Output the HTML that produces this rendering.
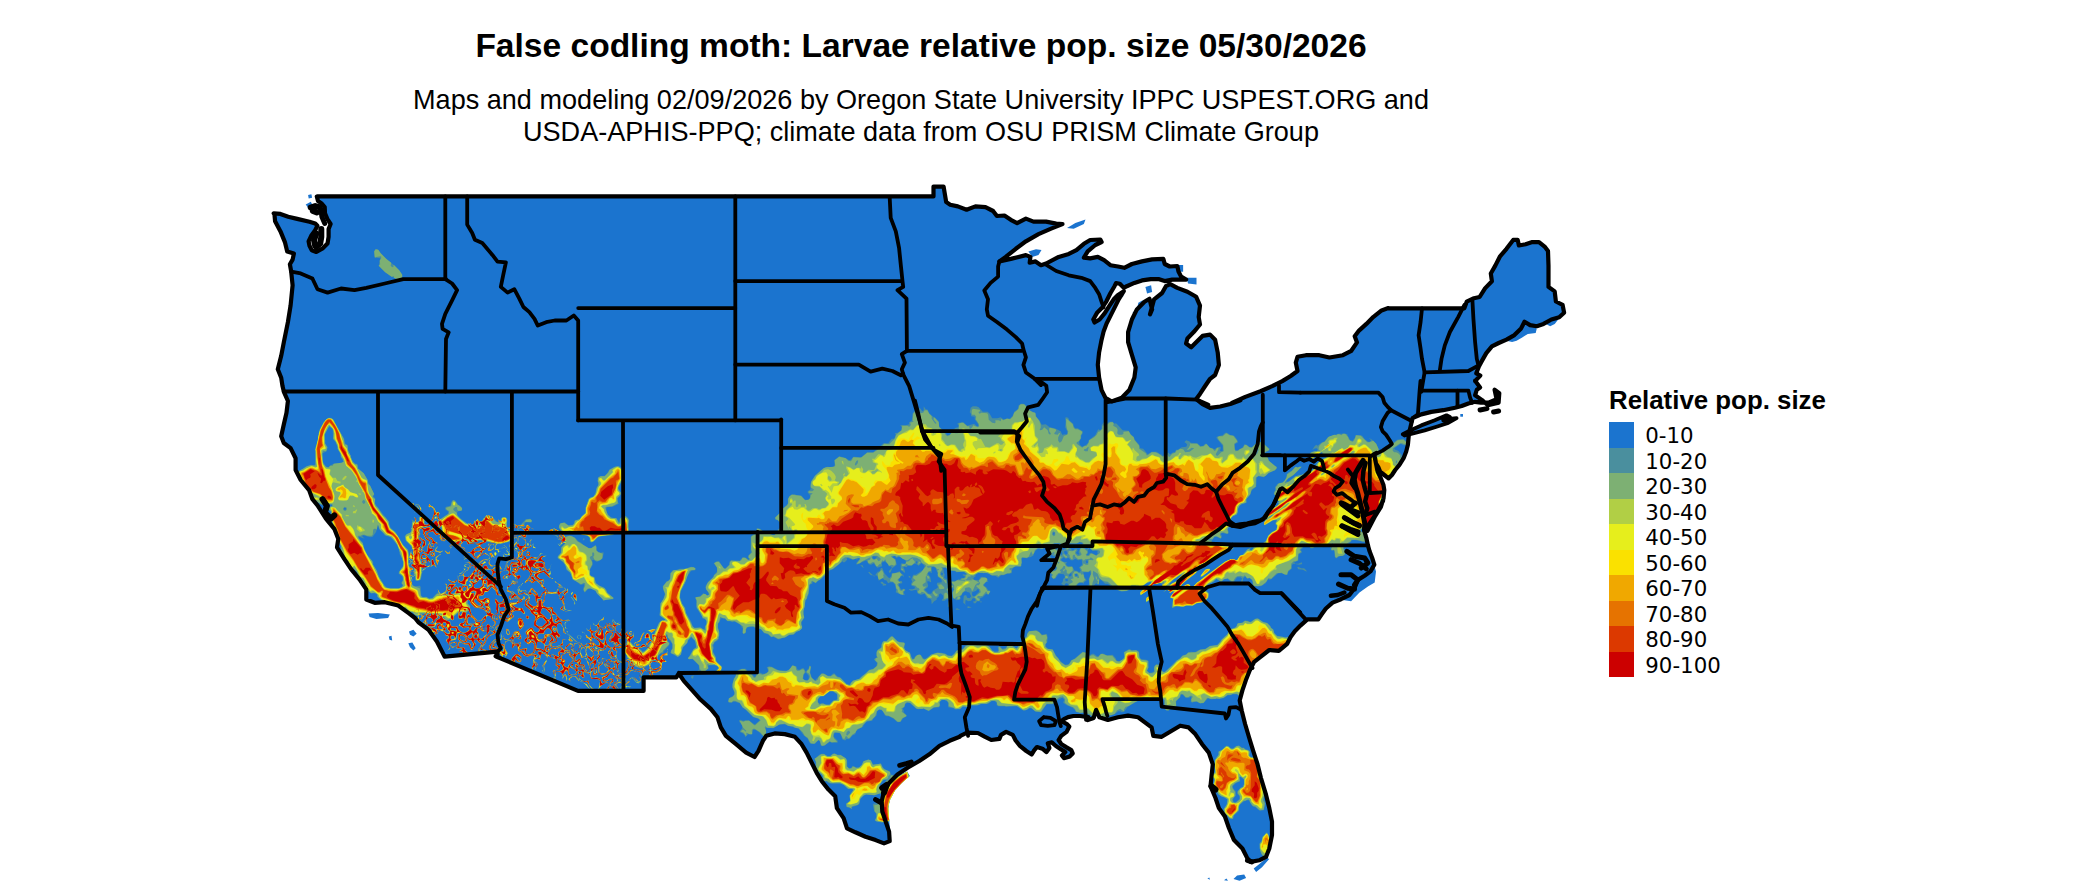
<!DOCTYPE html>
<html lang="en"><head><meta charset="utf-8"><title>False codling moth: Larvae relative pop. size</title>
<style>
html,body{margin:0;padding:0;background:#fff}
body{width:2100px;height:892px;position:relative;overflow:hidden;font-family:"Liberation Sans",Arial,sans-serif;color:#000}
.t{position:absolute;left:0;width:1842px;text-align:center;white-space:nowrap}
#title{top:27px;font-size:33.55px;font-weight:bold;line-height:38px}
#sub{top:84px;font-size:27.09px;line-height:31.5px}
#lt{position:absolute;left:1609px;top:386px;font-size:25.85px;font-weight:bold;line-height:28px;white-space:nowrap}
.sw{position:absolute;left:1609px;width:25px;height:25.6px}
.lb{position:absolute;left:1645.3px;margin-top:1.4px;height:25.5px;line-height:25.5px;font-size:21.3px;font-family:"DejaVu Sans","Liberation Sans",sans-serif;white-space:nowrap}
</style></head><body>
<div class="t" id="title">False codling moth: Larvae relative pop. size 05/30/2026</div>
<div class="t" id="sub">Maps and modeling 02/09/2026 by Oregon State University IPPC USPEST.ORG and<br>USDA-APHIS-PPQ; climate data from OSU PRISM Climate Group</div>
<svg width="2100" height="892" viewBox="0 0 2100 892" style="position:absolute;left:0;top:0">
<g transform="translate(0.2,0.8)"><polygon points="317.3,195.6 933.3,195.6 933.3,185.8 943.4,185.8 946,201.3 950,203.9 957.6,205.6 966.4,208.9 975.2,205.6 985.3,206.4 992.9,210.2 996.7,215.2 1004.2,214.7 1010.6,219 1016.9,222.3 1025.7,217.8 1033.3,220.8 1045.9,220.8 1056,222.8 1062.3,223.3 1050.9,227.8 1038.3,233.4 1025.7,240.5 1015.6,248 1005.5,256.1 999.2,260.6 1010.6,258.1 1025.7,254.3 1030.2,256.1 1029.5,261.9 1035.3,260.6 1040.8,264.4 1045.9,262.7 1058.5,256.1 1068.6,253.1 1076.2,249.3 1083.7,243 1090,239.2 1100.1,238.7 1101.4,241.2 1095.1,244.2 1087.5,250.6 1083.7,256.9 1090,257.6 1097.6,256.1 1103.9,259.4 1110.2,264.4 1117.8,265.7 1124.1,267 1131.7,263.2 1141.8,260.6 1151.9,258.6 1163.2,258.1 1164.5,263.2 1169.5,265.7 1177.1,265.2 1178.3,270.7 1180.9,275.8 1185.9,278.8 1172,278.8 1164.5,280.3 1158.2,278.3 1150.6,278.3 1141.8,279.6 1134.2,282.1 1126.6,285.4 1123.6,287.1 1119.6,282.9 1115.8,282.3 1114.3,285.4 1110.2,292.4 1106.2,300.5 1102.1,306.6 1097.1,311.6 1093.1,318.7 1094.3,321.7 1099.4,318.7 1104.4,312.6 1109.5,304.6 1113.5,298.5 1117.5,294.5 1123.6,290.4 1118.5,298.5 1114.5,306.6 1110.5,314.6 1106.4,322.7 1103.4,330.8 1101.4,338.9 1098.9,351.5 1097.6,364.1 1098.9,376.7 1101.4,389.3 1105.2,396.9 1111.5,400.7 1121.6,396.9 1129.1,389.3 1134.2,376.7 1135.5,366.6 1131.7,354 1127.9,341.4 1127.9,331.3 1131.7,318.7 1136.7,308.6 1144.3,301 1149.3,298 1151.9,308.6 1149.8,313.6 1153.9,298.5 1161.9,292.2 1165.7,285.4 1170,283.4 1177.1,287.1 1187.2,290.9 1196,296 1199.8,304.8 1198.5,316.2 1199.8,323.7 1193.5,331.3 1187.2,337.6 1185.9,342.7 1191,346.4 1196,341.4 1202.3,335.1 1209.9,333.8 1214.9,338.9 1217.5,351.5 1218.7,364.1 1214.9,374.2 1209.9,378 1204.8,385.5 1199.8,393.1 1196,398.2 1202.3,403.2 1209.9,407 1220,405.7 1230.1,403.2 1240.2,399.4 1231.7,402.1 1245.1,396.1 1260.3,390.4 1272,385.3 1282.1,380.3 1290.5,375.2 1297.3,370.2 1295.6,361.8 1297.3,356 1305.7,354.4 1319.1,354.4 1329.2,356.7 1342.7,354.4 1351.1,350 1356.8,341.6 1354.5,335.5 1358.8,329.8 1366.2,323.1 1373,316.3 1381.4,309.6 1388.1,307.3 1389.1,307.6 1464.1,307.6 1466.5,300.9 1473.8,297.4 1479.4,296.2 1485,287.3 1491.7,280.5 1490.6,272.7 1495.1,264.8 1499.6,255.9 1506.3,248 1513,239.1 1517.5,239.1 1518.7,244.7 1525.4,243.5 1532.1,241.3 1538.8,241.3 1544.4,245.8 1547.8,250.3 1548.3,264.8 1548.3,286.1 1554.5,290.6 1555.7,300.7 1562.4,304.1 1563.9,311.9 1559,316.4 1551.2,318.7 1543.3,323.1 1536.6,325.4 1529.9,324.3 1524.3,320.9 1520.9,327.6 1514.2,334.3 1506.3,338.8 1498.5,342.2 1491.7,345.6 1486.1,352.3 1481.7,360.1 1478.7,365.7 1476.1,372.5 1480.1,374.7 1474.9,380.3 1474.9,379.9 1479.9,386.7 1476.6,389 1474.9,394.4 1481.6,399.1 1487.7,404.5 1498.4,401.8 1499.1,392.4 1494.4,389 1496.4,398.4 1488.3,401.8 1480.8,401.9 1474.9,401 1468.2,402.7 1461.5,405.2 1454.8,406.9 1443,409.4 1431.2,411.1 1421.1,413.6 1412.4,417.3 1409.3,430.5 1408.5,435.5 1407.7,443.9 1406,450.6 1403.4,457.4 1399.2,464.1 1395,469.2 1391.7,474.2 1388.3,477.6 1384.1,474.2 1379.9,470.8 1378.2,466.6 1375.7,462.4 1374.9,457.4 1374,454 1375.7,462.4 1377.4,470.8 1380.7,477.6 1383.3,484.3 1384.1,489.3 1383.3,497.7 1380.7,506.2 1376.5,512.9 1372.3,519.6 1369,526.3 1367.3,530 1382.9,500 1379.5,506.7 1374.5,515.1 1367.7,525.2 1364.4,531.1 1366.1,537 1367.7,544.6 1369.4,550.5 1372,557.2 1374.1,563.9 1370.3,570.6 1364.4,574.9 1357.7,579.1 1354.3,587.5 1349.2,594.2 1340.8,598.4 1332.4,601.8 1325.7,607.7 1321.5,613.5 1318.1,618.6 1307.2,618.6 1300.5,624.5 1294.6,630.4 1290.4,636.2 1287,643 1278.6,650 1269.1,649.2 1260.7,655.9 1254,661 1249.6,669.4 1245.6,679.5 1242.2,689.6 1239.5,699.7 1239.5,699.7 1241.5,709.7 1244.9,723.2 1248.9,736.7 1253,750.1 1257.4,763.6 1260.7,777 1265.8,793.9 1269.1,807.3 1271.8,820.8 1271.8,834.2 1269.1,847.7 1265.8,856.1 1259,859.5 1250.6,861.1 1247.3,857.8 1242.2,847.7 1233.8,839.3 1228.8,827.5 1224.7,815.7 1218.7,807.3 1215.3,797.2 1210.3,785.4 1211.3,775.3 1212.6,763.6 1208.6,751.8 1201.9,743.4 1195.1,733.3 1188.4,726.6 1180,724.9 1171.6,729.9 1161.5,736 1153.1,735 1151.4,726.6 1144.7,721.5 1137.9,716.5 1127.8,714.8 1117.7,716.5 1107.7,719.2 1099.2,716.5 1095.9,709.1 1093.5,717.1 1087.5,719.2 1087.9,716.3 1079.9,715.2 1073.2,715.2 1067.8,716.3 1063.7,718.3 1061,720.3 1066.4,723 1069.1,725.7 1066.4,731.1 1061,735.1 1058.4,739.2 1061,743.2 1066.4,746.6 1071.1,749.3 1072.5,752.6 1069.1,756 1063.7,757.3 1061.7,754.6 1065.1,751.3 1061,748.6 1055.7,745.2 1051.6,741.6 1047.6,742.5 1049.2,747.2 1046.3,751.3 1042.2,747.9 1036.8,746.2 1034.1,749.3 1031.5,753.7 1026.1,750.2 1019.4,744.8 1015.3,739.4 1012.6,734.1 1005.9,731.1 1000.8,734.1 999.2,738.1 991.1,739.2 984.4,735.8 977.7,732.2 966.9,731.9 960.2,735.1 959.5,736 949.4,740 939.3,745.1 929.2,753.5 919.1,760.2 907.4,766.9 897.3,773.7 888.9,782.1 883.8,790.5 881.5,800.6 882.1,810.7 885.5,820.8 888.9,830.9 889.5,840.3 883.8,842.6 875.4,839.3 865.3,835.9 855.2,831.5 846.8,827.5 843.4,817.4 836.7,807.3 835,795.5 828.3,788.8 821.6,780.4 816.5,772 811.5,761.9 806.4,751.8 801.4,743.4 794.7,736 784.6,733.3 774.5,732.6 766.1,735 762.7,740 758.3,750.1 754.3,756.2 745.9,751.8 735.8,743.4 725.7,735 720.6,726.6 717.3,716.5 710.6,708.1 700.5,699 692.1,689.6 683.6,680.1 678.6,672.7 678.8,672.2 676.1,676.6 643.4,676.6 643.4,690.1 623.3,690.1 577.8,690.1 495.4,655.4 497.3,656.5 497.3,650.8 444.4,655.9 444.4,655.9 442.4,651.8 436.7,640.7 428.3,628.9 418.2,621.5 414.8,617.2 408.1,612.1 398,604.7 384.6,601.4 374.5,602 366.1,598.7 366.1,588.6 359.3,578.5 350.9,568.4 344.2,558.3 336.8,546.5 338.1,538.1 334.1,528 325.7,517.9 317.3,504.5 312.2,498.4 308.9,489.3 300.5,479.2 295.4,469.2 295.4,457.4 290.4,447.3 283.6,442.2 281,435.5 283.6,423.7 286.3,412 287.7,400.2 283.6,390.8 283.6,390.7 282.3,385.3 281,376.9 277.6,368.5 281,355 283.6,341.6 287.7,321.4 290.4,304.6 292.4,284.4 291,270.9 289.7,263.5 292.4,258.8 293.7,252.8 287,250.7 284.7,241.3 280.3,230.6 274.9,220.5 274.2,213.1 273.5,212.5 280.2,213.1 288,215.9 297,218.1 309.3,220.9 315,222.6 317.2,224.9 315,229.3 311,235 308.4,240.6 309.3,245 311.6,249.5 316.1,251.2 322.8,247.3 327.3,242.8 328.4,236.1 328.4,228.2 330.4,223.2 327.1,218.1 324.8,212.5 324.5,206.4 321.1,202.4 317.8,200.2 316.6,195.7" fill="#1b74cf" stroke="none"/>
<polygon points="1402.6,433.5 1411,429.1 1421.1,424.6 1434.6,419.5 1446.3,414.5 1449.7,416.2 1443,419.5 1451.4,417.8 1456.4,417.3 1448,422.1 1437.9,425.4 1424.5,429.6 1411,433 1404.3,434.7" fill="#1b74cf"/>
<polygon points="1233.3,878.3 1236.9,874.8 1244,873.6 1245.9,877.1 1239.3,880" fill="#1b74cf"/>
<polygon points="1223.8,879.5 1226.2,877.6 1227.9,880" fill="#1b74cf"/>
<polygon points="1207.2,877.6 1209.1,876.7 1209.8,879" fill="#1b74cf"/>
<polygon points="1253.5,867.6 1259.5,862.9 1266.6,857 1269,858.1 1261.8,866.5 1255.9,871.2" fill="#1b74cf"/>
<polygon points="1373.8,563.6 1375.8,570.6 1374.5,581.6 1367.7,585.8 1359.3,591.7 1350.9,600.4 1340.8,598.9 1349.2,594.2 1354.3,587.5 1357.7,579.1 1364.4,574.9 1370.3,570.6" fill="#1b74cf"/>
<polygon points="1520.9,327.6 1525.4,323.1 1532.1,325.4 1536.6,327.6 1535.5,332.1 1527.6,333.2 1522,336.6 1516.4,340 1511.9,341.1 1506.3,340 1514.2,334.3" fill="#1b74cf"/>
<polygon points="1545.6,323.1 1554.5,318.7 1559,317.5 1554.5,323.1 1550,325.4" fill="#1b74cf"/>
<polygon points="1066.8,227.2 1075.2,222.1 1085.3,218.8 1083.6,223.2 1073.5,227.9" fill="#1b74cf"/>
<polygon points="1145.2,286.1 1150.9,284.4 1151.9,291.1 1146.9,292.8" fill="#1b74cf"/>
<polygon points="1138.1,301.9 1142.5,299.5 1141.5,307.3 1136.8,308.6" fill="#1b74cf"/>
<polygon points="1132.4,311.3 1135.8,310.6 1134.1,315.3" fill="#1b74cf"/>
<polygon points="1108.9,302.9 1117.3,297.2 1122.3,292.8 1123.3,295.1 1115.6,301.9 1110.6,305.2" fill="#1b74cf"/>
<polygon points="1174.5,264.2 1182.9,264.2 1182.9,270.9 1176.2,270.9" fill="#1b74cf"/>
<polygon points="1186.2,277 1196.3,277 1196.3,283.7 1187.9,282.7" fill="#1b74cf"/>
<polygon points="1028.2,250.6 1035.8,248.5 1041.3,249.3 1038.3,254.3 1032,256.1" fill="#1b74cf"/>
<polygon points="368.4,612.8 377.8,612.1 389.6,613.8 387.9,617.2 376.2,618.2 369.4,616.2" fill="#1b74cf"/>
<polygon points="388.6,635.7 391.3,635 392,639.7 389.3,639" fill="#1b74cf"/>
<polygon points="408.8,630.6 413.2,628.9 416.5,633 413.2,635.7 409.8,634" fill="#1b74cf"/>
<polygon points="408.1,642.4 412.2,641.7 415.5,647.5 413.2,649.8 409.8,646.4" fill="#1b74cf"/>
<polygon points="1460.1,413.2 1462.8,413.2 1462.8,415.9 1460.1,415.9" fill="#1b74cf"/>
<polygon points="307.9,194.2 311.2,193.5 311.9,196.9 308.5,197.6" fill="#1b74cf"/>
<polygon points="305.5,203.6 310.6,201 312.6,205 307.9,207" fill="#1b74cf"/>
<polygon points="906.8,770.8 899.5,774.4 892.2,780.3 885.6,789.7 882,801.4 881.3,811.6 883.5,823.3 887.1,832.7 890.3,832 889,820.3 887.8,808.7 889.3,799.9 893.7,791.2 899.5,784.2 904.6,779.3 909.7,775.2" fill="#1b74cf"/>
<g><path fill="#4a8f9e" fill-rule="evenodd" d="M1267 832l-1.5 0 -0.5 1.5 -3 3 -0.5 3.5 -2 2.5 0.5 8 1.5 3.5 2 2 1.5 0 1.5 -1 4.5 -15.5 -2 -2 -0.5 -3zM884.5 790l0.5 2 -1.5 3.5 -0.5 -2zM885.5 779l0.5 0.5 -1.5 2.5 0.5 6 -1.5 1.5 -3.5 -4.5 0 -2 3 -3.5zM1240.5 776l3 2.5 0.5 4.5 -1.5 2 0 1.5 -2 0.5 -3.5 4 0 2 2 2 0.5 3 -4 3.5 -1.5 0 -1 -1 0 -2.5 2.5 -3 0 -4.5 -2.5 -3 -0.5 -2 3.5 -3.5 3.5 -1 0.5 -1 -0.5 -3.5zM814 758l1.5 3 0 4.5 1 4 5 4.5 1 1.5 0 2.5 1 2 2.5 0.5 2.5 2 11 0 4.5 2 3.5 3.5 1.5 0.5 1.5 -0.5 2.5 1 -4 6.5 1 4 -4 3.5 0.5 3.5 3 0.5 2.5 1.5 -0.5 -1.5 1 -1 4 -1 2.5 -1.5 1.5 -6 2 -2 3 -1.5 9.5 0.5 3.5 -1.5 2 0 0.5 0.5 -0.5 6 -1.5 0.5 -2 2.5 -3 0 -1.5 1.5 1.5 6.5 2 2.5 0 3.5 -1.5 3.5 5.5 1.5 9 -0.5 -1 -13.5 1.5 -8 5.5 -10.5 6.5 -7 7.5 -6.5 -2 -4.5 -7.5 3.5 -6.5 5 -6.5 8.5 -0.5 -1 2.5 -4.5 7 -7 -2.5 -1.5 -2 0 -1.5 -3.5 -5 -2 -2 -2 -1.5 -3.5 -1 -0.5 -2.5 1 -4.5 0.5 -2 -4 -2.5 -1.5 -5.5 2 -1.5 3.5 -2.5 2.5 -2.5 0.5 -4 -2 -2 2.5 -2 0 -1.5 -1.5 0 -6 -1 -2 -5.5 -4 -3 0 -3.5 -1.5 -1.5 0.5 -2 2 -2.5 0.5 -4.5 -2.5 -2 0 -2.5 1 -3 3zM1225 745.5l-2.5 3 -4.5 2.5 0.5 2.5 -3.5 5 -0.5 3.5 0.5 9.5 -3.5 2.5 0 2 2.5 2.5 0 3 -2 4.5 5 4 0.5 3 1 1 8.5 4.5 0 3 -1 3.5 -2.5 3 0 3 1.5 3 1.5 0.5 2.5 3 2.5 1 1.5 -0.5 0.5 -3 5 -4.5 0.5 -5.5 1 -1.5 3 -2.5 3.5 -1.5 2 0 3 5 1.5 1.5 2.5 0.5 2.5 2.5 2 1 3.5 -0.5 1.5 -6 0 -2.5 -1.5 -2.5 2 -6.5 -3 -7.5 0 -2 -2 -5 -3 -14.5 -3 -8 -2 1.5 -1.5 0 -2 -2 0.5 -4 -2 -1.5 -2.5 -0.5 -1.5 -1.5 -2 0 -2 -2 -3 0 -4 3 -2 -0.5 -3 -2.5zM837 693.5l0.5 1.5 -0.5 3.5 -4 1.5 -4 4 -2.5 0 -4 -1.5 -3 0.5 -2 -2 0.5 -3 1.5 -2 4 -0.5 3 -3 3.5 -2 2.5 0zM693.5 674.5l-2.5 1 0 1.5 1 1 1 -0.5zM805.5 671.5l3 3.5 0 3 -1.5 1.5 -2 0 -2 -1.5 0.5 -4zM1290.5 636l-6.5 0.5 -6.5 -1 -2.5 -2 -1.5 -2.5 -0.5 -2.5 -2 -1.5 -1 -2 -3 -3 -4.5 -1 -5 -3.5 -3.5 1 -3 2.5 -2 0 -1.5 -1 -3.5 0 -2 2 -4.5 0.5 -2 4 -5.5 2 -2.5 4.5 -6 5.5 -4 5.5 -7.5 1 -4.5 3 -6.5 1 -4.5 2.5 -3.5 -0.5 -3 0.5 -2 2 -4 1.5 -2 2.5 -4 2.5 -11 11 -2 0 -1 -1 -0.5 -2.5 -2 -3 -3.5 -1 -2 2.5 0 4.5 -3 1.5 -2 0 -2 -2 1.5 -3.5 0 -6 -2.5 -1.5 -5 -0.5 -1.5 -1.5 -0.5 -5.5 -1 -1.5 -6.5 -0.5 -1.5 -1 -1.5 0 -5 3 0.5 5 -2 2.5 -3 1.5 -2.5 -0.5 -1 -2.5 -3 -3.5 -6 0.5 -3 -1.5 -3 0 -2.5 2.5 -1 0 -3.5 -2.5 -1.5 0 -2.5 1.5 -1.5 -2 -5.5 -1.5 -9 7.5 -2.5 1 -2.5 4 -3.5 0.5 -3 -2 -5.5 -6 -4 -7.5 -4.5 -0.5 -2.5 -2 0 -2.5 1.5 -2 0.5 -4 -0.5 -3.5 -1 -1 -4 1 -4.5 -4 -2 -0.5 -7 1 -1.5 2 -0.5 3 -4 3.5 -1 2.5 -5 6 -1 0 -4.5 -3.5 -5 -0.5 0.5 2.5 -1.5 1.5 -3 0.5 -2 -2.5 -1.5 0 -1 1 0.5 4 -3.5 0.5 -2 -1 -3 -4 -2 -1.5 -11.5 -0.5 -1.5 -1 -4 0 -5.5 2 -1.5 2.5 -1.5 1 -3 0 -3 1.5 -2 3 -2.5 2 -4 -0.5 -2 -1.5 -2.5 0 -1.5 -1 -5.5 0 -5.5 2 -5 4 -2 0 -3 -4 -2 -0.5 -3 1.5 -2.5 3.5 -1.5 -1.5 -1.5 -5 -3.5 -1.5 -1.5 -1.5 -1 -2 1 -4.5 -1.5 -1 -3 0 -3 -1 -5.5 -5.5 -2 1 -4 4.5 -3 0 -1.5 2.5 -0.5 3.5 -4 3 -1 3.5 0.5 3.5 -3 2 3.5 4 -1 3 -3 2.5 -4 1 -3.5 4 -3.5 2 -3 3 -6.5 2 -3 4 -3.5 -1 -5.5 -6 -3.5 -1.5 -3 -3 -1.5 0.5 -2 2 -3 0 -3 -2 -3 -0.5 -6.5 7 -2.5 -1.5 -1 -1.5 -1.5 -5 1 -5.5 -1 -1 -1 0 -0.5 2.5 -3 3.5 -2 -3.5 -1.5 0 -2.5 1.5 -2 0 -1.5 -3.5 -4 -1 -1.5 3 -3.5 2.5 -8.5 -0.5 -7 -3.5 -2.5 -0.5 -2.5 1 1.5 3 0 1 -1.5 1.5 -2 1 -2.5 0 -1.5 -1 -3 0 -2 -1 -0.5 1 1 2 -1 2 -1 0 -3 -4 -2 0 -3.5 -4 -4 0 -4 1.5 -2 2 0 4 -2 2.5 -1.5 6 0 2.5 2 5 0 2 -1 1.5 -4.5 2.5 -0.5 4 3.5 0.5 1.5 -1 2 0 4.5 1.5 3 4.5 2.5 1.5 8 8 5 1.5 1.5 1.5 -4.5 4 -1 0 -5.5 -4 -6 0.5 -2 -1 -1.5 0.5 0 1.5 3 3.5 0 3 -2.5 3 0.5 1 2.5 1 2 2 0.5 2 3 -3 4 0 1 -4.5 2 0 4 2.5 4.5 4.5 2 0 0.5 -1 -0.5 -7.5 0.5 -0.5 7 0.5 6 -3.5 6 -0.5 2.5 1.5 11 3 5 6.5 4 3.5 1.5 3.5 1.5 1.5 4.5 0 3 -3.5 1.5 1 1 4 2 1 2.5 -1 4.5 -3.5 2 1 5.5 0 0.5 -0.5 0 -1.5 -4 -4 0 -2.5 1.5 -1.5 4 0 2 2.5 1 4 2 1 1.5 0 1 -1.5 1.5 0.5 1.5 -0.5 3 -3.5 2.5 -1 1 -3 2 -2 5 -2.5 0 -1 3 -4 6 -1 1 -2 3.5 -3.5 0.5 -4 2 -1.5 2.5 0.5 1.5 1.5 1.5 3.5 2 1 2 0 5 2.5 3 3 1.5 0.5 2.5 -0.5 2.5 -3.5 3.5 -2 0 -1 -3 -3 0 -2 -1 -1.5 2 -2 0.5 -2.5 2.5 -2 2 0.5 6.5 6 2 0.5 5.5 -0.5 5 2.5 5 -3.5 5.5 -0.5 1 -1.5 -0.5 -3.5 1 -1.5 2 -1 1.5 0 3 1.5 1 2 0 4 5.5 1 1 1 5.5 0 3 -3 4 1 5 -2 6 0 4 -1.5 6 0 3 -2.5 3 -0.5 2.5 2 0 2.5 1.5 1 7.5 0 0.5 0.5 10.5 -0.5 6 4 3 0 3.5 -2 2 0 4.5 3.5 5.5 0.5 5.5 -8 6 0 2 -1.5 1.5 1.5 1 -3.5 1.5 -1.5 3.5 -1.5 2 1.5 -1 3.5 3.5 2.5 6 2.5 2 2 0.5 1.5 1.5 1 2 0 1.5 1 3.5 -0.5 2 1.5 1 -0.5 5.5 2.5 2 0 2 -6 3 7 5.5 1 4 -2.5 6 -1.5 3.5 -3 2 0 1.5 1 2.5 -0.5 3.5 -5 11.5 -6.5 3 -0.5 1 -1 5 0.5 13.5 0 1 -0.5 1.5 1 0.5 9 1.5 1.5 2 0.5 4 -3 4 -1.5 0 -5 4 -4 1 -2.5 1.5 0 3 3 3.5 0 1.5 -1 0.5 0.5 -0.5 4.5 1.5 1 2 -1 2.5 0 3 1.5 3.5 0 5 -5 3 1 12 -1 4.5 -3 2.5 0 2.5 -1 4.5 0 3 3 5.5 -17.5 8 -17.5 15.5 -12.5 9.5 1 8.5 -7zM955.5 608l0 1 4.5 0 -3 -1.5zM967 606l0.5 1.5 4 -1 -3.5 -1zM951 600l-2 0 -1 1 -0.5 5 1.5 0 2.5 -2.5 0.5 -2.5zM1150 594.5l-3.5 2 -0.5 5 4.5 -3zM978.5 588.5l0.5 2.5 -4 4 -2 0.5 -1 -1 0 -3 4 -1.5 1 -1.5zM880.5 581l0 1.5 2 1 0 1.5 3.5 -0.5 0 -1 -2.5 -1 -1 -1.5zM1065 578.5l2 -0.5 1 1.5 -1 1 -1.5 0zM1180.5 575l-5.5 6 -5 2.5 -1 -0.5 3.5 -3.5 7 -5zM908.5 575l0 1.5 1.5 0.5 0.5 -0.5 -0.5 -1zM1074.5 573.5l2 -0.5 1 2 -2 0.5zM1071 572l0.5 2.5 -2 1.5 -1 -1.5zM941.5 571.5l1.5 1.5 -1 1.5 -1.5 -1zM1210 568l-3 0 -3 1.5 -4 6 1 1 8 -6zM942.5 567.5l3 -0.5 3.5 3.5 2.5 -0.5 3.5 0.5 1 1 7.5 -0.5 3.5 2.5 -0.5 0.5 -4 -0.5 0 1 2 1 0 1 -1.5 1 -1.5 -0.5 -2 2 -1 -0.5 -4 2 -3.5 0 1 3.5 -1.5 0.5 -3.5 -2.5 0 -3 -3 -2 0.5 -3.5 -1 -1.5 0 -3zM868 571.5l2.5 3 2 0 1.5 1.5 1 -1.5 1 0 1.5 1.5 1 4 4 -2.5 2 2 1.5 0 2 3 2 -1 2.5 0 2 2 1.5 5.5 -0.5 2.5 3 1.5 6 1.5 -1 -3.5 1.5 -1 0 -1.5 -2 -0.5 -2 1 -2.5 -4.5 0.5 -1.5 3 -0.5 0 -1.5 -1 -1 -2 0.5 -0.5 -2 3 -3.5 1 0 1.5 1.5 -1 -2.5 -2.5 -1.5 -1 -2 -4 1.5 -4 0.5 -0.5 3 -2 2 -4.5 -4.5 -2.5 -6 -1.5 0.5 -1 3 -2 0.5 -3 4 -1 0 -4.5 -4zM933.5 566l2 1.5 2 5.5 0 3 3 2 1 1.5 0 2 -4.5 0.5 -0.5 2 1 1.5 0 1.5 -5 3 -1.5 3 -2.5 0 -4 -4 3 -2.5 0.5 -1.5 -1 -4 0.5 -0.5 1.5 0 1 1 1 -0.5 -1 -5 -2.5 -3 1 -1.5 1.5 0 1.5 1 0 -6zM1297 566.5l1 2 4.5 0.5 4 2 -0.5 -1.5 -2 -2 -3 0 -3 -1.5zM860 564.5l3.5 3 -1 -3zM916 560.5l1.5 0.5 -1 2 -1 -0.5zM1087 559l1 3 -2 0.5 -0.5 -2zM1061 558.5l2.5 -2 2 1.5 3 -1 2 2.5 2.5 0 2 -1.5 3 1.5 3.5 -0.5 0.5 5 -3 2.5 1.5 3.5 -1.5 1.5 -2.5 -1.5 -2 0 -2.5 -4.5 -4.5 0 -1.5 -1.5 0 -1.5 1 -1 -4 -0.5 -2 -1.5zM872 556.5l1 -1 4 0.5 -2.5 2.5 -1 0zM1050.5 554.5l1 -0.5 1 1 3 1 -0.5 2 -2 1 -3 -3zM1061 551l1 1 0 1.5 -1 1 -1 -1.5zM1064 550.5l2 -0.5 1.5 2.5 -1.5 1.5 -1 -0.5 -1 -1.5zM1086.5 554l1.5 -2 -0.5 -2.5 2 -2.5 3 3 3 -0.5 2.5 0.5 -1 1 0.5 2 -1.5 1.5 -5 -2.5 -1.5 0.5 -1.5 2zM1253.5 547l-1.5 2 -1 0.5 -1.5 -0.5 1 -2 1 -0.5zM1084.5 547l1.5 -1.5 2 0 1 1 -2 2 -1 0zM1071 544l0 1 2 2 1 0 -1 -3zM1052.5 544l2.5 -1.5 5 0.5 2 1 3 -0.5 0.5 3.5 -2 2 -3.5 -0.5 -1 -1 -1.5 0 -1 1 -3.5 -2.5zM1079.5 553.5l-1.5 0.5 -2 -1.5 0 -1 1.5 -1.5 -1 -2 -2 0 -1 1.5 -1.5 0 -2 -2 0 -1.5 -2 -0.5 -1 -1.5 -1.5 -0.5 2.5 -1 8 0.5 3 -1.5 2.5 0.5 1 1 -4 7.5 0 1.5zM583 537.5l-0.5 2 1.5 0 0.5 -1.5zM562 537l0 1.5 3 2.5 0 1.5 -4 4 -0.5 6 -3 3 0 2 5.5 4 2 3 1.5 5 4 3 2 6.5 4 2 3.5 3 3.5 -0.5 0.5 0.5 -1 4.5 1 3 1 0 3 -3.5 3 0 4 2 1.5 2.5 5 4.5 1.5 3 3.5 -1 6.5 -0.5 0.5 -1.5 -6 -4.5 -1.5 -3.5 -2.5 -2.5 -4 -1.5 -4 -3 -1 -5 -1.5 -1.5 -2 0 -1.5 -2 0.5 -5 2.5 -4.5 -0.5 -4.5 1 -0.5 3.5 2 3 -1 3 -2.5 1 -5.5 -0.5 -0.5 -2.5 0.5 -2.5 -1 -1.5 -1.5 0 -3 -1 -2.5 -4 3 -2.5 0.5 -6 -3.5 -2 -2 -3 -1.5 -2.5 -3 -4.5 -2.5 -3.5 0zM1053.5 531.5l1 0.5 -0.5 2 -1.5 -0.5zM377.5 524.5l2 4.5 3.5 3 1.5 2.5 6 2 6 7 2.5 6 0.5 4 2 3 1.5 5 0 3.5 -4.5 6.5 0 1.5 4 3 0 3.5 -1.5 2.5 1.5 3 -2.5 2 -2 0.5 -11 -0.5 -2.5 -2 -5 -7.5 -2.5 -7 -4 -6.5 0 -2 -1 -2 -5 -6 -3 -6.5 -1.5 -5.5 -3 -3 -1 -2 0.5 -1 5.5 2 -2.5 -2.5 1 -1 7 2 2.5 -0.5 3.5 -5zM513.5 522l-1 0 -2.5 3 -0.5 1.5 0.5 2 3.5 -2 0.5 -1.5zM532 520l-2 -2 -4.5 0.5 -4.5 5 -1.5 1 -2 0 0 0.5 2.5 1 2.5 0 3 -4.5 6 0zM424 515.5l-4.5 0.5 -1 1 0.5 3 -1 1 -4 -0.5 -1.5 -1.5 -1.5 0 1 1 -1 10.5 -1.5 1.5 -3.5 1.5 -1.5 2 1.5 5 5 5 2 4.5 -1 11 1.5 4.5 0 7 1 2 1 5.5 3.5 0 1.5 -1 1 -4 0.5 -9.5 -1.5 -5.5 0 -4 -1 -3.5 0.5 -3.5 -2 -12.5 1.5 -3.5 0.5 -4.5 3.5 -1.5 1 -1.5 -0.5 -6 1 -2.5zM343.5 508l1 -1 1.5 0.5 -1 2zM439 519l0 1.5 2 4.5 1 7.5 4 6.5 2 1 5 1 13 -1 3.5 3 1.5 0 3 -3 5.5 -0.5 5 0.5 12 3 4.5 0 8 -2 2.5 -2.5 1.5 -5.5 -3 -1.5 -3.5 -6.5 0.5 -6.5 -1.5 -2 -3.5 0 -2.5 4.5 -2.5 0 -3.5 -3.5 -4 0 -1.5 -1 -3 0 -2 1 -0.5 2 -4.5 5.5 -12 -2.5 -8 -7 -1 -2 0 -2 1 -1 3.5 -0.5 0.5 -2.5 -2 -2.5 -1.5 -0.5 -4 -5 -2 0 -1 1 0 2 -1.5 2.5 -4 1 -1 1 0 1.5 3 2.5 0 2zM619 465.5l-4.5 0.5 -5.5 3 -2 3.5 -2.5 2.5 -5 0.5 -1.5 1 -0.5 1 0.5 7 -1.5 2 -1.5 6.5 -1.5 2.5 -5 2.5 -3 8.5 -0.5 6 -6 6 -4 1 -1 1 0 2 -2 2 -4 0 -3.5 -3 -4.5 1 -1 1.5 -0.5 3 3 4 10 0.5 4.5 1.5 3.5 0 2 1 6 1 2 1.5 0 4 1.5 1.5 4 -2.5 2 -2.5 3.5 -1.5 11.5 -1 5 -2.5 5 0 4.5 1 2 -1.5 0.5 -3.5 -1 -5.5 1 -2.5 -1 -2.5 -2 -2 -2 -0.5 -1.5 0.5 -3 2.5 -0.5 4 -2.5 -4.5 -5 -0.5 -3.5 -3 -1.5 -2.5 -0.5 -3 0.5 -2 6 -0.5 6 -3 -1 -2.5 0 -3 2.5 -2.5 0.5 -3.5 -2.5 -4 4.5 -9 0.5 -10zM329 425.5l3.5 3 0.5 10 2 2 2.5 6 0 2 2.5 4 0.5 3.5 3 5 -2 1 -8 1 -3 1.5 -2 2 -2.5 -0.5 -3 -4 -1 -7 0.5 -2.5 4 -2 1 -4 -2.5 -3.5 -0.5 -9zM326 418.5l-5 7 -1.5 3 -1.5 6 -0.5 5 -2.5 8.5 0.5 3.5 -0.5 12 -1 1 -2.5 -0.5 -5.5 1.5 -3 2.5 -6.5 3.5 3.5 7 8 9.5 1.5 3.5 2.5 2 -0.5 4 1.5 1.5 3.5 1.5 4.5 3.5 10 -0.5 1.5 1 -4.5 3 0 1 3 3 -0.5 6.5 3 7 1.5 6 3 6.5 0 2 3 6.5 -0.5 2 0.5 5.5 8 12.5 3 3.5 1.5 -1 3 2.5 2.5 6.5 3.5 2.5 1 2 -0.5 2 3 5 1.5 0.5 3 3 4.5 0 2 1.5 0 2 7.5 5.5 13.5 3 6 4.5 1.5 0 3 2 4.5 1 2.5 3 1.5 0 3 -2 16.5 0 1.5 0.5 1 1.5 4 1.5 2.5 3 2 0 3.5 -1.5 8 -7 5.5 1 2.5 -0.5 3 -4 0 -2.5 -2.5 -2.5 0 -5.5 -2.5 -3 -6 -2.5 -3.5 0 -6.5 2.5 -11.5 -1.5 -1.5 0.5 -4 4.5 -2.5 0.5 -4 -2 -2.5 0.5 -2 -1.5 -0.5 -9 -1 -1 -4 0.5 -2.5 -0.5 -1 -1 -2 -17 -1.5 -3.5 0.5 -8.5 -1 -5.5 -5.5 -6 -3 -6 -4.5 -6.5 -4.5 -3.5 -2.5 -7.5 -12.5 -16 -1 -2.5 0.5 -4 -2 -1.5 1 -2.5 -6.5 -13 0 -1.5 -4 -6.5 -5.5 -4.5 -0.5 -4 -1 -1 -1.5 0 -2.5 -2.5 -4.5 -11 -0.5 -5 -3 -2 -0.5 -4.5 -10 -17 -0.5 -2 -3.5 -2 -1.5 0zM1406.5 441l-3.5 -3 -6 1 -3 2.5 -4.5 1.5 -6.5 6 -4.5 2.5 -0.5 -0.5 0.5 -2.5 -2.5 -5.5 -4 -4 -3.5 -2 2.5 2.5 -1.5 1.5 -1.5 0 -3.5 -2.5 -2.5 -3.5 -1.5 -0.5 -5.5 0 0 2 -2.5 3.5 -2.5 -0.5 -3 -5.5 0.5 -0.5 -2.5 -0.5 -7 0 -10.5 3.5 -3 4 -3.5 1.5 -3.5 3 -1.5 -1 -2 2 -2 3.5 2 -1.5 2.5 -0.5 1 1 -0.5 2 -5 0.5 -2.5 2 0 1.5 2 2.5 0 1 2 -0.5 2.5 -2 2.5 0 0 -2 2.5 -2 3.5 4 2 0 0.5 0.5 -7.5 4 -3.5 4 -1.5 3.5 -5.5 4.5 -4 0 -3.5 2 -6.5 1.5 -7 5.5 -1.5 0 -0.5 -1 2.5 -2.5 4 -2.5 9 -9 -7 0.5 -3 3.5 -3 1.5 -2 2 -0.5 3.5 -1.5 2.5 -2 2 -5 1.5 -2.5 3 0 3 -1.5 4 2.5 3 1.5 3.5 1.5 1 -1.5 1.5 1 1.5 -5 3.5 -1.5 -0.5 1 -1 -0.5 -0.5 -1 0.5 -1.5 2 0.5 -0.5 1 0.5 -3 3 -4.5 2.5 1 6.5 -1 5 2 -0.5 7 -4.5 3 0 0.5 0.5 -1 1.5 0 2 1.5 1.5 -1 3.5 -1.5 1.5 -2.5 1 -4.5 4.5 -1.5 4 -3 3 -4.5 2.5 -3.5 0.5 -1 -1.5 -2.5 1 -3 3 -2 1 -1 2 -3 3 -2.5 1 -3 4.5 -7 -1 -5.5 2.5 -11.5 9 -11 7.5 -9 8 -2.5 0 -1.5 -2 -2.5 0 -5 2.5 -0.5 -2 13 -10 3 -3 0 -3.5 2 -3 1.5 0 2.5 -1.5 4.5 -0.5 5 -4 3 -1.5 5 -4.5 13 -4.5 -4.5 -3 -3.5 0 -4 -1 -4 -2 -3.5 0 -2 -1 -0.5 -1 3 -4 2 0 4 2 1 -1 0 -2 -1 -2 1.5 -1 3 1 3 0 0.5 -1.5 -1 -3.5 3.5 -4.5 0 -6 2 -2 3.5 -1.5 1 -2 0.5 -4.5 1.5 -2.5 3.5 -2.5 3.5 -0.5 -0.5 -3 1 -2 3 -3 1.5 -4.5 4.5 -3.5 0.5 -9.5 1.5 -1 5.5 1 5.5 -4.5 6 -2.5 1.5 -1.5 0 -2 -2.5 -1 -5 -5 -1.5 -3.5 -3 -2 -0.5 -1 0.5 -1.5 4 -2 1 -2 -4 -3 -2.5 -3 -5.5 -1 -5.5 5.5 -2.5 0 -3 -2.5 -2 -0.5 -2.5 3.5 -4.5 2.5 -2 0 -1 -2 0 -4 3.5 -2 -1 -2.5 -3 -4 -3.5 -0.5 -3.5 -2.5 -2 0 -2.5 2.5 -5 1 -1.5 1.5 6.5 8 0 5 -0.5 0.5 -2.5 -0.5 1 -2 0 -2 -3.5 0.5 -2.5 2 -5 -2 -3 -3.5 -1.5 0 -2 2 -2.5 0.5 -3.5 -3 -6.5 -0.5 -1.5 -1.5 -3 -1 -1.5 1.5 0 1 1 0 1.5 2 -1 2 -4.5 0.5 -4 2.5 -1.5 0 -1.5 2.5 -1.5 0 -3 2 -1 -0.5 0 -1 -1 0 -3 2.5 -3 0.5 -1 -1.5 -1 0 -3.5 -2.5 -5 0 -4 2.5 -4.5 -5.5 -3 -0.5 -1 -3.5 -4 -4.5 -1.5 -3.5 -3 -2.5 -2 -3.5 -6 -0.5 -6 -6.5 -1 -0.5 -1 0.5 -2 -2 -3.5 0 -3.5 3 -1.5 -0.5 0.5 -2 -1 0 -2 3 0 3.5 -1.5 1.5 -2 -1 -3 6 -6.5 5 -0.5 2.5 -2 2 -4 2 -2.5 -2 -0.5 -3 2 -3.5 0 -2.5 1.5 -2.5 0 -2 -5 -3 -2.5 0 -1.5 -2 -0.5 -2.5 -4 -3.5 -1 -2.5 -2 -0.5 -1 0.5 0.5 3.5 -0.5 6 2 4 0 2.5 -1 1 -1 -0.5 -3 0.5 -1.5 -3.5 -6 -3 -5 -1 -4 -3 -4 0.5 -2 -4 -3.5 -4 -0.5 -3.5 -6 -3 -3.5 -4.5 -3 -2 -2 0 -2.5 1.5 -1 4 -3.5 2.5 -1.5 4 -3 3 -2.5 -0.5 -2 1 -2 0 -2.5 -2 -3.5 1 -5 0 -2.5 -4.5 -2 -2 -5 0 -4 -4.5 -2.5 -1 -3.5 0 -2 1.5 -1 4.5 1 1 0.5 3 3.5 0.5 0 2.5 3.5 5 0 1.5 -0.5 0.5 -1.5 -0.5 -2 -2 -7 2 -4 -3.5 -4.5 0.5 -1.5 1 1.5 2 -0.5 1.5 -2.5 0.5 -2.5 2 -2 0 -0.5 0.5 1 1 -0.5 2 -1.5 1.5 -2.5 0.5 -2.5 -3.5 -5.5 -5 -0.5 -5.5 -4 -4 -1.5 -0.5 -4 -3.5 -1.5 -3.5 -2 -0.5 -2 -3 0 4 -1.5 1 -1.5 -2.5 -3.5 -1 -4.5 5.5 -1 7.5 -2.5 1.5 0 2 -3.5 1 -5.5 0 1.5 2 -0.5 3 -3.5 2.5 -3 0.5 1 1 -1 3.5 -1 1 -2 0 -3.5 4.5 -4.5 0 -10.5 9 -6 0 -6 5 -7.5 -0.5 -3 3 -1.5 0.5 -4 -2.5 -6 -1.5 -5 4 0.5 5 -1.5 1.5 -1.5 0.5 -4.5 -0.5 -4 1.5 -8 7 -4 6 -1 3.5 0.5 4.5 -3 2 0 1.5 2 2 0.5 1.5 -0.5 2 -1.5 1.5 -3.5 0 -3 -4 -5 -0.5 -2 -1 -2.5 0 -3 2 -1.5 3.5 0.5 2.5 -1 2.5 -5 4 -1.5 3.5 -5.5 5 0 2 2.5 1 2.5 3 -0.5 0.5 0.5 4 -2.5 2 -1 3 -2 2 -2.5 0 -3.5 -2 -3.5 -0.5 -6.5 -4 -2 0 -0.5 5 -3.5 1.5 -2 2 0 16 -2.5 3 0 2 1 1 -0.5 1 -3 -2 -3 -0.5 -3 3.5 -8.5 -0.5 -1.5 1 -0.5 3.5 -3.5 3.5 -2 0 -4.5 -7 -3.5 0.5 -2 1.5 3 4 0.5 4 -3.5 4 -0.5 2 -5 4.5 -2.5 4 0 3.5 2.5 3 0.5 2.5 -1.5 0.5 -4 -2 -3 3 -5 1 1.5 5 -0.5 1 0.5 5 5.5 8.5 0.5 2 1.5 0 2 1.5 0 4 -2 5.5 -4.5 -2.5 -5.5 0.5 -1.5 -1.5 -1.5 -4.5 -5 -8.5 -1 -5 -2.5 -3.5 -2.5 -6.5 0 -5.5 5.5 -11 1.5 -5.5 4 -5.5 4 -0.5 0.5 -2 -4 -1.5 -6.5 2 -5.5 0 -2 1 -5 0.5 -2.5 3 0 5.5 -2 2 -1.5 0.5 -4 5 0.5 4 1.5 2.5 0 2.5 -2 5 -2.5 3.5 -0.5 12 5.5 3.5 -1 1 -3 0.5 -2.5 2.5 -4 9 -1.5 6 -2 4 -1.5 1.5 -1 3 -3 3.5 -3 1.5 -1.5 -2 -6 -2.5 -5.5 -6.5 -3.5 -1 1 1.5 -0.5 4 -2.5 5 0 2 2.5 3 0.5 2.5 4.5 4 1.5 4 5.5 2 4.5 0 7 -3.5 2.5 -3.5 3.5 -0.5 2 -4.5 2 -2 3 -0.5 0.5 -2 5.5 -6 0.5 -2.5 -3 -2.5 -1 -2.5 1 -3 1 3 4.5 6 0 4.5 -2 4.5 7 4 1.5 0 2.5 -2.5 1.5 -6.5 4.5 -4.5 1 -3 3 -3 4 4 1 6 -2.5 1.5 -6 10 5 0.5 6 6 0.5 4 -3 3 -0.5 1.5 3.5 -3.5 2.5 3.5 7 -5.5 -0.5 -2 0.5 -1 6.5 0 2 1 1.5 1.5 -3 3 0 1 2.5 1.5 2.5 0 0 -2 1.5 -4 -1.5 -2 -3.5 -2.5 -1 -2 -0.5 -4 -3 -6 1 -2.5 -0.5 -3 1.5 -3 2.5 -1.5 1.5 -2 0.5 -8 -1.5 -4 0.5 -3 1.5 -2 1 -3.5 3.5 0 3.5 3 2.5 0 2 1 2 -1 6 3.5 1.5 2 0 1.5 0.5 -0.5 0.5 0.5 0 5 0.5 0.5 1.5 0 1 -1 0.5 -3.5 1.5 -2 5.5 -0.5 1.5 1 6 1.5 3.5 4 3.5 1 3.5 3 2 -0.5 4.5 2.5 2.5 0 1.5 -1 3 -0.5 5 -3 3.5 0 3.5 -3 3 -1 2.5 -3 -1 -5 3 -4.5 -0.5 -7.5 2 -10.5 1 -1 2 -5.5 1 -9 2.5 -1 0.5 -2 3 1.5 2.5 -2.5 3.5 -2 8.5 -8.5 3.5 -1.5 9 -7.5 0.5 1 1.5 0 2.5 -2.5 -0.5 -1.5 0.5 -0.5 5.5 2 3 -1 1.5 1 0.5 -1.5 1.5 0 0.5 0.5 -3.5 4.5 0.5 1.5 9.5 -4.5 2.5 4 2.5 0.5 2.5 -1.5 3.5 4.5 5 -1.5 -0.5 -3.5 3 -1.5 3 2.5 1 2.5 2 0 1 1 0 1 -3 3 0.5 1.5 1.5 -0.5 1.5 -4 4.5 -3.5 -1 -5.5 -3 -1.5 0 -1 2 -1 1.5 2 3.5 -1 6 4 0 2 -1 1 -3 -0.5 -1 1 0 6 1.5 0.5 2 2 1 -0.5 -1 -3.5 -1 -1 1 -1 2.5 0.5 1 -1.5 4 0 2.5 -2 1.5 0 3 2 2.5 -2.5 1 0 2.5 3 -2 4 -7 4.5 -2.5 0 -2 4.5 1 2.5 -1 1.5 0 2 1.5 1 1.5 0 1 2 -2.5 1 -3.5 0 -0.5 0.5 2.5 1 5.5 -1 0.5 3 1 1 2.5 1 4 -1 2.5 4.5 2 0 2 1.5 0.5 4.5 2.5 -3 2.5 -1.5 0 -1.5 2 -1.5 0.5 -2.5 1.5 -1 2.5 2.5 0 2.5 -1.5 2 0.5 0.5 2.5 0 2 -1.5 1.5 0 1 -1 -0.5 -5.5 1 -1 0 -2 1.5 -1.5 1.5 0 1 1 -1.5 3.5 0.5 4.5 1.5 2 0.5 -0.5 1.5 1.5 3.5 -0.5 1 -1 -0.5 -2.5 1.5 -1 0.5 -1.5 2 -2 2 -0.5 1.5 1 1.5 0 2 4 -1.5 2 -2.5 -0.5 -1 -2.5 -1.5 0 -1 1 -0.5 6.5 3 2.5 -1 -1.5 0.5 -4 2.5 1.5 3 -0.5 1.5 -2.5 2 0 1 2 -1 1 -1.5 0 0.5 2 2 0 1.5 -2 3 0 0.5 1.5 1.5 -1 -2 -0.5 0 -3 2.5 -1 3.5 -3.5 2 1 2 -3 0 -1 -2 -0.5 -1.5 -2.5 -3 -2.5 2 -3 1.5 -0.5 1.5 0.5 -1 -1 0 -2 -2.5 -2 -3.5 -0.5 -1.5 1 -1.5 2.5 -5 -0.5 -0.5 -0.5 0.5 -1.5 2.5 -2 -1.5 -0.5 4 -2.5 9 0.5 4.5 2.5 3 0 3 2 3 -2.5 2.5 0 3.5 -1.5 4.5 -0.5 0.5 -4 1 -1.5 3 -1.5 4 0.5 1.5 -1 -0.5 -1 0.5 -6 1 -1 4.5 0.5 1.5 -1 1.5 0 3 -1.5 1.5 -4 3 -3 5.5 0 3 -3 3.5 -1 0.5 0.5 -0.5 3 -2.5 0 -0.5 -1 -1 1 3.5 4.5 -1.5 1 -3 0.5 -0.5 2.5 3.5 0.5 0.5 0.5 -0.5 1.5 4 3.5 1 0 3.5 4.5 0 1.5 -1.5 1.5 -4 1 -0.5 1.5 1.5 2 -0.5 2 2 2 2 0 3.5 -5 5 0.5 1 1.5 0 2 -1.5 1 -0.5 3 -1.5 2 3 2 1.5 -2.5 1.5 0 1.5 1.5 -2 2 11 2.5 1.5 -2 -2 -1 0 -1.5 2 -2 3 0 1.5 1 0.5 -1.5 2.5 -2 -2.5 -3.5 0 -2 -1 -2 0.5 -0.5 5 0 1.5 -1 0.5 3 -2 4.5 0.5 6 -3.5 2 1.5 2.5 1.5 0 1 -1.5 2.5 0.5 1 1 1.5 -2 -1 -1.5 2.5 -2.5 2 1.5 0.5 -0.5 1 -5.5 5.5 5 2 0 2 1 3 4 3.5 0.5 4.5 2 5 0 3.5 -1 3.5 -2 2 0 2 1.5 1.5 0 9.5 -7 3.5 -1 0.5 0.5 -1.5 2.5 -5 3 -4.5 4 0.5 3.5 11 -7.5 1 -1 -1 -1.5 1 -1 9 -1 0.5 2.5 -2 3.5 4.5 -2 1.5 1 -0.5 1.5 -2.5 2 1 0 2.5 -2 2.5 0.5 1 1 -0.5 1 0.5 1 2.5 -2 1.5 0.5 -3.5 4.5 0 1.5 2.5 1 -1.5 7.5 0.5 1.5 1.5 0 2.5 -1.5 7.5 0.5 2.5 -1 5.5 0.5 5.5 -3 4 -0.5 3.5 -1.5 3.5 -3.5 0.5 -4.5 -1 -1.5 -2.5 -1.5 0 -2 3 -4 5 -2.5 3 -3 4 3 1.5 0 2.5 -2.5 3.5 -0.5 3.5 3.5 2 0.5 4 -5.5 3.5 0 1.5 1.5 -1 1.5 0 2 1.5 0 0.5 -4 2 -2 2 2.5 2.5 -0.5 2.5 2 0.5 5 1 1 7 0 5 -3 2.5 -4 1.5 0.5 1.5 -0.5 7 -6 3.5 0 3.5 1.5 2.5 0 0.5 -3 3.5 -3 0 -3 1 -1.5 1 -0.5 5.5 1 2.5 -0.5 0.5 -1 -0.5 -1 -3.5 1.5 -3 0 -1 -1.5 4 -1.5 0.5 -6.5 3 -1.5 0 -1.5 -1 -1.5 2.5 -2 0 -1.5 1.5 -2 3 1 3 3 2 0 2 -1 7.5 0 6.5 -1.5 2 2 0 1.5 1 1.5 1.5 -0.5 1 0.5 0.5 6 1 1.5 1 0 2.5 -2 4 -0.5 1.5 -1 0.5 -3 -1.5 -4 2 -1 7 -7 7 1 3.5 1.5 2.5 -0.5 1 -2.5 -2 -7 -3 -0.5 -1 -1.5 2 -2.5 4.5 -1.5 4.5 -6 0.5 1 -2.5 4.5 1 -0.5 4 -8.5 6 -10 0 -5.5 3.5 -7.5 -0.5 -9 -6 -12.5 -1.5 -6.5 0.5 -0.5 1 1 2.5 5.5 8.5 6.5 13 -17 0.5 -4.5 -0.5 -2 -3.5 -4 -3 -1 -1 -1.5 6.5 -4.5 3 1.5 2.5 0zM375.5 248.5l-1.5 2 0.5 6 0.5 1 1 -0.5 4 0.5 -1.5 7.5 6.5 6.5 5.5 4 7 3 3.5 -1 1 -1.5 0 -2 -3 -4.5 -5 -5 -7.5 -6 -6 -6 -2.5 -3.5z"/>
<path fill="#7db073" fill-rule="evenodd" d="M1266.5 832l-4 4 -1 4.5 -2 2.5 0 4.5 1 3.5 1.5 3 2 1.5 2.5 -1 4.5 -15 -1.5 -1 -1 -4zM884.5 790l0.5 2 -1.5 3.5 -0.5 -2zM1240 775.5l4 3 0 5 -1 2.5 -3 1.5 -2.5 3.5 0.5 2 2 2.5 -0.5 3.5 -4 3 -1.5 0 -1.5 -1 -0.5 -2.5 3 -3.5 0 -3.5 -3 -4.5 0 -2 2.5 -2.5 5 -2.5 -0.5 -3.5zM814.5 758l1.5 3.5 0 5.5 1 3 4.5 3.5 1 1.5 1 4.5 2 1 1 -0.5 4 2.5 9.5 0 3.5 1.5 4.5 4 4 0 1.5 1 -4 5.5 0.5 5 -1 1.5 -3 2 0.5 3 2.5 0.5 2.5 1.5 -0.5 -1.5 1 -1 5.5 -1.5 1.5 -1.5 1 -4.5 3.5 -3.5 2.5 -1 8 1 7.5 -2.5 0.5 2.5 -1 2 0 3 -2 1.5 -1.5 3 -3.5 0.5 0.5 6 2 2.5 0 3 -1.5 3.5 1 1 5.5 1 5 0 2.5 -1 -1 -13 1.5 -8 5.5 -10.5 6.5 -7 7 -6 0 -2 -1.5 -3 -7.5 3.5 -6.5 5 -6.5 8.5 -0.5 -1 2.5 -4.5 6.5 -6.5 -3.5 -1.5 -1 1 -0.5 2.5 -2 2 -2 0.5 -1 1.5 0.5 6 -2 3 -1 -1 0 -1.5 -3 -2.5 -0.5 -1.5 4 -5.5 4 -1 1 -1 0 -1.5 1.5 -1.5 0.5 -2 -0.5 -1 -5.5 -2.5 -1.5 -1.5 -2 -4 -8 1 -2 -4.5 -2.5 -0.5 -4.5 1.5 -2 4 -3 2.5 -3 0 -1.5 -1 -1.5 0 -1 1.5 -2.5 0.5 -2.5 -2.5 0 -6 -1 -2 -5 -3 -3 0 -3 -1.5 -2 0.5 -2.5 2 -3 0 -3 -2 -3 0zM1222 749l-3.5 2 0 3 -3.5 5 -0.5 4 0.5 8.5 -3.5 3 0 1.5 2.5 2 0.5 1.5 -1.5 4.5 0 2.5 4.5 4 0 1.5 1 1.5 2.5 2 3.5 1 3 2 -1 5.5 -3 4.5 1.5 5 2 1 2.5 3 3 0.5 1 -3.5 5 -5 0.5 -5 4.5 -4.5 1.5 0 3 -1.5 1.5 1 0.5 2 2.5 3.5 2.5 0.5 4.5 4 4 -0.5 1 -6.5 -1.5 -2.5 0 -2 1 -4 1.5 -2 -1.5 -4.5 -1.5 -2 0 -3 -2 -5 -2 -10.5 -3.5 -11.5 -2 1 -2.5 0 -1.5 -1.5 0.5 -4 -1.5 -1.5 -2.5 -0.5 -2.5 -2 -1 0.5 -3.5 -2.5 -2.5 0.5 -3 2.5 -2 0 -3 -2.5 -1.5 -0.5zM849 730l1 2 -3 3 -1 -1 0.5 -2.5 1.5 -1.5zM837 693l0.5 5.5 -1 1 -3.5 0.5 -3.5 4 -4 0 -2 -1 -2.5 0 -1.5 1 -1.5 -0.5 0.5 -0.5 -1 -1.5 0 -3 2.5 -3 4 -0.5 5.5 -4.5 3.5 0zM1290 636.5l-5 0.5 -2.5 -1 -5.5 -0.5 -3 -3 -1 -3.5 -2.5 -2 -0.5 -1.5 -3 -3 -4 -1 -5 -3.5 -2.5 0 -5 3.5 -5.5 -1.5 -2.5 2 -4.5 0.5 -1 1 0 1.5 -2 2 -4.5 1.5 -2.5 3 -1 2.5 -5.5 5 -1 2 -3.5 3.5 -7.5 1 -4.5 3 -5 0.5 -4 2.5 -8 0.5 -2 2 -3.5 1 -3.5 3.5 -2 1 -3.5 4 -9 8 -1.5 0 -1.5 -1.5 -0.5 -3 -2.5 -3 -2.5 0 -1.5 1.5 -0.5 2 0.5 3.5 -2 1.5 -3.5 0 -2.5 -2.5 1.5 -3 -0.5 -7 -6.5 -1 -2 -2.5 -0.5 -5 -2.5 -2 -4.5 0.5 -2.5 -1 -5 2.5 0.5 4 -1 2.5 -4.5 3 -2.5 -0.5 -4.5 -5.5 -5 0 -5 -2 -1.5 0.5 -2.5 3 -1.5 0 -3 -2 -2 0 -2 1 -4 -3.5 -3 -0.5 -7.5 6.5 -3.5 1.5 -2.5 4 -2 1 -2 0 -5 -3.5 -2 -3.5 -2.5 -2.5 -3 -6 -5.5 -1 -2 -2 0 -2.5 1.5 -2 -0.5 -1.5 1 -3 -1 -3 -4.5 0.5 -2.5 -3 -3 -1.5 -7 0.5 -2 3 -0.5 2.5 -4 3.5 -1 2.5 -5 6 -6 -3.5 -3.5 -0.5 0 2.5 -2 2 -2.5 0.5 -3.5 -3 -0.5 0.5 0.5 3.5 -1.5 1.5 -2.5 0 -3 -1.5 -2.5 -3.5 -3 -2 -2.5 -0.5 -7.5 0.5 -3 -1.5 -2 0 -6 2.5 -3 3.5 -3.5 0 -2.5 1 -2.5 3.5 -2.5 2 -4 -0.5 -3 -2 -7 -1 -6.5 2 -4 3.5 -3 1.5 -2 -1.5 -1.5 -3 -1 -0.5 -2.5 0.5 -2 2 -0.5 1.5 -2 1 -1 -1 -2 -6 -4.5 -2.5 -1.5 -3 1 -3.5 -1 -1 -4.5 -0.5 -2 -1 -4.5 -4.5 -1.5 0 -4.5 4.5 -3 0 -1 1 -1 2.5 0 2.5 -2 2 -1.5 0.5 -1.5 2 0 4 1 2 -2 0.5 -0.5 2 2.5 2.5 -0.5 3 -4 3.5 -4 1 -9.5 8.5 -6.5 2 -2.5 2.5 0 1 -1.5 1 -2.5 -1 -6.5 -6.5 -3 -0.5 -3 -3 -3.5 2 -2.5 0 -4.5 -2.5 -2 0 -3 3 -1 3 -2.5 1.5 -4 -4 -1.5 -4.5 1 -6 -1 -0.5 -1 3.5 -1.5 1 -0.5 1.5 2.5 1.5 1 3 -1.5 3 -1.5 1 -2.5 -0.5 -2 -1.5 0.5 -4 1.5 -2.5 -0.5 -2.5 -2 -0.5 -3 1.5 -2 0 -1 -1 -0.5 -3 -2 -1 -1.5 0 -3.5 4.5 -3 1 -6 -0.5 -3.5 -1 -4.5 -2.5 -3.5 0 0.5 4 -2 2 -4 1.5 -4 -1 -1.5 1 -2 3 -1.5 0 -2.5 -3.5 -3 -1.5 -3.5 -3.5 -3 0 -3.5 1.5 -2 2 0 2.5 -2 3.5 -1.5 5 0 4 2 4.5 0 2 -2 2.5 -3.5 1.5 -1 3 1 1 2.5 0 1.5 -1.5 2 0 4.5 2 3 4.5 3.5 2.5 7 7 5 1.5 2.5 2 -5.5 5 -1 0 -5 -4.5 -4 0 -1.5 1 -4 -1 3.5 7 3 3 -0.5 1 -2 -2 -1 0 -1.5 1 0 1 2.5 1 2 3 1 -0.5 -0.5 -2 0.5 -0.5 3 1.5 2 0 0.5 -0.5 -0.5 -3.5 1.5 -1.5 1.5 0 5.5 3.5 3.5 4 1.5 0.5 1 -5.5 -1.5 -4 0.5 -1 2 1.5 6.5 0 6 -3.5 5 -0.5 3.5 2 4.5 0.5 2.5 1.5 3.5 0.5 4 4 2 3.5 3 2 3 5.5 3.5 0.5 4.5 -4 1.5 1.5 1 4 1 0.5 2.5 -0.5 5 -4 2 1 5.5 -0.5 -3 -3 -1 -2.5 0.5 -3 1 -1 5.5 0.5 2.5 5.5 1.5 1 1.5 -3 1 0 1.5 2 1.5 -0.5 2.5 -3 3 -2 2 -3.5 4.5 -2 1 -2 4.5 -4.5 4 -0.5 4 -4 1.5 -5 2.5 -2 2.5 0.5 4 5.5 3 0.5 5 2.5 4 3.5 2.5 0 2 -3.5 4 -2 0 -1 -4.5 -3.5 0.5 -2 -1 -1 3 -2 1 -3.5 1.5 -1 3.5 0.5 6 5.5 1.5 0.5 5 0 0.5 -0.5 5.5 2.5 5 -3.5 5 -0.5 1 -1.5 -0.5 -3 2.5 -2.5 5 0.5 2 2.5 0 3.5 5 1.5 2 1.5 4.5 -0.5 2.5 -2.5 5.5 0.5 3 -1.5 6 0 3.5 -1.5 6 0 5 -3 3.5 0 1.5 1 0.5 3 1.5 1 6 0 0.5 0.5 10 -0.5 2.5 0.5 5.5 4 2 0 2.5 -1 1.5 -1.5 2 0 4 3.5 5.5 0.5 6 -8 6 0 2.5 -2 0.5 0.5 0 -2 2 -2 2.5 -1.5 2.5 -0.5 2.5 3 -0.5 3.5 3.5 2.5 5 2 2 2 1 2.5 4 1 4 -0.5 1 1 3.5 0.5 3 2 2.5 0.5 2 -6 3 7 4 1 6 -3 2 0 3.5 -1.5 2.5 -3.5 3 -1.5 3.5 2.5 0.5 -0.5 -0.5 -1 2 -3 2.5 -0.5 6.5 -4 9 -4 3 0 2.5 1 14 -0.5 1.5 1.5 0 8 1.5 2 2.5 0 3.5 -3 4 -1.5 -0.5 -4.5 4 -4 0.5 -2.5 1 -1 2 0.5 2.5 3 2.5 0 2 -1.5 1.5 0 1 1 -1.5 3 0.5 2 5 -0.5 3.5 2 3.5 -0.5 3.5 -5 3.5 1 5 0 0.5 -0.5 3 0.5 4.5 -1 4 -3 3 0 2.5 -1 3.5 0 4 3 1 -5.5 4 -11.5 8 -17.5 15.5 -12.5 9.5 1 8.5 -7zM950.5 602l-1.5 0.5 0 2 1.5 -1zM1150 594.5l-3.5 2.5 -0.5 4.5 4.5 -3zM946.5 592l-1.5 0 -1 1 0 5 -0.5 0.5 4.5 -1.5 0 -2.5zM933.5 590.5l-1 1 0.5 1.5 2 2.5 2 0 0.5 -2.5 -1.5 0 -1.5 -1.5 0 -1zM1086.5 586l0 1 2 1.5 -1 -3zM952.5 584.5l-0.5 1 -1.5 0 -3 -1.5 0.5 3 -1.5 1.5 0 1 2 0.5 1.5 -3 3 -1zM938 584l1 4 1 0.5 4 -0.5 0 -1.5 -3 -3zM1095.5 575.5l0 2 2.5 3.5 -1 1.5 1.5 1 0.5 -5 -2 0.5 -0.5 -3zM1065 575.5l0 1.5 1 0.5 2 -0.5 -1 -2zM1182 574l-4 3.5 -2 3 -6.5 3.5 -1 -0.5 4.5 -4.5 8 -5.5zM1074 573l3 -0.5 1 1 1 3.5 -1.5 0.5 -0.5 -1 -2.5 -0.5zM892 573l-0.5 3.5 -1.5 2 0 2 3 0.5 2.5 2.5 0.5 4 1.5 1.5 0 2 2.5 2.5 3 0.5 -0.5 -3 2 -2 -1 -0.5 -1.5 1.5 -1.5 0 -1 -1 -0.5 -2.5 -2 -2.5 1 -1.5 2.5 -0.5 -3 -2 0 -1.5 2 -1.5 0.5 -1.5 1.5 -1 0 -1 -2 -2zM1074.5 570.5l-2 3 0 2 1 2 -3 1 2 2 0 1 -3.5 2 0 2 2.5 0 0.5 2 4.5 1 -2 -1.5 0 -1 2.5 -3 2 -1.5 3.5 0 2.5 -2.5 -1 -1.5 -0.5 -3 -1 -1 -1.5 0.5 -0.5 -1.5 -2 0 -1.5 -1.5zM882 569.5l-1 0 -3.5 3.5 0.5 4.5 1 1.5 4 -2 0.5 -1 -0.5 -1 0.5 -2zM1209.5 568l-4 0.5 -5 6 0 1.5 2 -0.5 7.5 -6.5zM901.5 567.5l-0.5 1 1 1 1.5 0zM1057 562l1 -1 1.5 0.5 -1 1.5zM1050 558l-0.5 1.5 2 1 0.5 -0.5 -0.5 -1.5zM913 557.5l-2.5 1 -2 2 -2.5 0.5 -0.5 2.5 -3.5 0 -0.5 2 3.5 -0.5 1 -2 2.5 1.5 3 0 3 -2.5 0 -1.5 -2 -2zM871 556l2 -1 4 0 2 1.5 -1 0.5 1 -0.5 1.5 1.5 -0.5 1.5 -1.5 1 -1.5 -1.5 0 -1 -3.5 1 -1.5 -1zM1063.5 553l-0.5 1.5 2.5 2.5 1 0 0.5 -1.5 -1.5 -0.5zM1047.5 548.5l0 1 2.5 2 0 1 -4.5 1.5 0 1 3.5 0.5 0.5 -1.5 4 -3 1 1 -1 2 2.5 -0.5 2 2.5 -2.5 2.5 -1.5 4.5 3 3.5 0 1.5 -1.5 2 -4.5 1 0 1.5 2 1.5 -1.5 2 1.5 2 2 -1 1 -2.5 2 -2 3 -1 -1.5 -2 2.5 -2 1.5 -2.5 1.5 0.5 0 2.5 -2 1 0 1.5 1 0 0.5 -1.5 1 -0.5 1 1 0 2.5 1 1 1.5 0 3.5 -3 0 -3 -1 -1 -3 0.5 -2.5 -1 -2 -3.5 -4 -2 0 -2 1.5 -1.5 -2 -1.5 -1.5 -5 -2 -0.5 -2.5 -2 -1.5 0 -1 2 -2 -1.5zM1069 546.5l-2 0 -1 2.5 2 -0.5zM1081.5 547.5l2 -0.5 1.5 -2 2.5 0 4.5 4.5 7 0 1 1.5 -0.5 1.5 -3.5 2.5 -4 -2 -1.5 0 -1.5 2 -2.5 0.5 -1 -2 1.5 -1 0 -2 -3 -2.5zM1254 544.5l-1.5 0 -2 2 2.5 -0.5zM562.5 537.5l3 3.5 0 1.5 -4 4 -0.5 5.5 -3 3.5 -0.5 1.5 5.5 4 2.5 4 1 3.5 3.5 3 2.5 7 8.5 5 2.5 -1.5 1.5 0.5 0 2.5 -1.5 3 0 1.5 1 1.5 3 -3 2.5 -0.5 5.5 2.5 1.5 3 6.5 6.5 9.5 -1.5 0 -1 -6 -5 -2.5 -4.5 -5.5 -2.5 -3.5 -2.5 -1.5 -6 -3 -1 -1.5 -2 0.5 -2.5 -0.5 -2.5 2.5 -5 0 -2 -2.5 -4.5 1 -1.5 1.5 -0.5 0 -3 1 -0.5 1 1 0 2.5 -1 1 1 2.5 1 1 2.5 0.5 3 -1 1.5 -1.5 0.5 -4.5 -4.5 -1.5 -2 -2 0 -3.5 -1 -1 -4 2.5 -2.5 0 -11.5 -7 -2.5 -3.5 -3 -1.5 -2.5 -0.5zM1053 530.5l2 1 0 3 -1.5 1 -1.5 -1.5 0 -2zM358 535l2.5 0 1.5 -1 2.5 0 2.5 1 4.5 0 1 -1 0.5 -5 1 -1 1.5 0 1 1 1 -5 1 1 1 3.5 6 6 5 1.5 3 3 4 6 5.5 16 0 4.5 -4 5.5 0 2 1.5 0.5 2 2 0.5 4 -1.5 3 1.5 1.5 0 1 -1.5 1.5 -3 1 -8 0 -4 -0.5 -2 -1.5 -6 -9.5 -2.5 -7 -3.5 -5.5 -0.5 -3 -4.5 -5.5 -3.5 -7 -1.5 -5.5 -4 -4.5 -1 -2zM523 522.5l-2.5 2.5 0.5 0.5 2 -1zM513.5 522.5l-1 0 -1.5 1.5 -1 2 0 2 3 -2zM524.5 521l6.5 0.5 0.5 -2 -1.5 -1 -4 0.5zM423.5 515.5l-2.5 0 -2 1.5 0 3.5 -1 1 -4 -1 -2 1 -0.5 9 -1.5 1.5 -3.5 1.5 -1.5 2 0.5 4 5.5 5.5 2 4.5 -0.5 12.5 1.5 4.5 0 6 1 2 0.5 5 1.5 0.5 3 -1 1.5 -7.5 0 -7.5 -0.5 -3 -1 -1.5 -0.5 -12.5 -1.5 -8 0 -3.5 1.5 -3.5 0 -3.5 4 -2 1 -2 -0.5 -0.5 0.5 -7.5zM1272.5 514.5l-3 2.5 -1 -0.5 3 -2.5zM344.5 506l2 1 0 2 -1 1 -1.5 0 -1 -1 0 -1.5zM439.5 519l0 2 1.5 3 1.5 9.5 2.5 4 3.5 2.5 5 1 13.5 -1 2 2.5 1.5 0.5 3 -3 7.5 -0.5 16 3.5 3.5 0 8 -2 2.5 -2 1 -2 0 -3.5 -2 -1.5 -3.5 -6 0.5 -7 -1 -2 -3.5 -0.5 -1.5 1.5 0 1.5 -1.5 2 -2.5 0 -2 -1 -1.5 -2.5 -3.5 0 -2.5 -1.5 -2.5 0 -2 1.5 -1 2.5 -4 4.5 -10 -1.5 -7.5 -5 -3.5 -4 -0.5 -2.5 -3 -2.5 -0.5 -1 0.5 -1 2 -1.5 1.5 0.5 0 2 1 1.5 3 0 1 -1.5 -0.5 -1.5 -3 -2.5 -1 0 -2 -3.5 -2 -1.5 -2 2 -0.5 4 -5 1.5 0 1.5 3 2 -0.5 2.5zM363.5 499l1.5 1.5 0 1.5 -1 1 -1 0 -1 -1.5 0 -1zM618 465.5l-3 0.5 -5.5 3 -1.5 3 -3.5 3.5 -4 0 -2.5 1.5 -0.5 3.5 1 1.5 0 2 -2 3.5 -1 5 -2.5 3.5 -3 1 -1.5 1.5 -3 8.5 0 5 -4 3.5 -2 3 -4.5 1.5 -1 3 -1.5 1.5 -4 0.5 -4.5 -3 -3.5 0.5 -1.5 2.5 0 2 2.5 3.5 11 1 4 1.5 3 0 8 2 2.5 2.5 0.5 4 2.5 -0.5 4.5 -4.5 2.5 -1 12 -1.5 6.5 -2.5 8 1 2 -1.5 -0.5 -5 0.5 -6.5 -1 -2 -2.5 -2 -3 0.5 -2 2 0 3.5 -1.5 1 -2.5 -5 -5.5 -0.5 -3 -3 -2.5 -7 1 -1 6 -0.5 5.5 -3 -0.5 -5 3.5 -4 0 -1.5 -2.5 -3.5 0 -2 4.5 -8.5 0 -9.5zM1396 459.5l1 1 -0.5 2 -1 -0.5zM857.5 459.5l0.5 0.5 -0.5 2.5 -2 2.5 -1 -1.5 1.5 -3zM1258 447l0.5 2.5 -1.5 3.5 -2 1.5 -2 -1.5 0 -1 3 -1.5 0.5 -3zM1088.5 446.5l-1 4 -2.5 0 -1.5 -1 0.5 -1 2 -0.5 2 -2zM329 425l3 2.5 1 2 0.5 3 -0.5 5.5 2.5 3 2 5 0 2 3 5 0.5 3 2 2.5 0.5 2.5 -2 1 -8 1 -1 2 -2.5 0 -2 2 -2.5 -1 -2.5 -3.5 -1 -10 1 -2.5 2.5 0.5 1 -1.5 0.5 -2.5 -2.5 -4.5 0.5 -0.5 -0.5 -8zM327.5 417.5l-4 4 -4.5 9 -1.5 9 -2.5 9 0.5 16 -0.5 0.5 -4.5 -0.5 -3.5 1 -9.5 5.5 -0.5 1.5 3 6 8 9.5 1.5 3.5 3 2 -0.5 2 0.5 3 9.5 5.5 2.5 -0.5 7.5 0 0.5 0.5 -0.5 1.5 -2 0.5 -1.5 1.5 0 1 2.5 2 0 8.5 3 7 4.5 14.5 2.5 5 0.5 8 3 6 7 9.5 2 -1 3 2.5 2.5 6.5 2.5 1.5 2 3 0 3.5 2 3 5.5 4.5 3.5 -0.5 2.5 1.5 0.5 2.5 2.5 2.5 5 3 13 3 5.5 4 2.5 0 2 2 4.5 1 3 3 1.5 0 3.5 -2 17 0.5 2.5 2 4 1.5 2 2.5 2.5 0 3 -1.5 7 -6.5 8 0.5 2.5 -3 1 -2.5 -3 -3.5 0.5 -3 -0.5 -3 -3.5 -3 -1.5 0 -2.5 -1.5 -4.5 0 -4.5 2 -13.5 -1 -4.5 4.5 -3.5 0.5 -2.5 -1.5 -4.5 0 -1.5 -1.5 -1 -7.5 -7.5 -2.5 -2 -10.5 0 -7 -1 -1.5 -1 -5 0.5 -7.5 -1 -4.5 -4.5 -4.5 -7.5 -12.5 -5.5 -5 -1 -2 -0.5 -4 -3 -4 -3 -2.5 -4.5 -7 -2.5 -2.5 -1 -2.5 0.5 -4.5 -1 0 -1.5 -2 0 -1 1.5 -1.5 -4 -8.5 -2.5 -2 0 -3.5 -4 -7 -6 -5 -0.5 -3.5 -2 -0.5 -2.5 -2.5 -2 -4.5 0 -1.5 -2.5 -4.5 -1 -6 -2.5 -1 -1 -5.5 -10 -18.5 -2 -2zM1406 441.5l-2.5 -2.5 -6 0.5 -3 2.5 -4.5 2 1 -0.5 1 1 0 1.5 -3 2.5 -4 -0.5 -7 5 -0.5 -1 1 -3.5 -2.5 -5.5 -3 -3 -3.5 1.5 -2.5 0 -6.5 -6.5 -4.5 -0.5 -2 5 -1.5 1.5 -2.5 -1 -1.5 -1.5 -0.5 -2 -3 -3.5 -2.5 0 -1 1.5 -2.5 -1 -1.5 0 -1 1 -2.5 -0.5 -5.5 2 -4 5 -2.5 1 -2.5 2.5 -1 2 0 2.5 2 1.5 -0.5 0.5 -5.5 -0.5 -4 1.5 -1 1.5 2 4.5 1 0 4 -3 1 0.5 0 -1 4 -3.5 4 4.5 1.5 0.5 -1 1 -5 2 -2.5 2 -3 4 0 1.5 -5.5 5 -2 1 -2 -0.5 -4 2 -6.5 1.5 -6 5 -4.5 2 -0.5 -1 3.5 -4 5.5 -3.5 8 -8 -2.5 0 -1.5 1 -2 -1 -4 4.5 -4.5 3 -0.5 3 -2 3.5 -2 2 -3.5 0.5 -1.5 1 0 1 -2 2 0.5 3 -1.5 1.5 -0.5 2.5 2 2.5 1.5 3.5 1.5 1 -1.5 1.5 1 0 0.5 1 -2.5 2.5 -4.5 2 -2 2 -6 3.5 0.5 6 1 0.5 -1 1 -0.5 4 9 -5 3.5 -0.5 0.5 1 -1.5 2 0 1.5 1.5 1.5 0 1.5 -1.5 3 -4 2 -3.5 3.5 -2.5 5.5 -5.5 4 -5.5 1.5 -3 3.5 -2 0 -0.5 -1.5 -1.5 0.5 -5 5.5 -3.5 2 -2 3.5 -7 -1 -5.5 2.5 -21 15.5 -5 4.5 -1.5 0.5 -3 3.5 -3.5 0.5 -1.5 -2 -2.5 0 -5 2.5 -0.5 -2 15 -12 1 -1.5 0.5 -4.5 1.5 -1.5 3.5 -1.5 6 -1 12 -9.5 13 -4.5 -6 -3 -5 -0.5 -4 -2 -6 -0.5 -4.5 -3 -3 -1 3.5 -0.5 3.5 1 2.5 -3 2 0 4 2 0.5 -1.5 -1.5 -2 1 -2 3 -0.5 3.5 1.5 1 -1 -1 -3.5 4 -5.5 -0.5 -3.5 0.5 -2.5 1.5 -1.5 4 -2 1 -2.5 0 -2.5 1.5 -3.5 2.5 -2 3 -0.5 1.5 -1 0 -3 4 -5 1.5 -5 4 -2.5 0 -9 3 -2 5 1 2 -1 3 -3 6 -2.5 1.5 -1.5 0.5 -1.5 -8 -6.5 -1 -3 -3 -2 -0.5 -2.5 2 -2 2.5 -1 0.5 -1 -6 -6 -2.5 -1 -3.5 0 -5.5 5.5 -2.5 -0.5 -2.5 -2 -2 -0.5 -1.5 3 -3.5 1.5 -1.5 1.5 -2.5 0.5 -1 -1.5 -0.5 -6 3 -2 -0.5 -1.5 -3.5 -4.5 -3.5 -0.5 -3.5 -2 -3.5 3 -3.5 0 -1.5 1 1 2.5 4.5 5 0.5 6.5 -2.5 1 -3.5 3.5 -1 0 -1 -1.5 3 -5.5 -0.5 -1 -1.5 0.5 -1.5 2.5 -1 0 -1.5 -2 -3 -1 -3 -3.5 -1 0 -2 2 -3.5 0.5 -3 -3 -6 0 -1.5 -0.5 0.5 1.5 -1.5 3 -2 2 2 0 3 -2 2.5 0.5 -4.5 3.5 -4.5 0.5 -2 -3 -3 -0.5 -2 1.5 -1.5 0 -1.5 2.5 -3 1 -2.5 3 -1 0 -1 -2 -5 2 -4 -3 -3.5 -1.5 -3.5 0 -4 3 -1 0 -1 -2 -6.5 -4.5 0 -3 -5 -6 -0.5 -2.5 -3 -2.5 -2 -3.5 -5 0.5 -0.5 0.5 0.5 1 -1.5 1.5 -3.5 0 -1.5 -1.5 0.5 -3.5 -1 -2 -3.5 -2 0.5 -2 -1 -1.5 -2.5 0 -4 3 -2 0.5 -1 -0.5 -1 2 0.5 0.5 -0.5 1.5 -3 2.5 -1 0 -1.5 3 -2.5 2.5 -5 3 -0.5 2.5 -2 3 -2.5 0.5 -2 1.5 -5.5 -4 0 -1.5 2 -1 2 -3 0 -3 1.5 -2.5 -0.5 -1.5 -4 -2 -2.5 0 -1.5 -1.5 -1 -3.5 -6 -5.5 -0.5 0.5 0 6 1 4.5 1 1.5 -0.5 3 -4 2 -2 5 -2 1.5 -1.5 -2 0 -3.5 2 -4 -1 -0.5 -1.5 2 -3 -0.5 -0.5 -1 2 -2.5 -0.5 -1.5 -5.5 -1.5 -1 0.5 0 3 1.5 2 -0.5 1.5 -1.5 -1 -1 -3.5 -3.5 -3 -2 2.5 -2 0.5 -0.5 -0.5 1 -2 0 -3 -1.5 -4 -3.5 -4.5 -0.5 -3.5 -2.5 -0.5 -3.5 -2 -5 -6 -3.5 0 -1.5 1.5 -0.5 3 -4.5 4 -1.5 4 -2.5 2.5 -3.5 -0.5 -3.5 1.5 -2 -1.5 -0.5 2.5 -2 -1 -3 0 -0.5 0.5 0.5 1.5 -1 1 -2.5 -0.5 -3.5 -3 -0.5 -5 -1 -1.5 -6 -0.5 -1.5 1 -1 -1 0 -1 1.5 -0.5 -0.5 -1.5 -7 -1 -1 2 0 3 0.5 1 2.5 0 1.5 2 -0.5 2.5 3 4.5 0.5 2.5 -1.5 1 -4.5 -2 -1 2 -1.5 1.5 -1 0 -0.5 -2.5 -2 0 -4 -3.5 -2 0 -2.5 1 0.5 0.5 -0.5 3.5 0.5 3.5 -1.5 2 -2.5 0 -2.5 -2 -3 4 -2.5 1 -2 -2 -1.5 -3 -4.5 -4 -0.5 -5 -4 -4.5 -1 0 0 2 3 3.5 -1.5 0.5 -3.5 -5 0 -2.5 -2.5 -2.5 -2 -3.5 -2.5 0 -1.5 2.5 -3.5 0.5 -1 -1 0 -2.5 -1 -0.5 -4.5 4.5 -0.5 7 1 1 -4 1 1 1 0 1.5 -1.5 1.5 -2 -1 -5.5 0 0.5 0.5 -0.5 4 -5.5 4.5 -1.5 4 -5.5 5.5 -5 -0.5 -3.5 4 -7.5 5 -6 0 -5.5 4.5 -1.5 0.5 -6.5 -0.5 -1 0.5 -0.5 2 -1.5 1.5 -2.5 -0.5 -2.5 -2.5 -6.5 -1.5 -4.5 3.5 0.5 5.5 -1 1 -8 0.5 -2.5 1 -8.5 7.5 -4 6 -0.5 5.5 3.5 2.5 -2 1.5 -3.5 0 0 1.5 4 0.5 -2 2 -0.5 3 -1.5 1.5 -3.5 0.5 -4.5 -4.5 -9 -1 -2 1.5 -1.5 2.5 0 4.5 -1 2 -5 4 -0.5 2 -6.5 6.5 0.5 1.5 2.5 1 2.5 2.5 0 3.5 1 2.5 -1 1 -2.5 0.5 -1 2.5 -3 2.5 -3 -0.5 -4 -2 -2 0 -5.5 -3.5 -2.5 -0.5 -1 3 0.5 2.5 -2.5 0.5 -3 2 0 13 1 2.5 -3.5 3.5 0 2 2 1.5 -2.5 1 -3 -2.5 -2.5 0 -1.5 2.5 -1.5 1 -8.5 -0.5 -1.5 2 0 2 -4 4 -1.5 0 -5.5 -7 -2 0 -2.5 1.5 3 4.5 0 5 -3 2.5 -0.5 1.5 -6 6 -2 4.5 0.5 2 3 4 0 1.5 -2 1 -1.5 -1.5 -2 -0.5 -3.5 3 -4.5 0.5 0 1.5 1 1.5 0 7 4 6 2 4.5 2.5 1 1.5 2.5 0 2 -1.5 3.5 0.5 3 -0.5 1 -4.5 -3 -6 0.5 -2 -1.5 -7 -14 -1 -5 -3 -4.5 -2 -6.5 1 -6 5 -10 3.5 -9.5 1.5 -1 4.5 -0.5 0 -1.5 -1.5 -1 -3 0 -7 2 -10 1 -3 3 -0.5 6 -2 2 -1.5 0.5 -3.5 4.5 0 2 2 6 -1.5 4.5 -3 4.5 -1 12 6 4.5 -4 1 -2.5 2 -4 9 -2.5 8.5 -3.5 4.5 0 1.5 -4.5 5 -2 1 -3 -3 -5.5 -2.5 -5 -6 -2 -0.5 -0.5 5 -2.5 6.5 3 4 0 1.5 4.5 4 2.5 4.5 3.5 1.5 5.5 0 6.5 -3 3 -4 3.5 -0.5 2 -4.5 3 -3 1 0 1 -2 5.5 -5.5 0.5 -1.5 -3.5 -3.5 0 -4.5 1 -1.5 1 1.5 0 2 3 3 2 4 0 4 -1.5 2.5 0 2.5 3 1 3.5 2.5 3 -2 2 -7.5 4.5 -4.5 0.5 -2.5 3.5 -4 4 4.5 1.5 6.5 -3.5 2.5 -3 6 -2 2 0 1 1 0.5 3.5 -0.5 6.5 6.5 0.5 3.5 2 2.5 0 1.5 4.5 -2.5 2 -2 -1 -3.5 0.5 -1 1.5 1 5.5 0 3 1.5 1 2 -3 3.5 2.5 1.5 2.5 0 1 -6.5 -5.5 -5.5 -0.5 -3.5 -3 -5.5 0 -5.5 -0.5 -0.5 0 -1.5 1.5 -1.5 0 -1 4.5 -3.5 0 -1.5 1 -1.5 0 -3.5 -1.5 -4 0 -4.5 1.5 -2.5 1 -4.5 3 1.5 2 0 2 2.5 8 0.5 5 3 3 2.5 -0.5 6 1 1 2 -1.5 0 -3 1 -2 3.5 -1 3 0 8 3 3 3.5 4 1 3 3 2.5 -0.5 4.5 2.5 7 -1.5 4 -2.5 4.5 -0.5 2.5 -2.5 3 -1 2.5 -2 0.5 -2 -1 -2 0 -3 3 -4.5 -1 -3 0 -3 1.5 -5 0.5 -6 1.5 -2 0 -1.5 1.5 -3 1 -9 2 -2 0 -1 1 -1 3.5 2 2.5 -2.5 1 0 10.5 -10.5 2.5 -0.5 6.5 -5 2.5 -2.5 1 -2.5 3 -2 3.5 0 4 2 1.5 0 3 -1.5 2.5 0 0.5 1.5 -3.5 4.5 3 -0.5 2.5 -2 8 -4 0.5 0.5 -0.5 1.5 -1 1 -1.5 0 0.5 2.5 2 1 2 -1.5 2 0 2 4 1.5 0 1.5 -2 1.5 0 1.5 -4 1.5 1 1.5 -2 1 2.5 3 4 2.5 -1 2.5 1 1.5 -1.5 0 -2 -1 -3 -3 -2 -0.5 -1 0.5 -0.5 4 0 1 1 2 -1 4 3 3.5 1.5 1.5 0 4.5 -3 4.5 0.5 3.5 2 1 1.5 -0.5 1 -2 -1 -0.5 3.5 3 -3 1 1.5 2.5 1 1.5 1.5 -5 6.5 -4.5 3.5 -2.5 0 -1 1 0 1.5 2.5 2 -2.5 2 -1.5 2.5 4 1 1.5 2 1 0 1.5 1.5 -2 2.5 1 1.5 2 0 1 -1.5 3 1 4 5 3 0 0 -1 -2 -2 -2.5 -1 -3.5 -3.5 0 -1 3 -3 -3 0.5 -1 -1 0 -1.5 3 -2 0 -5.5 1 -1 1 3 2 -0.5 -1 -2 -2 -0.5 0 -1.5 2 -3 2.5 -0.5 -0.5 -3.5 -2.5 0.5 -1.5 -1 0.5 -0.5 6.5 0 2 1 1.5 2 1.5 0 0.5 0.5 -2 1 1 1.5 -0.5 2.5 0.5 1.5 5 3.5 2.5 3.5 1 0 -0.5 -3 -2 -0.5 -1 -1 0 -1.5 -2 -1 -1 -1.5 0 -2.5 2 -2.5 0 -1.5 -1 -0.5 0.5 -0.5 4 0 4 3 5.5 0.5 1.5 1 7.5 0 3.5 2.5 -2 0.5 0 2.5 -1 1 -3 0.5 -0.5 1 3.5 0 0.5 0.5 -0.5 0.5 -7.5 -0.5 -2.5 1.5 -3 0 0 1 2.5 2.5 0 4.5 -1.5 3 0.5 5 1 1 3 -2.5 0.5 0.5 -0.5 2.5 2 0 1 -1.5 -0.5 -1 -2 -0.5 2.5 -0.5 1.5 -1.5 0.5 -1.5 3 -2.5 -0.5 -1.5 1 -1 3.5 -0.5 2 1.5 0.5 2 1 0 2.5 -5.5 2 -2 1 0 1 -1.5 1 1.5 -1.5 2 -2 0 -0.5 1 4 3.5 0.5 2.5 -6.5 5 2 1.5 0.5 1.5 2 0.5 1 -1 -0.5 -1 -2 -1 0.5 -2 3 0.5 2 -0.5 3.5 -4.5 1.5 3 1 0 1.5 -3 -3 -0.5 -1.5 -3 -2.5 -2 0 -1.5 3.5 -3 0.5 -2.5 -1.5 -1 -4 0 -3 3 0.5 0.5 -0.5 1 -7 -3.5 -1 0.5 1.5 0 0.5 0.5 -0.5 0.5 -6.5 0 -0.5 -0.5 1.5 -0.5 1.5 -2.5 3 -0.5 -1 -0.5 0.5 -0.5 2.5 0.5 5 -3 5 0 0.5 0.5 1 -0.5 3.5 0.5 3.5 2 5.5 0 1.5 1 1.5 -1.5 3.5 0 3.5 -1.5 2.5 0 1.5 -1 0 -1.5 -2 -1.5 0.5 -1 3 -0.5 2.5 -1.5 5.5 0 1 -3.5 -0.5 -4.5 1 -1 4.5 0.5 2 -1 2.5 -5.5 1.5 3.5 1.5 -2 0.5 -2.5 3.5 -2.5 4 1 2 -1 3 -3 3 0 1.5 2 0.5 -1.5 -1.5 -0.5 4 -2 1 0.5 3.5 -0.5 3.5 1.5 2 0 2.5 -1 10 0 2.5 -1.5 2.5 0.5 1.5 1.5 -2 2.5 0.5 1.5 -2 1.5 0 2.5 1.5 2.5 -1.5 1.5 -2.5 0.5 -2.5 -2.5 0 -2 1 -2 -4 1.5 -3.5 -0.5 -0.5 3 1.5 1.5 0 1.5 1.5 2.5 1.5 0 0 -3.5 1 -1 1 0 0.5 2 3 2.5 3.5 -0.5 2 2 1.5 -1.5 4.5 -0.5 1 -1.5 3 2 -1 1 -4 -0.5 -0.5 5 -2.5 0 -2 -1.5 -1 2.5 -2.5 1.5 1.5 2.5 0 1.5 6.5 0.5 2 -1.5 1 0.5 0 3 -2 5.5 0.5 6.5 1 2 1 -0.5 1 -5 1.5 -3.5 -1.5 -4.5 0.5 -3.5 4.5 3 1.5 4 2 2 3 1.5 3.5 0.5 4.5 4 1.5 2.5 8 3 5 -0.5 5.5 -3 2 0 2 1.5 2 0 9 -6.5 3.5 -1 0.5 0.5 -0.5 1.5 -6.5 4.5 -4 4 0.5 3 12 -8.5 -1 -1.5 1 -1 4.5 -0.5 2 -1 2.5 0.5 2 -1.5 0.5 1.5 -2 1 0 2 -1 2 1.5 0 1.5 -1 2 0.5 0 1.5 -2 2.5 2.5 -2 2.5 0.5 1 1 -0.5 1.5 3 -1.5 1.5 0.5 -3.5 4.5 0 1.5 2.5 1 -1 9 3.5 -1.5 8 0.5 2 -1 7 0 4 -2.5 4 -0.5 4 -1.5 3.5 -3.5 0.5 -3.5 -0.5 -1.5 -3.5 -2.5 0.5 -2.5 3 -3.5 5 -2.5 3 -3 2 0.5 2 2 1.5 0 2 -2 4 -1 4 3 1.5 0 2 -3.5 2 -1.5 3.5 -0.5 2.5 1 1.5 -1.5 2 2.5 1 0.5 2 -0.5 2.5 2 1 2.5 0 2.5 1 1 3.5 0.5 4.5 -1 4 -3.5 2 -3.5 3 0.5 5.5 -5.5 5 -0.5 2.5 1.5 2.5 0.5 1.5 -4 3 -2.5 0 -4.5 2.5 -2.5 2 0 2 -1 0.5 -6.5 3 -2 -1.5 -1.5 0 -1 2 -1.5 0.5 -2 2 -2 3.5 1 3 3 2 0 2 -1 9 0 5.5 -2 1 1 2.5 -3 0.5 2 -2 4.5 1 1 1.5 -0.5 1 1 0.5 6 1 1 2 -1.5 4.5 -0.5 2 -1.5 0 -3 -1.5 -2.5 0 -2 2 -0.5 2 -3 3.5 -2 0.5 -1.5 5.5 0 5.5 1.5 3 0 1.5 -2 -2 -7 -3 0 -1.5 -1.5 0.5 -1.5 3.5 -2.5 3 -0.5 4.5 -6 0.5 1 -2.5 4.5 1 -0.5 4 -8.5 6 -10 -0.5 -4.5 4 -9 -0.5 -8.5 -6 -12.5 -1.5 -6.5 0.5 -0.5 1 1 2.5 5.5 8.5 6.5 12.5 -16.5 0 -3 -1 -1.5 0 -2 -2 -2 -2 -1 -2 0 -1.5 -1.5 0 -2.5 7.5 -5 2 0 3.5 1.5zM375.5 248.5l-1.5 2 0.5 6 6 -1 0.5 0.5 0 1.5 -1.5 2.5 0.5 3.5 -1.5 1.5 6.5 6.5 6.5 4.5 2 -0.5 0.5 0.5 -0.5 1 4 1.5 3.5 -1 1 -1.5 0 -2 -3 -4.5 -5 -5 -1 0 0.5 1.5 -1.5 0.5 -1.5 -1.5 0.5 -3 -4.5 -3.5 -6 -6 -2.5 -3.5z"/>
<path fill="#b1cf45" fill-rule="evenodd" d="M1266 833l-3.5 4.5 -0.5 4 -2 2.5 0 2 1.5 4 2.5 2.5 3 0.5 2 -5 1.5 -8.5 -1.5 -1 -2 -5.5zM888.5 782.5l-2 0.5 -0.5 1 0.5 2.5zM1238.5 772.5l4.5 4 2.5 -1.5 0.5 1 -1.5 2 0 6.5 -1 2 -2.5 1.5 -1.5 2 0 2 2.5 4 -0.5 3 -2.5 2.5 -4 1.5 -3 -0.5 -2 -2.5 0 -2 3.5 -2.5 0.5 -2.5 -1 -1 -3 -0.5 0.5 -2 -1 -3.5 2.5 -3.5 6 -3.5 0.5 -1 -0.5 -5zM907 771l-14 8.5 -5.5 7 -0.5 2.5 -2 2 -1.5 4.5 -0.5 -1 0.5 2.5 -0.5 0.5 -0.5 -1.5 -0.5 1.5 0.5 3 -2 2.5 0 2.5 1 1 0 3.5 -1 2.5 -2 -0.5 -1 1.5 -0.5 5.5 1 1 5 1 3 0 3 -1 -1 -14 1.5 -6.5 5.5 -10.5 6.5 -7 7 -6zM818 767.5l0 1.5 4.5 3.5 1.5 2 0.5 3 3.5 0.5 4 3.5 5 -0.5 3.5 0.5 3.5 1.5 5 4 5 0.5 1 1 -5 6.5 0.5 5 -3 2.5 -0.5 1.5 0.5 -0.5 3.5 0.5 6 -2 1.5 -1.5 0.5 -2.5 1.5 -2.5 3.5 -3 3 -0.5 8 0.5 2 -1.5 -1 -2 1.5 -4.5 3 -3 1.5 -3 3 -1.5 2 -2.5 0 -2 -5 -4 -2 -4 -4 0.5 -3.5 1.5 -1.5 -1.5 -0.5 -2.5 -1 -1 -3.5 0 -2 1 -4 5 -2.5 0.5 -4 2.5 -6 -1 -2 -1.5 -0.5 -1.5 0.5 -5.5 -1 -2.5 -1 -0.5 -3.5 0.5 -3.5 -3 -4.5 0 -1.5 1 -3 0 -3 -1.5 -3.5 0.5 -0.5 1 0.5 5.5zM1226 746l-6 5.5 -0.5 3.5 -4 4.5 -0.5 3.5 0.5 9.5 -3 2 0 1 2.5 3 -1 4.5 0.5 3.5 3.5 3 1 2.5 1.5 1.5 4 2.5 2.5 0.5 1.5 2 -0.5 4.5 -2 4 -1.5 1.5 1 4 4 4 2 0.5 1 -2.5 5 -5 0 -3 2 -4 6 -5.5 4 0 1.5 2 0 1.5 2.5 3 3 1 4 3.5 1.5 -0.5 0.5 -3.5 -1.5 -3 0 -3 1.5 -3 0 -6 -1 -2.5 0 -7 -2 -3.5 0 -4.5 -4 -14.5 -0.5 -0.5 -2.5 1 -2.5 -0.5 -2 -2.5 0.5 -3.5 -1 -1 -3.5 -1 -2.5 0.5 -4 -3 -5 2.5 -1.5 0 -3 -2.5zM840 695l-1 1.5 0 3 -1 1 -4.5 0 -3 4 -1.5 0.5 -7.5 -0.5 -7.5 4 -2.5 0 -1.5 -1 0 -1.5 1.5 -2.5 4 -3.5 0.5 -3 2 -2 1.5 -0.5 3.5 0.5 6.5 -5 6.5 0.5zM1289 638.5l-5.5 -1 -4.5 0.5 -2 -0.5 -5 -6 0 -1.5 -2 0 -5 -6.5 -4 -1.5 -3.5 -2.5 -2 0 -4 3.5 -4.5 0 -2 -1 -1.5 2 -4 0.5 -3 3 -5.5 1.5 -1.5 1.5 -2 4.5 -4.5 4 -1 2 -5 5.5 -5.5 0.5 -6.5 3.5 -2.5 0 -4.5 3 -1.5 0 -0.5 3.5 -2.5 1.5 -2 0.5 -4.5 -2.5 -3 0 -6 3.5 -11.5 12 -4 1.5 -2 0 -1.5 -1.5 -0.5 -5 -0.5 -1 -1.5 0 -0.5 0.5 0.5 4.5 -1 2 -3 3 -1.5 0 -5.5 -4 -0.5 -2 1.5 -3.5 0.5 -4 -1.5 -1.5 -4 0 -3.5 -3.5 -1 -2 -0.5 -4 -7 -0.5 -3 1 -1 1 -1 5.5 -3.5 3.5 -2.5 1 -2.5 -0.5 -3.5 -2.5 -2.5 0 -2 2 -1 0 -5 -4 -4.5 1.5 -4 -2 -6.5 0.5 -1 -1 -3 -0.5 -2.5 2 -1.5 3 -2.5 0.5 -2 -1 -2 0 0 1 -2 2.5 -5 2.5 -4 -2 -2.5 -3.5 -5 -4.5 -2 -5.5 -1 -1 -3 -0.5 -4 -3 -1.5 -6 -5 -1 -2 -2.5 0 -2.5 -3.5 -1.5 -2.5 0 -1 1 -0.5 1.5 -4.5 4.5 -6.5 9.5 -3.5 -2.5 -4.5 -0.5 -4.5 3.5 -3.5 0.5 -2.5 1.5 -4 0 -3 -1.5 -5 -5 -1.5 -0.5 -3 0 -4.5 1.5 -4.5 -2 -2.5 0 -3 1.5 -4.5 4.5 -2.5 1 -4.5 0.5 -3.5 4.5 -3.5 0.5 -5 -3 -5 1.5 -2.5 -2 -3 0 -5.5 3.5 -5 5.5 -3.5 0 -1.5 -1 -3.5 0.5 -2 -1 -2 -2.5 -1.5 -5.5 -2 -1.5 -1.5 0 -3.5 -5.5 -2.5 -1 -6 -6.5 -1.5 -0.5 -0.5 1 -2 0.5 -1.5 1.5 -3.5 0 -1.5 2 -0.5 6 -1 1 -1 -0.5 -2 0.5 0 1 2 2.5 1.5 6 3 4 0 1 -3.5 3.5 -3 0 -4.5 3.5 -5.5 0 -3 2 -5 5 -6 2 -4 4 -2.5 0 -2 -1 -6 -5 -4.5 -1 -9 -0.5 -4 -2.5 -3 2 0.5 5 -2 2 -5.5 -2 -1 -1.5 -3 1.5 -2.5 0 -1.5 -1 -6 0.5 -1.5 -2 0 -3.5 -4 -3 -1.5 -3 -5.5 2 -4.5 0.5 -8.5 -2.5 -2.5 3 -7 3.5 0.5 1.5 -1 1 -4.5 0.5 -2.5 1.5 -4 -2 -1.5 -2.5 -6 -5.5 -4 0.5 -2 1.5 -1 3.5 -3 5 -0.5 5 2.5 4.5 -0.5 4.5 1 3 1.5 1 3 0.5 3 6 2.5 1.5 5.5 5.5 3.5 2 4.5 0 2.5 1 2.5 3 2.5 6 5 0.5 2 -1 1 -2.5 2.5 -2.5 2.5 0 7 3.5 4.5 0.5 3.5 2 6.5 1 3.5 -3 3 0 1.5 1.5 -0.5 4.5 1 3.5 2 3 -1 4 1.5 0.5 2 -4 3.5 0 2 1.5 1.5 3.5 1.5 0.5 2.5 -2.5 3.5 -1.5 1.5 -5.5 1.5 -2.5 4 -0.5 6.5 2 3 -3.5 3.5 -1 2.5 -3 2.5 -0.5 2 0.5 5.5 -1.5 6 -5 2 -3.5 1.5 -0.5 2 -2 1.5 -3.5 2 -2 3 -0.5 3.5 2 1.5 0 0.5 3.5 7.5 0.5 1.5 -1.5 0.5 -4.5 2 -2 8 -3.5 4 0 2 1 4.5 4.5 2.5 1 3 -0.5 8.5 0.5 3.5 -2 2 -2.5 1.5 0.5 3 -4 7 -0.5 3 1.5 3 3 1 3 2 2 4.5 -1.5 2.5 -2 4.5 0.5 3.5 -1 4 0 5 -1.5 5 0 6 -3 4 -0.5 3.5 1 3 3 15.5 1.5 6 4.5 7 -3.5 2 0 4.5 4.5 2.5 0 1.5 -1 2.5 -5 3 -2.5 6 0.5 0.5 -0.5 -1 -3 0 -2 1 -1 1.5 -0.5 3.5 0.5 5.5 -1.5 2.5 1.5 2 3.5 0.5 3 2 2 2.5 1 4.5 0.5 2 4 3.5 0.5 3 -1.5 2 0 3.5 3.5 3.5 2 1.5 -4 2 5 4 -1 4 -2.5 2.5 1 3 0 1.5 -1 1 -5 3.5 -4 0 -1.5 -4 -2.5 -2.5 -3 -0.5 -2.5 1.5 -1.5 5.5 2 2.5 3.5 0.5 4.5 4 1.5 5 -0.5 4 -2.5 7 -1.5 2.5 -1.5 4.5 0 3.5 1 1 -0.5 13 0 1 1.5 1 6 4 -2 -1.5 -1 0 -2 2 -0.5 1 1.5 0.5 -2.5 2 -1.5 1.5 0 1.5 -1.5 1 -3 2.5 -2 3 0 2.5 1 2 -1 1.5 2 2.5 1 4 3.5 2.5 1 1.5 2 0.5 -1.5 -1 -3 1.5 -1.5 2 -0.5 7.5 3.5 3 -1 6 1 3 -1 2 -2.5 2.5 -1 5.5 0 3 -1 2.5 1 4 -5 5.5 -15.5 5 -10 15.5 -12.5 9.5 1 8.5 -7zM1150 595l-3.5 2 -0.5 4 4 -3zM969.5 581.5l-1 -1 -2.5 0 -3 1.5 -2 2.5 -4 1 -1 2 -0.5 5.5 1.5 -0.5 7 -7.5 5 -2.5zM1209.5 569l-0.5 -0.5 -3.5 0.5 -4.5 5.5 0 1 1.5 -0.5zM718.5 565l0 1.5 1.5 1.5 0.5 -1zM1337.5 544l-0.5 1 0.5 7 1 1 4 0 -3 -8.5zM565 545l-2 2 -0.5 4.5 -3.5 4.5 0 1 1 1 2.5 0.5 1.5 1.5 4 8 2.5 2.5 2.5 7.5 1.5 1 2 0 7 -2.5 3.5 6 4.5 4 5.5 2.5 1 1 0 2 2 2 2.5 1 2 2 6 0 -3.5 -3.5 -3 -5 -3 -1.5 -2 0 -4.5 -4 -1 -2.5 0 -3.5 -4 -2 -0.5 -4.5 -1.5 -2.5 0 -2.5 -2 -2.5 0 -1.5 1.5 -2 0 -3 -1 -2.5 -2 -2 -4.5 -1.5 -2.5 -5 -3 -2.5 -2.5 0.5 -2 2.5 -2 -2zM410 534.5l2 1.5 0 1.5 -1 1 -1 0 -1 -1.5 0 -1.5zM357 524.5l-0.5 4 3.5 3 4.5 -1.5 0 -1 -3.5 -3zM372.5 518.5l-0.5 3 1.5 0.5 0.5 -2.5zM422.5 516l-2.5 0.5 0 4.5 -1 1 -5 -0.5 -1 1 -0.5 8.5 -1 1.5 0 1.5 -3 0.5 -2.5 1.5 0.5 4 5 4.5 2.5 5.5 0 3 -1 2 0 5 2.5 9.5 1 9.5 2 0 1.5 -1.5 1 -9.5 -2 -12 0 -7.5 -1.5 -8 0 -5.5 1 -2.5 -0.5 -2.5 0.5 -2 4 -2 1 -1.5 0 -8zM345.5 514l0 1.5 3.5 0 -0.5 -1zM441 520l0 3 1 2 1.5 9 3.5 4.5 4 1.5 6 0.5 7.5 -1.5 0.5 -0.5 -2 -1.5 1.5 -0.5 7 2.5 7 -0.5 7.5 1 11.5 3 3.5 0 8 -2.5 2.5 -3 -0.5 -2.5 -6 -10 0 -1.5 1.5 -3 -1.5 -3 -3 0.5 -0.5 4.5 -3.5 2 -5.5 -1 -4.5 -5.5 -2.5 -0.5 -7 9 -9.5 -1.5 -4 -1.5 -11.5 -10.5 -1.5 0 -3 1.5zM357 509l-0.5 -0.5 -1.5 1.5 -2 0.5 -0.5 2 3 0zM353 504.5l-0.5 1 2 1 0 -1.5zM453 501l-0.5 2 0.5 1.5 1 0.5 1 -1 0 -2zM358 492.5l1.5 1.5 1 0 0.5 -1zM335.5 488l0 1.5 1 1 3 0.5 1 1 -2.5 5 0 2 5 1 4 -0.5 1.5 -3 2 -2 1 1 1.5 -0.5 2.5 1.5 2.5 0 0 -1.5 -2 -2 -5.5 -1.5 -2.5 -3 -1.5 -0.5 -3 -3 -0.5 -1.5 -3 2 -2.5 0.5zM828.5 475l2 1.5 1 2 -0.5 1.5 -1.5 0 -1.5 -1.5 -0.5 -2zM346.5 475.5l-1.5 -0.5 -2.5 2.5 -0.5 2 2 -0.5 2 -2zM1320.5 474l2 -2 2 0.5 -2 2zM878.5 469.5l-4.5 3.5 -2 0 -1 -1 0.5 -1.5 3 -0.5 1.5 -1.5 1.5 0zM619 467l-2.5 -0.5 -3 1.5 -1.5 1.5 0.5 2 -8 8 -1.5 0 -2 -2.5 -2 1 0 2 1.5 2 0 1.5 -3 4.5 -2 6.5 -2 2 -3 1 -1.5 1.5 -1 4 -2 4 0 5.5 -4.5 4 -2 3 -2.5 1 -4.5 5.5 -2.5 0 -5.5 2 -3 -3 -0.5 3 1.5 2 1 0.5 7.5 -0.5 5 2.5 3.5 0 2 1 6 1 3 2.5 0 3.5 2 0 5.5 -5 11 -1.5 9.5 -3 8 0.5 1.5 -1 -1 -4 0.5 -6 -1.5 -3 -1 -0.5 -3 0.5 -1 2.5 0 2.5 -1.5 1.5 -1 0 -2 -2 -1.5 -3.5 -5 -0.5 -3.5 -3 -2 -3.5 -0.5 -3 -3 -2.5 1 -1.5 3.5 0 9 -2.5 1.5 -2 0 -3.5 3.5 -3.5 -0.5 -1.5 -2 -2 1 -5.5 3.5 -6 -0.5 -9zM1334 463.5l0.5 1.5 -3 2 -0.5 -1zM1259.5 460.5l0 1.5 -0.5 0.5 -0.5 -0.5 0.5 4 -0.5 4.5 2 3.5 1.5 -1.5 2.5 1 6 -4.5 -6 -4.5 -2.5 -4zM842 460l-0.5 0.5 0.5 2 1.5 1.5 -0.5 -3zM1354.5 451l-2 3 -4.5 1.5 -0.5 -0.5 3.5 -4 2 -1zM1248.5 449l-2 0 -2 1 -0.5 3 1.5 2 4 -3.5 0 -1.5zM999 449l2 -1 1 1.5 -2 1zM1337.5 437l-3 0 -2 1.5 -3 0.5 -1.5 1.5 0.5 3 -2 1.5 -2.5 0 0 1.5 1 1 -4.5 3.5 -3.5 0 -4 1.5 -1.5 1.5 -0.5 2.5 0.5 1.5 5 -3 3 -3 7 -5 1 0.5 0.5 2.5 3 0.5 0 -2.5 2 -2 0.5 -2 2.5 -2 0.5 -2 -0.5 -0.5zM326 419l-2.5 3 -3.5 7 -4.5 19.5 1 7 -0.5 4 1 6 -1 1.5 -3.5 -1.5 -2 0 -12.5 6.5 -0.5 1.5 2.5 5 10 12.5 10 5.5 -0.5 1 -2.5 -1 -2.5 0 -1 1 1.5 1.5 4 0.5 2.5 3 10.5 0 1 -1 1.5 -6 -3 -9 0 -3 1.5 -2 7 1.5 0.5 -2 -3.5 -1 -1.5 -3 -3 0 -3 -3.5 1 -4.5 -1.5 -1 -3 0 -2.5 -2.5 -1.5 -4.5 -1 -7.5 0.5 -1 -0.5 -2.5 2 -1.5 2.5 -0.5 0 -1.5 -1.5 -3 -0.5 -8.5 3.5 -9 1.5 -2 1 0 3 3 2 6 0 5 3.5 6.5 0.5 4 5.5 10 1 4.5 1 2 6 5.5 5 8 -1 2 0.5 1 1 -0.5 5 8.5 -0.5 1.5 2 1 1 5 4.5 8.5 2 5.5 0 2 1.5 0.5 2.5 2.5 2.5 5 2 1.5 1 2 -0.5 0.5 0.5 3 5.5 5.5 5 2 3 3 6.5 12.5 2.5 9.5 0 5.5 -3.5 4.5 0 2 2 1 1.5 2.5 1.5 9.5 -4 2 -4 1 -5.5 0 -7 -1.5 -6 -9.5 -8 -17 -5 -8 -3.5 -8.5 -5.5 -7 -1.5 -3 -0.5 -3 -2.5 -4.5 -2 -2 -3 0 -1.5 -1.5 -3.5 -6.5 0 -2.5 -7 -7 -4 -0.5 -1 1.5 2 3 -0.5 8 4 9.5 0.5 3.5 2 4 1 4 3.5 6.5 2.5 10.5 3.5 4 0.5 5 1.5 2 1 0 2.5 -3 1 1 5 10 3.5 2 2 4 0 1.5 -1 1 0 2 1 1 2.5 1 2.5 2.5 2.5 -1 4 2.5 1.5 1.5 0 1.5 3 3 3 1 3.5 3 10 2 4.5 3.5 2 -2 1 0 3 3.5 2 1 2.5 0 3 1.5 9 -0.5 7 1 6 -0.5 4.5 1 5 4.5 2.5 0 8.5 -7.5 6.5 0.5 3 -4.5 -2.5 -4 1 -4 -3 -3 -2.5 0 -2.5 -1.5 -6 1.5 -10 -0.5 -2.5 1 -4 0 -3 3 -4 0.5 -3 -1.5 -5.5 -0.5 -2 -3 -0.5 -3.5 -2 -2 -5 -2 -1 -9.5 -1 -2.5 0 -7 -1.5 -4.5 0.5 -8.5 -1 -4.5 -5 -6 -4.5 -8.5 -4.5 -5 -3 -2 -1.5 -2.5 -1.5 -5 -12.5 -15.5 -2 -5 0 -2.5 -4 -6 -1.5 -8 0 -3.5 -1 -1.5 -2.5 -0.5 -2.5 -2 -4 -7.5 -1 -3.5 -4 -3.5 -4.5 -10 -1 -4.5 -3 -3.5 -0.5 -3.5 -2 -4 -0.5 -3 -8 -14.5 -3 -1.5zM1396.5 467l-3.5 -3 -1.5 -6 -1 -1 -3.5 -1 -4.5 -5 -1.5 1.5 -0.5 2.5 -3 1.5 -3.5 -1.5 -3 -6 -6 -5.5 -2 0 -3.5 2.5 -1 0 -0.5 -2 3.5 -2.5 0 -2.5 -2.5 -1.5 -2 1.5 -1 4 -2 1.5 -4 -0.5 -1 0.5 -1 2.5 -4 2 -1 -0.5 0 -1 -1.5 0 -7 4.5 -2.5 -0.5 -2.5 2.5 0.5 1 -10 5.5 -2.5 3 0.5 1.5 -1 1.5 -6 5 -7.5 4 -8 1 -2 2 1 2.5 -1.5 2 -5 2.5 -1.5 -0.5 1.5 -2 -2 0.5 -10 9.5 -1 2 2.5 4.5 1 0.5 3 -0.5 4 -2.5 1 1 -11.5 9 -2.5 1 -8.5 6 0.5 4.5 18 -12 5.5 -4.5 1.5 0.5 -3.5 3.5 -4 2 -2.5 2.5 -4.5 2.5 -2.5 2.5 -8 5.5 -0.5 3 1 0 8 -5 7 -2.5 0.5 0.5 -0.5 1.5 -4 4 1.5 2 -0.5 4.5 -6 3.5 -2.5 2.5 -3.5 9.5 -1.5 0.5 -1.5 2 -1.5 -1 -2.5 0 -3.5 1.5 -1.5 2 -2 1 -4 0 -3 3.5 -4 1 -3 4.5 -6 -1 -6 2.5 -25.5 19.5 -3.5 2 -2.5 3 -2.5 0.5 -2 -2 -1.5 -0.5 -10 5.5 -0.5 -0.5 3.5 -3 0.5 -1.5 3 -3 12 -9.5 0.5 -1 -1 -1.5 3.5 -4.5 5.5 -2.5 4 -0.5 3.5 -3.5 4 -2 5.5 -4.5 10.5 -3.5 -4 -2 -7 -1 -3.5 -2 -7.5 1 -5 -3.5 -2.5 -0.5 -6.5 0.5 -0.5 -1 1 -1 3 -0.5 2.5 -2 10.5 -2 5.5 -3 6 -1.5 5.5 -6 1 -7 2 -2 3 -1.5 1 -2 0 -3.5 1 -2.5 2 -2 5 -2.5 1 -3 2.5 -3.5 0 -6 1.5 -1.5 2.5 -1 1.5 -2 -0.5 -6.5 4 -5.5 0 -1.5 -0.5 -0.5 0 -6.5 -4.5 -6 -2 -0.5 -3.5 3 -1 -1.5 -1.5 -0.5 -1 -2 -1.5 2.5 -3.5 0 -1.5 -0.5 -3.5 -4.5 -3 0 -2 1.5 -1.5 4 -4.5 3.5 -0.5 -2 1 -1 0 -3 -2 0 -2 1.5 -3 0 -5 -5 -4.5 2 -4.5 0 -5.5 2.5 -3 -0.5 -3 -2 -3 0.5 -3 -1 -2 1.5 -2 3 -1 0 -0.5 -2.5 2.5 -3.5 -1.5 -0.5 -1.5 2.5 -3 1 -4 3.5 -7.5 2.5 -3 -2 -0.5 -2 -1.5 -1.5 -3.5 -0.5 -2.5 -2 -6 4 -4.5 0.5 -3 2 -2 0 -1 -1 0.5 -3 2.5 -1.5 -0.5 -1.5 -4 -3.5 -1.5 -2.5 -0.5 0 -0.5 2.5 -4.5 -6 3.5 -4 -1 -0.5 -2.5 1.5 -1.5 0 -2 -3 -1.5 -1 -5.5 0 -2.5 -2 -1.5 -4 -3 -0.5 -3 2.5 -0.5 5 -3 1.5 -0.5 3 -1 1 -2.5 0.5 -1.5 1.5 -5 0 -2.5 1.5 -0.5 1 0.5 2.5 5 1.5 1 1.5 0 2 -4.5 3 -2.5 3 -4 0.5 -3.5 -2.5 -2 -0.5 -4.5 -4.5 1.5 -6 -3.5 -5 -1.5 1 0 3 -3.5 5 -4 -1.5 -6 0 -0.5 -3.5 -1 -1 -3.5 0 -2 -2.5 -2 2 -5.5 2 -1 3.5 -1 1 -3 0.5 -1 -1 1 -2 0 -2 -1.5 -3 0.5 -2.5 -4 4 -0.5 -1.5 4 -4 0.5 -2.5 -3 -3 -0.5 -10 -1.5 -4 -3 -4.5 -4 1 -3 3 -8.5 1 -3 3 0 4 -1 1.5 -1 0.5 -3 -0.5 -2 1.5 -2 0 -5 4.5 1.5 0 1.5 1.5 1 2.5 2.5 1.5 -2 2.5 -2 0 -1.5 -1.5 -2 0 -7 4 -4.5 -0.5 -4 -7.5 -1 -0.5 -1 0.5 -3.5 -3 -5 -0.5 -6 -7 -2 -0.5 -1.5 2.5 2 2.5 1.5 7.5 -1.5 3 0 2 1 2 -1 1 -1.5 0 -1 2 -1.5 0 -4 -6 -3.5 -0.5 -4 1.5 -3 -2.5 0 -1 -3 -3.5 0.5 -4 -4.5 -6 -2.5 1.5 -0.5 2.5 -1.5 1.5 -0.5 -5 -1 -1 -4 -1 -2 -3 -6 0 -3 1 -3 4 -1 0.5 -2.5 -0.5 -11.5 6 -2.5 3.5 -3 9 -1.5 1.5 -5 1 -3 5.5 -3.5 -1.5 -2 0 -3.5 4.5 -3 0 1 1.5 0 2 4 1.5 -2.5 6.5 -5.5 -0.5 -3 2.5 -2 0.5 -1 -1 0.5 -2.5 -2 -3 -0.5 0 0.5 1 -0.5 1.5 -1 -1 -3 0 -2 1.5 -2 0 -2.5 -2 -4 -1 0 2 2.5 5.5 -2 2.5 -3 -0.5 1 -1 0 -2 -1.5 1.5 0.5 2.5 -3 6 -2 2 -1.5 -0.5 1.5 -1 0.5 -1.5 -3 -0.5 -1.5 -1 1 -2 0 -2 -1.5 -2.5 -3 -3 -3 -1.5 -4 0.5 -2 2.5 -5.5 3.5 -1.5 3 -2.5 2.5 -0.5 2.5 2.5 2.5 5 0.5 2.5 2.5 0.5 1.5 2 0.5 2.5 2.5 -2 4 0 1.5 3 3.5 0 2 -3 3 -3.5 0.5 -1.5 1 -1.5 0 -1.5 -1 -4.5 0 -2.5 2 -2 0.5 -2 -2 0.5 -2 -1 -2.5 -1.5 0 1 1.5 -0.5 1 -3.5 0 -0.5 -0.5 0.5 -1.5 -2.5 -0.5 -0.5 2 -1.5 1 -1 -1 0 -5.5 -1 -0.5 -1 1.5 -2 -3.5 -1.5 0.5 -0.5 4.5 2 0 0.5 1.5 -6 5.5 -0.5 3 -1.5 2.5 4 2.5 0 1 -2.5 2.5 0 1 4.5 9 -1.5 -4.5 0.5 -1 4 6 2 -2.5 1.5 0.5 0 1 -2.5 3 -0.5 3.5 -6.5 5.5 -1 -8 -2.5 0.5 -2.5 3 -2.5 -1.5 -4 0.5 -3.5 -1.5 -7 0 -0.5 -0.5 -0.5 3 -2 2.5 -6 2.5 -3 -1.5 0.5 4 5 7 -1.5 3 -4.5 4.5 -4.5 1 -3 2.5 -3 0 -5 -2.5 -3 0 -1.5 1.5 1 2.5 1.5 1 -1 1.5 -3.5 0 -3.5 2.5 -3 0.5 -4 3.5 -2.5 1 -2 2.5 -3 2 -3.5 6 0 2 2.5 2.5 -0.5 5.5 -1.5 1.5 -3 0.5 0 4 -2 2.5 -4 -1 -1.5 2 0 2 5.5 9 3.5 1 0.5 5.5 -1 2 0 5.5 -1.5 3 -3.5 -4.5 -6 0.5 -3 -1 -1.5 -1.5 -1 -4 -4 -7 -2.5 -8 -2 -3 -2.5 -7.5 0.5 -6 5 -11 1 -6 2.5 -5 -3 -0.5 -5.5 2 -4 0 -2 2 -1.5 6.5 -2 2.5 -2 4.5 -3 0.5 1.5 2.5 0 6 -2 4.5 -2.5 3 -1 3 0 6.5 -0.5 0.5 0.5 2 6.5 5 0 1 -1 0.5 -4.5 -1 -1.5 1 -5.5 12.5 -1.5 6.5 -2.5 3 -2.5 5 -5.5 4.5 -1.5 0 -3 -3 -3.5 -1.5 -6.5 -7 -1.5 1 0.5 1.5 -2.5 5.5 0 3 3 4.5 7 6.5 3 2 5.5 0.5 5 -2.5 4 -5 2.5 -0.5 1 -1 7 -14.5 2 -6.5 0 -2.5 1.5 -2.5 3 2 1.5 -0.5 1 1 0.5 1.5 -0.5 1.5 2 2.5 0 5 0.5 0.5 -0.5 8 3 2.5 1 0 1.5 -1.5 1.5 -3 0 -3.5 3.5 -4.5 1 -3 3 -2 3 -4.5 1 0 3.5 7 2 7 -1.5 2 -2 0.5 -1.5 1.5 -1 2 0.5 2.5 2.5 1 2.5 -1.5 1.5 1.5 2.5 5.5 2 2.5 0 3.5 1.5 0 1 -1 0 -1.5 -2 -4 0 -2 1 -0.5 3.5 3.5 5.5 1 3 1.5 2 2 0 1.5 -2.5 3 1.5 1 2 0 -0.5 -2 1.5 -2 0 -2 -3 -2 -2.5 -3 -1 -4 -2.5 -3.5 -1.5 -10 4 -5 1.5 -0.5 1.5 -2.5 0 -3.5 -1.5 -2.5 -0.5 -7 1.5 -3 1.5 -6 1 -1 2.5 1.5 3 0.5 3 4 8.5 0.5 3 2.5 4.5 1 1 1 8 -0.5 4 1 4.5 2.5 3.5 3.5 4 0.5 2 1 1.5 2.5 7 -1 2 2 1.5 0.5 5.5 -3 4 -0.5 7 -4 1 -1.5 -1.5 -3 0 -3 2.5 -3.5 -1.5 -5 3 -5 0 -6 4.5 -13 0.5 -9 1.5 -1.5 2 0 1.5 -1 3 1.5 2.5 0 3 -2 2.5 -2.5 2 -4.5 1.5 -1.5 2.5 0 2.5 -1.5 2.5 -3 2.5 -1 1.5 -1.5 1 -2.5 4 -3.5 6 0 3.5 1.5 5 -1 3 1.5 2.5 0 7 -2 4 -2.5 3 0.5 2.5 3 3.5 1.5 2 -2.5 5 -1.5 3.5 0 6.5 1.5 9.5 -0.5 5.5 1 5 2 3.5 4.5 4 2.5 8.5 -0.5 4 -1 3 2 1.5 0 6 2.5 4.5 0 3.5 2.5 5 0.5 4 3 3 1 2.5 -0.5 4 -2.5 4 -1 5.5 1 2.5 1.5 2.5 0 3.5 -2 5 0 1.5 1 1.5 -1 0.5 -2.5 4.5 -4 4.5 0.5 4.5 -0.5 0.5 -3 -2 -4 0 -1.5 3 -3 3 -1.5 5.5 -1 1 -1.5 0.5 -3 1 -1 5.5 -1.5 2.5 -2 2 1.5 0.5 2 3 -2.5 5 -0.5 1 -1 -0.5 -3 1 -7.5 2.5 -2.5 3 1.5 2.5 3.5 2 0.5 2 2 0.5 1.5 2 0 2.5 2.5 0.5 1.5 5 -1.5 3 -3 5 -0.5 0.5 0.5 -1 2 0.5 1 5.5 -1 5.5 5 0.5 5 9.5 -0.5 1.5 2.5 -0.5 4.5 -2 2 -3.5 0 -2 2.5 1 3 -2.5 3 4 4 0 2 2.5 4.5 1.5 1 6.5 0.5 2 1 9 9 4 1 3.5 0 4.5 -3.5 3.5 0 3 1.5 5 -1.5 4.5 -3.5 4.5 -1 0.5 0.5 -2 3 -6 4 -4.5 4.5 0.5 2 12 -8 -1 -1.5 2 -1.5 7.5 -1 2 -2 2.5 -0.5 0.5 1.5 -4 4.5 0 1 2.5 -0.5 9 -8 10.5 -7 0.5 1 -8.5 9 -3.5 1.5 -5.5 4.5 0 2 3 1.5 -0.5 1.5 3.5 -2 2 0.5 -4.5 5.5 0 1 3 0.5 -0.5 8 2 -0.5 8.5 0.5 2 -1 7 0 3 -2 7 -1.5 4.5 -3.5 1 -2.5 -0.5 -2.5 -4.5 -2.5 1.5 -4 2.5 -3 4 -2 5 -4 3 0 1.5 1.5 1 0 3 -2.5 0 -1.5 2 -3 1.5 0 1 1 4.5 -1 1.5 1.5 3.5 -2 2 0 1.5 1 4 0 5 2.5 3 3 2.5 5.5 2.5 0.5 1 -2.5 1 -1 2.5 -0.5 1 -2 6.5 -6.5 3 -2 2 0 0.5 -1 -1 -2 2 -2 10.5 -3.5 8 -5 0 -7 2.5 -3.5 1 -3 2 -2 7 3 3 2.5 2.5 -0.5 6 0.5 4 -0.5 3.5 -1.5 4 -4.5 3 1 2 -2 3 0.5 0.5 4 2 -1.5 1 0 4 -4 6.5 0 0.5 0.5 4.5 -0.5 2 -2 0 -1 -1 -0.5 -1 -2 1 -3 3.5 -3 5 -1 3.5 -5 0.5 1 -2 3.5 1 -0.5 3.5 -7.5 5.5 -9 -0.5 -0.5 0 -6 4.5 -9 -0.5 -7.5 -6 -12.5 -1.5 -6.5 0.5 -0.5 1 1 2.5 5.5 7 5.5 2 0z"/>
<path fill="#e6ee1c" fill-rule="evenodd" d="M1266 833l-3 3.5 -1 5 -1.5 2 0 4.5 3.5 4 3 1 2 -5 1.5 -8 -1.5 -1.5 -1.5 -4.5zM888.5 782.5l-2 1 0 2.5zM907 771l-13 8 -6.5 7.5 0 2 -2.5 3 -1.5 4 -0.5 -0.5 0.5 2 -0.5 0.5 -0.5 -1 0.5 2 -1 0.5 0.5 1.5 -0.5 1.5 -1 0.5 1 4.5 -0.5 5 -1 1 -1 -0.5 -1.5 0.5 -1 4 0.5 2.5 6.5 1.5 5 -1 -1 -15 1.5 -5.5 5.5 -10.5 6.5 -7 6.5 -5.5zM1235.5 768l2.5 2 1 2.5 3 3.5 1.5 0 2 -1.5 1 1 -2 3.5 0 5.5 -1 2 -3.5 2.5 -0.5 1.5 2.5 5 0 3 -2.5 3 -3 1.5 -4.5 -0.5 -2 -2 -0.5 -3 1 -1 2.5 -0.5 1 -1.5 -1 -2 -2 0 -2 3.5 -0.5 -0.5 0 -2 1.5 -3.5 -0.5 -1.5 0.5 -4.5 8 -5.5 -0.5 -6 -3 -3zM818.5 767.5l0 1.5 6 5.5 0 2 4 1.5 2 2.5 2 1 7.5 -0.5 10 6 4 0 1 1 0 1 -5 6 0.5 5.5 -3 2.5 3 0.5 6 -1.5 1.5 -1.5 1.5 -4 3.5 -4 6 -1 3.5 0.5 3.5 -0.5 0 -4 1.5 -3.5 3 -2.5 1 -2.5 1.5 -1.5 3.5 -2 0.5 -2.5 -5.5 -4.5 -1.5 -3.5 -4.5 0.5 -2.5 1.5 -2 -1.5 -1.5 -3.5 -3.5 0 -2 1 -3.5 4.5 -3.5 1 -4 3 -3.5 -1.5 -2.5 0 -2 -1.5 -0.5 -9 -1 -1 -3 1 -5 -4 -2.5 0 -2 1 -4 0 -3 -1.5 -3 1 0.5 6.5zM1226.5 746l-6 5 -1 4.5 -4 4 -0.5 6.5 1 5.5 -0.5 1.5 -3 2.5 2.5 2 0 3 -1 3 0.5 2.5 6.5 7.5 7.5 4 0.5 3 -2.5 6 -1.5 1.5 0 3.5 5 5 1.5 0.5 0.5 -2 5 -5 1.5 -6.5 5.5 -6 2 -1 3.5 0.5 1.5 1.5 0.5 2.5 2.5 2.5 3 1 3 3 1.5 0 0.5 -4 -1.5 -2.5 0 -2 1.5 -3 0.5 -6 -1 -2 -0.5 -9.5 -2 -3.5 0.5 -3.5 -4 -14.5 -2 0.5 -3.5 -0.5 -2 -2 0 -4 -1 -1 -2.5 -0.5 -3 0.5 -3.5 -3 -2 0 -3 2 -2.5 0 -2.5 -2.5zM840.5 694.5l-1.5 3 0.5 1.5 -1 1.5 -4.5 0 -4.5 4.5 -5 0 -0.5 0.5 -3 -0.5 -6 3.5 -4.5 0 -1 -1 2 -4.5 3.5 -3.5 0.5 -2.5 3 -2.5 4.5 0.5 6.5 -5 7 0.5zM1289 638.5l-3.5 0 -3.5 -1 -3.5 1 -1.5 -0.5 -4.5 -5 -1 -2.5 -1.5 0 -5 -6.5 -4.5 -2 -2.5 -2 -2.5 0 -3.5 3 -1.5 0.5 -3.5 0 -2 -1 -2 2.5 -3.5 0 -2.5 2.5 -5.5 1.5 -2 2 -2 4.5 -4.5 4 -5.5 7 -4.5 0.5 -7.5 4 -3 0 -2 1 -2 2 -1.5 0.5 -0.5 2.5 -1.5 1.5 -2.5 1 -2 0 -3.5 -2.5 -3 0 -7.5 4.5 -8.5 9.5 -7 3.5 -2.5 -1.5 -0.5 -5 -1 -1.5 -0.5 0.5 0.5 4 -4.5 5.5 -2 0 -2 -2.5 -3.5 -2 0 -3 1.5 -3.5 0 -3.5 -5.5 -1 -4 -4.5 0 -3.5 -1 -1.5 -9 0.5 -1.5 1.5 -0.5 4.5 -5 5 -4 0 -4 -2.5 -2 0.5 -2 2 -1.5 0 -5 -4 -4.5 0.5 -2.5 -1.5 -7.5 0.5 -1.5 -1 -2.5 0 -2 1.5 -0.5 1.5 -2 2 -5.5 -1 -1.5 2.5 -6 3.5 -4 -2 -2.5 -3.5 -5.5 -5 -1.5 -3 0 -1.5 -1.5 -2 -3.5 -0.5 -3 -2.5 -2 -6 -4.5 -1 -2 -2 -1 -3 -1.5 -1 -3 0 -5 4.5 -7.5 11 -2 -0.5 -2.5 -2 -4 0 -2 2 -3 1.5 -3.5 0.5 -1.5 1 -5 0 -8.5 -6.5 -2 -0.5 -2.5 0.5 -2 1.5 -2 0 -4 -2 -3 0 -2.5 1.5 -4.5 4.5 -3.5 1.5 -2.5 -0.5 -4.5 5 -4 0 -4 -2.5 -2.5 0 -3 1.5 -2.5 -2 -4 0 -5.5 4 -4 5 -8 0 -2.5 -1.5 -2 -2.5 -1.5 -5.5 -1.5 -1.5 -1.5 0 -4 -5.5 -2.5 -1 -7 -7 -5 3 -3.5 0 -1 3.5 0 5 -1 1 -1.5 -0.5 1.5 8 1.5 3 2.5 2 -0.5 1.5 -3 3 -4 1 -2 2 -3 1.5 -2.5 -0.5 -3.5 0.5 -7 6.5 -5.5 1.5 -2.5 3 -3 1.5 -4 -1.5 -6 -5 -6 -1 -7 0 -4 -2.5 -2.5 1.5 0.5 5 -2.5 2.5 -3.5 -1.5 -2 0 -2 -2 -2.5 1.5 -2.5 0 -1.5 -1 -5 0.5 -2.5 -2 -0.5 -4 -2.5 -1.5 -2.5 -3.5 -6 1.5 -6 0 -4.5 -1 -2 3 -5 1 -1.5 1.5 0 1.5 -1 1 -3.5 0 -6 2 -2.5 -2 -1 0 -2 -3 -5 -5 -1.5 -0.5 -4.5 2 -1 3.5 -3 4.5 -0.5 5 2 3.5 0.5 8 1.5 1.5 3 0 1.5 1.5 1.5 4.5 10 9 8.5 1.5 3.5 4 1.5 5 5.5 0.5 1.5 -1 1 -2.5 3 -2.5 2 0 8.5 4 3.5 0 3 2 5.5 1 1.5 -0.5 3.5 -3 3.5 0.5 1 1 -0.5 5.5 1 3.5 1.5 1.5 2 0.5 4 -0.5 2.5 3 2 4 3 -3 1.5 0 2 -1.5 1.5 -5.5 1.5 -2 2.5 -0.5 8 2 3 -3.5 2.5 -0.5 2 -2.5 2 -1 3 0 6.5 -1.5 6 -5 2 -3.5 3 -2 1 -2.5 2.5 -3 3.5 -1 4 2 1.5 0 1 1 -0.5 1 0.5 1 6 0.5 1 -1 1 -4 2.5 -2.5 9 -3.5 4 0.5 5.5 5 2 1 3.5 -0.5 8.5 0.5 3.5 -2.5 1 -2.5 2.5 0.5 3.5 -3.5 6 -0.5 4 2 3 3 0.5 2.5 1.5 2 2.5 0 4.5 -3 4 0.5 2 -1 5 0 5.5 -1.5 7 -0.5 4.5 -2.5 6 -0.5 2 0.5 3 3 16 2 5 4 4 -1 3.5 -2.5 2 0 4.5 4.5 2.5 0 2 -2 1.5 -4 3.5 -2.5 4 0.5 2 -0.5 -1 -4.5 1.5 -1.5 5.5 0 2.5 -1 3 0 3 2.5 1.5 2.5 0 2.5 2.5 2.5 6.5 0.5 3 4.5 3.5 0 2.5 -1.5 1.5 0 4.5 4.5 2.5 1.5 1.5 -3.5 1.5 3.5 2 0.5 6.5 -3 5 1 1.5 -1.5 0.5 -5 2 -4 -4 -3 -2 -4 0.5 -1.5 2.5 -2.5 5 2.5 3 3 1 4 1.5 1.5 2.5 1 4 -0.5 4.5 -2.5 6 -1 3 -1.5 6 0 0.5 0.5 17 -0.5 0.5 2.5 1 0.5 3 -2.5 6.5 -1.5 2.5 -4.5 2.5 -1.5 3 0.5 4.5 -0.5 2 2.5 5.5 3 7 -3 7 4 5.5 -1 3 1.5 4 -1.5 3 -3 5.5 0 5 -1.5 1.5 1 4 -4.5 6 -15.5 5 -10 15.5 -12.5 9.5 1 8.5 -7zM1150 595l-3.5 2.5 -0.5 3 4 -2.5zM366.5 584l0.5 -0.5 2 2.5 -0.5 0.5 -1 -0.5zM968 581l-2.5 0 -3.5 4.5 -3.5 1 -1.5 2.5 1 0.5 4.5 -4.5 5.5 -3zM1209.5 569l-0.5 -0.5 -3.5 0.5 -4.5 5.5 0 1 6 -4zM565 545.5l-2 2 -0.5 5 -3.5 4 1.5 1.5 1.5 0 2 1.5 0.5 2.5 7 10 1.5 6 3 1 8 -3 3 6 6 5 4 1.5 1.5 1.5 0 2 1 1 3.5 1 3 2.5 4 0 -4 -4 -2.5 -4 -2 -1 -2 1 -4.5 -4.5 -1.5 -2.5 0 -4 -2.5 -1 -2 -2 -0.5 -4.5 -1 -1 -0.5 -3.5 -2.5 -1.5 0 -3 1.5 -2 -0.5 -4.5 -3 -2.5 -3 -0.5 -1.5 -1.5 -1.5 -4.5 -2 -2 -2 0 -3 3.5 -1.5 0 -1 -2zM358 526.5l0.5 2 2.5 1.5 1 -0.5 -1.5 -3 -1 -0.5zM422 516l-2 1 0 4 -1 1 -5.5 0 -0.5 0.5 -0.5 9 -1 3 0.5 3.5 -1.5 1 -1.5 -1.5 -0.5 -2 -1.5 0 -1 1 0.5 3 5.5 5.5 2 4.5 0.5 3 -1.5 3 0 4 3 11 0.5 3.5 -0.5 4.5 0.5 0.5 2 0 1 -1 1 -6 0 -7.5 -2 -12.5 0.5 -3 -1.5 -8 0 -6.5 1 -2.5 -0.5 -1.5 0.5 -3 3.5 -1.5 1.5 -1.5 -0.5 -5 0.5 -2.5zM441 520.5l2 11.5 1 2.5 3 4 4.5 1.5 3.5 0.5 5 -0.5 4 -1.5 -2.5 -2 2.5 -0.5 8 3 2.5 -0.5 10.5 0.5 8.5 2.5 6.5 1 8 -2 3 -3 0 -2.5 -6 -10 0 -2.5 1 -1.5 0 -3 -1 -1 -2 0 -1 1 0 4 -1.5 1.5 -2.5 1 -6 -1.5 -5 -6 -1 0 -1.5 1 -5.5 8 -3.5 0 -10 -2.5 -8 -6.5 -3.5 -4 -2.5 0 -7.5 4.5zM453.5 501l-0.5 3 1.5 0.5 0.5 -2.5zM834 498l1 2 -1 2 -1.5 1.5 -1 0 -1 -4.5 1 -1zM790.5 498.5l-0.5 3 1.5 -0.5 0 -1.5zM314 497.5l1.5 1.5 3 -0.5 -2 -1.5zM335.5 488l0 1.5 1 1 3 0.5 1 1 0 1.5 -2.5 4 1 2 7.5 0 1.5 -1 1 -3 1.5 -1 2 0 3.5 2 2 0 -1.5 -3 -6.5 -2 -3 -3.5 -1.5 -0.5 -2 -2 -0.5 -1.5 -6 2.5zM820 483.5l1 -0.5 1.5 2 -1.5 0.5zM1324.5 471l0.5 0.5 -0.5 1.5 -3.5 2 -0.5 -1.5 1.5 -1.5zM619.5 467.5l-2.5 -1 -4.5 3 0.5 2 -8.5 8.5 -1.5 0 -2 -2.5 -1.5 0 -0.5 1.5 2 2.5 0 2 -2.5 3 -1 4 -2 4 -2 2 -4 2 -3.5 9 0 5 -4 3.5 -3 4 -1.5 0.5 -2 2 -0.5 1.5 -2 2 -4.5 0.5 -2.5 1.5 -2 0 -2.5 -1.5 0 2 1 1.5 4 0.5 3 -1 6.5 3 3.5 0 2 1 6.5 1 2 1.5 1 4.5 1.5 0 4.5 -4.5 2 -1 9.5 -1 9.5 -3 8.5 0.5 1.5 -1.5 -1 -3 0 -7.5 -2 -2.5 -2 0 -1.5 2 -1 4.5 -2.5 0.5 -1.5 -1.5 -2 -4 -3.5 0 -2.5 -1 -1.5 -1.5 -3 -5 -0.5 -2.5 -3 -3 2.5 -1.5 3.5 0 5 -2 2 0 2 -1.5 0.5 -5 3 -2 0 -1.5 -2 -2 0 -3.5 4.5 -9 -0.5 -8.5zM1335 464l-2 2.5 -1 0.5 -1.5 -0.5 2 -2.5 1 -0.5zM1260.5 461.5l0 2.5 -0.5 0.5 -0.5 -0.5 0 4 2 -0.5 2 4 1 0.5 5 -2.5zM995 450.5l0.5 1 -2 1.5 -0.5 -1zM1355 450.5l-0.5 1.5 -2.5 2.5 -3 0.5 -1.5 1 -0.5 -0.5 4.5 -5 2 -1zM1248.5 450l-2.5 0.5 -0.5 2.5 1.5 0 1.5 -1.5zM1330 447.5l-1.5 0.5 0 1.5 1 0.5 1 -0.5zM939.5 443l1 1.5 -1.5 1 -0.5 -1.5zM1360.5 439l-2 -0.5 -1 1.5 0 2 3 -1zM1335 438.5l-1.5 1 -4 0.5 -0.5 3.5 -1.5 0.5 -2 3 -5 4 -3 0 -3.5 1.5 -2.5 3.5 0 2 5 -3 4 -4 8 -5 2 -2 2 1.5 0.5 -2.5 3 -2.5zM327.5 418l-2 1.5 -5.5 9.5 -2 8 0 2.5 -2.5 9.5 1 3.5 -0.5 6.5 1 7 -2 1 -3.5 -1.5 -6 2.5 -2.5 2 -2.5 0.5 -3 2.5 2 4.5 11.5 14 8 3.5 2 2 -0.5 4 1.5 1.5 5.5 0 5.5 -1 1 -3 0 -4.5 -3 -8.5 2 -7 -4 -5 1 -4.5 -4.5 -1 -3 -4.5 -1.5 -9.5 0 -4.5 1 -1 2.5 0 1 -1 -1.5 -3.5 -0.5 -9.5 1 -3.5 3 -6 1.5 -1.5 4.5 5 1 4 0 5 3.5 6.5 0.5 4 6 11.5 1.5 5.5 5 4 4.5 6.5 2.5 5 0.5 2.5 6 10 1 5 4 7 2.5 7.5 3.5 3 2.5 5 3 3 0 4 5.5 6 5.5 2 5.5 7.5 1 3.5 3 5 2.5 11 -1 5.5 -3 2.5 0 1.5 3.5 3.5 2 9.5 -4 2.5 -3.5 1 -7 0 -6 -1 -2 -2 -0.5 -2 -2.5 -3 -9.5 -19.5 -7 -12.5 -1 -3.5 -2.5 -2.5 -5 -7.5 -2 -6.5 -3 -3.5 -2.5 0.5 -1.5 -1.5 -4 -7 -1 -3.5 -4 -3.5 -2 -3 -3.5 -0.5 -1 0.5 1.5 3.5 -0.5 8 4.5 11 0 2 2 4 1 4 4.5 9 1.5 7.5 4 4.5 0 5.5 2 2 3 -3.5 5 7.5 1 3.5 3.5 2 2 4 1.5 1.5 -0.5 1 -1.5 0.5 0 2.5 4.5 2 0.5 1 1 0 0.5 -1 1.5 0.5 5.5 4.5 0.5 2 2 2 4 1.5 3 3 10 2 4.5 3.5 2.5 -2.5 4 4 7 2 7 -0.5 4.5 1 14.5 0.5 6.5 5 2 -0.5 7 -7 5 0 0.5 0.5 2 -0.5 2 -3 0 -1.5 -1.5 -2.5 0.5 -5.5 -2.5 -2 -2 0 -2.5 -1.5 -3 0 -6 1.5 -8 -0.5 -5 0.5 -4.5 3.5 -4 0 -1.5 -1 -7 -1 -1.5 -2 -1.5 -5.5 -6 -3 -2.5 -15.5 0.5 -3 -1.5 -4.5 0.5 -6.5 -1 -6.5 -5.5 -7 -4.5 -8.5 -3.5 -4 -4 -3 -2.5 -6.5 -12.5 -16 -2.5 -8 -3 -4 -1 -3 -1.5 -10.5 -5 -2.5 -6 -12 -3.5 -3.5 -2.5 -6.5 -2 -3 -1 -4.5 -3 -3.5 -3 -10.5 -8 -15 -1.5 -1zM1396 467.5l-3.5 -3.5 0 -2.5 -1.5 -3.5 -6 -1.5 -2.5 -5 -2.5 5 -4 0 -2.5 -1.5 -2.5 -5.5 -5.5 -5 -2 -0.5 -4.5 2.5 -1.5 0 -1 -2.5 -2 1 -4.5 -0.5 -2 2.5 -3.5 2 -1.5 0 -1 -1.5 -3 1.5 -13 9 -6.5 3 -1.5 2 0 2.5 -7.5 6.5 -9 4.5 -2 -0.5 -3.5 0.5 -2 2 1 2 -2.5 3 -7.5 3.5 -9 6.5 -0.5 2 2 4 3.5 0 5.5 -3 1 0.5 -3.5 3.5 -3 1.5 -4.5 4 -11 7 -1.5 1.5 0.5 4 17 -11.5 4.5 -4 2.5 -1.5 1.5 0.5 -4.5 4.5 -4 2 -2.5 2.5 -4 2 -3 3 -7.5 5 -0.5 3 8.5 -5 3 -0.5 4.5 -2.5 1.5 0.5 -2 3 -3.5 3 1.5 2 -0.5 4.5 -4.5 2.5 -3.5 3 -2 3.5 -1 3.5 0 3 -1.5 1 -0.5 2 -2.5 3.5 -1.5 -1 0.5 -2.5 -1 -1 -4 0.5 -4 3.5 -2 0.5 -2 -0.5 -3.5 3.5 -4 1 -3 4.5 -6 -1 -5 2 -29 21.5 -3.5 3.5 -3 0.5 -1.5 -2 -1.5 -0.5 -10.5 6 -0.5 -0.5 4 -3.5 0 -1 4 -4 11 -8.5 0.5 -1 -0.5 -2.5 3.5 -4 5 -2.5 5 -1 3 -3 2.5 -1 6 -5 5.5 -2.5 5.5 -1.5 -4 -2 -5.5 -0.5 -5 -2.5 -6.5 1.5 -2.5 -1 -4 -3 -9 0 -0.5 -1 1 -1 3.5 -0.5 3.5 -2.5 9 -1.5 7 -3.5 5 -1 5.5 -5.5 1 -3.5 0 -3 2.5 -3 1.5 -0.5 2 -2 1 -6.5 3 -3 3.5 -1 4.5 -8.5 -1 -5 1.5 -1.5 3 -1 2 -2.5 -1 -6 3 -4.5 0 -2.5 -0.5 -0.5 0 -6.5 -3 -5 -1 -0.5 -1.5 0.5 -1.5 2.5 -2 1 -1 -2.5 -1.5 -1.5 -2 2 -4.5 -0.5 -2.5 -1.5 -1.5 -3.5 -2.5 0 -2 1.5 -1 3 -5.5 4.5 -1.5 -1.5 0 -2 1 -2 -2 0.5 -5 -0.5 -4 -4.5 -1 0 -2 1.5 -5 1 -3.5 3 -3.5 0 -1 1 -1.5 -0.5 -2 -2 -0.5 -1.5 -2.5 0.5 -1.5 -1 -2 0 -4.5 4 -2 -1 0 -2 -2.5 0 -5.5 4 -7.5 2 -2.5 -2.5 -0.5 -2.5 -8 -2.5 -5 3.5 -4.5 1 -2.5 1.5 -3.5 0.5 -3.5 -2 0.5 -6 -4 -7 -2.5 -2 3 -4 -1.5 1 -2.5 0 -3 -4 -7 -0.5 -2.5 -5 -2 -1 -1.5 0.5 -2.5 2.5 0 2.5 1 2.5 -2.5 1 -1 1 0 1.5 -1.5 1.5 -2.5 0.5 -2.5 2 -4.5 -0.5 -3 1.5 0.5 3 4 0.5 1.5 1 0.5 3.5 -8.5 7.5 -3 -0.5 -6 -3 -2.5 -2.5 -1 0.5 -1 -1 0 -3.5 1.5 -2.5 0 -2.5 -3 -3 -0.5 3 -4 5 -1.5 0 -3 -1.5 -7.5 0 -0.5 -0.5 0.5 -3 -4.5 0 -1.5 -2 -4.5 3 -1.5 0 2 1.5 1 3 -0.5 0.5 -2 -0.5 -0.5 3 -3.5 0.5 -5 -5 1.5 -3 -1 -3 -2 1.5 -2.5 0 -1.5 -1.5 6 -5.5 0 -1 -2.5 -3.5 -2 -13 -1.5 0.5 -2 4 -1.5 -0.5 1.5 -5.5 1.5 -1.5 0 -2 -1 -0.5 -3.5 1 -3 3 -4 0.5 -1.5 1 -3 0 -2 2.5 -0.5 4.5 -1.5 1.5 -4 0 -4 4 -1 3 3 2.5 1 3.5 -2.5 3.5 0 2 -1.5 1.5 -4 -1 1 -2 0 -3 -1.5 -1.5 -8 4 -2.5 -0.5 -8.5 0.5 -2 2 -3.5 -5.5 0 -2.5 1.5 -1 3 -0.5 0 -2.5 -2.5 -1.5 -4.5 -0.5 -2.5 -3.5 -3 -3 -1.5 -0.5 -0.5 2 2 3.5 0.5 4 1 2 0 5 -1 2 0 2.5 -0.5 0.5 -2 -0.5 0 1.5 -1.5 0.5 -2.5 -1 -4.5 -6 -3.5 0 -2.5 1 -2 -0.5 -5 -5.5 -0.5 -6 -3 -4.5 -1 1.5 -0.5 3 -3 1.5 -1.5 0 -0.5 -2 1 -3.5 -1 -1.5 -4.5 0 -2.5 -2.5 -1.5 -0.5 -5.5 0 -4 4.5 -3.5 0 -3 2.5 -4 1 -4 2 -3 5 -2 7.5 -1.5 1.5 -4.5 0.5 -1.5 1.5 0 2 -1.5 3 -1 0.5 -1.5 -1.5 -2 -0.5 -4.5 4.5 -1.5 0.5 0.5 2 2.5 0.5 1 1 0 1 -1.5 1 0 2 5.5 4.5 -0.5 0.5 -2 -1 -2.5 0 -2.5 2.5 -2 0.5 -3.5 -3.5 -1.5 0 -2.5 2 -2.5 0 -2.5 -1.5 -1 -3.5 -2.5 0 -3 2 -4 -2.5 -2.5 -0.5 2.5 5 0 1.5 -3 3 -2 0.5 -1.5 1.5 -2 4 -3 3 -4.5 0.5 -2 6.5 -4 -6.5 0.5 -0.5 1.5 1 3 -3.5 4 0 1 -1 -3.5 -1 -5 0.5 -2 -2.5 0.5 -4.5 -1.5 -2.5 -3.5 0.5 -4.5 2.5 -2 2 -0.5 2 -2.5 2 -0.5 1 0.5 2.5 1.5 1 4.5 0 5 4.5 1.5 -0.5 3.5 3 0.5 2 1.5 1.5 0 2.5 -2.5 1 -1.5 -1.5 1.5 -2.5 -1.5 0 -1.5 2 0.5 2.5 3 3 -0.5 2 -3 3 -3.5 0.5 -2.5 1.5 -1.5 0 -2 -1.5 -2 0 -4 3 -2.5 -0.5 -4 -3.5 -2 0 -4.5 2 -3 -0.5 -1.5 -2.5 -3.5 1.5 -2.5 3 -1 4.5 3.5 2 6 6.5 -1 1.5 -2.5 0.5 0 2 1.5 2.5 1.5 -1.5 2 0 1 1 0 1 -2 2 -1 5 -8 6.5 -1 -1 -0.5 -8 -2 1.5 0 1.5 2 2.5 0 2 -1 1 -1 -0.5 -1 -2.5 -3.5 -3 -4 0 -3.5 -1.5 -4 0.5 -3.5 -0.5 -0.5 3 -2 2 -3 1.5 -2.5 3.5 -1.5 -0.5 -1.5 -2 1 3 6 5.5 0 1 -4 3 -3.5 4 -4.5 1 -3.5 3 -3.5 0 -2.5 -2 -3 -1 -2.5 0.5 -0.5 1.5 3.5 3.5 -0.5 1 -5 0.5 -2 1.5 -0.5 1.5 -4.5 0.5 -3 2.5 -3 1 -2.5 3 -2.5 1.5 -3.5 6 0 2 2 0.5 1 -1.5 2 -0.5 1 2 -3 1.5 -1 6 -4 3 -0.5 3 -2 2.5 -4.5 -0.5 -1.5 2 1 3.5 3 3.5 1.5 3 4 0.5 0.5 4.5 -1.5 4.5 0 5.5 -1.5 3 -4.5 -5 -4 1 -2.5 -0.5 -3 -2 -1.5 -5 -5 -9.5 -1 -4.5 -2.5 -4.5 -2 -6 0.5 -7 4.5 -9.5 1.5 -7.5 2 -4.5 -2 -0.5 -5.5 2 -4 0 -2 2 -2 7.5 -2 2.5 -1.5 4 -1.5 1.5 -0.5 8.5 -4 6 -1.5 5 0 6.5 4.5 3.5 2.5 3 -2 0.5 -3.5 -1 -2.5 2 -0.5 2.5 -4 8 -1.5 7 -2.5 3 -2 4.5 -6 5.5 -1.5 0.5 -4 -3.5 -3.5 -1.5 -5.5 -6.5 -1.5 0 0 2 -2.5 5.5 0 2.5 3 4.5 7.5 7 4 2 5 0 3.5 -2 3.5 -4.5 4 -1.5 7.5 -15.5 1.5 -4.5 0.5 -4.5 1.5 -2.5 2 1.5 3 0 1.5 1.5 0 3 1.5 2 0 5 0.5 0.5 -0.5 8.5 2 2 1.5 0 2 -2.5 1 -2.5 -0.5 -1.5 0.5 -2 3 -3.5 0.5 -2.5 4.5 -3.5 2 -3.5 1.5 0 3.5 6.5 2 7 0 1.5 -3 1.5 -2 2 -0.5 2.5 1 1 4 -1 1.5 1.5 2 4.5 2.5 2 0 -3 1 -0.5 4 4 4.5 0.5 4 2 2 2 0 1.5 -2.5 2.5 1.5 1.5 2 0 -0.5 -2 1.5 -2 0 -1.5 -6 -6 -0.5 -3 -2.5 -3.5 -1.5 -8 0 -2.5 2 -3.5 1.5 -1.5 2.5 -1 1 -4.5 -2 -4 -0.5 -4.5 3 -10.5 1.5 -2 3.5 2 3 0.5 2 3.5 3 1 5.5 -0.5 4 3 3 0 2.5 1 3 -2 4.5 0 6 3 1.5 2 3 1 1.5 3 5.5 1.5 2 2.5 7 -1 1.5 1.5 2.5 0.5 4 -2.5 5.5 -1 4.5 -2.5 2 -2 -1.5 -3.5 0 -2 2.5 -4 -1 -6 3 -4.5 0 -6.5 1.5 -3.5 0 -2.5 3 -7.5 0 -7.5 1.5 -1.5 2.5 -0.5 1 -1 4.5 2 3.5 -1.5 4 -4 1 -3.5 2 -2 3 0 1.5 -1 3 -3.5 2.5 -1 1.5 -1.5 1 -2.5 2.5 -2.5 2 -1 5.5 0 2 1 7 0 2 1 3.5 0 2 -1 4 -0.5 5 -3 3 0.5 2 3 3.5 1 2 -2 5.5 -1.5 7 1.5 12 -0.5 5 1 6.5 2.5 2 2 0.5 1.5 4 3 8.5 -0.5 4.5 -1 4 2.5 10.5 2 4 3 5 0.5 5 3.5 3.5 0 4 -2.5 3.5 -1 3 0 5.5 2 3 0 4 -2 6.5 0.5 1.5 -3 3 -3 2 -1 7.5 0.5 1 -1 0 -2.5 -1.5 -2.5 -0.5 -3 2 -1.5 1.5 -5 1 -0.5 2.5 2 4 0 2 -2.5 0 -2.5 1 -1 5.5 -1.5 2 -3 1.5 0.5 2.5 2.5 6.5 -1.5 1.5 -2.5 -0.5 -2 1 -6 2.5 -3 2 0 1.5 1 2.5 3 2 0.5 3 3.5 1.5 0 3.5 4 3.5 -0.5 4 -3.5 9 -1.5 0.5 1.5 -3 1.5 0 1 4.5 -1 6 5.5 -0.5 3.5 0.5 1.5 2.5 0.5 7 -1 2 2.5 -1 6 -2 1.5 -3.5 0 -1.5 1 0 1.5 1.5 2 -1 5 2 2.5 1.5 4 1.5 1.5 6.5 1.5 2.5 1.5 8.5 9 7.5 1 4.5 -3.5 6.5 0 1 1 1.5 0 3 -1 5 -3.5 4 -1 0.5 0.5 -2 3 -10.5 8.5 0 2.5 12 -8 -1 -1.5 2 -1.5 7.5 -1 2 -2 3 -0.5 0.5 1.5 -4 3.5 -0.5 1.5 0.5 0.5 2.5 -1 6.5 -6 8 -6 5 -2.5 0.5 1 -9.5 9.5 -3.5 1.5 -4.5 3.5 -0.5 2.5 3 1.5 -0.5 1.5 4 -2.5 1.5 0.5 -4.5 6 0 1 3 0.5 -0.5 3 0.5 5 3.5 -1 3.5 1 2.5 0 4 -1.5 5.5 0.5 4 -2.5 4.5 -0.5 2.5 -1 4 -4 0 -3.5 -1.5 -1.5 -3 -1 1 -4 3.5 -4 9 -6 2 0 3 1.5 2.5 -2.5 0 -1.5 1 -1.5 2.5 -2 3.5 0.5 4 -1.5 0.5 2.5 4 -2 3 1.5 4 0 6.5 4 4 7.5 1.5 0 1.5 -4 3 -0.5 4 -3.5 2.5 -4 5 -3.5 1.5 -3 13 -5 6.5 -4.5 0 -6 3.5 -7 2 -2 2 0 6 3 2 2 11.5 0 4 -1 5.5 -6 1 1 1.5 0 1 -2 4.5 0.5 1.5 2.5 1.5 0 4 -3.5 10.5 0.5 1.5 -1.5 -1 -4.5 2 -3.5 2.5 -2 5.5 -1 3.5 -5 0.5 1 -1.5 2.5 0.5 0.5 3.5 -7.5 5 -8 0 -7.5 4.5 -9 -0.5 -7.5 -6 -12.5 -1.5 -6.5 0.5 -0.5 1 1 2.5 5.5 7 5.5 4 -2.5z"/>
<path fill="#fae100" fill-rule="evenodd" d="M1266 834l-3 4 -0.5 4.5 -1.5 3.5 0.5 1.5 1.5 0 0.5 -3 3 -0.5 1.5 2 -0.5 3 -2 2 2 1 1.5 -4 1.5 -8 -2 -1.5 -1.5 -4.5zM1237.5 803.5l-2 0.5 -1 -1 -4 -0.5 -1.5 0.5 -0.5 2 -2.5 3.5 0 3 4 4 1 0 5.5 -6zM863.5 786.5l-4.5 3.5 -1.5 -1 1 -2 1.5 0 1.5 -1zM906.5 771.5l-12 8 -2 2 -2 4 -4.5 6 -2 4 0.5 3 -1 2 0 3.5 -1 1 -0.5 5 0.5 5.5 -2 1 -2 -1.5 -0.5 1 0.5 3.5 4.5 1 3 0 3 -1 -1.5 -8.5 0 -4 1.5 -7.5 6 -10.5 6.5 -7 6.5 -5.5zM820.5 768l3.5 4 2.5 1.5 0.5 2 5 4.5 1.5 0.5 4 -1 2.5 0.5 5.5 2.5 4.5 3 5.5 1 1 1 0 1.5 -5.5 5.5 0 2.5 1 1.5 2 -0.5 2.5 -5 3 1.5 3 -4 6 -0.5 0.5 -1 -4.5 -3 0.5 -0.5 2.5 0 3 3 2.5 0.5 2 -2 1 -2.5 4.5 -4 0.5 -1.5 4.5 -3.5 0 -2.5 -3.5 -2 -3 -3.5 -2.5 -0.5 -4 1 -2.5 -2 -0.5 -1.5 -3 0.5 -1.5 6 -2 2.5 -3.5 -3 -2 0 -4 3 -4.5 -2 -5 0 -1.5 -1.5 0.5 -7 -1 -1 -4 -0.5 -2 -3 -2 -1.5 -6.5 0.5 -4.5 -1 0.5 4 -1.5 5.5zM1226 747l-4 3.5 -1.5 5 -4.5 4 -0.5 7.5 1.5 9 -1.5 2.5 -0.5 7 4 4 1 2 4.5 3 2 0.5 2 -11 2.5 -2.5 4.5 -2 2 -2.5 -0.5 -3 -1 -1.5 -4 -1.5 -1 -2 3 -2.5 3 0 2 2 1.5 4.5 2 2 2 -1.5 2 0 1 1.5 -2.5 5 0 5 -1.5 2.5 -1.5 0.5 -1.5 2 0.5 2.5 2 2 0.5 2 2 -1 3 0 2 1 2 4 2 2 6 3 -1 -1.5 0 -5 1.5 -3 -0.5 -17 -2.5 -3.5 1 -6 -3.5 -12 -0.5 0.5 -5.5 -0.5 -2 -2 -0.5 -4 -2 -0.5 -4.5 0.5 -4 -3.5 -4 2 -1.5 0 -3 -2.5zM843.5 694l0.5 2 -2.5 1.5 -0.5 2 -2 2 -5.5 0.5 -0.5 2 -1.5 1.5 -11 1.5 -4 2.5 -8.5 0 -2.5 -1.5 2.5 -1.5 4.5 -9 4 -3.5 6.5 0.5 6.5 -5 7 0 2.5 2 3 1zM1074 666.5l-1.5 0.5 -1 2 1.5 0 1 -1zM1288.5 640l-0.5 -0.5 -5.5 0 -2 1 -4 -0.5 -2.5 -2 -3 -5 -3 -1.5 -1.5 -3.5 -6 -4 -1 0 -1.5 2 0.5 3.5 -4.5 5 -2 1 -4.5 -0.5 -3.5 -5 -3 -2 -4.5 1.5 -3 0 -3 3 -1 3 -5.5 5.5 -1.5 3 -6 5 -3.5 0.5 -4.5 2.5 -6.5 1.5 -3.5 3 0 2 -1 1 -1.5 0 -4.5 2.5 -1.5 0 -4 -2.5 -3 0 -3 1 -12.5 12 -2.5 1 -2 2 -6.5 1 -4.5 4 -2 -0.5 -1.5 -1.5 0 -2 -1.5 -2 -2.5 -0.5 -1.5 -1.5 2 -8.5 -4 -1 -2 -2 -0.5 -1.5 -2.5 -2.5 0 -3.5 -1 -1 -5.5 0 -2.5 1 -1 1.5 -0.5 5 -4 6 -12 -0.5 -1.5 1 -2.5 0 -2.5 -1 -4 -4 -4.5 -2 -8.5 1 -6.5 4 -4 -0.5 -0.5 1 1 3 -2 2 -4 2.5 -1 -1 -3 0.5 -3.5 -4 -5.5 1 -1.5 -1.5 0 -2.5 -1 -2 -3.5 -2.5 -2 -3.5 0.5 -2 -0.5 -3 -4 -1.5 -5 -6.5 -4 -2 -3.5 -3.5 -3 -0.5 -2.5 1.5 -5 5 -3 6 -2 1 -4.5 -3 -3.5 0.5 -2 2 -2 0 -2.5 1.5 -4.5 1 -2.5 0 -5 -2 -3 -3 -3 -1.5 -2.5 0 -4.5 3 -4.5 -2.5 -2 0 -2.5 1 -6 6 -5 0.5 -2.5 4.5 -5.5 -0.5 -5.5 -2.5 -1.5 0 -2 1.5 -2.5 0 -3.5 -2 -2 0 -4.5 3 -3 4.5 -4.5 3.5 -8 -2 -2 -2.5 -2.5 -6 -1 -1 -3.5 -0.5 0 -4 -9 -9 -3.5 -0.5 -2.5 1.5 -3.5 0 -1 3 1 5 -0.5 7 4 4 1.5 -1.5 1.5 0 1 1 0 2 -1 1 -2 0 -9 8.5 -2 0.5 -4 4.5 -1.5 0 -0.5 2.5 -2 2 -4.5 0.5 -3 -2 -1.5 0 -5 2 -3 3 -6.5 -0.5 -6 -4.5 -5.5 -1.5 -9.5 0 -8 6.5 -2 0 -2 -1 -8.5 1 -2.5 -1.5 -4 0 -1.5 -1 -4 0.5 -2 -3.5 -2 -0.5 -2.5 -2.5 -4.5 -2.5 -2.5 0 -5.5 3 -3 0 -1.5 1 -0.5 2 -1.5 1 -4.5 -0.5 -4 2.5 -1.5 0 -8 -3.5 -1.5 -1.5 -0.5 -2.5 -4 -3.5 -3 1 -2 4.5 -2 2.5 0 2 2 3.5 0 3 1 2 -0.5 4 4.5 -0.5 1.5 1.5 1 7.5 1.5 1.5 3.5 1 1.5 1.5 0.5 3 2 2 9.5 1.5 3.5 3.5 2.5 5 1 0.5 1.5 -0.5 2.5 -3.5 2.5 -2 2.5 0 2 1 4 0 1 -2 1.5 0.5 -0.5 1.5 0.5 1.5 13.5 -0.5 1.5 1 3 -1 4 1 2 1.5 0 2.5 -1.5 3.5 0 2 1 2 2.5 0 2 -2.5 1.5 0 4.5 4 5 1.5 1 -1 1 -4 2 -2 9.5 1 3 -3 0.5 -3 1 -1 7 0.5 4 -2 3.5 0 4.5 -2 2.5 -3.5 0.5 -2.5 10 -9.5 4 -0.5 2 1 5.5 0 2.5 1 3 -3 3.5 -2 3.5 0 6.5 -2 3 0.5 1.5 -3 1.5 -1 2 0.5 1.5 2.5 -2.5 2 -0.5 2.5 3 1.5 1.5 -2 1.5 -0.5 1.5 2.5 1.5 1 5 -0.5 0.5 -1.5 2 -2 4.5 -0.5 2 -3 9 0 3 1 4.5 4.5 0 1.5 1.5 2 1.5 0 6 -3 3.5 -0.5 7 0.5 4 -1.5 9 -1 2.5 -1.5 4 -1 6 0 1.5 0.5 1.5 2 1.5 0 2.5 -2 3.5 3.5 2 1 6.5 1 4 3 5 -1.5 2 -1.5 3 0 4 4 1.5 0 1.5 -2 0 -1.5 -1 -1.5 1 -2 1 0 1.5 -1.5 4 -0.5 3.5 -4.5 2.5 -1.5 4 0.5 7 -0.5 4.5 3 5 0 0.5 1.5 -3.5 3 0 1 1.5 1 3 0 3 -2.5 5.5 0.5 1 -1.5 0.5 -3 2 -1 2 2 0 3 1 3.5 4.5 5.5 2.5 1.5 2.5 -0.5 3.5 -3 2.5 -1 -1 -6.5 -4 -4 0.5 -4 1.5 -1.5 1 0 4 2 1.5 -0.5 3.5 -3 2 0.5 4.5 3.5 4 5.5 3 2 6 -3.5 3 1 4.5 0 7.5 -2 2 0 2 1 10.5 0 3 -1 6 -5.5 2.5 0 1.5 1.5 3.5 0.5 3.5 -3.5 5 0 0.5 -0.5 3 0 4 3.5 3.5 0 2 -2.5 2.5 0 8 5.5 4 0.5 3 -1 3 1 5.5 -4 10 -0.5 3 -5 3 0 3 -4.5 1.5 -7 3 -1.5 5 -10.5 15.5 -12.5 9.5 1 7.5 -6zM666 621.5l-2.5 -1 -1.5 0 -1 1 -3 8.5 -2.5 4.5 -0.5 4.5 -4 8 -8 7 -2 -0.5 -8 -5 -4.5 -6.5 -3 7 0 3 7 7.5 3 1.5 3 0.5 1.5 2 4 1 2.5 -1.5 0.5 -2 2 -2 4 -2.5 1.5 0 2 -2.5 3.5 -9 2.5 -4.5 2.5 -10.5 3 -4 0 -1.5zM1150 596l-2.5 1 -1 1 0 1.5 1.5 -0.5 2 -2zM1189 584.5l-2.5 -0.5 -12 7.5 -4 5 4 -0.5 11 -8zM1208.5 569l-1 -0.5 -2 1 -3.5 5 5 -3.5zM952.5 558l0.5 1.5 -1 1 -1 -1.5zM574 557l1 -2 1.5 0.5 -1 2zM573 545l-3.5 4 -2.5 1 -2.5 3 -2.5 1 -2 2.5 1.5 1 2 0 1 1 1.5 4.5 2 1.5 1 3 3.5 5 1 5 1 0.5 3.5 -0.5 5.5 -2.5 1.5 -2 2 2 0 1.5 -1 1.5 2 1.5 0.5 2 2.5 2.5 4 2 -3 -6 -2 -0.5 -3 -3.5 0 -4.5 -1 -2 -4 -2 0.5 -3 -1 -1.5 0 -2.5 1 -2 0 -2 -2 -1.5 -2 0 -1.5 -1 -1 -7 -1.5 -2zM1354 530.5l-4.5 0 -4 1.5 -2 2.5 0.5 2 3 -2 6 -2zM503 517.5l-0.5 2.5 1 1.5 1.5 0 0.5 -3.5zM422.5 516.5l-2 0.5 0 4.5 -1 1 -5 0 -1 1 -1 16 -1 1 -2 0 -2.5 -2.5 0 1 5 5 3 7.5 -1.5 3.5 0 4.5 3 11 0.5 3.5 -0.5 4 0.5 0.5 1.5 0 1 -1.5 0.5 -12.5 -1.5 -5 0 -10.5 -1.5 -8.5 0.5 -13 5 -2.5 0.5 -1 0 -7zM441.5 521l0 1.5 2 4 0.5 6.5 1.5 3 2.5 2.5 3 1 8.5 0 1.5 -0.5 0.5 -1.5 -8 -3.5 -3.5 -0.5 -2 -1.5 0.5 -1 10 2.5 14 5 2 -0.5 11.5 0.5 12 3.5 7.5 -1 4 -2 1 -1.5 0 -2 -5 -8.5 -4.5 -1.5 -7.5 -1 -2 -1 -4 -4 -1 -2 -2.5 2 -5 7.5 -14 -3 -11.5 -10 -2.5 0 -4 2zM337.5 487l-1.5 2 1 1 3 0.5 1.5 1.5 -0.5 2 -2 2.5 0 1.5 1.5 -0.5 5 0.5 1 -1 0 -3 1 -1.5 -1.5 -2.5 0 -1.5 -2.5 -2 -0.5 -1.5zM859.5 476l1.5 1 2.5 -0.5zM618 467.5l-3 2 -0.5 3 -7 5.5 -5 5 -3.5 4.5 -1 4 -2 3.5 -2 2 -4 2 -3.5 8.5 0.5 3.5 -0.5 2 -3.5 2.5 -2 3.5 -4.5 4 -2.5 3.5 -2.5 1 -2.5 0 -2.5 1.5 -2.5 0 0 0.5 1.5 0.5 3.5 -1.5 2 0 4.5 3.5 3.5 0 4 1.5 4.5 0.5 3.5 2.5 0.5 3 1.5 0 4 -4 2.5 -1 7 -0.5 10 -3 10 0 1 -1 -1 -3 0 -6 -2 -3 -2 1 -1.5 5 -2.5 1 -3.5 -3 -1 -2 -6 -1.5 -9 -11.5 0 -1.5 1.5 -2 5 -0.5 2 -1 2 -4 1.5 -0.5 2 2 1 0 0.5 -1 -0.5 -5 2 -3.5 0 -2.5 2 -5.5 2.5 -3.5 -0.5 -8.5zM1340.5 460.5l-3.5 4 -7.5 4.5 -6 6.5 -2 0 -3 1.5 -0.5 -1.5 3.5 -4 7 -3.5 2 -3 2.5 -2 6.5 -3zM1320 451l-5.5 2.5 -2.5 3.5 4.5 -2.5zM1109.5 448.5l1 5 -1 1.5 -1 0 -0.5 -1zM1390.5 462l-4.5 -1 -2.5 -2 -3 0 -4.5 -1.5 -3.5 0 -2.5 -7 -4.5 -4 -2 0 -5.5 2 -2 3.5 -2.5 2.5 -3.5 1 -8 4 -0.5 -0.5 12.5 -11 -1.5 -2 -2.5 0 -7.5 4.5 -2.5 -1 -7.5 4.5 -5.5 5 -2 1 -2 0 -1.5 1 -1 2.5 -10 9 -9 5 -3 0.5 -5 5.5 -6 3 -11.5 8.5 0 1.5 1.5 2.5 5 -3 3 0 2 -1 2.5 0.5 -6 5.5 -18 12 -2 2 0.5 3 16.5 -11 6 -5 4.5 -2 1 0.5 -5 5 -8.5 6 -4 2 -3 3 -7.5 5 -0.5 1 0.5 1 6 -4 6 -2 8 -5 1.5 0 0.5 1 -3 3.5 -2 1 -1.5 2.5 0.5 1.5 -2 2.5 -1 4.5 -1.5 1.5 -5.5 3 -2.5 3 -1 4 0.5 5 -5 7 -3 0.5 -1.5 -1.5 -0.5 -2.5 -2 -0.5 -2 2 -3 1 -3 0 -3 3 -4.5 1 -1.5 2 -0.5 2.5 -3.5 -1 -4.5 0 -3.5 1.5 -29 21.5 -4 4 -2 0 -4 2 -10.5 8.5 -1.5 0.5 -2 3 0.5 4.5 9 0.5 2.5 -1 7 0 4.5 -2.5 4.5 -0.5 3 -1.5 2.5 -3 0 -3 -1.5 -1.5 -3 -0.5 -1 -1.5 3.5 -6 9.5 -8 7 -0.5 3 -4.5 6 -3 3.5 -3.5 2.5 0 3.5 1.5 2.5 2.5 6 -4 4.5 0 4.5 1 3 2 0 4.5 1.5 1 1.5 -4.5 3.5 -2.5 2.5 -4 2.5 -0.5 4.5 -3 5 1.5 5 -2.5 3.5 -3 3 -0.5 1 -1 0 -4 1 -2 1.5 -1.5 2.5 -5.5 2 -1.5 1.5 0 3.5 2.5 3.5 0.5 3 2.5 2 0.5 6 0 5.5 -1.5 4 -5.5 2 -4 0.5 -3.5 3.5 -1.5 3 1 4 -1 0 -1 -1.5 -0.5 -2.5 -2.5 2 -1 -3 -5.5 0.5 -5 -0.5 -4.5 2 -2.5 2 0 3 2 2 -3.5 2 0.5 3 -0.5 3 1.5 2.5 3 1.5 6.5 -5 7.5 2 2 -0.5 2 0.5 1.5 2.5 0 4 -3.5 5.5 -1 3.5 -4.5 0.5 1 -1.5 2.5 1 -0.5 3 -6.5 5 -8 -0.5 -7.5 2.5 -4.5 1 -3.5 1.5 -1.5 -0.5 -7 -3 -7 -3 -1.5 -3 -4 0.5 -1 1 0 2.5 2.5 -1 -1.5 -1.5 -6.5 0.5 -0.5 1 1 3 6 7 3.5 2 -3 0.5 -3 1.5 -1.5zM1333.5 441.5l-0.5 -0.5 -3.5 2.5 -2 0.5 -3 4zM1250.5 468l-1.5 -1.5 -4.5 -1.5 -3 -3.5 -4.5 -0.5 -2.5 0.5 -3 3 -5 0 -1.5 1 -4.5 0 -1.5 -1.5 -1.5 -3.5 -5 -1.5 -2.5 -2.5 -4 0 -1.5 1 -2 3 -4 2.5 -0.5 1.5 0.5 3 -1 2 -1 0 -1.5 -1.5 -1.5 -6 -4.5 -3.5 -1.5 0 -3.5 4 -1.5 0 -2 1.5 -3.5 0 -3.5 -3 -5.5 1 -3.5 1.5 -4 0 -2 -2 -1.5 -3.5 -3 0 -5.5 3.5 -6.5 1.5 -3.5 -0.5 -2 1 -6 -1.5 -1.5 0.5 -2.5 2.5 -4.5 -1 -1 -1 -0.5 -4.5 -4 -6 -0.5 -3 2 -4 0 -1.5 -1 -1.5 -2 0 -1.5 1 -2.5 0 -1.5 -1 -1 1 -1.5 6.5 -1.5 1.5 -3.5 0.5 -1 1.5 0.5 2 1.5 1.5 0 1.5 -1 1 -5 0 -3.5 1.5 -4 4.5 -0.5 1.5 -1 0 -2.5 -2.5 -0.5 0 1 1 -0.5 0.5 -5.5 -1 -5 -4.5 -1.5 0.5 -3.5 -0.5 -2 -5 -2 0 -1.5 4 -2 2 -2 0.5 -3.5 3.5 -1.5 0 -1.5 -1.5 0 -1.5 4 -2.5 0 -1.5 -1 -0.5 -3.5 0.5 -2 4.5 -2 1 -3 0 -3 -2.5 -3 -0.5 -1 -3 -6.5 -5.5 -6.5 -7.5 -1.5 -4 0 -1.5 1.5 -2.5 -0.5 -0.5 -2 2 -1.5 -1 1.5 -8.5 -1.5 -2.5 -7 2 -2.5 4.5 -6 3.5 -0.5 2.5 4 3.5 0.5 2 2 -1.5 1.5 1.5 0.5 3.5 -1.5 1.5 -2.5 1 -3 3 -1 4 -2 2 -5 1.5 -1.5 -1 -2 -3.5 -4 -1 -3.5 0 -4.5 2 -6 0 -1.5 -1 0 -1.5 -1 -1 -3 -0.5 -1.5 -1 -5.5 5 -0.5 -2 -5.5 0 -5.5 -2 -0.5 -4 -1 -1.5 -6 0 -4.5 3 -3 -0.5 -6.5 0.5 -3 -1.5 -7 0 -2 -2 -3.5 -1 -3 -2.5 -0.5 -1 0.5 -2 2 -2 3 -1 0.5 -1 -3 -1.5 -3.5 3 -1 0 -0.5 -1.5 2 -3.5 0 -1.5 -1 0 -4 5.5 -0.5 2 -4.5 -2 -3 0 -1.5 0.5 -2 2 -1.5 4 0.5 3 -1.5 4.5 -2 1.5 -0.5 2.5 0.5 4.5 -2.5 1.5 0 2 -1.5 1.5 -3.5 -0.5 -3 -4 -1 0.5 1 4 4 4.5 1.5 4 0 3.5 -2.5 2.5 -3 0.5 -7 -0.5 -2 2.5 0.5 2 -3 2 -3 5 -2.5 2 -0.5 -0.5 0.5 -2.5 -0.5 -3 -2.5 -1 -6.5 -6 -8 -2.5 -3.5 3 -3 5.5 -2 1.5 -2 4 0 2 4 3.5 0 1.5 -4.5 4 -1 2.5 -4 1 -3 3 -3.5 0.5 -4 3 0 1 2.5 2.5 -0.5 1.5 -2 0 -2 -3.5 -1.5 0 -1.5 2.5 -10 -0.5 -1 2.5 -1.5 1 -1.5 -1.5 0.5 -6 -0.5 0 -1.5 2 0 2.5 2 4.5 2.5 2 0.5 3.5 2 3.5 -2 5 -1.5 1.5 -3 1 -4 5 -0.5 5 -1.5 1.5 -13 -1.5 -1.5 -1 -1 -4.5 -2 -1.5 -8.5 0.5 -2.5 -1.5 -2 0 -4 3.5 0.5 7 3 5 -0.5 5.5 -1.5 1.5 -1.5 -1 0 -2 -1.5 -2 -1 -0.5 -2 0.5 -1.5 1 -1.5 2.5 -4.5 1 -3.5 3.5 -4 1 -3 2.5 -6 1.5 -3.5 3 -4.5 0.5 -2.5 1.5 -2.5 0.5 -6 4.5 -1.5 2 0 1.5 2.5 1 1.5 1.5 0 2 -3 3 -2 6.5 -3 2.5 -1.5 3.5 -2 2 -2 0 -1.5 -1 -2 1 0.5 3 4 5 1.5 0.5 3 -3.5 1.5 1 -0.5 8 -1.5 5 0 4 -1.5 6 -1.5 1.5 -1 -0.5 -0.5 -2.5 -1.5 -1.5 -2 -1 -7.5 -0.5 -2.5 -2.5 -1.5 -6 -4.5 -10 -0.5 -3 -3 -5.5 -2 -6.5 1 -6 5.5 -13 0.5 -4.5 1.5 -2.5 -0.5 -1.5 -5 1.5 -2 1.5 -1.5 0 -1.5 1.5 -3 8.5 -2 3.5 0 1.5 -2.5 4.5 0 5 -1 3 -3.5 4 -1.5 3 -0.5 3 0.5 4 7 7 0.5 7.5 1 1.5 2.5 1 2 2 0 2 1 1.5 2 1 6 1 2.5 -0.5 2 -4 3 -2.5 2 2 1 3.5 1.5 2 1 5 2 4.5 -1.5 1.5 0 1 1.5 1.5 2 4.5 2 -0.5 5.5 5.5 5.5 1 3.5 2 1.5 2 0 2 -2.5 2.5 2.5 0.5 -0.5 -1.5 1.5 -2 0 -1.5 -6.5 -6.5 0 -2 -2 -2 -2.5 -11.5 2.5 -5.5 3.5 -2 1 -1.5 -0.5 -2.5 -1.5 -2 0 -8 3 -9.5 0 -2.5 1 -1 3.5 1 2 -1 4.5 1 1 1 -0.5 2 0.5 1.5 3 1.5 1.5 0 2.5 -1.5 8 -0.5 2 0.5 2.5 2 5 0.5 14 10 4 0.5 1 -1 2 0 0.5 0.5 -0.5 3 2.5 -1.5 6 0.5 5 -1 4 -2.5 3.5 0.5 1.5 -1 -0.5 -4 2.5 -5.5 -0.5 -5.5 3 -4.5 -0.5 -6.5 1.5 -5 -0.5 -2.5 4 -7 0 -4.5 -1 -2.5 1.5 -1.5 5.5 -2.5 1.5 0 3.5 2 3 -1 3 -3.5 0.5 -4.5 1 -1.5 1 -0.5 4 0.5 4.5 -5 1.5 -0.5 4.5 -5.5 4.5 -3 2 0.5 2.5 -1 8 1.5 3.5 2 2 0 3 -1.5 5 -0.5 5 -3.5 2.5 -0.5 4 2 4.5 0 2 1 2.5 -1.5 2 0 2 2 1.5 0.5 3 0 2.5 -1 14 0.5 9.5 4 5 5 2.5 0 4 -3 2.5 -0.5 2.5 1.5 2 2.5 1.5 0.5 5.5 -0.5 2.5 2 2.5 0.5 3 3.5 2.5 1 4.5 0.5 3.5 3 3.5 0 9 -4.5 2.5 0.5 2.5 1.5 4 0.5 5 -2 6 -0.5 4 -4.5 4.5 -3.5 1.5 0.5 2 2 1.5 0 0.5 -1 -2.5 -6.5 2 -3.5 0.5 -3 6.5 -7.5 3.5 0.5 2 -0.5 2 -3 3 -2.5 3 0 5 4 4 0 2 -2.5 2 -8 3.5 -3 2.5 0.5 3.5 3 2.5 0.5 6 5.5 2 1 2.5 0 8.5 -5 4 -1.5 3.5 -4.5 1 0 2 2 1.5 0 1.5 1.5 1.5 8 3 -0.5 1.5 1 -0.5 1 -3 1.5 -0.5 2 0.5 2 1 0 1.5 1.5 6.5 0 5 -1 3 3 0 3 -6 6 1.5 3.5 1.5 -1.5 3.5 -1 1.5 1.5 0 2 1.5 3 -1 1 -3.5 -1 4 3.5 0 3 1 0 0 -1 2 -2 1 0 3 3 2.5 0.5 1 1 0 2.5 3.5 4 3 -0.5 2 -4 1 -0.5 0 -1 -4.5 -1.5 -2.5 -2 0.5 -1 1.5 0 -1 -1.5 0.5 -1.5 -3 0.5 -2.5 -1.5 -4 0 -1 -2 1 -1 3 0 3.5 1.5 2.5 -1.5 2 0 1.5 -1.5 2 1.5 4.5 -0.5 2.5 -3.5 1.5 0.5 2 -0.5 1 1 0 2 -3.5 4.5 -0.5 5.5 0.5 4.5 3 3 0.5 2.5 4 -0.5 5.5 -4.5 2.5 -0.5 0.5 1 -5 3.5 -5 5.5 -7 5 -2 2.5 0 1 1 0 10.5 -7.5 -1 -1 1 -1 7 -1.5 2.5 -2 4.5 -2 1 0 1 1.5 -5.5 5.5 1 0.5 3.5 -3.5 16.5 -12 2.5 -0.5 0.5 0.5 -1.5 2.5 -4 3 -4.5 5.5 -6.5 3.5 -2.5 2.5 0 2 2 1.5 -0.5 1.5 2.5 -2 5 -2 10 -10 6 -4 2 -2.5 -1 -2 4.5 -5 7 -3.5 3.5 -0.5 1 -2.5 6.5 -5 2.5 -0.5 6.5 -4 4 -0.5 -3 -1.5 -5 -0.5 -3.5 -2 -3.5 0 -4 2 -8.5 -5 -6 0.5 -4 3.5 -0.5 -0.5 0.5 -4 2 -3 3.5 -0.5 5.5 -3 8.5 -1.5 5.5 -3 4.5 -0.5 6.5 -5 1 -2 1 -6 2 -2 1.5 -0.5 2 -2.5 1 -6 2.5 -2.5 4 -1.5 3.5 -6 0 -3.5 -1.5 -3 0 -2 2 -2.5 3.5 -1 0 -1.5 -1.5 -1 1.5 -5zM326.5 419l-2.5 3 -4 8 -3 13.5 0 2.5 -1 2 2 20 -2 0.5 -4 -2 -1.5 0 -2.5 1 -3 2.5 -3.5 1 -2 2.5 5.5 9.5 0 1.5 6.5 6.5 10 4.5 2 2.5 0.5 3 7.5 0 1.5 -1.5 0.5 -3.5 -1.5 -6 -7 -16.5 -0.5 -4 -2.5 -5.5 -1.5 -10 0 -5.5 3 -1.5 0 -4 -1 -3.5 1 -7.5 3 -6.5 2 -2.5 1 0 2.5 2.5 2.5 4 0 2 1 2 0 3.5 3 7 0.5 4 6 11 2 6 4 3 5.5 8 2.5 7 6 10.5 0.5 3 7 14.5 3 3 2.5 5 4.5 5 0 3 4.5 6 6 2.5 5 7.5 2 5.5 2 2.5 2.5 14 -1 4 -2 1 -1 1.5 3.5 3.5 2 11 -4 2 -7 1.5 -11 -1.5 -2 -2.5 -0.5 -2 -2 -2.5 -4 -8.5 -4 -6.5 -8 -16 -1 -3.5 -16.5 -21 -5.5 -10.5 -4 -4 -1.5 -3 -3 -1 -0.5 0.5 1 2 -0.5 9 4.5 10 0.5 4 1.5 2.5 1 4.5 7 13 5.5 6.5 8.5 14 3.5 3.5 6 9.5 7 6 3.5 1 -0.5 1.5 0.5 2 9 3.5 1.5 1.5 -0.5 1.5 7.5 1.5 4 3 0 -2 -1.5 -1.5 3 -0.5 7 3 3 0.5 2 1.5 11 2.5 17.5 0.5 2.5 3 2.5 1.5 1 0 4 -4 0 -2 1.5 -1 3 -0.5 1.5 1 3.5 0 1 -1.5 0 -2 -4.5 -4.5 -0.5 -5 -1 -1 -4 0.5 -10 -0.5 -6.5 2 -5 2.5 -4 0 -2.5 -1 -7 -1 -2 -2.5 -1 -4.5 -1.5 -1.5 -5 -2 0.5 -3.5 -2 -9 0 -7 -1.5 -6 0.5 -4.5 -1 -7 -4.5 -5.5 -4 -8 -5.5 -6 -3 -2 -2.5 -6.5 -12.5 -16 -2.5 -5.5 -0.5 -3 -2.5 -3.5 -2 -5 -0.5 -7.5 -1 -1.5 -2 0 -2 -1.5 -6.5 -12.5 -3.5 -4 -2.5 -6.5 -2 -3 -1 -4.5 -3 -3.5 -1 -5 -1.5 -2.5 -1.5 -6 -4 -7.5 -4 -5.5 -2.5 -0.5z"/>
<path fill="#f0a800" fill-rule="evenodd" d="M1266.5 834l-3.5 4.5 0 2.5 -1.5 5.5 0.5 0.5 1 -1 -0.5 -1.5 1 -1 2.5 0 2.5 3 -1 3.5 -1 1 1 1 3 -11.5 -2.5 -2.5 -0.5 -3zM1237 804l-1.5 0 -1.5 -1 -1.5 0.5 -3 -0.5 -1.5 3.5 -2 2 0 3 4.5 4 5.5 -5.5zM854.5 791.5l-2 2 -1 2 0.5 1zM861.5 789.5l3.5 0.5 2.5 -0.5 -1 -1.5 -2.5 -0.5zM906.5 772l-5.5 3 -7.5 5.5 -4.5 7.5 -3 3.5 0 1.5 -1.5 3 0.5 2 -1.5 4 -1 6.5 0 8 -2 0.5 -1.5 -1.5 -1 1 0 1.5 1 1.5 6.5 1 2.5 -0.5 1 -1 -1.5 -7.5 0 -5.5 1.5 -6.5 6 -10.5 8.5 -9 4 -3zM823.5 757l0 5 -2 5 0 2 5.5 4.5 0.5 2 5.5 4.5 6 -0.5 7 3 3.5 2.5 5.5 1 2 1.5 5 -2 5 -0.5 3.5 3 2 0.5 2.5 -2 1 -2.5 4.5 -3.5 1 -2.5 4 -3 -0.5 -2 -3 -1.5 -4.5 -4 -6 0.5 -2 -2.5 -2.5 0.5 -0.5 4.5 -3 4 -4 -3.5 -2.5 0 -3 2.5 -2 0 -4.5 -2 -3.5 0.5 -2 -2 0.5 -2.5 -0.5 -5 -3.5 0 -5.5 -5.5 -1.5 0.5zM1225.5 747.5l-3.5 3.5 -1.5 5 -2.5 1.5 -2 2.5 -0.5 6 1 8 3 3.5 -3.5 0.5 -1 3.5 0 3.5 5.5 6.5 5.5 3 0.5 -0.5 -0.5 -4 1.5 -2.5 0.5 -3.5 2.5 -2.5 4.5 -2 2 -2 -0.5 -4 -2 -1.5 -2.5 -0.5 -1.5 -2 3 -3.5 3.5 0 2 1.5 1 4 2.5 3 2 -1.5 1.5 0 1.5 1.5 0 2 -2 2.5 -0.5 6.5 -4 4 0.5 3 2 2 0 1 6.5 0.5 2 2 0.5 2 2.5 2.5 3.5 1 0.5 -3.5 2 -5 -0.5 -15.5 -2.5 -3.5 0.5 -9 -2.5 -8.5 -6.5 -1 -2.5 -3 0 -2.5 -2.5 -0.5 -3.5 0.5 -4 -3.5 -1.5 0 -2.5 1.5 -2.5 0 -3 -2.5zM844 694l0.5 2.5 -1.5 0.5 -3.5 4.5 -5 0.5 -2.5 3.5 -5 0.5 -3.5 1.5 -3 0 -5 2.5 -9 -0.5 -1.5 -1 0 -1 3 -2 0.5 -2.5 4 -6.5 4.5 -3 3 0 1.5 1 1.5 0 5 -4.5 8 -1 3.5 2.5 3 1zM719 665.5l0.5 3 -2 1.5 0.5 1.5 1 0 0 -1.5 1.5 -2 0 -1.5zM1288.5 640l-3.5 -0.5 -4 1.5 -4 0 -3.5 -3 -2.5 -4.5 -2 -0.5 -1.5 -1.5 -1 -2.5 -2 -2 -2.5 0.5 -4 4.5 -6 4 -5.5 -0.5 -3.5 -5 -2 -1.5 -4 1 -3.5 0 -3 3.5 -1 3 -5 4.5 -2 3.5 -6 5 -3 0.5 -3.5 2 -7 2 -4 3 0 1.5 -1 1 -2.5 0.5 -4.5 2.5 -6.5 -2.5 -4.5 1 -11.5 11 -7 4.5 -3 0 -2.5 1 -4 3.5 -2 0 -2 -1.5 0 -3.5 -1 -1 -3.5 -0.5 -1 -1 0 -2.5 2 -5.5 -1 -1.5 -3 -0.5 -1.5 -1.5 -0.5 -2 -3 -4 0 -3 -1 -0.5 -6 0.5 -2 1.5 -1 6 -4 6 -4 -0.5 -5 2.5 -1.5 0 -1.5 -1 -6.5 -0.5 -5 -5.5 -3.5 -1.5 -7 0.5 -0.5 5 -4 -0.5 -3.5 1.5 -2 0 0 2.5 -1 1.5 -6.5 3 -1.5 0 -1 -1 -2 0 -4 -4 -3 1 -2.5 -0.5 -1.5 -1.5 -2 -4.5 -3 -2.5 -2 -3.5 1 -4 -4 -2.5 -4.5 -5.5 -2.5 -1 -4.5 -4 -3.5 -1 -3 1.5 -4 3.5 -2 3 -0.5 2.5 -2 2 -1.5 0 -3.5 -2.5 -3 0 -2.5 2 -3 0.5 -1 1 -4.5 1 -4 0 -4 -1.5 -6 -4.5 -3.5 0 -3 2.5 -2.5 0 -3 -2 -4 0.5 -6.5 6.5 -4.5 0.5 -2.5 4.5 -3 0 -8 -2.5 -6 1 -4 -2 -2.5 0 -5.5 4.5 -1.5 3 -4 4 -2.5 -0.5 -1 -1 -4.5 -0.5 -3 -3.5 -0.5 -2.5 -2.5 -3.5 -1 -0.5 -6 1.5 -1 -1 3 -2 1 -3.5 -9 -9 -1 -0.5 -2.5 0.5 -2 1.5 -3 -0.5 -1 1.5 0 4.5 1 4 3 3 0.5 2 1 1 6.5 -3 2.5 0.5 -5 4.5 -1 2.5 -1.5 1.5 -3.5 1.5 -7.5 7.5 -2 0.5 -1.5 3 -3 2 -2.5 3 -2.5 1 -3 0 -2.5 -1.5 -2.5 0 -4.5 2 -2 2.5 -8 -1 -6 -4.5 -6.5 -1.5 -2 0.5 -5 -0.5 -9.5 7 -3 -1 -10.5 1 -2.5 -1.5 -6 -0.5 -1.5 1.5 -1.5 0 -1 -1 -0.5 -2.5 -3 -1.5 -2.5 -3.5 -3 -1.5 -3 0 -3 2 -4.5 1 -3.5 3.5 -5 -0.5 -5 2.5 -9.5 -4 -1 -1 -0.5 -3 -3.5 -3 -3 1.5 -3.5 7.5 2 3.5 0 2.5 1.5 5.5 3 0.5 2 2.5 1 6.5 1.5 1.5 3.5 1 1.5 1.5 0.5 3 1.5 2 2.5 1 7.5 0.5 3.5 3.5 2 4 2.5 0.5 3.5 -4 2 -1 6.5 1 2.5 -3 2 1 1 3 7 0 3.5 -1.5 2 0 2 1.5 2.5 0 4.5 1.5 1.5 1.5 0 2.5 -1.5 3.5 0.5 3.5 2 0 3 -3 6 4.5 3 1.5 1.5 0 2 -5 2 -2 3 0 2 1 5 -0.5 1.5 -1.5 0.5 -3.5 1.5 -2 2 0 2 1 4 0 3.5 -2 4 0 3.5 -1.5 5.5 -9.5 8 -6.5 5 -1 9.5 1.5 5 -4 5 0 5.5 -2 3 0 1.5 -2.5 1.5 -1 2.5 0 2 2 1 3 2.5 1.5 2 3.5 4 0 2 -3 3.5 -1.5 2 0 2 -3 11 0.5 4.5 3 3.5 5.5 8.5 -3 8 0.5 5.5 -2 8 -0.5 6 -2.5 7 -0.5 2 0.5 1.5 1.5 1 0 1.5 -1.5 1.5 0 4.5 4.5 6.5 1 4 3 1.5 0 8 -3 2 0.5 3 3.5 1.5 0 1 -1.5 -2 -4 1.5 -1.5 1.5 0 3 -2 3 -0.5 4 -4.5 2 -1 4 0.5 6.5 -0.5 5 3 5.5 0 1.5 2 -1.5 1.5 -2.5 1 0 1.5 1.5 0.5 2.5 -1 0.5 -2.5 4.5 1 3 -0.5 1 -3.5 1.5 -1.5 1 0 2.5 2.5 1 7 5.5 5.5 1.5 0 3.5 -3 3.5 -0.5 0.5 -1.5 -1 -4.5 -3.5 -3 0.5 -6 3 -0.5 2.5 1.5 1.5 0 4.5 -3.5 2 0.5 5 4 5.5 6.5 2.5 0 2.5 -2.5 1.5 -0.5 5 1.5 9 -1.5 2 -1 5.5 1.5 9.5 -0.5 2 -1 5.5 -5.5 3.5 0 1.5 1.5 3 0 3.5 -3.5 9 0 4 3 2.5 0 2 -2 3 0 2 1 3 3 4 2 8.5 -0.5 2 -2 3.5 -1.5 6.5 0.5 4 -1 1 -3.5 1.5 -1.5 3 0 2.5 -3.5 2 -7.5 1 -1 2.5 -0.5 5 -10.5 15.5 -12.5 9.5 1 7.5 -6zM665.5 621.5l-2.5 -1 -2 1 -1 4 -4 8.5 -1 5.5 -3 6.5 -8 8 -2.5 0 -7 -4 -3.5 -3 0 -1.5 -1.5 -2.5 -1.5 -0.5 0 1.5 -2.5 5 0 2.5 3 4 4.5 4 6.5 2 3 2.5 3 -0.5 1 -1 0 -1.5 2 -2 7 -3.5 7 -15.5 3 -11.5 2 -2.5 0 -2zM1149.5 596.5l-3 1.5 0 1.5zM1188.5 584l-3.5 1 -9.5 6 -3 2.5 -1.5 3 2.5 0 13 -9.5 2 -2zM589 580l0 1 4 3.5 -1 -2.5zM1129 574.5l1.5 3 1 0.5 1.5 -1 0 -0.5 -1.5 0.5 -1 -2zM1208.5 569l-3 0.5 -3 4.5 5 -3.5zM1125.5 567l-0.5 2 2 0.5 0.5 -0.5 -0.5 -1zM573 545.5l-3 3.5 -2 1 -3.5 3.5 -3.5 1.5 -0.5 1.5 2.5 0.5 2 1.5 0.5 3.5 3 3 0.5 2 3.5 5 1 5 2.5 1 5.5 -3 1.5 0 1 -1.5 -2.5 -0.5 -3 1.5 -2 2.5 -1.5 -1 0.5 -1.5 2.5 -2.5 -0.5 -3.5 4 -3 -0.5 -2 0.5 -6.5 -1.5 -1 -4 2 -1.5 0 -1 -1 0 -1.5 2.5 -2 0 -6 -1.5 -2zM503.5 517.5l-1 2 1 1.5 1.5 0 0.5 -2.5zM422 516.5l-1.5 0.5 0 4.5 -2 1.5 -3.5 -0.5 -1.5 1.5 -0.5 3 0.5 10 -1 3 -2.5 1.5 2.5 3 2.5 6 0 2 -1.5 3 0 4 1 1.5 0.5 5 2 7 -0.5 3.5 0.5 2 2 -0.5 1 -6.5 -0.5 -2 0.5 -4.5 -2 -8.5 0.5 -7 -1.5 -8.5 0 -6.5 0.5 -0.5 -0.5 -6 1 -1.5 3.5 -1 1.5 -2 0 -6.5zM442 520.5l0 2.5 2.5 5 -0.5 4.5 2 4 1.5 1.5 4 1.5 7.5 0 2.5 -1.5 -4.5 -2.5 -7.5 -2 -2 -1.5 0.5 -1.5 11 3 12 4.5 15 0.5 12.5 3.5 8 -1.5 4 -3 0 -1.5 -2 -4 -3.5 -5 -13 -3 -4.5 -4.5 -1 -2 -2.5 2 -3.5 6 -2 2 -7 -2 -4.5 -0.5 -2 -1 -12 -10 -1.5 0 -5 2.5zM342 485.5l-4 2 -1 1.5 2 0.5 1.5 -1 2 1.5 0 2.5 -3 3.5 0 1 2.5 -0.5 2.5 1 1 -0.5 0.5 -4.5 -0.5 -4zM1082 470.5l2 -0.5 1 1.5 -2 0.5zM618.5 468l-1.5 0 -2 2.5 -0.5 2.5 -6 4.5 -9 9.5 -2.5 7 -3.5 3.5 -3.5 2 -3.5 8.5 0.5 4.5 -9.5 9.5 -3.5 5 -5 1 2.5 0.5 4.5 3.5 3.5 0 3.5 1.5 6 1 2 2 0.5 3 2 -0.5 4 -4 1.5 -0.5 7 -0.5 12.5 -3.5 2.5 0.5 6 -0.5 -0.5 -8.5 -1.5 -3.5 -1.5 0 -1 1 -0.5 3 -2 2.5 -2 0 -3 -2.5 -1 -2 -4.5 -1 -2.5 -1.5 -5.5 -6.5 -1 -2.5 -2 -1.5 1.5 -4 7 -1.5 2.5 -4.5 2 -0.5 1.5 1.5 1 -0.5 -0.5 -4 2 -3.5 0.5 -3.5 2 -5.5 2.5 -4 -1 -8zM1071.5 468.5l2 -1.5 4 4 -1 1 -2 0 -3 -2.5zM1329.5 461.5l1 -2 1.5 0.5 -1 1.5 -1 0.5zM895 455l0.5 -0.5 3 4 5 3.5 -1 1 -2.5 -1 -4 -3.5zM1318.5 452l-3.5 1.5 -2 2.5 2 -0.5zM1390 462.5l-2.5 -1 -3 0 -1.5 -2 -4.5 0 -3.5 -1.5 -3.5 1.5 -3.5 -0.5 -1 -1 3 -3.5 0 -3 -2 -1.5 -2 -3 -2.5 0 -5.5 2.5 -4 5 -3.5 1 -8.5 4.5 -4.5 4.5 -7.5 4.5 -4 4.5 0 3 -1 1 -1.5 -1.5 -2.5 0 -4 2 -0.5 -1 5 -5.5 6.5 -3.5 5.5 -5.5 2.5 -0.5 4.5 -2.5 13 -11 -0.5 -2 -2.5 -0.5 -9 5 -3 -0.5 -5 3 -6 5.5 -4.5 2 -6.5 7 -4.5 3.5 -10 6 -3.5 1 -5.5 5.5 -6 3 -10 7 -1 1.5 1 3 1.5 0 6 -4 0.5 0.5 3 -0.5 2.5 0.5 -5.5 5.5 -19.5 13 -1.5 1.5 0.5 3 17 -11.5 6 -5 4 -1.5 3.5 -2.5 1 0.5 -9.5 8.5 -4.5 2.5 -3.5 3 -2.5 1 -5 4.5 -4 2 -3 3 0 1 1.5 -0.5 5.5 -4 5 -1.5 9 -5.5 2 -0.5 1 0.5 -1.5 2.5 -5 4 -0.5 3.5 -2.5 3 -0.5 3.5 -2 2 -4 2 -3.5 3.5 -1 2 0.5 7.5 -5 7 -3 1 -2.5 -2 -0.5 -2 -1.5 -0.5 -2.5 2 -6 1 -2.5 2.5 -4 1 -1.5 1.5 -1 3.5 -3.5 -1.5 -4.5 0 -4 2 -23.5 18 -5.5 3.5 -3.5 3.5 -3 0.5 -14.5 10.5 -2 2 -0.5 1.5 0.5 4 4 -0.5 5 1 4 -1.5 5.5 0.5 4 -2.5 4.5 -0.5 2.5 -1 3.5 -3.5 0 -2.5 -1 -1.5 -3 -0.5 -2 -1.5 5 -8 8 -6.5 2 -1 6 -0.5 0.5 -1.5 3 -3 6 -3 3 -3 2 0 6.5 3.5 4.5 -3 3.5 -1 7 1.5 4 2 2.5 -0.5 2.5 -2 2 -3 3.5 -0.5 4 -3 1.5 0 1.5 1 3 0 4 -2 3.5 -3 2.5 -0.5 1.5 -2.5 0 -3 2 -2.5 2 -4.5 2.5 -2.5 2.5 0 3.5 2.5 3.5 0.5 2.5 2 3.5 1 3.5 0 6 -1.5 1.5 -1.5 4 -8.5 0 -1.5 -1.5 -1.5 1 -1 3 -0.5 1 -3.5 2.5 0 3.5 2.5 -4 -3.5 0.5 -2 -0.5 -3 1 -5 0 -6 3.5 -3.5 4.5 0.5 1.5 -1.5 3.5 -0.5 1.5 1 2 0 3 2.5 0.5 1.5 2 2 -1 1.5 1.5 1.5 0.5 2.5 -0.5 1.5 -4 4 0 1 1.5 0 1 -1 2 0.5 -3 3 -0.5 1.5 0.5 2 1 0 4 -3 5.5 -1 3.5 -4.5 0.5 1 -1.5 2.5 1 -0.5 3 -6.5 5 -8 -0.5 -7.5 5 -10 -0.5 -6.5 -3 -7 -4 -0.5 -1 -1 -1.5 -5 0.5 -0.5 3 0.5 -1.5 -5 0.5 -1 4 7 1.5 1 3 0 2.5 2 0 -1.5 -2 -1 -0.5 -1 4 -2 1.5 -3zM1330 443.5l-3 1 -2 3zM1250 469l-1.5 -2 -5.5 -2 -2.5 -3 -5 0 -3.5 3 -4.5 2 -6 -0.5 -3 -2 -0.5 -2.5 -1.5 -1.5 -4 -0.5 -3 -3 -3.5 0 -6 6.5 3 3 -0.5 7 2 3 0 3 -1 0.5 -4 -4.5 -1.5 -4 -3 -2 -2 -7.5 -4.5 -3 -2 2 -2 4 -2 -1.5 -4.5 1.5 -2.5 -1 -2 -2.5 -4 0.5 -5 2 -4 0 -2.5 -2 -1 -2.5 -1.5 -1 -6 3.5 -3.5 1 -6.5 0.5 -2 1.5 -4 0 -1.5 -0.5 -1 -1.5 -2 0.5 -1 2 -0.5 5 -1.5 2.5 0.5 3.5 -2 1 -4.5 -3.5 0 -1.5 2.5 -2 2 0.5 1.5 -2.5 -1.5 -2.5 -4 -2 -1 -2 0 -3.5 -4.5 -6.5 0 -5.5 0.5 -0.5 -2.5 -0.5 -2 2 0.5 5 -0.5 3.5 -2 1 -4.5 -3.5 -1 0 1 2 -0.5 4 -1.5 1.5 -4.5 -1 -3.5 1.5 -3.5 3.5 -0.5 3 -1.5 1.5 -2.5 -2 -7 -1.5 -5 -4.5 -3 0.5 -3 2 -7 -1 -5 6 -2 1 -4 -4 -4.5 -1.5 -3 -2.5 -3 0 -1 -1 0 -2.5 -9 -7.5 -1.5 -3.5 -5 -4.5 1 -2 -0.5 -1.5 -2 -1.5 0 -6.5 -0.5 -1.5 -2 -1.5 -2 0 -2 1 -1 4 -7 4 0 1.5 4 3.5 2.5 0 1 1 0.5 4.5 -5 3.5 -3 6.5 -2 2 -4 1.5 -3 0 -2.5 -3.5 -2 -1.5 -5.5 -0.5 -1.5 0.5 -3.5 4 -4 1.5 -4.5 -2.5 0 -4 -3.5 -2 -1 0 -3 4.5 -2 1.5 -1.5 -3 -2.5 0.5 -8.5 -3.5 -2.5 0 -0.5 -1 2.5 -2 0 -1 -5 0 -2.5 2.5 -12 -0.5 -2.5 -1.5 -5 0 -1.5 1 -2 0 -2.5 -3 -3.5 -1.5 -3.5 -4 1 -3 -2.5 -0.5 -2.5 2 -1.5 0 -2.5 -2 -2 0 -2 2 -0.5 2.5 -1.5 2.5 0 2 -2.5 3 -0.5 3.5 -0.5 0.5 -1 -1.5 -0.5 0.5 1.5 5 1.5 1.5 3 1 0.5 1.5 -5.5 1 -2.5 2.5 -3 -0.5 -2.5 0.5 0 2 2.5 6 0 2.5 1.5 3 -3.5 4 -1 0 -5 -3.5 -3.5 0 -2.5 2.5 0 1.5 -3.5 2 -4.5 8 -3 1.5 -2 0 -1.5 -1.5 2.5 -2.5 0.5 -3.5 -7 -7 -3.5 -1.5 -2 0 -2.5 -1.5 -2 0.5 -8 12.5 0 1.5 3 3 0.5 2.5 -4 4 -1 4 -4.5 0 -3.5 3.5 -4 0.5 -2 2 1.5 3 0 2 -1.5 1 -2 0 -2.5 -1.5 -1.5 0.5 -8.5 -0.5 -1 0.5 0 2 5.5 5.5 0 1.5 -4.5 4.5 -2 4 -2 2 -3 1.5 -1 3 -1.5 1.5 0 3.5 -2 2.5 -3 1 -4 -1.5 -9.5 -0.5 -1.5 -1 0.5 -4 -1.5 -2 -1.5 0 -1.5 1 -5.5 0 -2.5 -1.5 -3 0.5 -2.5 2.5 1 3.5 -0.5 2 3 5.5 -0.5 6 -1.5 2 -1.5 0 -1 -1 -1 -4 -3 0 -3 3.5 -4 0.5 -3.5 3.5 -4.5 1.5 -3 2.5 -5 1 -5.5 4 -3 0 -3 1.5 -3 0.5 -6.5 5.5 0 2 2 0.5 1.5 1.5 0.5 2.5 -3.5 3.5 -1 5.5 -4 3.5 -0.5 2 -3 3.5 -2 0 -1.5 -1 -2 0.5 0.5 3 5 5 4 -4 1 1 0 5 -1 7 -1 2.5 0 4 -1.5 6 -1.5 1.5 -1 -0.5 -1 -3.5 -1.5 -1 -4.5 -1 -5 0 -1.5 -1.5 -2 -4.5 -1 -5 -2 -3.5 -2.5 -8 -2.5 -4.5 -2 -6 0.5 -6.5 3.5 -8.5 1 -1 1.5 -4.5 0 -3 2 -4.5 -4 0.5 -6 3.5 -5 12.5 0 2 -2.5 4.5 0 4 -1 3 -5 7 -0.5 5.5 1 2.5 6 5.5 0.5 1 -0.5 3 1.5 5 4.5 2.5 1 1.5 0 2 1 1 5.5 1.5 3.5 0 1.5 -1.5 1 -3 3 -2.5 2 2 2.5 6 1 4.5 2 4.5 -1 2.5 2.5 5 2.5 1 5.5 5.5 4 0.5 4 2 -3 -3.5 -0.5 -3 -2 -2.5 -2 -11.5 2 -4.5 4.5 -3 0 -2 -2 -2.5 0.5 -5 -0.5 -1.5 0.5 -3.5 2.5 -7 0.5 -4.5 4 0 2.5 -1.5 2 1 2 0 2 2 0.5 2.5 2.5 2 2 0 1 -1 5.5 -1 5.5 0 4 2.5 3 0.5 7.5 6 3 1.5 2.5 2.5 1.5 0.5 5 -2 3 2.5 0 1 2 -0.5 4 0.5 2 -1 4.5 -0.5 2.5 -2 5 0.5 1 -1 -0.5 -5 2 -3.5 -0.5 -5 3 -4.5 -0.5 -6.5 1.5 -4 0 -5 4 -7 0 -2.5 -1.5 -4 6.5 -3.5 3.5 0 2 1.5 3 -0.5 3 -3 1 -6.5 1 -1 3 0 1.5 1 1 -0.5 1.5 -2.5 2.5 -2.5 1 0 9 -9.5 3 1 1 -1 5.5 0.5 3.5 1 3 2 2.5 0 3 -1.5 5 -0.5 6.5 -4 4 0.5 2.5 1.5 2.5 -0.5 2 1 1.5 0 3 -1.5 3.5 3 3.5 0 2 -1 9 0 0.5 0.5 4 -0.5 2.5 0.5 5 3 3 0.5 3 2.5 1 2.5 1 0.5 2.5 0 4.5 -3.5 2.5 -0.5 3 2.5 1 2 1.5 0.5 4 -0.5 1 -3.5 1.5 -1 1 1 -0.5 4 1.5 1.5 2.5 0.5 3 4 3 1 3.5 0 3 3 3.5 0.5 8.5 -4.5 3 0 2.5 1.5 4.5 0.5 3.5 -1.5 7.5 -1 8.5 -8 2 0.5 1.5 2 1.5 -0.5 -2 -4.5 0 -4 1.5 -2.5 0.5 -2.5 6 -7 6 -0.5 4.5 -5 1.5 -0.5 3 0 3 3 2 1 3 0 2 -2 2.5 -8.5 3 -2.5 2.5 0 2 1 2 2 2.5 0.5 7 6 3 0.5 12.5 -7 3 -4.5 1.5 0 3 2 1.5 0 1.5 -1 2 1 -2 2.5 0.5 4.5 1.5 2 4.5 1 0 2 -4 3 0 1.5 2.5 2 6.5 0 2 -1 4 0.5 2.5 3 3 6 0 1 -1.5 0.5 0.5 1.5 4 4 0.5 -0.5 5.5 0.5 3 -2 1.5 1.5 1 0 2 -2 2.5 1.5 3.5 -0.5 1 -1 0 -1.5 -3 -4.5 1.5 -2 2.5 2 1 -1 1 1 -0.5 2 -1 -1 0.5 2.5 1.5 0.5 1 -1 2.5 2 0 3.5 -4 5.5 0.5 8 3 3.5 1 2.5 2.5 -0.5 5 -4 3.5 -1.5 1.5 0.5 -3 3 -3.5 2 -4.5 5 -4.5 3 -4.5 4.5 0.5 1 11 -7.5 -1 -1 1 -1 8 -2 3 -2.5 2.5 -1 3 0.5 -1.5 3 14.5 -10.5 3 -1.5 1.5 0 0.5 1 -1 1.5 -5.5 4.5 -4.5 5.5 -3.5 1.5 -4 3 -0.5 2.5 2 1.5 -0.5 1.5 4 -3 2 0 12 -11.5 7 -5 0 -1.5 -1 -1 5.5 -6 7.5 -3.5 2.5 -0.5 0.5 -2 7 -5.5 2.5 -0.5 7 -4 2.5 -0.5 -2.5 -1 -3.5 0 -5 -2.5 -2.5 0 -3 2 -2 0 -8.5 -5 -3 0 -3 1 -4.5 4.5 -4 -0.5 3 -0.5 1 -1 1 -5.5 2 -2 3.5 -0.5 4.5 -2.5 10 -2 5.5 -3 4.5 -0.5 6.5 -5.5 1 -6 3 -3.5 2 -1 1 -2 0 -3 1.5 -3.5 1.5 -1.5 4 -1.5 3.5 -5.5 0.5 -2.5 -2 -4.5 0 -2 1 -2.5 3.5 -2.5 -1 -1 0 -1.5 1 -1zM326 419.5l-2 2.5 -3.5 7 -4.5 20 2 14.5 0 5 -1.5 0.5 -4 -2 -3 0 -5 3.5 -4 1.5 0 2.5 4 6.5 1.5 4.5 6.5 6 6.5 2 3 2 2.5 3 -0.5 1.5 0.5 0.5 6 0.5 2 -1 0.5 -1 0 -4.5 -1 -4 -6.5 -14.5 -1.5 -7.5 -2 -4 -2 -15.5 3.5 -3 -1 -5.5 0 -5 1.5 -5 3 -6 2.5 -2 4.5 5.5 1.5 5 0.5 5 2.5 5.5 0.5 4 5.5 10 2 6.5 5 4.5 4.5 6.5 3 7.5 5.5 9.5 1.5 5.5 7 14 3 3 3 5.5 3.5 3.5 0 3 1.5 1.5 1.5 3.5 1.5 1.5 2.5 0.5 4.5 3 3 4.5 3 7 2 2.5 2 8.5 0.5 6.5 -0.5 3 -3 2 0 1.5 2 1 1 1.5 2.5 11.5 -1 1 -9 2.5 -12 -1 -2.5 -2.5 -0.5 -2 -4 -6 -2 -5 -12 -22.5 -1.5 -4.5 -3 -3 -3.5 -5.5 -10 -12.5 -4.5 -9 -7 -8.5 -2 0 0.5 1.5 -0.5 8.5 3.5 9.5 1 1 0.5 3.5 3 8.5 6.5 12 6.5 8 4.5 8 7.5 9.5 5.5 9 8 6 2 -0.5 0.5 1.5 -1 2 1.5 1.5 7.5 2.5 3 2 -0.5 1.5 6.5 1.5 3.5 2.5 0.5 -0.5 -2.5 -3 3 -0.5 14.5 5.5 13.5 3 5 -0.5 7.5 0.5 1 -0.5 3.5 3.5 2 1 3 -3 0 -0.5 -0.5 0.5 -1 -0.5 1 -2 1.5 0 4.5 -2 3 1.5 2 0 1 -1.5 0 -2 -4 -4 -1 -2 0 -3 -1.5 -1.5 -3 1 -11 -0.5 -1.5 1 -4.5 1 -3.5 2 -3.5 0.5 -5 -1.5 -5.5 -0.5 -2.5 -2.5 -1.5 -5 -1.5 -1.5 -4.5 -1.5 0.5 -3.5 -1 -2.5 -1.5 -10.5 0 -5 -1 -3 -0.5 -12.5 -5 -6.5 -4 -8 -4.5 -5 -4 -3 -2.5 -6.5 -12.5 -16 -2.5 -6 0 -2 -3 -4 -1.5 -4 -0.5 -7.5 -1 -1.5 -2.5 -0.5 -2 -2 -5.5 -11 -4.5 -5.5 -1.5 -4.5 -2.5 -4 -1 -4.5 -3 -3.5 -0.5 -3 -2.5 -6 -0.5 -3.5 -4.5 -9 -4 -5.5 -2.5 -0.5z"/>
<path fill="#e67300" fill-rule="evenodd" d="M1264.5 838l0.5 3.5 1.5 0.5 -1 -1 0.5 -2 2.5 2 -1 1 0.5 0.5 2.5 -1 -2.5 -2 -1 -2.5 -1.5 0zM1234 803.5l-3.5 0.5 -1.5 3 -2 2 0 2.5 2.5 2.5 2 -0.5 4.5 -5 0 -2.5zM1247.5 787l0.5 1.5 -1.5 1.5 -0.5 -2zM906 773l-5 2.5 -8 6.5 -6.5 10 -3.5 17 0.5 8 -1 1 -3.5 -0.5 0.5 1.5 3.5 1 3 0 2.5 -1 -1.5 -8 0 -4 1.5 -7.5 3.5 -7 8 -9.5 7 -6.5zM823.5 765.5l0 3 5 4 0.5 2 3 4 1 0.5 5.5 -0.5 12 5.5 2 0 4 1.5 2 0 6 -3 4 0 3.5 2.5 2 0 2.5 -3 3 -1 1 -2.5 2.5 -2.5 1.5 -0.5 0 -1 -1.5 -1.5 -8 -4 -5.5 0.5 -3 5 -3 2 -1.5 -0.5 -1.5 -2.5 -2 -1.5 -2 0.5 -3 2.5 -5 -2.5 -5.5 0.5 -3 -3 0.5 -5 -3 -1.5 -5 -5.5 -7 0.5zM1226.5 750.5l-1.5 5.5 -3 1.5 -2 2.5 -1.5 -1 -1.5 1 0 2 2 2 0 1.5 -2 4 0.5 4.5 2.5 1 1.5 1.5 0.5 3 -1 1 -4.5 -1 -1 2.5 0.5 3 4.5 5 2 0.5 3 -3 1.5 -5 2.5 -2 4.5 -1.5 2 -2 -0.5 -3 -4 -1.5 -2 -2 -1.5 -2.5 0 -1.5 -3 -3.5 0.5 -1.5 2.5 0.5 1 -2 1 1 2.5 0 4.5 1.5 6 -0.5 1.5 1 -0.5 6.5 4 1.5 1.5 1.5 0.5 2 -0.5 4 -1 2 0 3 -1 1 -1.5 -1 0 2 -1.5 1.5 0 1 -2 0.5 -0.5 1.5 0.5 1.5 3 3 5.5 1 2 3.5 3.5 3 1 -0.5 2.5 -6 0 -14.5 -3 -5 1 -6 0 -5 -2 -6 -7 -0.5 -4 -1.5 -2 0 -2 -1.5 0 -1.5 -4 -4 -2.5 0 -2 2 -2 0 -2.5 -1.5zM741 680.5l0 5.5 1 4.5 5 5 2.5 7 4.5 2 1.5 1.5 0.5 3.5 1.5 2 1 0.5 8 -0.5 3 2.5 1 3.5 2 1.5 5.5 -4 1.5 -0.5 3.5 0.5 2.5 -2 5 0 0.5 -0.5 0 -2.5 -2 -2.5 0.5 -3 2.5 -0.5 2 -1.5 1.5 -3.5 2 -1.5 0.5 -3 -11 -1.5 -0.5 -2.5 2.5 -2 0 -1 -2.5 0 -4 2 -1 -1 -2 -7 -2 0.5 -1.5 2 -3 0.5 -10 -0.5 -2 1.5 -3 0.5 -6.5 -3.5 -7 -1 -1.5 -2 0 -3 -0.5 -0.5zM987 663.5l-0.5 3 2 1 1 -2.5 -1 -1.5zM982 669l1.5 -5.5 3.5 -3 2.5 2.5 3 1.5 2 0 1 1 0 1.5 -2 2 -2 0 -3.5 1.5 -4 0zM1251.5 649.5l1.5 0 3 3.5 0 3.5 -1 1 -3 -0.5 -2 -2.5 -0.5 -2.5zM886 644.5l-0.5 0.5 0.5 5.5 2 0.5 2.5 3 1 0.5 3.5 -0.5 4 -2.5 -0.5 -3.5 -5 -5 -2 0 -3.5 3zM1287.5 641.5l-2 -0.5 -1.5 1 -4.5 1 -2.5 0 -3.5 -1.5 -3 -5 -3.5 -0.5 -1.5 -4 -2 0 -3.5 2 -1.5 0 -3.5 3 -3.5 1.5 -5 -0.5 -7 -4.5 -6.5 -0.5 -2 4 -13 13.5 -4.5 2 -3 2.5 -6 1.5 -2.5 2 -1.5 3 -1.5 1 -4 -0.5 -3 2 -3 0 -3 -1.5 -3.5 0.5 0.5 2.5 -1.5 2 -3 1.5 -2 0 -2.5 2 -2.5 0 -5 4 -0.5 3.5 -1.5 1.5 -4.5 1 -6 7.5 -4.5 -0.5 -1 -1.5 -0.5 -3 -2.5 -2 0 -4.5 -3 1 -2.5 -4 -4 -3 1.5 -6.5 0 -3 -2.5 -4 -0.5 -4 -6 0.5 -1.5 1.5 -0.5 5.5 -3 5.5 -2.5 2 -2 -0.5 -1.5 0.5 -9.5 9 -2.5 -0.5 -0.5 -5 -3.5 -1 -5 -5 -2 -4 -4 0.5 -1.5 5 -3 2.5 -1 2 -0.5 3.5 -13.5 -1 -5.5 1 -2 1.5 -1.5 -1.5 -1 -4.5 -4 0.5 -2 -1 -7 -7.5 -2.5 -6 -0.5 -4 -3 -2 -2.5 -3.5 -3.5 -1 -3.5 -3.5 -2.5 -1 -3 0 -2.5 1.5 -3 3.5 -0.5 3 -2 2.5 -2.5 0 -4.5 -3 -4 2.5 -3 0 -2 1.5 -9 0.5 -4 -1.5 -4.5 -3.5 -3.5 0 -4 2.5 -4 -0.5 -2 -1.5 -2.5 0 -3 2.5 -2.5 3.5 -3.5 1 -1.5 1.5 -0.5 3.5 -2.5 1.5 -3 -0.5 -4 -2.5 -2.5 0 -1 0.5 -1 2.5 -2 1.5 -3.5 -4.5 -5 -2.5 -1.5 0 -5.5 4.5 -2 4.5 -0.5 3 -2.5 2.5 -2 -0.5 -2 -2 -3 0.5 -6.5 -6.5 -3 0.5 -4 -3 -3.5 0 -3.5 4.5 -6 2.5 -4.5 3.5 -1 3.5 -4 3.5 -0.5 2.5 -2 2.5 -3.5 0 -4.5 1.5 -4.5 0 -1 1 0 1.5 -1.5 1.5 -2 0 -1.5 -1 -2.5 0.5 -3 -1.5 -5 0 -6.5 -4.5 -5 -1.5 -3 0 -0.5 5.5 -1 1 -1.5 -1 0 -5.5 -1.5 0 0 1.5 -1 1 -5.5 1.5 -4 3 -11 -0.5 -5.5 2 -1 1.5 -0.5 3.5 4 4 2.5 1.5 2 -1 4.5 -5 4.5 -2.5 2.5 -0.5 3.5 2 3 -4 2 0.5 2.5 -1 3 0 1.5 -1 2.5 1 3 2.5 3 0.5 1.5 3 4 3 -5 1 -4.5 4 -3 1 -2 4 -3.5 0.5 -3 3 -2 1 -3.5 -0.5 2.5 -3.5 -6 4 -2 -1 -4 -0.5 -12 0 -0.5 1.5 5 4.5 7.5 3 7.5 9 4.5 3.5 2 0 1 -3.5 2.5 -2.5 3 0 1 -2.5 0 -3 -1.5 0 -1.5 -1 0.5 -6 -1 -1.5 0 -2 1.5 -1 2.5 0 4 4 -3 1.5 -1 1.5 2 3 -1 6 2 1 1.5 -2 0.5 -3 3.5 -2 3.5 -0.5 4.5 2 2 0 4.5 -2.5 6 -0.5 3 -6.5 1 -4.5 2.5 -1 2 -3 5 -1 5 -3 8 0.5 6 -3.5 2 0 2.5 1.5 3 0 2 -1.5 3 -0.5 2.5 -2.5 4 -2 1 0 7.5 8 0.5 2.5 1 1 1.5 -0.5 1.5 -3 5.5 -0.5 3 -4 2.5 -0.5 2 -2.5 2.5 2.5 8 2.5 6 6 4 0 3.5 -1.5 8 1 8.5 -3 6 0 8.5 -2.5 10.5 -0.5 4.5 5 3.5 1.5 5 0.5 2 1.5 1.5 0 3 -1.5 7.5 -0.5 3.5 -3.5 5.5 -2 3 -4 6.5 -2 3 -2.5 1.5 0 2 2.5 3.5 0 5.5 3 5.5 0 1.5 -0.5 3.5 -3 8 0.5 3.5 3.5 1 6 2 0 2 -1.5 2.5 0 3 4 1 0 0.5 -1.5 -4 -4 0.5 -7.5 1 -1 3.5 0 2 1 2 0 2 -2 3 -1.5 2.5 1 6.5 4.5 5.5 -1 3 3.5 4 0.5 2 1 4.5 0 4 -1 3 -1.5 1 -2 1.5 0.5 0.5 2.5 8 0.5 4.5 -1.5 1.5 -1.5 1 -3 2.5 -2 3 0.5 2.5 -0.5 3.5 2 2 -2 2.5 -1 3.5 -3.5 3.5 0 3.5 1 3 -3 1.5 0 4 3.5 0.5 1.5 6 6 3.5 1.5 2.5 0 2 -1.5 0.5 -2 1.5 -1 7.5 -0.5 5 1.5 2.5 -0.5 4 -5.5 4 -1.5 1 -5 4 -4.5 4 -1 4.5 -9.5 15.5 -12.5 9.5 1 7.5 -6zM677.5 623.5l6 7 -0.5 1.5 -1 0.5 -3.5 -3.5 -1.5 -4.5zM665.5 622l-3.5 -1 -5.5 13.5 -0.5 3.5 -3 8.5 -3.5 4.5 -5.5 4 -3 -0.5 -6.5 -3 -4.5 -4 0 -2 -1.5 -2 -2.5 5.5 0 2.5 5.5 6 4 2.5 7.5 1 0.5 2.5 1.5 -1 0.5 -2 9 -5.5 2 -3 3 -8 2.5 -4.5 2.5 -10 2 -4.5 0 -1.5zM675 618.5l2 3.5 -0.5 1 -2 -3zM668 604l-1 0 -2.5 2.5 -0.5 1.5 0.5 1.5 1.5 0 2.5 -1.5 0.5 -1.5zM1188 584.5l-1.5 0 -12.5 8 -1.5 1.5 -0.5 2 1.5 0zM684.5 570l-3.5 1.5 -3.5 3.5 -5 11.5 -2.5 12.5 0 3 2 5.5 -0.5 1 1.5 3.5 0 2 -1 1 -4.5 -0.5 -1 1.5 6 5.5 -1.5 2 0.5 4 1.5 1.5 2.5 0.5 3.5 4.5 1 0.5 3 -0.5 2 3 1.5 0 1.5 -2 1.5 -5 -2.5 -5 -1.5 -6 -9 -22 1 -5 6 -13.5 0.5 -4.5 1.5 -3.5zM1197 564.5l-2.5 0.5 -2 2.5 -2.5 0.5 -5 6 -1.5 0.5 -4 3.5 -2 3.5 -7 4 -2 4 1.5 1 -0.5 1 3.5 -2.5 2.5 -0.5 4 -3 1 -2 6.5 -6 -0.5 -2.5 1.5 -1.5 2.5 0.5 2 -0.5 1 -1 -0.5 -3 3 -3zM579.5 560.5l-1.5 -0.5 -3 2 1 0.5 3 -0.5zM1238 561.5l-4 -2.5 -3 0 -6 3 -18 13.5 -5 4.5 -3.5 2 -5 4.5 -2.5 0.5 -11.5 8 -2 2.5 -3 2 0 4.5 5 -1 2 1 4 -1 7 0.5 3 -2 6 -1 2 -1 2.5 -2.5 0 -3 -1.5 -1 -5 -1 -1 -1.5 3.5 -3 3.5 -5.5 7 -6.5 4.5 -2 1.5 0.5 2.5 -0.5 3 -3.5 6.5 -3.5 2 -2.5 4.5 -1.5zM1242.5 556l-1.5 0 -1.5 1 0 2.5 1.5 -1zM561.5 555.5l0.5 1 1.5 0 2 1.5 0.5 3 3 3 1 3.5 3.5 4.5 0.5 3.5 1.5 -3 0 -1.5 -2 -3.5 0 -2.5 1 -1.5 -0.5 -1.5 -2 -1 -3 -3 -1 -4 -3 1.5zM1121 547l2 2 -1 2 -2 -1 0 -2zM926 546l1 -0.5 1 1.5 -1.5 1zM445 531.5l1 4 3.5 3 2 0.5 8.5 -0.5 -2 -2 -5.5 -2 -2.5 0 -2.5 -1 -1.5 -2.5zM1097.5 530.5l-1 2 1 1 2 0 0.5 -3zM503.5 518l-0.5 1 1.5 1.5 0.5 -2zM421 517l0 5 -1 1 -2 0.5 -2.5 -0.5 -1.5 1 -0.5 3 0.5 11.5 -2 3.5 3.5 8.5 0 2.5 -1.5 2 0 4.5 1 1.5 0.5 5.5 2 7 -0.5 4.5 1 0 1 -1.5 0.5 -11 -0.5 -4 -1 -1 -1 -3.5 1 -3 -0.5 -2.5 0.5 -2 -1.5 -9 0 -6 0.5 -0.5 -0.5 -6.5 2 -2 2 0 1.5 -1 0.5 -1 0 -6zM442.5 521l0.5 3 4 5.5 20 6 4.5 2 15 0.5 12 3.5 6.5 -1 3.5 -1.5 1.5 -1.5 -4.5 -9.5 -6.5 -2 -6.5 -1 -5.5 -5 -0.5 -1.5 -2.5 2 -5 7.5 -14.5 -3.5 -12 -10 -5.5 2.5zM1100 509l1 0.5 0 1.5 1 1.5 -1 1.5 -1.5 -1.5zM892.5 508.5l0.5 0.5 -0.5 1.5 -3.5 3.5 -1.5 0 -1 -1.5 0 -1.5 2.5 -2.5zM848 509l-4 0.5 -1 1.5 4 -1zM1117 487l2 2 0.5 1.5 -0.5 1.5 -1.5 -1.5 -1 -2.5zM1225.5 485l2.5 -0.5 1 1 1 3.5 -1.5 0.5zM1235 481.5l1.5 -1.5 1.5 0 1.5 1 0.5 1.5 -1.5 1.5 -2.5 0 -1 -1zM618.5 469.5l-1 0 -2 4 -6 4.5 -9.5 10 -1.5 5 -3 3.5 -1 2.5 -3 0.5 -1 1 -0.5 2.5 -2.5 4.5 0.5 5 -1 2 -7 7 -1 2.5 0 3 -1 0.5 -1.5 -1.5 -3 2.5 1 1.5 2.5 -0.5 0.5 1.5 2.5 -0.5 2.5 2 6.5 1.5 2.5 2 0.5 2 1 0.5 4.5 -4 9 -1 10 -3 9.5 0 1 -1 -1 -2 0 -5 -1.5 -2.5 -1.5 0.5 -0.5 3 -2 2 -2 0.5 -2 -1 -3.5 -3.5 -4 -1 -2.5 -1.5 -3.5 -4 -3 -1.5 -3 -3.5 1 -7.5 1.5 -1.5 2.5 1 3.5 -0.5 2 -3 5 -4 0.5 -2.5 2.5 -4.5 1 -6 3 -3.5zM1380.5 479l-5 0.5 -3 -3.5 -1 -4 0.5 -0.5 -2 -1.5 -3 0.5 -2 -2 2 -4 0 -2.5 -1 -2.5 -2 -1.5 -3.5 1.5 -3 -2 0 -1.5 -1.5 -1.5 -13.5 6.5 -4.5 5 -6 3.5 -2.5 2.5 0 4 -3 3.5 -1.5 0.5 -3 -2 -3 0 -6 4 -2.5 0.5 -0.5 -1 7 -6 3.5 -4.5 4 -1.5 4.5 -3.5 1.5 -2.5 -2 0.5 -1 -1 0 -1.5 1 -1.5 -3.5 1 -13 11 -8 5 -4.5 2 -5.5 5 -7.5 4 -9.5 7 -1 1.5 1.5 1.5 5.5 -4 3.5 -1.5 2.5 1 4 -1.5 0.5 1 -8 7.5 -20 13.5 -1.5 1.5 1 2 16 -11 4.5 -4 12 -7 4.5 -4 2.5 -1 0.5 1.5 -3.5 3.5 -9.5 6.5 -6 5.5 -3 1.5 -3.5 3 -3.5 1.5 -3.5 3.5 3 0 7.5 -5 7 -3.5 1.5 1 0 1 -3 4.5 -5.5 4.5 -1.5 4 -2.5 2.5 -0.5 2.5 -2.5 2.5 -4 2 -3 3 -1 2 0.5 8 -3.5 5.5 -3.5 3 -3 0 -3.5 -2 -3 0 -0.5 1.5 -7 6 -4.5 2 -1 2 4 1 1.5 -0.5 6 -5 1 0 3 3 7 1 2 -0.5 3 -4 5.5 0.5 4 -3.5 2 0 1.5 1 3.5 0 3 -1.5 6.5 -5 0.5 -3 2.5 -5 4.5 -5 3 0 4 2.5 4.5 0.5 4 3 4 0 5.5 -1.5 0.5 -1 -0.5 -3.5 2.5 -3.5 0 -4 -1 -2.5 0.5 -5 1.5 -2 2 -0.5 3 -2.5 0 -2.5 -2.5 -2.5 0 -4 1 -1.5 2.5 0 5.5 -4.5 3.5 -1 0.5 -1.5 2.5 -2 -0.5 -3.5 -4 0 -1.5 -1 0 -2 1 -1 4 0 7 2.5 1.5 2 0 2.5 1 0 6 5.5 0 4 1.5 1.5 0 3 1.5 2.5 0.5 3 -1 2 0 2 -4 4 0 1 3 -1.5 6 -1 3 -4 0.5 0.5 -1 2 0.5 0 7.5 -13 -0.5 -8 3.5 -8.5 2 -2.5 -0.5 -5 -2 -2.5zM915 455l0 1.5 3 0 1.5 1 -2.5 -3.5zM1243 479l-6 -4 1 -3 -2 -1 -4 3.5 -3 5.5 -3 3 0 1.5 -1 1 -2 0 -3 -2.5 0 -1.5 3.5 -3.5 1 -4.5 1 -1.5 -3 -1 -2.5 2 -4 0.5 -2 4 -3 1.5 -2 -2 -2.5 -6.5 -0.5 1.5 1.5 3 0 3.5 2 4.5 -1 1 -5.5 1.5 -2.5 0 -3.5 -3.5 -1.5 -4.5 -1.5 2.5 -1 0 -1.5 -2.5 0 2.5 -1 1 -1 -1 -1 -6 -1.5 -1.5 -3.5 -0.5 -0.5 3 -0.5 0.5 -2 -0.5 -1 -1 0 -1.5 2.5 -1.5 -0.5 -2.5 -2 -1.5 -4.5 0 -3 -3 -7.5 3 -4.5 -0.5 -4.5 2 -4.5 -0.5 -2.5 -3.5 -3 1 -5 0 -5 3 3 2 0.5 2 -2.5 2.5 -4 0.5 0 3 2 3.5 0 2 -3.5 3.5 0.5 1.5 -0.5 2 -3 3 -2 0.5 -1 2 -2 -1.5 -0.5 -2 3.5 -3.5 -2 1.5 -1.5 0 -3.5 -3 -3 -1.5 -1.5 -2 0.5 -1.5 3 -2 1.5 -3.5 -4 -4.5 -1 -4.5 -3 -3 -5.5 0.5 -3.5 3 -2 0 -3 -1.5 -1 3 -3 3 -3 -0.5 -2 2.5 -6.5 -0.5 -3.5 3 -2 0 -6.5 -4.5 -3 0 -4.5 3.5 -5.5 0.5 -3.5 -3 -2 -4.5 -2 -2 -3 -0.5 -2 -1.5 -1.5 0 -9.5 8.5 -2.5 1 -0.5 -1 3 -6.5 -0.5 -1.5 0.5 -5 -3 -5 -4 -2 -1.5 -1.5 -1 -2.5 -1.5 -1 -2 0.5 -1.5 -1 -1.5 0 -0.5 0.5 0.5 2 -4 2.5 -0.5 1 0 2.5 2 3.5 3.5 0 4.5 -3 1.5 0 1.5 2 -1.5 3 -1.5 -1.5 -2.5 0.5 2 9 0 2 -1 1 -2.5 -0.5 -3.5 -9.5 -5.5 -0.5 -1 -1 -3.5 0 -3 2 -4 0.5 -6 -6 -3 -0.5 -2 1 -4 4 -1.5 0 -8 3.5 -1.5 0 -1 -1 -1.5 1 -1.5 0 -5 -3 -2 -2.5 -1 -3 -1.5 -1.5 -6.5 -0.5 -3.5 1.5 -4 0.5 -3.5 -2.5 -2.5 0 -6 -3 -3 -0.5 -4 3 -1.5 3.5 0 2 -1 1 -2 0 -3.5 -2.5 -1.5 0 -3 1.5 -3 4 -3 0 -4 3 -6.5 1 0 1 1.5 1.5 -2 0.5 -0.5 1 0.5 0.5 0 5 -2.5 6 -1.5 1.5 -2.5 1 -2 2.5 -1.5 0 -1 -1 -4 3.5 -1.5 5.5 -1.5 1.5 -6 2.5 -2 2 -7 2 -1 -2 -2 -0.5 -7.5 0 -2 -1.5 0 -3 3 -4.5 -2.5 -0.5 -3.5 1 -1.5 1.5 -1 7 5.5 5.5 -2.5 3 -5.5 3 -3.5 1 -3.5 5 -4 0 -3 -3 -1 0 -1.5 2.5 -2 1.5 -5 -0.5 -1 1.5 -2 0 0.5 1.5 4 -0.5 2.5 2.5 -1 2.5 2 4.5 0 3 -2 5 1 3 -0.5 2.5 -1.5 0 -5 -2.5 -1.5 -1.5 -1.5 0 -6 4 -1 4 -2 2.5 -3 0.5 -4 -1 -3.5 1 -7.5 -3.5 -4 1 -2.5 -0.5 -6.5 -3 -2.5 -2 -3 -0.5 -2.5 1.5 -0.5 4.5 2 2.5 -1.5 8.5 -2.5 2.5 -2.5 0.5 -3 -2.5 -7.5 0 -3.5 3.5 -4 1.5 -2 2 -3 1.5 -4.5 0.5 -5.5 5 -6.5 0.5 -2.5 1 -1.5 2 -3 2 3.5 2.5 0 4.5 -3 3.5 -0.5 5.5 -4.5 3 -1.5 4 -4 4 -2 -0.5 -1.5 -2.5 -1 0.5 1 2.5 3 3 1.5 0 3 -3.5 1 -0.5 1 0.5 0.5 2.5 -0.5 8.5 -1 1.5 -0.5 6.5 -1 2 -1 6 -1 2 -2.5 2 -1.5 -6.5 -6 -2 -1.5 0.5 3 6.5 1.5 7 1.5 2.5 0 2.5 2 4 8 7.5 4.5 0.5 -3 -2.5 1.5 -1.5 -2 -2.5 -2 -11.5 4.5 -15 0.5 -7.5 2.5 -9 -0.5 -3 1 -1 1.5 0 2.5 -4 5 -3.5 0.5 -3 2 -2.5 1 0 3.5 2.5 -3 10.5 4 5 2.5 -1.5 3.5 1 6 -3 3.5 0 2 2 4.5 2 2.5 3 2.5 1.5 1 2.5 2.5 2 2 0 1.5 -2.5 4.5 -0.5 5 5 3.5 0.5 6 -5 1.5 -0.5 7 3.5 2 -12 3 -5 -1 -6 1.5 -3 0 -7 3.5 -5.5 -0.5 -3.5 -2.5 -1.5 -1 -2 4.5 -3 3.5 0 4.5 -2.5 4.5 2 2 0 2.5 -3 0.5 -8 1 -1 1.5 0 5 2 1.5 -3 2 -2 2.5 -1 2 -3.5 3 -3 -0.5 -3 1.5 -2.5 3 0 5 3 3 0 6 -1.5 1.5 4.5 7 -1 1.5 -1.5 3.5 -0.5 2.5 -1.5 7.5 -2 1.5 0 2 2 5 -1 4.5 0 2.5 1.5 4 0 1 -0.5 0.5 -1.5 -3.5 -5.5 0 -3.5 1 -1 3 3.5 3 0 1 1 -0.5 2 1 2.5 -0.5 4 7 0 4.5 -3 3 5.5 4 1 5.5 5.5 2.5 -0.5 4.5 -3.5 2 0 4 3.5 0.5 2 2.5 0 3 -4 2.5 0 2.5 2 1.5 3 4.5 -0.5 2 1.5 0 1.5 -3 2.5 0 1 6.5 0.5 3.5 3.5 2.5 0 5.5 -2.5 2 -2 1.5 -0.5 5 2.5 9 -2 1 -1 -0.5 -1 0.5 -1.5 2.5 3 2 0 2 -1 3.5 -5.5 2 -2 1.5 -0.5 1 -4 3 -6 3.5 -4 1 -3.5 1.5 -1.5 5 0.5 3.5 -3.5 -1.5 -2.5 1.5 -2.5 0.5 -3.5 2.5 -2 0 -1.5 4.5 -4.5 1.5 0 1 1 0 2.5 0.5 0.5 0.5 -0.5 0.5 2.5 3 2 0 2.5 1 0 1.5 -3 3 -2 5.5 0.5 11 5.5 4 3.5 2.5 0 6.5 -6 1.5 0 2.5 -1.5 0.5 -2.5 -1 -5.5 1 -1 3.5 -0.5 2 1.5 2.5 3.5 1 0 1.5 -2 0.5 -2.5 2 -2 2.5 -1 3 3 1.5 0.5 0 1.5 -3 4.5 0 1.5 1 1.5 -0.5 3.5 2.5 3.5 1 4 0 3.5 -2 2.5 5 0 4.5 -1 8.5 8.5 1.5 2.5 5.5 1.5 1.5 -1 4 -0.5 3.5 -4.5 8.5 -4.5 2.5 -0.5 0 -1 1.5 -1 1.5 1.5 -1 1.5 -1 0 1 3 1.5 1.5 1.5 0 1 1 0 2.5 -2.5 2 -0.5 1.5 0.5 2 -0.5 4.5 -3 2 -2.5 3.5 2.5 3.5 -0.5 1.5 2 3 0 2 2 0.5 4.5 -4 4.5 -2 3.5 -2.5 1.5 -0.5 0.5 1.5 -7 6 -3.5 2 -4.5 5 -4.5 3 -3.5 4 8.5 -5 1 -1 -0.5 -1 2 -1.5 6.5 -1.5 2 -2 7 -3.5 2 1.5 2 -0.5 10.5 -7.5 5.5 -2.5 7 -6.5 2 0.5 0 3 7 -3 11.5 -9.5 7.5 -4 -2.5 -0.5 -5 -2.5 -2 0.5 -2.5 2 -2 0 -8 -5 -5 0 -1.5 1.5 -1 4 -2 3 -2 1 -2.5 0 -2 -1.5 -1 -2 -2 -0.5 -2 1 -1 3 -2 2 -5 0.5 -3.5 2.5 5.5 3 1.5 1.5 -1.5 1 -0.5 -0.5 -4 0.5 -5 -1.5 -2.5 -3.5 -0.5 -3.5 5.5 -4.5 4 -0.5 4 -2.5 3.5 -1 3.5 -2.5 0 -2 -1.5 -3 -1 0 -2.5 2 -2 0 -2 -1.5 0.5 -3.5 2 -1 0.5 -1 0 -5.5 1 -1 1.5 1 1.5 4.5 3 2 1.5 3 3 -3 1.5 0 2 1.5 4 0.5 12 -4.5 5 -0.5 3.5 -2.5 5 -0.5 4.5 -3 2.5 -3 0.5 -4.5 1 -2 4 -3 2 -7.5 2.5 -2.5 4.5 -2.5 0.5 -3.5 -1.5 -2.5 0 -2.5 1 -1 0 -1.5 -1 -1.5zM1352.5 447.5l-2 -1 -9.5 5.5 -4 3.5 -1.5 0.5 -0.5 -1 -1 0 -2 2 1.5 -1 1.5 0.5 -2.5 5.5 3 -0.5 4.5 -2.5 9.5 -7.5 3 -3zM326.5 419.5l-2 2.5 -4 8 -3 13.5 0 2.5 -1 2 1 11 2 11.5 -0.5 0.5 -7.5 -3.5 -1.5 0 -5.5 4 -2.5 0.5 0 1.5 1.5 2.5 2.5 8 7 7 7.5 2.5 5.5 5 3.5 1 2 0 1 -1 0 -3 -1.5 -5.5 -2.5 -4 -3.5 -9.5 -1 -5.5 -2 -4.5 -2.5 -16.5 0.5 -2.5 2.5 -2.5 -1 -7.5 1.5 -6 3.5 -7 3 -3 5.5 7.5 1.5 5.5 0 3 2.5 6 0.5 4 5.5 9.5 2 6 4.5 4.5 4.5 6.5 3.5 8.5 5.5 9.5 1.5 5.5 6 12 4 4.5 2 4.5 5 5.5 0 1.5 2.5 5.5 1.5 1.5 3.5 1 4 3.5 5.5 11 2 2.5 2 9 0.5 6 -0.5 3.5 -2.5 2.5 2.5 2 1.5 9 2 4.5 -1 1 -3.5 0 -8 2.5 -7.5 -0.5 -4 -1 -2 -2 -5 -8.5 -2 -5 -10.5 -19.5 -3 -7.5 -16.5 -21 -5 -10 -7 -7.5 0.5 2.5 -0.5 8.5 4.5 10 3 10.5 6.5 11.5 4 5 8 13 6.5 8 5 8.5 7.5 6 1.5 0 2.5 -1.5 0.5 2 -1.5 3.5 1.5 1 2.5 0.5 7.5 3.5 11.5 2 14 5.5 6.5 1 4.5 1.5 14 0 0.5 -0.5 3.5 0.5 10.5 -3 4.5 1.5 0.5 -2.5 -3 -3 -2.5 -5.5 -7 -0.5 -4 -1 -14.5 5 -8.5 -2 -3 0 -2 -1.5 -3 -6 -2.5 -2 -3 -1 -1.5 -1.5 1.5 -1.5 0.5 -2 -1 -2 -1.5 -11.5 0.5 -1.5 -1.5 -7 0.5 -4 -1 -7 -4 -5 -4.5 -9 -4 -4.5 -4.5 -3 -3 -7.5 -12.5 -16 -2 -4.5 -0.5 -3 -4.5 -7.5 -1 -9 -2.5 -0.5 -2.5 -2.5 -4 -8.5 -5.5 -7.5 -4.5 -9.5 -0.5 -2.5 -3.5 -5 -3.5 -13 -2.5 -5.5 -5.5 -8.5 -3 -0.5z"/>
<path fill="#dc3900" fill-rule="evenodd" d="M1234 804l-3 0.5 0 2.5 -2 0.5 -2 2 0 1.5 2.5 2.5 2 -0.5 4 -4 0 -3zM1223 783l0.5 0.5 -0.5 2.5 -1.5 1.5 -1.5 0 -0.5 -1.5zM1222.5 773.5l1.5 2 -0.5 1.5 -1.5 -2.5zM906 773l-4 2 -8 6 -7 10.5 -4 18 0.5 8 -1 1 -2.5 0 0 0.5 5 1 2.5 -0.5 1 -1 -1 -2.5 -0.5 -11.5 1.5 -5.5 3 -6 3 -4 12.5 -12.5zM1220.5 772l0.5 -0.5 1.5 2 -1 0.5zM1221 766l-2 2 -0.5 6 2 0.5 2 2 0.5 3.5 -1.5 1 -5 -0.5 -0.5 2.5 1 2.5 4 4 1.5 0 2.5 -2.5 1.5 -5 3 -2 4 -1 1.5 -1.5 0.5 -2 -1.5 2 -2 0 -4 -1.5 -1.5 -2 -0.5 -2.5zM1220 762l0.5 1 5 4 -4 -5.5zM1250.5 759l-0.5 0.5 0.5 3.5 -2 1.5 -1.5 0 -1.5 1.5 0 1.5 1.5 1 1.5 0 1.5 1.5 1 2.5 -0.5 14.5 -1 3.5 -1.5 1.5 -2 0 -2 -3 -1 0 0 2 3 3 4.5 1 5 6 1.5 0 3 -7 -0.5 -0.5 0 -5 0.5 -0.5 -0.5 -8 -3 -4 1 -9 -0.5 -3.5 0.5 -0.5 -1.5 -3.5zM824.5 762.5l-0.5 5 2 2.5 1.5 0.5 2 2 0 1 0.5 0 -0.5 -4 1 -1 3 2 -1.5 6.5 0.5 1.5 6 -0.5 12 5.5 2.5 0 3.5 1.5 2 0 5 -3 6 -0.5 2 2 1.5 -0.5 1 -1.5 1 0.5 3 -0.5 1.5 -1 1 -2.5 2 -2 1.5 -0.5 -0.5 -1.5 -8.5 -4.5 -4.5 0.5 -5.5 6.5 -1.5 0.5 -1.5 -0.5 -3.5 -4 -5 3 -5 -2.5 -5.5 0.5 -2 -1 -2 -3.5 0.5 -4 -3.5 -2 -3.5 -4.5 -6 0zM1230.5 758.5l0.5 1 7 1.5 3 -0.5 -1.5 -2 -5 -1.5 -2 0zM1233.5 754l-5 -0.5 -1 1 -0.5 3.5 0.5 2 0.5 -2zM1236.5 751l2 4 1 -1.5 -2 -2.5zM823 728.5l3 3 1 -0.5 0 -2 -1 -1.5 -1.5 1zM830 716.5l-4 2.5 -0.5 1 4 -2zM803.5 712l0 1 2 1 3 3 3.5 0.5 0 -1 1 -0.5 1.5 1.5 0 1.5 1.5 3 1.5 -2.5 1 0 1.5 -1.5 5 0 3.5 -3.5 -0.5 -1.5 -3.5 1.5 -3 0 -4.5 -1.5 -1 -1.5 -3 -0.5 -6 0zM810 688l-6.5 1 -2 2 0 2 1 2 4 3 2 0 4 -5 0 -2 -1 -2zM952 682.5l-1 3.5 -1.5 2 -4.5 -1 -4.5 0.5 -2 -0.5 0.5 -1.5 1.5 -1 6 0 3.5 -2.5zM835.5 682l-1 0 -0.5 1 0.5 3zM742 682.5l-0.5 3.5 1.5 5 4 3.5 1 3.5 2 3.5 6 4 1 4.5 1 1 2.5 0.5 2.5 -1 3.5 0 3.5 2.5 0 2 1.5 2.5 1 0 3.5 -3 5.5 -1 4 -2 3.5 0.5 1 -1 -2 -3.5 0 -2.5 1.5 -2 1.5 0 2 -1.5 0 -1.5 2 -3 0 -1.5 -5.5 -1 -3 1 -3 -3.5 -1.5 1 -1 -1 -0.5 -3 -1.5 -2.5 -2 1.5 -4 -2.5 -5.5 0 -2.5 -1 -5 2 -2.5 0 -6 -3.5 -3.5 1 -4.5 -2zM988.5 658l2 2 4.5 2.5 2 2 0 1.5 1.5 2 -1.5 1.5 -3 0.5 -8 4.5 -2.5 0 -1 1 -2 -2 -1 -3 -3.5 -2.5 -0.5 -2.5 1 -3.5 2.5 -2.5 3.5 0.5 2.5 -1.5zM889.5 648.5l6 4 1.5 -1 -1 -2.5 -3 -1.5 -1 -1.5zM1147 690l-1.5 -6.5 -2.5 -0.5 -3.5 -3.5 1 -1.5 -1.5 -3 -3.5 -1.5 -2 -2 0 -1.5 2.5 -3.5 0 -7 -1.5 -2.5 0 -3 -6 0.5 -1.5 1.5 0 5 -3 5.5 -2 2 -4 1 -9 8.5 -2.5 0.5 -2 -1.5 -0.5 -3 -8 -7.5 -1.5 -3.5 -2 0 -2 1.5 -1 4 -3.5 3.5 0 3 -1 1.5 -5.5 0 -5.5 -1.5 -8.5 1 -2 2 -1.5 -1.5 -3 -1 -3.5 -4 -1.5 0 -4.5 -4.5 -2.5 -4 -3 -9.5 -1 -0.5 -2.5 0.5 -7.5 -5.5 -8 -4 -3 4 -0.5 4 -2 1.5 -3.5 -0.5 -1 1 -3 -4 -4.5 2.5 -2.5 0 -1 1 -4.5 1 -4 0 -4 -1 -6 -4 -3.5 0 -4 2.5 -5 -0.5 -1.5 -1.5 -1.5 0 -3 2 -1.5 3 -2 2 -2.5 0 -1 1 -0.5 3 -1.5 2 -5 0.5 -4 -1.5 -0.5 -1 -2.5 0 -1.5 3.5 -1.5 1.5 -2.5 -2 -1.5 -3 -6.5 -2.5 -5 3.5 -3 8.5 -3 2 -3 -1.5 -5 0 -1 -1 0 -1.5 -4.5 -3 -2.5 0.5 -1 1.5 -2 0 -3.5 -4 -13.5 7 -1 1 0 2.5 -4.5 4 -1.5 5 -2 2 -5 -0.5 -3.5 1 -3 0 -1 1 -0.5 2.5 -1.5 1 -5.5 0 -5 -3 -5.5 1 -3.5 -4 -2 -0.5 -1 1 0.5 2 3 3 2.5 1 0 3 1.5 2 7 2 -0.5 2 -7 -1 -3.5 1.5 -0.5 2.5 -2 2.5 1.5 8 -0.5 4.5 1.5 0.5 4.5 -0.5 4.5 2 1 0 3 -3 2 -1 1.5 0 1.5 1.5 2.5 0 2 -2.5 2 -7.5 2 -2 1.5 -0.5 0 -1.5 1.5 -1.5 5 -0.5 6 -3.5 6.5 0.5 7 -3.5 2.5 0 4 2 3.5 -2 3.5 -1 1 -1.5 2.5 -1.5 0 -1.5 1 -1 2 0 2 2 0 1.5 5.5 5.5 1.5 3.5 1 0 0.5 -2.5 1 -1 3 1 2.5 -1 -1.5 -2.5 0 -1.5 1 -1 3.5 1 1.5 -0.5 3 -3.5 2 0 3 3 8 3.5 2.5 2.5 1 3 1 0.5 3.5 0 3 -1.5 4 0 1.5 1 3 0 8 -3 5 0.5 10.5 -3 10 -0.5 5.5 5.5 10 2.5 3.5 -1 8 -0.5 4 -4 4 -1 3.5 -4.5 7 -2.5 1.5 -1.5 0.5 -3 2 -1.5 2.5 0.5 1 1 0 2 4 4 4 2 5 0 6 -4 8 1 3 2.5 1.5 5.5 4.5 -0.5 1 -1 1 -4 0 -3.5 1 -1 8 1 3.5 -3 3 0 7.5 4 5 -0.5 3.5 3.5 2.5 1 3 0 2 1 3.5 0 3.5 -1 2.5 -2zM1028 643l4 3.5 3.5 1.5 2.5 0 -2.5 -1 -3.5 -3.5 -3.5 -1zM1287.5 642l-2.5 0 -1 1 -10.5 0.5 -2 -2 -1 -3 -1 -0.5 -2 1 -1.5 -1.5 -1.5 -3.5 -1.5 1.5 -1.5 0.5 -1.5 -1 -1.5 0 -3.5 3 -4 1.5 -3 0 -6 -3 -2.5 -2 -5.5 -1 -3 4.5 -14 14 -2 0.5 -3.5 3.5 -4 0.5 -2 1 -1.5 1.5 -1 6 -1.5 1.5 -1.5 -1 2 -2.5 0 -1.5 -0.5 0 -1.5 2 -0.5 2.5 -4 4 -1.5 3.5 -1.5 1.5 -2 1 -0.5 -1 3.5 -6.5 3 -3 0.5 -2 -2.5 -0.5 -3 2 -2 0 -2 -1.5 -3 0 -1 4 -3 3 -4.5 1 -4.5 0 -2.5 2 -1 2.5 0 4.5 -2 1.5 -4.5 -0.5 -1 1 0.5 4 -3 4.5 -3 0 -3 -1.5 -0.5 0.5 4 3 3 0 2.5 -1 2 -2 1.5 -3 2.5 -2 3 0 2.5 -1.5 2 0 2 4 3 -2.5 2 -0.5 3 -3.5 4 0 4 1 2 -4 1.5 0 5.5 5 1.5 3.5 6 5 4.5 -0.5 1.5 -3.5 4 -1.5 5 0.5 3.5 1.5 3.5 0 1.5 -3.5 -2.5 0.5 -5.5 -1.5 -2.5 -2.5 -1.5 -4.5 2 -1 1.5 1.5 1 4 1.5 1 2 0 3 -1.5 2.5 1 2.5 -1 2.5 0.5 2.5 -6.5 3 -2.5 4 -1 1 -1 4 -8 -3.5 -2.5 -2 -5.5 0.5 -3.5 2 -2 1.5 -0.5 1.5 0.5 2 2 3 5 1.5 1 9 -7.5 9.5 1 7.5 -6zM677.5 630l0.5 2.5 2.5 1.5 0.5 -0.5 -0.5 -2 -1.5 -1.5zM665 622l-3 -0.5 -5 12.5 -3.5 12 -1.5 3 -2 2 -7 4.5 -8.5 -3.5 -4.5 -4 -0.5 -3 -1 -1 -2.5 6 0.5 2 7 7 5 1.5 4 0 1.5 1 4.5 -3.5 6.5 -3.5 6.5 -14.5 3 -11.5 2 -4zM668 615l-1 1 1 1.5 3.5 1.5 1.5 1.5 0 1.5 -2 3 0.5 2 1.5 1.5 3 0.5 0.5 -4 -3 -4.5 -1 -4.5zM667.5 604.5l-2.5 2 -0.5 1 0.5 1.5 2 -0.5 1.5 -1.5zM780.5 600.5l2 -1 1.5 1.5 -1.5 0.5zM1187.5 584.5l-14 8.5 -1.5 2.5 0.5 0.5 1.5 -0.5zM771 582.5l1.5 -1 1 1.5 -2 0.5zM771.5 578l2.5 -3 1.5 0 3 2.5 0 1.5 -1 1 -2 -1 -3.5 1zM685 570l-3.5 1.5 -3.5 3.5 -2.5 5 -0.5 2.5 -2.5 5 -1.5 10.5 -1 2.5 2 5 0 3 1.5 3.5 0 2.5 2.5 3.5 2.5 5.5 5.5 7 0.5 1.5 -0.5 3.5 1 1 1.5 0 1.5 -2.5 1 -5 -2.5 -4.5 -1.5 -5.5 -2 -4 0 -1.5 -7 -17 5 -14 2.5 -4.5zM1196 565.5l-1 0 -2.5 2.5 -3.5 1 -2 2.5 0 1 -1.5 1.5 -2.5 1 -3.5 3.5 -1.5 3 -7 4 -2 3.5 1 2 3.5 -2.5 2.5 -0.5 4 -3 0.5 -1.5 5.5 -5.5 0 -3.5 1 -1 6 -0.5 -0.5 -3zM1245.5 560.5l-5.5 3 2.5 -0.5zM1236.5 561l-2 -1.5 -3.5 -0.5 -6.5 3.5 -30.5 24 -8 4 -6 4.5 -3 3.5 -1 0 -1.5 1.5 0.5 3.5 2 -1 5.5 -0.5 1.5 -1.5 1 0 1.5 2 5 1 4.5 -2.5 7 -1.5 2 -2 0.5 -1.5 -0.5 -0.5 -2.5 0.5 -2 -1 -3 -4 0.5 -2 3 -1 4 -6 6.5 -6 6 -3 1 0.5 2.5 -0.5 2.5 -3 6.5 -3.5 2 -2.5 3.5 -1.5zM816 556.5l1 2 -1.5 1.5 -0.5 -2.5zM562 556l2.5 0.5 1.5 1.5 0.5 3 3 3 0.5 3 4.5 6 0.5 -2.5 -2 -3 0.5 -5 -4.5 -3.5 -1 -4 -3 1zM826.5 552.5l0.5 3 -1 1 -0.5 -3.5zM981.5 551l1 -1 1 0.5 -0.5 1.5 -1 0zM1285.5 542.5l1 0 1.5 2 0 3 -1.5 2 -2.5 -1.5 -1 -2.5 0.5 -1.5zM478 532l2 -0.5 1 1.5 -1.5 0.5zM445.5 531.5l1 4 2.5 2.5 4.5 1 6 -1 -4.5 -2.5 -7 -1.5zM987.5 525l1.5 0.5 0 3 1 1.5 1.5 6.5 1.5 0.5 2 2 0 2.5 -1 2.5 -3.5 3 -2 0 -2 -1 -4 -4.5 0.5 -2 1.5 -1 1.5 -3 0.5 -2.5 -0.5 -6.5zM1288 524l1.5 2 0.5 6 -1 1.5 -3 1.5 -0.5 -2 1.5 -2.5 -0.5 -6zM1170 517.5l2 1 -0.5 3.5 -2 -4zM422 517l-1 0.5 0.5 4 -2 2 -4.5 0 -1 1 0 14.5 -0.5 2 -1.5 1.5 3.5 7 0 3.5 -1.5 2.5 0 3.5 1 1.5 0.5 5 2 6 0 5 -0.5 0.5 0.5 1 1 -0.5 0.5 -2 0.5 -9.5 -1 -2 0.5 -1.5 -2.5 -5 1 -2.5 0 -7.5 -1.5 -9.5 0.5 -2 -0.5 -8 2 -2.5 3 -0.5 1.5 -2 -0.5 -3.5 0.5 -2zM442.5 521.5l0.5 2 4.5 6 16 5 3.5 0.5 3.5 2 15.5 0.5 12 3.5 6 -0.5 5 -2 1 -1.5 -5 -9 -6.5 -2 -5.5 -0.5 -2 -1 -5 -5.5 -7 9.5 -7 -2 -4.5 -0.5 -3.5 -1.5 -11 -9.5 -2 0 -3.5 2zM1162.5 509.5l2 2.5 -0.5 2 -3 -4zM951 508.5l1.5 1 0 1.5 1 1 -1.5 2 -3 -2 0 -1.5zM333 508.5l0.5 0.5 -0.5 9.5 2.5 4.5 0 1.5 2.5 5 2.5 9 6.5 12 6.5 8.5 4.5 8 6 7.5 7 11 6.5 5.5 2 0 2.5 -1.5 1 1 -1.5 4 0.5 1.5 11.5 4.5 6.5 1.5 3.5 0 14 5.5 6.5 1 6.5 2 17.5 -0.5 10 -3 2.5 1.5 2 -0.5 -6 -9.5 -11 -1.5 -12.5 4.5 -4.5 0 -4 -1.5 -5.5 -0.5 -5 -8 -7 -3.5 -6 1 -3.5 1.5 -8.5 0 -5.5 -1.5 -2.5 -3 -4 -7 -2 -5 -12.5 -23.5 -1 -3.5 -16.5 -21 -5 -10zM850.5 504l4.5 2.5 4 0 -0.5 -2zM892 499.5l2 0.5 1 2 3 2 1 1.5 0 3.5 -3.5 3.5 2 6.5 0 2.5 -2 1 0.5 4 -1 1 -4 -1 -1.5 -1.5 -0.5 -3 -1 -1.5 -1.5 0 -1.5 2 -2 0 -1 -1 0 -2 2 -1.5 0 -1 -1.5 -3 0 -2.5 -2.5 -2 0.5 -1.5 3.5 0 3.5 -2.5 1.5 -3.5zM956.5 498.5l0.5 -0.5 3 0.5 1 1 7 -0.5 1 1 -2.5 3 -5 0.5 -2 -2 -2 -0.5 -1 -1zM942 498l0 3.5 -1.5 1 -3.5 1 -4 0 -1 -1 0 -3 1 -1.5 6 0 1.5 -1zM849.5 497l-2 3 1 2.5 0.5 0 1 -4zM962 495l0 -1 1.5 -1.5 2 1 -0.5 1.5 -1.5 0.5zM1140 492.5l0 -1 1.5 -1 2 0.5 -1 2zM1100.5 488l2.5 1 -0.5 3 -1.5 1.5 -2.5 -2 0 -1.5zM1231.5 478.5l-0.5 1.5 1.5 1.5 1 3.5 2 1 4 -0.5 -3.5 -0.5 -2 -2 0.5 -3 2.5 -2.5 -3.5 0zM1223 475l-5.5 1 0 1 1.5 1 2.5 0zM618 471l-5 6 -2.5 1 -10 10 -1 3.5 -3.5 5.5 0.5 3.5 -1.5 1.5 -1.5 0 -1.5 -1 -1 0.5 0 2 -2 5 1 3 -0.5 2.5 -5 3.5 -0.5 2 -2.5 1.5 -1.5 3 0.5 2.5 1.5 -1 1 0.5 1 5.5 2.5 2 3.5 0.5 2.5 2.5 0 1 1.5 0 3 -3 10.5 -1.5 1.5 -1 9 -2 4 0.5 4.5 -0.5 -0.5 -6.5 -1.5 -3 -1 0.5 -2 4.5 -4 0.5 -5 -3.5 -8.5 -4 -1.5 -2.5 -3.5 -2 -2.5 -3 0.5 -4.5 -0.5 -4.5 3 -2.5 2.5 1.5 3 0 4.5 -5 2.5 -1.5 3 -6.5 1 -4 -0.5 -4 3 -1.5 0.5 -1zM1365.5 460.5l-1.5 -1.5 -2 1 -3 -0.5 -3.5 -3.5 -4 0.5 -6 4 -2 0.5 -4 4.5 -5.5 4 -1 2 -2.5 1.5 -1 4.5 -3 2.5 -2 0.5 -4.5 -2 -5.5 2.5 -3.5 2.5 -2 -1 0.5 -1 9 -8 0.5 -1.5 -1 -1.5 1.5 -1.5 1 0 0.5 1 2 0 5.5 -3.5 1 -2 -2.5 -1 0.5 -2.5 -1.5 0 -4 2.5 -9 8 -13 7.5 -5.5 5 -8.5 4.5 -7 5 -2.5 2.5 0.5 2 10.5 -6.5 1.5 -0.5 0.5 1.5 3 -1 2.5 0.5 -8 7.5 -23 16 0.5 2 17 -11.5 4.5 -4 11 -6.5 5.5 -4.5 2 -1 2 0.5 -4.5 5 -9 6 -6 5.5 -6 4.5 -6.5 3.5 -0.5 1.5 2 0 7 -5 7.5 -3.5 2 1 -0.5 2 -2.5 4 -6 5 -1.5 3.5 -3 3 -0.5 2.5 -7.5 5 -2.5 3 -0.5 3.5 1 2 -0.5 4.5 -1 2 -5 5.5 0.5 1 -0.5 2 -3.5 3.5 1.5 0 1.5 -1 4 -4.5 2.5 3 2.5 0.5 2 -1 2.5 -3 2.5 0 2.5 1.5 5 -1.5 3 -3 3.5 -2 3 -8.5 5 -4.5 3 0 3 2 5 0.5 5 3.5 3.5 0 5 -1.5 -0.5 -4 3 -3.5 0 -4 -1 -2 0.5 -6.5 1.5 -2 2 -0.5 2 -2.5 0 -1.5 -2.5 -2 1 -6 1 -1 3 -0.5 0.5 -2.5 1 -1 -0.5 -3.5 1.5 -1.5 3 2.5 2 0 3 -1.5 -1 -2 -3 -0.5 -4 -3 0 -1 3.5 -3 4.5 -0.5 8 3 2 2 0.5 3.5 3.5 3.5 2 0.5 2.5 3 -0.5 2.5 1 2 -0.5 4.5 1 1.5 0.5 3.5 -0.5 3 -3.5 4.5 2.5 -1 5 -0.5 3 -4 0.5 1 -1 1.5 1 -0.5 2.5 -5.5 4.5 -7 -0.5 -8.5 2.5 -4.5 0.5 -3 2.5 -3.5 -0.5 -3.5 -4 -4.5 -4 -1 -2.5 -2 -3.5 -6.5 -2 0 -2.5 -1.5 -1 -2 0 -2 2 -3zM697 637.5l1.5 7 1.5 2.5 1.5 5.5 8 8.5 4.5 0.5 -3 -2 1.5 -2 -1.5 -1.5 -2 -13 4 -13 1 -9 2 -7.5 -0.5 -4.5 3 -1.5 -0.5 -5 3 -2 6 -6.5 2 0 5 3 -1.5 6.5 -2 4.5 4 4 3.5 -1.5 1.5 0 0.5 1.5 1 0 4.5 -3 2.5 -0.5 3 1 8 6.5 3 1 0.5 3 1.5 2 1.5 0 2 -3 6 -0.5 1.5 -1 0.5 0.5 -0.5 4 4.5 2.5 1.5 0 2.5 -1.5 1 -1.5 0 -1.5 2 -1.5 2.5 0.5 5.5 3.5 1 0 0.5 -7 1 -4 3 -5 0 -2 -1 -1.5 0 -2.5 1.5 -2.5 -0.5 -8 2 -3.5 -2 0.5 -4.5 -3 -3.5 -6 1 -2 10 -0.5 1 -1 5 0 4.5 -2.5 4 2 2 0 1.5 -1.5 1 -2.5 0.5 -7.5 2 -1 3.5 1.5 0.5 -1 -2.5 -2.5 0.5 -1 3 2.5 0.5 3 1.5 -3.5 3.5 -2 2.5 -4 2.5 -2.5 -0.5 -3 1.5 -3 4 0 3.5 2 3 0 4.5 -1.5 3.5 0 2.5 2.5 -0.5 2.5 0.5 -1.5 1.5 -1 3.5 -1 5.5 0.5 3 -1.5 2 0 2.5 -1.5 2 0 1.5 -1.5 5.5 0.5 1.5 1.5 5 0 2.5 -2 -0.5 -2.5 1 -1.5 0 -2.5 -4 -5 0 -1.5 2.5 -2 1 0.5 1.5 -0.5 1.5 -3 0.5 2 -3 6 0.5 0.5 0 -1 3 -2.5 1.5 -5 1.5 -0.5 1.5 1.5 0 2 -1.5 2.5 0 2.5 7 4 1.5 4 -0.5 3 3 2 2.5 -1.5 1.5 0 1.5 1.5 2 0 3 -3.5 1 0 1.5 1.5 0.5 2.5 -0.5 1.5 -3 2 6.5 6.5 1 0 5.5 -4 2 0 4.5 4 0.5 2 1.5 0 3.5 -4 1.5 -0.5 2.5 0.5 1.5 -2 3 -1 -0.5 -3 1.5 -1 3.5 3.5 0 1.5 -4 3.5 -2 0 -0.5 2.5 3 0.5 0 -1.5 1.5 -0.5 3 4.5 -1 3.5 3.5 0.5 4 4 2 0 4.5 -2 3.5 -3 2 0 3.5 2 2.5 0 6 -2 1.5 -3.5 1 0 2.5 3.5 2.5 -0.5 2 -2 0.5 -3.5 -2 -6.5 2 -2 1.5 0 1 1 -0.5 5 2.5 -1.5 1.5 -4 2 -2 1.5 -3.5 3 -4 -0.5 -4 0.5 -2.5 3 0 2.5 2 2.5 0 -0.5 -2 -3.5 -1.5 0 -2 0.5 -0.5 3.5 0.5 2.5 -3 -0.5 -4 1.5 -1 2 -4 0 -1.5 -7.5 -1 -1.5 -1 1 -2 2 1 17 1 2 2 -0.5 2.5 0.5 1 2.5 1 5 0.5 3.5 -1 1 2 10.5 5 2.5 2.5 3 0.5 3 -3 1 -5.5 1 -1 3 2.5 1.5 -0.5 0 -3 -1.5 -3.5 0 -2 1 -1 6 -0.5 4.5 4 1 -1 -0.5 -1 -2 -0.5 -2.5 -2 -1.5 -2 0.5 -1.5 1.5 0 3 3.5 1.5 -0.5 0 -1.5 -3.5 -3 -0.5 -2 1 -5 1.5 -1.5 2.5 0.5 3.5 3 2 -1 1.5 0.5 1.5 2.5 0 3 3.5 0.5 -0.5 1.5 -3.5 4 2.5 1 0 2.5 -2 3 0 2 2 2.5 0 2 -1.5 1 0 1.5 1 2 1 7.5 1 2.5 6.5 -1 4.5 4.5 2 0.5 2 -1.5 1 0.5 2 4 0 2.5 2.5 1.5 5.5 -1.5 1.5 -3 10.5 -5 4.5 -4 2 0 5.5 6 -1 7.5 -3.5 3.5 0.5 7 -3.5 1.5 -2.5 2.5 0.5 0.5 4.5 -0.5 2.5 2.5 0 3 -3.5 2.5 0 2 2 -0.5 4 -4 2.5 -0.5 3 -2.5 4.5 -2 1.5 0.5 -2.5 3 -10.5 7.5 -4.5 5 -2.5 1.5 -4 4 1 0 7.5 -5 -0.5 -1 1 -1 7 -2 8 -5.5 2.5 -0.5 1.5 1 1.5 0 9.5 -6.5 6.5 -3.5 5 -5.5 3 -2 2 0 1 1 -1.5 2 0.5 1.5 5 -2 10 -8.5 8 -5.5 -4.5 -2.5 -2 0 -3.5 2.5 -2 0 -8 -5 -4 0 -1 0.5 -1 4.5 -2.5 3.5 -4.5 2 -2 0 -2.5 -2.5 -0.5 -1.5 -1.5 0 -3.5 5 -4 2 -0.5 1 0.5 1.5 1.5 0.5 3.5 -0.5 1 1 -2.5 1 -1.5 2 -4.5 -0.5 -2.5 1.5 -1 -1 -4.5 -1 -2.5 -3 -0.5 -5 3 -3.5 4.5 -8.5 1.5 -1 1.5 0 1 1.5 0 2 1.5 1 3.5 -0.5 2.5 -2 -0.5 -2 -6 0 -1.5 -1 0 -3.5 1 -2 0 -7 2 -4 8 4 1.5 3 4 2 1.5 0 3.5 2.5 3.5 0 9.5 -4 4.5 0 5 -3 4 0 7 -4.5 1.5 -6.5 5 -5 1 -5.5 1 -2 2 -2 3.5 -1.5 1 -1 0 -2 -2 -1.5 -3 2 -2.5 -1 0 -1.5 2.5 -3.5 -3 0 -1 -1.5 2.5 -1.5 1 -1.5 -3 2.5 -2.5 1 -4 -0.5 -2.5 -3.5 -3 -0.5 -1.5 -1.5 -3 0 -0.5 -4.5 -1.5 -1.5 -5 1 0 1.5 2 2 0.5 1.5 -1 1.5 -1.5 0 -1.5 -1.5 -3.5 0 -2 1 -4.5 0.5 -4 -5 -1.5 0 0 1.5 -2.5 3.5 -3 0.5 -0.5 1.5 -2.5 2 -1.5 -0.5 -1.5 -2 2.5 -6 2 -2 1.5 1 0.5 -1 -0.5 -2 -1.5 1 -1.5 -1.5 -3 0 -4.5 -3.5 0 -2 2 -2.5 -0.5 -1.5 -1.5 -0.5 -2.5 0.5 -2 2 -3.5 1.5 -1.5 -2 4.5 -2.5 -0.5 -2 -8.5 3 -3.5 2.5 -4 1.5 -2 0 -6.5 -5.5 -7 0 -1.5 1.5 0.5 5 -2.5 2.5 -3.5 1 0 2.5 2 3.5 0 2 -3.5 3.5 1 3 4.5 -0.5 1 1 -3.5 2 -3 3.5 -2.5 -0.5 -5.5 3 -4.5 -3 -3.5 -6.5 -3 -3.5 -0.5 -1.5 0.5 -3.5 -2 -2 0.5 -0.5 4.5 0.5 0.5 -2 -1 -1 -3 0.5 -2 2.5 -3.5 0.5 -2.5 -3 -4.5 -3 1 -1 2 0 4 4 4.5 -0.5 2 -5 -3.5 -5 -4 0.5 -3.5 3.5 -4 -0.5 -1.5 2 -1.5 0.5 -2 2 -2 0 -2 1.5 -6 0 -0.5 2 -1.5 0 -2.5 1.5 -3.5 0 -3.5 -2 -3.5 1 -2 -0.5 -5 0 -3 1 -2 -0.5 -4.5 -4.5 -2 -3.5 -3.5 -2 -4 0 -2.5 2.5 0 2 -1 1.5 -1.5 0 -5.5 3.5 -2 0 -1 -1 0 -1.5 3 -6.5 -4 -0.5 -1 -2 -1 0.5 -2 4 0 2 -2 2 -3 0 -1 -1 -3.5 -9 -2 0 -2 1 -2.5 -2 -2 0 -2 3.5 -2 0 -4.5 -1.5 -5.5 -5.5 -4.5 2 0.5 3 -1 1 -3 -1.5 -3 0 -8.5 3.5 -1 -0.5 -2.5 2 -1 -2 -2 -1 -2.5 0 -3 -4.5 -0.5 -3 -1 -2 -1 -0.5 -3.5 0 -4 3 -5 0.5 -5 -3 -3 -0.5 -5 -3 -1.5 0 -0.5 1.5 -2.5 2 -0.5 2 -1.5 0.5 -1.5 2.5 -2.5 0.5 -3.5 -1 -3.5 0 -2 2 0 2 -2 2.5 -4.5 0 -3.5 2 -3.5 -0.5 0.5 4 -1 0.5 0 3.5 -3.5 7.5 -3.5 2.5 -0.5 3.5 -1 1 -5.5 -2.5 -3 4 -1 6 -1.5 1.5 -5 1.5 -2.5 2.5 -4.5 -0.5 -4.5 2 -2 -0.5 -3.5 3.5 -4 -0.5 -12 8.5 -4 4 -8.5 -0.5 -0.5 1 -1.5 0 -0.5 1 -2 -0.5 0 1 3.5 3.5 0 1.5 -3 1 0 6.5 -1.5 5.5 0.5 2.5 1.5 2 -3.5 5 -1.5 -0.5 1 -3 -1.5 -2 -6 -2 -4 2 0 2.5 2 3.5 -1 1.5 -2.5 -0.5 -6.5 3 -7.5 -0.5 -6 -4 -9.5 -0.5 -3 -1.5 -2 0 -3.5 -3.5 -3 0 -1.5 1.5 0 3.5 2 2.5 -1.5 8.5 -1.5 2 -2.5 1.5 -3.5 0.5 -1 -1 -3.5 0.5 -1 -1 0 -1.5 -3 0 -4 3.5 -4 1.5 -2 2 -3.5 1.5 -4 0.5 -5 5 -8.5 1.5 -0.5 0.5 0.5 2.5 -1 1 -1.5 -1 -1.5 0 2.5 2 0 5.5 -2.5 3.5 -0.5 1.5 0.5 3 -1 2 -2.5 2 0 1.5 -2 1.5 0.5 0.5 -3 1.5 -3 3.5 -2 0 -2.5 -3 0.5 2 3.5 3.5 1.5 -0.5 2.5 -3.5 1.5 0 1 1 -0.5 11 -1.5 5.5 0 3 -1 2 -1 6 -2 3.5 0 2.5 -1 0.5 -2 -3.5 0.5 -2 -0.5 -3.5 -1.5 -1.5 -3.5 -1 -2 0zM1014.5 456l0 2.5 1 1 2.5 0 4.5 -3 3 0 3.5 1.5 -3.5 -2.5 -3 -4 -3 -0.5 -0.5 1.5zM1352 447.5l-2.5 -0.5 -10 6.5 -4.5 4 -1.5 4 3.5 -1 7.5 -5 7.5 -6.5zM327.5 419l-2.5 2.5 -4 8 -4 17.5 1 15 2.5 10 -0.5 0.5 -3 -2.5 -7 -2 -8 5 1.5 2 2 7 1.5 3 6.5 6 6.5 2 6.5 5.5 5.5 0.5 0.5 -2.5 -1.5 -6 -2.5 -4 -2.5 -6.5 -5 -17 -1.5 -15.5 3 -3 -1 -2 0 -5.5 3 -9.5 4.5 -6.5 3.5 3.5 3 5.5 1.5 8 2.5 6.5 0 2.5 6.5 12 1.5 4.5 5 5 4.5 6.5 2.5 6.5 6 10.5 1 5 6 12 4 4.5 2 4.5 5 5.5 3 8 6.5 3 2 2 5.5 11 2 2.5 2.5 12 0 6.5 -2 3 1.5 1.5 0 2 1 1.5 0 3 1 1.5 0 2.5 2 3 1 -1 0 -2.5 -3 -19 -0.5 -12.5 -4.5 -6 -4 -8 -5 -5.5 -1.5 -0.5 -2.5 -2.5 -2.5 -6.5 -12.5 -16 -2.5 -5.5 0 -2 -5 -8 -1 -5.5 0.5 -2.5 -3.5 -1.5 -2 -2.5 -5.5 -11.5 -3.5 -4 -5 -10.5 0 -1.5 -4 -6 -3.5 -13 -4 -8 -4 -5.5z"/>
<path fill="#cc0000" fill-rule="evenodd" d="M1235 808l-0.5 -0.5 -3 3.5 1 0zM885 806l-1 0.5 -0.5 6.5 1 3 0 1.5 -2 1.5 1 0.5 4 -1 -1.5 -7.5 0 -4zM1254.5 780.5l0 4 -3 4 0 2.5 1.5 0.5 1 1.5 -0.5 3.5 1 1 1.5 0 1 -1.5 0 -4 1.5 -2 0 -2.5 -2 -5.5zM905.5 774l-5.5 3 -7 6 -5.5 9 -1 4 0.5 1 2 -0.5 5 -7.5 6.5 -7.5 5.5 -5zM875 771.5l-1 -1 -1.5 0 -3 4 -4.5 3.5 -4.5 0 -2.5 -2.5 -3.5 2 -5.5 -1 0 1.5 1.5 1 5 0.5 2.5 1.5 5 0.5 5 -1 7 -3.5 -0.5 -0.5zM826.5 759.5l-1 3.5 1.5 3.5 1.5 -1 0 -2.5 1 -1 1.5 0.5 0.5 4 2.5 -0.5 1 0.5 -1 10 2 0.5 2 -1 2 1.5 2 0 0.5 -1.5 -4.5 -4.5 -0.5 -4 -4.5 -7 -1.5 -1.5zM759.5 708.5l0 1.5 1.5 0 3 -1.5 7.5 0.5 4 1.5 4 0 2.5 -3 -2 -1.5 -0.5 -2 -2 -2.5 -0.5 -2.5 -2 -0.5 -0.5 -1.5 -3.5 0.5 -2.5 -1.5 -1.5 1 -0.5 3 -1.5 3zM810.5 690l-2 0.5 -1 2 0 2 1.5 0 2 -2.5zM849.5 690l0.5 1.5 5 4 1.5 0.5 1.5 -1 -5 -5.5zM745.5 689.5l0 1.5 2.5 2.5 1.5 3.5 1 -4.5 -2.5 -2.5zM867.5 687.5l-0.5 2.5 1.5 1 1.5 0 0.5 -2.5 -1 -1zM1018.5 684.5l0.5 -0.5 1 1 2.5 5 4.5 0.5 1.5 1 -0.5 1.5 -7 0 -3 -2zM1208 684l0 1 1.5 1.5 1 0 0 -1.5zM1016.5 676.5l2 0.5 1.5 2.5 0 3.5 -1.5 1.5 -3 -2.5zM1241 671.5l1.5 0.5 1.5 -1 -2.5 -0.5zM1198.5 670l-1.5 2.5 2.5 5.5 5 4 2 0.5 1 -4 -0.5 -5 -0.5 -0.5 -2.5 0.5 -1.5 -3zM1064.5 682l0.5 1.5 3 0.5 1 1 0 1.5 -2 3 0 1 2 1.5 3.5 0 2 -1 3 -3 5 -0.5 3 0.5 4.5 2.5 2 2 1.5 3 2 0 1 -1 1 -2.5 -0.5 -3.5 2 -2 8 2 3.5 -3 1.5 -0.5 6 0.5 2.5 -1.5 2 0 3 4 3 1 4 3.5 3.5 -0.5 2.5 2 5 -1 1 -5 -1.5 -2 -6 -2 -5 -5.5 -6.5 -3.5 -3 -4.5 -1 -0.5 -2.5 1 -8.5 8.5 -7 0 -1.5 -1.5 -0.5 -2.5 -1.5 -1.5 -2 -4 -1.5 -1 -2 0 -0.5 2 -1.5 1.5 -2.5 1 -1 2 -3.5 2.5 -10 1 -4 -2 -5.5 0.5 1 2zM1186.5 671.5l-1.5 -3 -1.5 3 -0.5 3 -9.5 -1.5 -1 0.5 0 2 1.5 2 3.5 1 2 2.5 2 -1.5 3.5 -1 0 -3.5zM1022 666.5l0.5 0.5 -0.5 3 0.5 5.5 -1.5 1 -1 -3 0 -5zM1055.5 675.5l-3 0.5 -1.5 -3 -2.5 -1 -1.5 -1.5 -1.5 0 -1.5 1.5 -1.5 -1.5 0 -1.5 2 -1.5 0 -4.5 -1 -3 -2.5 -2 -4 0.5 -2.5 -1.5 -2.5 0.5 -3.5 -1.5 -7.5 0 -4.5 1.5 -2 -1 -2 0.5 -2 -0.5 0.5 2 1.5 1.5 3 -0.5 2 3 2.5 2 0.5 1.5 -1.5 3.5 -1.5 1 -2.5 7.5 0 2.5 -1.5 1.5 -2.5 -1 -2.5 0.5 -6 -0.5 -1.5 6 -2 2 -3 0 -1.5 -1.5 -4 -0.5 -3.5 -1.5 -3 1.5 -1.5 -1.5 -2.5 -5 1 -1.5 -0.5 -0.5 -2 0 -0.5 1 0.5 5 -0.5 0.5 -2 -1 -1 -1.5 -0.5 -5 -3 -0.5 -1 -1 0 -1.5 2 -1 -3 -3 -2 0.5 -2.5 -2.5 0.5 -1.5 3 -0.5 0.5 -1 -5.5 -4.5 -2.5 0.5 -2 2.5 -3.5 0.5 -4 3.5 -5 0.5 0 2 -2 1.5 -5 -2.5 -4.5 -4 -1.5 0 -0.5 2.5 -2 1 -2 -2 0 -1 2.5 -2.5 -2 -0.5 -3.5 5 -1 3.5 -2 1.5 -5 0 -5 1 -2.5 -2 -7 -0.5 -1.5 -1.5 -4 -1.5 -10 2.5 -2 1 -0.5 4 -3 1.5 -2 2 -1 5.5 -1 1 -4 1 -1.5 3.5 -0.5 4 -2.5 5.5 -1.5 1.5 -2 0.5 -2 -0.5 -2.5 -3.5 -2.5 -1 -1.5 1 -1 3 1.5 2 -1 1 -2.5 -1 -4 0.5 -3 -1.5 1.5 3.5 3.5 -0.5 2 0.5 4.5 5.5 2.5 -0.5 2.5 1.5 1 -1.5 1 -4.5 3 -2 0 -2 2.5 -2 6 -0.5 5 -3 5.5 0 2.5 -1.5 7 -2 3 -3.5 2.5 0 3 3.5 1 0 1.5 -4.5 3 -0.5 0.5 -4.5 -2 -2 0.5 -3 3 0.5 1 1 -2 0.5 0 1 2 1 7 7 1.5 3.5 1.5 0.5 1 -1.5 -0.5 -1.5 1 -1 7 -2.5 3 -4 7.5 0.5 2.5 -1 5 -4.5 0.5 -2 6.5 -5.5 1.5 0 1.5 2.5 -1 1.5 -1 0 -1 3 0.5 3.5 2 2 0 12 1 -4 2 1.5 2 -2 1.5 0 1 1 0.5 3.5 -3.5 0.5 0 1 3.5 1.5 3 2.5 1.5 0 8.5 -4 5.5 1 9 -2.5 6 0 5 -1 1.5 0.5 5 5 4.5 1.5 7.5 -0.5 6 1 1.5 -0.5 6.5 -6.5 2 0.5 3 -4 4 -1.5 2.5 -2 0.5 -4.5 3 -2.5zM1134 654.5l-2.5 0 -3.5 1.5 0 7 3 -0.5 3 -6zM968.5 655l0 1.5 1.5 0.5 3 -0.5 -1 -2.5 -2 0zM1230 650.5l2.5 -2 1.5 0 2 2.5 -1 2 -3 0.5 -2 -2zM1237 636l-3.5 0.5 -1 1.5 0 4.5 -5 0.5 -1 1 -0.5 2.5 -3.5 3.5 -2 0.5 -2 2 -2 3.5 -0.5 6.5 -2 2.5 -2.5 1.5 3.5 0.5 3.5 -1.5 2.5 0 1 1 0 5 4.5 4 1 3 4 0.5 4.5 -0.5 -0.5 -1 0.5 -2.5 -2 -0.5 -1.5 -2 1 -3 1.5 -1 0.5 -4 3 3.5 2.5 1 5 -0.5 2 -1.5 -0.5 -2 -4 -3 0 -5 -2 -1 -2.5 1 -0.5 -2 -3.5 3 2 1 -1 1 -2.5 -0.5 -2.5 -2 0.5 -1.5 4 -1.5 2 -2.5 -2 -6 2.5 -7 0 -2zM662 635l-3.5 -0.5 -1 0.5 -0.5 2 2 2 0 3 -1 2.5 -3 3 -1.5 0.5 -4 4.5 -3 1.5 -2 2 -2.5 0 -4 -2 -3 0 -3 -3 -1 1 0 3 2.5 3 2 1 8 1.5 1.5 -0.5 3 -3 5 -2 2 -1.5 3.5 -10 2.5 -4zM673 623.5l-1 1.5 0.5 2 3 0.5 -0.5 -3zM780.5 606l-2.5 1 -2.5 2.5 -1 2 0.5 1 1.5 0 3.5 -3.5zM709.5 606l-1.5 0.5 -3.5 4 -1 0 1 0.5 3 -3.5 2.5 -0.5 1 1 0 5.5 0.5 0.5 -0.5 0.5 0 5.5 -1 1 -1 8 -1 1.5 -0.5 5.5 -2 7.5 0 3.5 -1 1 -2 -2 -1 -3.5 -1.5 -2 0 -2 1.5 -2.5 -0.5 -1.5 -5 -2.5 -0.5 1 2 4.5 2 8.5 3 7 6 6.5 2 1 -1 -1.5 2 -1.5 -1 -1 -2 -13.5 4 -12.5 1 -11.5 2 -8 -1.5 -3.5zM672 598.5l-1 2.5 2 2.5 0 5 1.5 3.5 0 2 2.5 3.5 2 5 2 1.5 3 -3 -2.5 -8.5 -4 -9 -3.5 -1zM386.5 595l1 2 5 2.5 5.5 1.5 6 0.5 5.5 2.5 4.5 1 2.5 1.5 7.5 1 3 1.5 8 0.5 3 -1 3.5 1 9.5 -1 2.5 -1.5 0.5 -2 1.5 -1.5 2.5 0 -2 -4 -6.5 -1 1.5 2 -0.5 1 -3.5 1 -2 -4.5 -13 4.5 -3.5 0 -5.5 -2 -5 1.5 -4 -4.5 0.5 -2.5 -0.5 -2.5 -8 -4 -9.5 3 -7 -0.5 -0.5 1.5zM1183.5 587.5l-9 5 -2 2 0 1 2.5 -1zM1185 575l-1.5 0 -2.5 2 -1.5 3.5 -1.5 1.5 -6 3.5 -1.5 1.5 -1 3 1 0.5 2.5 -2 2.5 -0.5 3 -2 6.5 -7.5zM684 571l-1.5 0.5 -4 4 -2 5 2 1 1 1.5 0 1.5 -3 1.5 1.5 1.5 4.5 -8.5zM1192.5 568.5l-3.5 1 -1.5 3 4 -0.5zM719.5 584l0.5 5.5 1 1 5 0.5 2 -1 4.5 -4.5 1 0 2 4.5 4 5 -5.5 6 -1.5 5 0 1.5 1.5 2 3 -4 6 -4 5.5 0 5 -2.5 4.5 -1 1.5 -1.5 0.5 -2.5 1 -1 3 0 2.5 1 4.5 4.5 1 0 1.5 -1.5 2 1.5 6.5 -1 4.5 1 1.5 3 -3.5 3.5 1.5 2.5 4.5 3.5 0.5 4.5 1.5 1 0.5 -1 -1 -3 0.5 -2 2 -2.5 0 -3.5 1 -0.5 2.5 3 1 -1 -1.5 -3.5 0 -4 -1.5 -2 -6 -2.5 -3 -3.5 -4 0 -1.5 -1.5 -3 -1 -2 -2.5 -6.5 -0.5 -4 -5 0 -2 2.5 -4.5 0 -2.5 -1.5 0 -5.5 6.5 -4 1.5 -1 1.5 -2.5 1.5 -1 2.5 0 2.5 -1.5 2.5 -2 -0.5 0.5 -2.5 -4 -4.5 4 -5.5 -0.5 -3.5 1 -1 0.5 -3 1 -0.5 -0.5 -1 -3 0 -10.5 4.5 -5 1 -3.5 4 -6.5 2 -1 1 0 1.5zM360 567.5l0 1 4.5 5.5 3.5 -0.5 -0.5 -2 1 -1.5 1.5 -0.5 1.5 0.5 -2 -3 -4 0 -2 2.5 -1 0 -1.5 -2zM406 566.5l-1.5 5 1 1.5 1.5 10.5 1 2 1 0 -2 -17zM820.5 565l-2.5 2.5 0.5 2 1 0.5 1 -0.5 0.5 -2zM793.5 565l2.5 -2.5 0.5 0.5 -0.5 1.5 3 1 1 1.5 -1 1 -3.5 0 -2 -1.5zM1235.5 560.5l-1.5 -1 -4 0 -11.5 7.5 -17 14 -3 3 0 1 1.5 0 3 -2 10.5 -9 3.5 -1.5 2.5 0 4.5 -3.5 3.5 -1.5 1 -1.5 1 0 2 -2.5 3 -1.5zM1154.5 561.5l0.5 0.5 5 -2.5 -1.5 -1 -3 0zM822 555l-1.5 1.5 3 0.5 -0.5 2.5 0.5 0.5 1 -3 -1 -2zM812.5 555.5l-1 -0.5 -2.5 1.5 -2.5 0 -3 2 -6.5 -0.5 -1.5 1 -3 0 -4 -2 -5.5 0.5 -3 -1 -0.5 0.5 0 5.5 4.5 5 -1 4.5 -2.5 0.5 1 5.5 1.5 1 2 -2 -0.5 -4 4 -3 2 -0.5 3 0.5 1.5 1.5 0.5 2 5.5 -1 3 1 4.5 0 4 -2.5 2 0 3.5 1.5 -0.5 -1 -2 -1 -3 0 -2 1.5 -3 0 -4.5 -4 2.5 -2 1 0.5 0.5 -0.5 -0.5 -1 6.5 -7.5zM973 554.5l-4 -1 0.5 3.5 -1.5 3 0 1.5 2 -0.5 0.5 -4.5zM1213 553l-6 2.5 -0.5 -1 3.5 -3 0 -1 -4.5 -0.5 -1.5 2 -2.5 0 0.5 1 -1.5 1.5 -4 1.5 -6 4.5 -4 1.5 -5 3.5 -1 -1 2.5 -2 0 -1 2.5 -1.5 2 -3 4 -1.5 2 -2 -1.5 0 -6 2.5 -0.5 1.5 -3 3.5 -2.5 0.5 -3.5 3 -3 0.5 0 1 -2.5 2.5 -15.5 11 -5 5.5 -2 1 -3 3 2 -0.5 3.5 -2.5 1.5 -2.5 7.5 -2.5 10.5 -7 5 0.5 2 -1 3.5 -3 7.5 -4.5 6.5 -7 5 -3 3.5 0.5 1.5 -1 1 0.5 -6.5 5.5 0.5 1.5 3.5 -1.5 4 -3zM416.5 549.5l0 3 -2 3 0 3.5 1.5 3 0 4 2 5 0 6 1 -10.5 -1 -1.5 0 -3 -2.5 -4 0 -1.5 1.5 -2zM403 549l2.5 12.5 0.5 -8.5 -1 -2.5zM770.5 548l-0.5 0.5 0.5 1.5 -0.5 3.5 2.5 0.5 1.5 -1 0 -1 -2.5 -2zM1292 542.5l-1.5 0.5 0.5 3 1.5 -1.5zM956 542.5l-2 -1 -2.5 1 0 4.5 -1.5 1.5 0.5 0.5 2 -0.5 1 -2.5 0 -2.5zM1277.5 540.5l0.5 0.5 -2.5 3.5 -0.5 -1.5zM958 542.5l2.5 -0.5 2.5 1 1.5 -1 1.5 2 0 2 6 4.5 0 1.5 1 1 1 -0.5 0.5 -4.5 -3 -2 -2 0.5 -1 -1.5 1.5 -0.5 0 -1 -2 -1 -1.5 -2.5 -2 1 -3.5 -0.5zM353 538l0 2.5 -4.5 3 0 4 -1 0.5 0.5 2.5 2.5 3 3.5 -1.5 3.5 2 2 -1.5 2 0 1 1 -1 -1.5 -0.5 -4.5zM933.5 536.5l-2 2 -1.5 -0.5 2.5 -2zM509 536.5l-1.5 -1.5 -1.5 0 -3.5 3 -0.5 1.5 0.5 0.5 5.5 -1.5zM1311 533.5l2 -1.5 1.5 0 1.5 1.5 2 5.5 -0.5 0.5 -2 -0.5zM893 530.5l-3 1 -1 1 0 1.5 4 0.5 -0.5 -2zM415 529l-0.5 1 0.5 9 -0.5 2.5 -1 1 1 4 1.5 0.5 0.5 -1 0 -3 -1 -2.5 0.5 -9.5zM589.5 527l0.5 2.5 5.5 2.5 3.5 -0.5 6.5 0.5 5 -3 14.5 0.5 -0.5 -2.5 -2.5 0 -2.5 1 -4.5 0 -4.5 -1 -6 3.5 -2 -0.5 -3 -3 -2.5 0 -2.5 -1.5 -3.5 0zM999 519l0.5 1 -1.5 2 -0.5 -1.5zM871 516.5l-0.5 0.5 0 5.5 3 4.5 -0.5 3.5 -1.5 3 3.5 0.5 3 2 -0.5 1 -3.5 0 0 0.5 4.5 0.5 2.5 -1.5 1.5 0 0 -1 -1 0 -0.5 -1 2.5 -2 0.5 -3 -6.5 1.5 -1 -1 0 -4 -2.5 -3 -1 -5.5zM452.5 515.5l-5.5 2.5 -3.5 3 0 1.5 1.5 2 6 -1 -0.5 -3 3.5 -3zM1279.5 513l-3 1 -1 1.5 1.5 0zM1167.5 528.5l-1.5 -1 0 -4 -1.5 -2.5 -5 -4 -4 0 -4 2.5 -1 -3.5 -6.5 -3 -0.5 2.5 -4.5 4.5 -2.5 1.5 -3 -1.5 -2.5 0 -7 4 -4 -1 -0.5 -2 -1.5 -1 -5 0.5 -1 2 -5.5 -1 -0.5 3 1.5 3.5 -0.5 4 -1.5 2 0 4 2 3.5 5.5 -0.5 4 4 2 -0.5 3.5 0.5 2.5 3 0.5 3.5 2 1 1.5 -1 -1 -3.5 2.5 -2.5 5.5 1 2.5 -2 2 0 2 -1 3 -3.5 3 -1 3 -3.5 2.5 0 3 3.5 3.5 -2.5 3.5 1 2 -3.5 -1 -2 2.5 -2zM861 513l-2 0 -4 -1.5 -1.5 2.5 -0.5 2.5 -2 1.5 -8 3 -4 4 -2.5 0.5 -3 -2 -3 2 1.5 1.5 0 1.5 -4.5 4 -2.5 9.5 2 3.5 -0.5 3 3 4 -0.5 3 2 -0.5 3.5 0.5 0.5 -0.5 -2.5 -3 0 -3.5 -1 -1.5 1.5 -0.5 1.5 2 0 1.5 1.5 1 -0.5 -4 0.5 -0.5 1.5 1 2.5 -2.5 -0.5 -3 0.5 -1 2 1 5.5 0.5 5.5 3 5.5 -1 4.5 1.5 3 -0.5 3 -1.5 2.5 0.5 1.5 -0.5 1 -1.5 1 0 0 -1 -3 -3.5 -5 0.5 -1 -1 0 -2 -1 -2 1 -1.5 2 0 2 -2 0.5 -1.5 -2 -3 -1.5 -5 -2 -1 -2.5 0 -2 -2.5 1 -2zM956.5 511.5l0 1 1.5 1 1.5 0 1 -1 -0.5 -1.5zM1208 510l1.5 0.5 0.5 5 2.5 1.5 0 2 -1.5 2.5 -1.5 -0.5 -2 -2 -2.5 0.5 -0.5 -3 -1.5 0.5 -2 -0.5 1 -2.5 1.5 -1.5zM1013 510.5l0 1 -1.5 1.5 -3 1.5 -2.5 -0.5 0.5 -2 5 -2zM1302.5 509.5l1 -0.5 4 3 0 1 -1 0.5 -2 -1 -2 -2zM1079 506.5l0 1.5 4 1 0.5 -1 -2 -2zM1118.5 501.5l-1 1.5 0 4 2.5 2.5 -0.5 2.5 0.5 1.5 1.5 0.5 2 -1 0.5 -3 -1.5 -4.5 -1.5 0 -1.5 -1.5 0 -2.5zM368.5 498l0 2 4.5 9 4 4.5 2 4.5 5 5.5 3 7.5 2.5 1.5 2.5 0.5 -4 -3.5 -2 -6.5 -13 -16.5 -3 -8zM1140 497.5l-1.5 0 -3 1.5 0.5 3.5 2 -1zM327 496l1 1.5 3 0.5 0 -1.5 -1.5 -1.5 -1.5 0zM1309 491l2 0 1 1 -0.5 3.5 -2 0 -2 -1.5 0 -1.5zM1214.5 490.5l1 1 0 2.5 -3 3 -1.5 -0.5 2 -4 -0.5 -1zM1028 490.5l2 -1 1 2 -2 1zM1052.5 486l1.5 -0.5 2 0.5 0.5 1 -1.5 0.5zM978.5 484l2.5 1 1.5 1.5 2 4.5 -1 2 -1 -0.5 -1.5 -4 -3 -3.5zM612.5 483.5l-5 2 -6.5 5.5 -1 4 4 4 7.5 -5.5 0.5 -5 1 -1.5zM315.5 483.5l-1 0 -3 2.5 -0.5 1.5 1 1 2 0 2 -1.5 0.5 -2.5zM976 481.5l1 1 0 1.5 -2 1.5 -0.5 -2zM1345 480l-0.5 2 1 1.5 1 0 1 -1 0 -1.5zM1329.5 479.5l-3 2 -3.5 1 -2.5 2 -2 -1 -3 -0.5 -1 0.5 -4 6 -3 3 -14.5 9.5 -9 8 2.5 -0.5 8.5 -4 8 -7 1 1 -1 1.5 0.5 2 -5.5 3 -2.5 0.5 0 1.5 -1.5 1.5 -1 4 -9 8 -0.5 3.5 -1.5 1.5 -2 0.5 -3 4 -4 2 -3.5 3.5 -1 2 1 3.5 0 4 -1 3 -2.5 2.5 0 1 3.5 -3 1.5 0.5 2 2.5 2.5 -0.5 -1.5 -3.5 1 -4.5 1 4 2 1.5 3.5 1 -2 -4.5 0 -1.5 4 -5 3 -0.5 3 -3 -0.5 -1 -4.5 2.5 -2 -1.5 3 -6 -0.5 -6.5 2 -2.5 3 2 1.5 4.5 0.5 5 2 3.5 8.5 -0.5 3.5 2 8 0.5 2.5 3.5 1.5 0 1 -1.5 1.5 0.5 0 -1 -2.5 -2.5 0 -1.5 1 -0.5 2.5 1 4 -2.5 0.5 -2 -1.5 -3 0.5 -7.5 1 -2 2.5 -1.5 0.5 -2 -2 -1 -1.5 -2 0 -2 1.5 -3 -1.5 0 -2 2 -4.5 -5.5 0.5 -1.5 1.5 -1 4 3.5 3 -0.5 5 -4 1 -4.5 -2 -1 -0.5 -1 1 -1 2.5 0 0 -1.5 -5 -6 -2 -0.5 1.5 -2 1.5 0 4 4.5 0 -2 -2.5 -3 -2 -0.5 -1 -1zM911 478.5l1.5 -0.5 0.5 2 -1.5 0.5zM1099.5 478l0.5 1.5 5 5 3 2 0.5 -3 -1.5 -0.5 -5 -5.5 -1 -0.5zM1094.5 476l1.5 3.5 1 0.5 0.5 -1.5 -1 -3zM1158 473l0 1.5 -2 3 -0.5 4.5 -3 3.5 -2 1 0 1.5 2 1 3 0 3 1 4 -0.5 3 -2 2.5 0 1 1 -0.5 6.5 -4 1 -1 5 -2 2 -1 0 0 1 4 0.5 3.5 3 5.5 2.5 -3 1 3.5 2 0.5 7 1 1.5 3.5 0.5 1.5 -1.5 3 0 0.5 2 2 1.5 5.5 0.5 3 3 6 0 1 -0.5 3 -6 3.5 4 0.5 1.5 2 2 1.5 0.5 2.5 -1 2 -2 4 0.5 6.5 -3.5 1 -2 1 -5.5 4.5 -4 1 -5.5 3.5 -5 -2.5 -1 -1.5 -1.5 -1 -3.5 -1.5 -1.5 -4.5 -0.5 -2.5 1.5 -4 0 -2 -1.5 -0.5 -4 -1.5 0 -1.5 1 -9 -1 -1 1.5 0 1.5 -1.5 1.5 -2.5 0 -3.5 -3.5 -4.5 -0.5 -3.5 3.5 -0.5 5 -1.5 1.5 -1 0 0 1 2 0.5 -0.5 1.5 -4.5 6 -3 0 -3 -1.5 -1.5 -3 -5.5 -1.5 -4 -4 0 -1.5 1 -1 1 1 3 -3.5 3.5 1.5 3 -0.5 -0.5 -2 -2.5 -3 0 -7.5 -1 -3.5 -1.5 -1.5 -4.5 -1.5 -1 -2.5 -1.5 -1zM1145 468.5l-2 0 -1.5 1 -1.5 5 -4 3.5 2.5 5 0.5 3.5 3 0.5 0 -3 2 -2 5 -2.5 1.5 -1.5 0 -2.5 -2.5 -5zM310.5 468.5l-7 4.5 1 4 1.5 2.5 1.5 -1.5 2.5 -1 0.5 -1.5 -0.5 -2 4.5 -3zM321 468l1 6 -1 1 -3.5 -3 0 1 1.5 3 2 2 -1 4 1.5 0.5 2 -2.5 1.5 0 0 -2 -1 -1.5 -1.5 -7.5zM1328 465.5l-2 0.5 -2 2 3.5 -1.5zM1326 462l-2 0.5 -7 6.5 -5.5 4 -11.5 6.5 -6.5 6 -6.5 3 -8 5.5 -2 2.5 0.5 0.5 14.5 -9.5 2 0.5 -0.5 2 1.5 0 6.5 -3.5 1.5 0.5 -0.5 1.5 -7 4 -10 8.5 -18 12 -3 2.5 0 1.5 16 -10.5 5 -4.5 5 -2.5 6 -4 4.5 -4 9 -5.5 1 -1.5 -2.5 0 -0.5 -0.5 0.5 -2 9 -8.5 -1.5 -1.5 0.5 -1.5 3 -2.5 3.5 -1.5 2.5 -2.5zM895 493.5l0.5 1.5 2.5 0 2 1.5 0 2 2.5 6.5 -0.5 7.5 1 3 -0.5 0.5 -1.5 -1.5 -0.5 -2.5 -2 2 2 5.5 -0.5 1.5 2.5 0 1.5 2 3.5 1 4.5 6 6 2 2 2 0.5 3 1.5 -2.5 0 -2.5 1 -0.5 1 1 0 6 -1.5 3 4.5 -3 0.5 3 1 0 2 2 1.5 4.5 2.5 0 0.5 -1.5 -2.5 -2.5 -1 -2.5 0.5 -2 2 -1 0.5 0.5 -0.5 4 4 2 5 0.5 2 -0.5 -2 -5.5 0 -2.5 0.5 -0.5 3.5 0.5 1 -1 0 -1 -2 -2.5 3.5 -2 0 -2 -8 -1.5 -3.5 4 -1 -0.5 0.5 -1.5 -1.5 -0.5 -0.5 2.5 -1 1 -4 -2.5 -0.5 -1 0.5 -0.5 3.5 0.5 2 -3 2.5 -0.5 -1.5 -2.5 0.5 -1.5 3 2 4 1 2 0 1.5 -3 2.5 0 -4.5 -3 -0.5 -2.5 -2 -1.5 -0.5 -2 -2 0.5 -4.5 -0.5 -1 -1 0 -2 -2 0 -2 2 -1 -3 0 -4 -2 -2.5 -1.5 0 -4 4 -0.5 -0.5 0 -3 -4 -4 0 -1.5 1.5 -3 -4 -4.5 0.5 -3 1 -0.5 8 9 2 1 3 -2 -0.5 -2.5 1.5 -2 1.5 -0.5 4 2.5 6 0.5 1 2 2 1.5 2.5 0 2 -2 2.5 -0.5 1 2.5 -0.5 3 1 -1 0 -8.5 2.5 -2.5 1.5 0 1 1 -0.5 1 0.5 1.5 1 0.5 2 -0.5 2.5 -3 2.5 -1.5 1.5 1.5 1 0 0 -2 1.5 -1 0.5 0.5 -1 2 0.5 0.5 3 -1.5 0.5 1.5 3.5 0.5 1.5 1.5 0.5 3 2 2.5 -9 4.5 -2.5 5.5 -2.5 3 -2 1 -3 -1.5 0 1.5 2 4.5 3 0.5 1 1 -1.5 1.5 -6 1.5 0 0.5 3 0 4.5 -1.5 2.5 0 2 1.5 0.5 1 -0.5 1.5 -7 5.5 -0.5 2.5 -1.5 2 -3.5 0.5 -0.5 2 1 1 4.5 1 3 2 2.5 -0.5 4.5 1.5 1.5 1.5 0 4 0.5 0 0.5 -1.5 2 -1 1 -3 2.5 -3 0.5 -10 2.5 -1.5 1.5 -2 1.5 -0.5 2 2 0 1.5 -1.5 1.5 0 3 1.5 5 2 1.5 2.5 0.5 3 3.5 2.5 1.5 -1 3.5 -2 2 1.5 2 0 2.5 -1 1.5 -0.5 3.5 -2 2.5 -2.5 -1 -2.5 6.5 0.5 0.5 2 -3 2 0 1.5 -1.5 1 0 3 3 1 -1 0 -2 -2 -3 0 -4 3.5 -4 1 -3 3.5 -0.5 4 1 2.5 -3 0 -2 -2 -4 0 -2.5 3 -1 3.5 -3 0 -1 -1.5 -1 -0.5 -3 -2.5 -1 -2.5 1.5 -0.5 1 0.5 4 -1 1 -1 0 -1.5 -1.5 0 -2.5 -1 -1 -1.5 0 -2.5 2.5 -2 0 -1.5 -1 2 -2 3.5 -0.5 3.5 -2.5 5.5 -1.5 2.5 -1.5 0 -2 -2 -2.5 -3.5 0 -1 -1 0 -1.5 2.5 -2.5 2 -0.5 3 -2.5 3 0 3.5 -4 5 -1.5 1.5 1.5 1 4 1 1 3 -1.5 3.5 2.5 4.5 0.5 2 1 2 2.5 0.5 3 3 3.5 2.5 -1 2.5 0 1 1.5 2.5 1 2 2.5 1.5 0.5 1.5 -3 3.5 0 1.5 -1 0.5 -1 -1.5 -2 0 -2 1.5 -1.5 2.5 -0.5 2.5 -4 -3 -0.5 1.5 -2.5 0.5 -3 2.5 -1.5 0 -1.5 5 -5 3 -0.5 -2 -3 1 -3.5 -0.5 -1.5 1.5 -1 0 -1 -1 -1.5 0.5 -2.5 -3.5 -0.5 -5.5 1.5 -5 -1 -1.5 1.5 -3.5 1.5 -4.5 0 -5 1.5 -3.5 -3 -2.5 1 -1 -1 0 -3 -1 -2 -1.5 -1.5 -5 -1.5 -1 0.5 -1 3.5 3.5 2.5 1.5 4 3.5 3.5 -1.5 1.5 -1 0 -3 -2 -3 0 -4.5 3 -1.5 -1.5 -1 -3 7.5 -1 0.5 -2 -1 -1 -2 0.5 -1.5 1.5 -3.5 -4 -3.5 0.5 -4 -0.5 -1.5 -1 -2.5 0.5 -2 -3.5 -1.5 0.5 -3 -3 -0.5 -2 -2 -2 -1 0 -1 2 -1.5 0 -3.5 -2.5 -3 -1 -10.5 -0.5 -5 2.5 -2 -0.5 2 2 -1.5 1 -2.5 0 -1.5 -1.5 0 -3 -3.5 -0.5 -3 2.5 -0.5 3 -5 -2.5 -5 1 -1 -1.5 -2 0.5 -2 -0.5 0 -2.5 -1.5 -0.5 -2 -3 1 -5.5 -0.5 -1 -1.5 0 -2 4 -3 2 -2.5 0 -2 -1.5 -3 0 -4 -2 -1.5 -1.5 -6.5 1 -2 2.5 -4 1.5 -8.5 -0.5 -1.5 1.5 -0.5 2 1 4 -3 2.5 -4.5 0.5 0.5 2 -0.5 2.5 1 1.5 -1.5 0.5 -2.5 -1.5 -3 3 -1.5 -0.5 -1 6 -4 3.5zM1352.5 457.5l-8.5 4.5 -6.5 8 -2 1.5 -1.5 3.5 -1.5 1.5 -1 0 -1 2 6 6 1 0 2.5 -3 0.5 -2 -1 -1 1 -1 1 0 0.5 1.5 2.5 -0.5 0.5 -3.5 1 -1 2 1 0.5 2.5 1 -1.5 0.5 -4 1 -0.5 2 1 1 -1 4.5 8 4.5 2.5 3 1 1 -0.5 1.5 1.5 0 1.5 -3.5 0.5 -0.5 2 1 0.5 4 -0.5 1 1.5 -4 3 -1 5.5 -2 0.5 2.5 6 -1 8 2 3.5 -1 4.5 -2.5 3 4 0 4 -4 0.5 0.5 -0.5 1.5 1 -1 2 -4.5 4.5 -7 -1 -2.5 0 -5 2.5 -5.5 1 -4.5 2 -3 -5 2.5 -4.5 -6 0 -1.5 -2 -2.5 -6 -0.5 -2.5 -1 -1.5 -1.5 0.5 -2 -2 -3 1 -1.5 1 0 0 -7.5 2 -2 -1 -1.5 -1 1 -5 -1 -2.5 -2.5zM318.5 456.5l1 8.5 0 -7.5zM1351.5 447.5l-2 0 -7.5 4.5 -6.5 6 -1 2.5 1.5 0 3 -1.5 7 -5 5 -4.5zM341 444l-0.5 3 1 2.5 4.5 7.5 1 3 2 1 -3.5 -9 -3.5 -4.5z"/>
<path fill="#e6ee1c" fill-rule="evenodd" d="M618 682l2.5 0 2 1.5 0 1 -3 3.5 -1 0 -2.5 -3 0 -1.5zM622.5 678l1 0 1 1.5 -1 2 -2 -1 0 -1.5zM568.5 678l0 1 3 2 -2 -1.5 0.5 -2 2.5 -1.5 2.5 0 3.5 4 3 1 4 3 5 5.5 -4 -6 -7 -3 -4 -5 -4.5 0.5zM618 676l0.5 -1 2 -0.5 2.5 1 -3 2zM555.5 674.5l0.5 2 -2.5 2 -0.5 -0.5 2 -2zM610.5 671.5l7 7.5 -1 2 -2.5 1 -0.5 3 -1 1 -1.5 -0.5 -1 -1.5 0 -1 3 -2 0 -2 -1 -1 -2.5 0 -3 2 -1.5 0 -1.5 -1 0 -1 3 -1.5zM578.5 675.5l2.5 -0.5 1.5 2 1.5 -0.5 0 -2 -1 -1.5 0.5 -2.5 3.5 2 1.5 0 1.5 1.5 1 4 7.5 0.5 1.5 1.5 -1.5 7.5 -1.5 1 -4.5 -0.5 -3.5 -4 -0.5 -4 -5 0.5 -3 -1.5 -2 -2zM578 671.5l0.5 1.5 2.5 -0.5 -0.5 -1.5zM624 675.5l1 -1 2.5 -0.5 1.5 -2.5 2 -1.5 2 0 2 1 4 0 1 1 -0.5 5 1 2.5 -1 1 -1.5 0 -3.5 -3.5 -4 0 -1.5 2 0.5 1.5 -3 1 -1 -1 -0.5 -3.5zM614.5 668.5l1 0 2 2.5 0.5 2.5 -0.5 1.5 -2.5 -0.5 -2 -2.5 0 -2zM595 668l1.5 0.5 -0.5 4.5 -2 -0.5 0 -3zM650 669.5l0.5 -2.5 1 1.5 3 1 5 -2.5 0.5 0.5 -1 1.5 -3.5 2zM568.5 668l1.5 -1 2.5 0.5 3.5 3 0.5 1 -2 2.5 -4.5 0 -1.5 -2zM596.5 666.5l-1.5 0 -2 5 0.5 3 3.5 -0.5zM577 667l2.5 -1.5 1.5 0.5 1.5 2.5 -1 1 -3 0 -1.5 -1.5zM606 663l1.5 -0.5 1 1.5 -2 1zM593.5 662.5l0.5 0.5 -0.5 3 -2 2 -1 -1.5 0 -3 1 -1zM571.5 663l-0.5 2 1.5 0 0.5 -2zM631.5 662l1 1 -0.5 1.5 -1.5 -0.5zM609.5 663l1 -1 2.5 0 2 2.5 -2 2.5 -2.5 0.5 -1 -1zM608 662l-2.5 1 0 1 1.5 1.5 1.5 -1zM650 662.5l2.5 -1.5 5.5 0.5 2 1.5 0 2 -1.5 2 -5.5 1.5 -2.5 -2zM627.5 661l1 1 0 3.5 -2 3 0 1.5 -1.5 1.5 -5.5 1.5 -1 -1 -1 -7.5 2.5 -2zM578 661l0.5 -1.5 1.5 0.5 -1 1.5zM605.5 659l1 1.5 -3 3 2 2.5 3 2 0 1 -3 3.5 -5 0.5 -1.5 -1.5 0 -6 3.5 -2.5 0.5 -3 1 -1zM642 658.5l2 0.5 4.5 4.5 1 2.5 0 2.5 -1 1 -2.5 -0.5 -3 -4 -1.5 0 -2 -1.5 0 -1.5zM635 658.5l2.5 1.5 -1.5 3.5 1 1.5 3 2 2 0 1.5 2 -0.5 0.5 -8.5 -0.5 -1.5 -1 0 -1.5 2 -2.5 -1 -2.5 0 -2zM559.5 658.5l2 0.5 -1 2.5 -2 -0.5 0 -1.5zM634.5 658.5l-1 1 0.5 5.5 -3.5 2.5 4.5 2 4 -0.5 3.5 2 -1.5 3.5 1 6.5 0.5 -1 -1.5 -4.5 2 -4 1.5 -1.5 4 1 1 2 0 2 1 0.5 0 1 1 0 0 -1.5 -1.5 -1.5 -0.5 -2 -4 -1.5 -2.5 -3 -4 -1 -2 -2 1 -4 -1.5 -1.5zM534 658l0.5 0.5 -0.5 3.5 -0.5 -0.5zM515.5 656l2 -0.5 3 2 0 2.5 -1.5 1zM550 655l2 -1 1.5 0.5 1 1.5 -1 1 -2 0 -1.5 -1zM578 653l1 0 1.5 1.5 0.5 2.5 4 0.5 1.5 1.5 0.5 2.5 2.5 5 0 2 -1 1.5 -1 0.5 -3 -2.5 -0.5 -4 -3 0 -1 -1 0.5 -1.5 -0.5 -3.5 -2 0.5 -1.5 1.5 -1.5 -0.5 0 -3zM517.5 653.5l-2.5 0.5 -3 3 -1 2 0.5 1 2 1 -1 0.5 1.5 1.5 0.5 -0.5 1 1.5 0 -1.5 -1 -1.5 0.5 -2 1 0 1.5 2 1.5 0.5 1.5 -0.5 0.5 -1 0 -4.5zM524.5 653l0.5 -0.5 2 1.5 2.5 0.5 -3 0.5zM566.5 651.5l2 0.5 0.5 2.5 3.5 3.5 0 2 -3.5 3.5 -1.5 3 -1.5 0 -2.5 -2 1.5 -4.5 -1.5 -1.5 -2 -0.5 0.5 -3.5zM461 650l2 2 -2.5 2.5 -1 -1 0 -2.5zM594.5 649.5l2 0 1.5 2 -0.5 2.5 -1.5 1 -1.5 -0.5 -1 -1.5 0 -2.5zM586 649.5l0.5 0.5 -0.5 3.5 -0.5 -0.5zM568.5 650l1 1 -0.5 1 -1 -1 -2 0 -4.5 3.5 -0.5 2 -1.5 1.5 -1.5 0.5 -0.5 3.5 4 1.5 1.5 4.5 -2 2 -6.5 1 0.5 2 -0.5 1 -1.5 -3 2 -1.5 3 -0.5 2 -2.5 -0.5 -2 -2.5 -0.5 -1 -1 0.5 -4.5 3.5 -2.5 -0.5 -4 0.5 -0.5 3.5 0.5 2 -2.5zM632 649.5l-1.5 1 0.5 2 1 -0.5zM525 652.5l-0.5 0.5 -1.5 -2.5 -3.5 0 -1 -1 0.5 -0.5 2.5 0.5 2.5 -1 1 1 -0.5 1.5zM611 647l2.5 2.5 1.5 0 1.5 1.5 0 2.5 -2 2 -2 -2.5 0 -2 -1 -0.5 -1.5 1.5 2 4 2.5 -0.5 2 2 1.5 3 3.5 1.5 -0.5 0.5 -3 0 -3 -5 -3 0 -1.5 -1.5 -2 -4.5 2.5 -2.5 -0.5 -1.5zM582.5 647l1.5 0 1.5 2.5 0 5.5 -1 1 -1.5 0 -1.5 -1.5 -1 -3 0.5 -3zM561.5 648.5l-1 1.5 -2.5 1.5 0 2 1 1 -0.5 1.5 -5 -2 -4.5 0.5 -1.5 -0.5 0 -1.5 4 -5 2 0 2 1 4.5 -2zM608.5 646.5l2 2 -2.5 2.5 0 1.5 1.5 1.5 1 3.5 4 0.5 1 1 0 1.5 -3 0.5 -3 -2.5 -7.5 -1 -1 3.5 -1 1 -1.5 0 -1 -1 0 -3 2.5 -1.5 -1.5 -4 0.5 -2.5 4.5 -0.5 1.5 -1 1 -2 1 -0.5zM594.5 646.5l1 1.5 2 0 -0.5 -1zM530.5 653.5l4 -1.5 -0.5 -2 0.5 -4 1 4 4.5 -1 2.5 2 2.5 0.5 1.5 1.5 -0.5 1.5 -1 -1.5 -5 -2.5 -2 0.5 -0.5 1.5 2 2 -0.5 3 -2 -0.5 -1.5 0.5 -0.5 -0.5 2.5 -2 -2.5 -1.5 -2 0.5zM639 647l2 0 3.5 -1.5 2.5 0.5 3 2 0 3.5 -2.5 7.5 -5 -4 -0.5 -2 -4 -4.5zM481.5 645l0.5 1 -2 3 5 0.5 -5.5 2 -0.5 -3.5zM587 654.5l-1 -6 1.5 -2 5 5 0 -1 -3 -3 0 -1 4 -1 0.5 -2 1 1.5 5.5 2.5 2.5 0 1 -2.5 1.5 -1 2 1 -1.5 0.5 -1.5 2.5 -1.5 1 -4.5 -0.5 -0.5 2.5 -1.5 -2 -2 0 -2 -2 -1.5 0.5 2.5 2.5 -0.5 5 -1.5 1.5 -2 0zM570 643.5l2 0.5 -1 4.5 3 3.5 -1 2 -1.5 0 -1 -1 -1.5 -3.5 -1.5 0 -1.5 -1 0 -2zM585.5 644.5l1.5 -1.5 1.5 0 1 1 0 1.5 -3.5 0.5zM635.5 644.5l2 0.5 2 -1.5 -3 -0.5zM590 643l1 -0.5 1.5 2 -1.5 0.5zM577 642.5l2.5 1.5 0 1.5 -2 4 -2 1.5 -2 -2 -0.5 -2 1.5 -3.5zM450.5 643.5l1.5 -1.5 3 0 1 1 0 1.5 -2 1.5 -2.5 0zM616 641.5l1.5 1 -1 2 -1.5 -1zM537.5 641l3 0 3 2 1 2 0 3 -1 1.5 -3 -1.5 -4.5 -0.5 0.5 -5.5zM611.5 641l1.5 -0.5 1.5 1.5 -0.5 1.5zM496 640.5l1 0 1.5 1.5 1 2.5 2.5 0 1.5 1.5 -0.5 5 -4 -1 -2.5 -3.5 -3 -1.5 0 -2zM456 641l-5.5 1 0 3.5 1.5 1.5 3 -1 1.5 -1.5zM614 643.5l0.5 -0.5 1.5 2.5 1.5 -0.5 1.5 -2 3 2 2 0 2 -2 0.5 -1.5 2 -1.5 1 6 2.5 2 5 0.5 4.5 6 5.5 5.5 2.5 1 0 3 -0.5 0.5 -1 -2.5 -4.5 -3.5 -2.5 -0.5 -1 -1 -2.5 -6.5 -2 -1 -1.5 0.5 -0.5 2 1 -2 1 -0.5 1 0.5 2 2.5 0.5 2 -0.5 2 -4 0 -3 2 -4 0 -4 2.5 -4 0 -2 -2 -1.5 -3 1 -5 -2 -3 1 -1 3.5 0.5 2 -1 5 -0.5 2 2.5 0.5 2.5 0 -2.5 -1 -1.5 -0.5 -3.5 -3 2.5 -5.5 -0.5 -1 1 -2.5 0 -1.5 -1.5zM534 640l2 3.5 -1 3 -0.5 -4 -1 -1.5zM591 639.5l2 2.5 -1 0.5 -1.5 -1.5zM530.5 639.5l1 -1 1.5 0 1 1.5 -0.5 0.5 -1.5 -1 -1 1zM528 638l1.5 1 0 1.5 -1 1 -1 0 -1.5 -1.5zM618 638.5l1 -1 7.5 0 0.5 3 -1 2 -3 2.5 -4.5 -4zM591.5 638l1.5 -1 3.5 1.5 2 2 1 3 -1 1 -2.5 0 -4 -4zM545 638.5l-2.5 2 -4 -0.5 3.5 -0.5 2.5 -2.5zM654 635.5l1 0 1.5 1.5 1 2.5 -1.5 2.5 -1.5 -0.5 -1.5 -2.5 0 -2zM549.5 635.5l1.5 1.5 0 2 -2 2 0 2.5 -1.5 1.5 -2 0 -1 -1 0 -1.5 2 -2.5 -0.5 -3 1.5 -1.5zM659 635l1.5 1.5 -1 1.5 -1.5 -1.5zM459.5 636l1 -1 3.5 0.5 1.5 2.5 0 1.5 -1 1 -3.5 -1 -1.5 -2zM450.5 636l1 -1 2 0 1 1 0 1.5 -1 1 -2 0 -1 -1zM577.5 635.5l1 -1 1.5 0 1 2 -1.5 1.5 -1 0 -1 -1zM658.5 634.5l-0.5 3 2 2 1 -3.5 -1 -1.5zM577.5 635l-0.5 1.5 1 1.5 2 0 1 -1 0 -1.5 -1 -1zM546.5 634.5l5 -0.5 4.5 5 0 1 -1 1 -3 0.5 -1.5 1.5 -0.5 -1 1.5 -1.5 2 -0.5 0.5 -1 -3.5 -4zM528 633l1.5 2.5 -2 2 -0.5 -0.5 1 -1 -0.5 -2zM515 633l1.5 -0.5 0.5 2 -1 0.5zM534 632l2.5 2.5 -0.5 2 -1 -2.5 -1.5 -1.5zM513 633l1 -1 0.5 0.5 -0.5 2 2.5 1.5 2 0 0.5 -2.5 1 1 0 2 -1 1 -5.5 -1zM475 632l1 0 1.5 2 -0.5 0.5 -2 -1 -1 1.5 0 1.5 2 1 1 -1 0.5 -2.5 0.5 3.5 -1 1 -2.5 0 -1.5 -1.5 0 -2.5zM472 632l0.5 2.5 -1 2.5 -2 1 -1 -0.5 -1 -2zM609.5 631.5l2 0 0.5 2.5 -1.5 1.5 -2 4.5 1 1 2.5 0.5 2 2.5 -0.5 3 -3.5 -0.5 -3.5 -3.5 -1 -3.5 0 -4.5 2 -2.5zM629.5 632l1 -1 1 0.5 -0.5 1.5 -1 0zM658 631l-0.5 1.5 2 0.5 0.5 -1zM630 630.5l-1.5 2 1.5 1.5 1 0 0.5 -3.5zM507 629.5l1 0 1.5 2.5 -1 1.5 -2 -1zM436.5 632l0 -2 1 -1 5 0.5 -4 0.5 -1.5 2.5zM600.5 628.5l1 1 -2.5 4.5 -1 -1 1 -1.5 0 -2.5zM655.5 628.5l-3 0 -5.5 1.5 1.5 0 3 2zM551.5 630.5l0 1.5 -1 1 -6 1 -0.5 3 -1.5 1.5 -3.5 0.5 -1.5 -1.5 -0.5 -1.5 0.5 -2 2 -1.5 4 0.5 1 -3 2.5 -2.5 1.5 0zM506.5 628l-0.5 4.5 1.5 1.5 1 0 1.5 -1.5 -2 -4zM599.5 627.5l-1.5 3 -3 2.5 0 1.5 1 1.5 2.5 1 2 2 2 0.5 1 -1.5 0 -4.5 -1 -2 0 -2.5zM490.5 628l1 -1 1.5 0 1 1 0 1.5 -2 1 -1.5 -1.5zM479 627l3 3.5 3.5 0 1.5 1 -0.5 2 -3 2.5 -1 2 -3 0 -1 -1 0 -4 -2 -4zM450.5 628l1 -1 3 0 1.5 1 0 1.5 -0.5 0.5 -4.5 -0.5zM553.5 627l-0.5 1.5 0.5 1 1.5 0.5 0.5 -2.5zM482 627.5l1 -1 2 0 1 2 -2 1.5 -2 -1.5zM443 626.5l0.5 -0.5 3 0.5 1 2.5 2 2 0 1.5 -2.5 0.5 -2 -2 -2.5 -1 0.5 -0.5 2.5 0 0 -1.5zM480.5 626.5l1 -1 4 0 1.5 1 0 3 -1 1 -1.5 0 -0.5 -0.5 2 -1 0 -1.5 -1 -1 -2.5 0 -1.5 2zM607.5 625.5l1 -0.5 2.5 1 2.5 2.5 -1.5 1.5 -1 0 -2.5 -2zM553.5 625l2 0.5 1 1.5 0 3.5 -1 1 -1.5 0 -2.5 -3 0.5 -2.5zM438 626.5l1 -1.5 1.5 0 2.5 3 -3.5 0.5zM547 625l-4 3.5 -2 -0.5 2.5 -1 2.5 -2.5zM607 624l-0.5 1.5 2.5 4 4.5 0.5 -0.5 -3.5 -3 -1 -1.5 -1.5zM592 632.5l1 -1 3 -0.5 3 -5 1.5 0 2.5 1.5 2.5 0 0 -3.5 1.5 -1.5 1.5 0 2 2 4 2 0.5 3 6 6.5 3.5 0.5 0 -1.5 -2.5 -0.5 -1.5 -2 1 -4 0.5 4.5 3 0.5 1.5 1.5 0 1 -1.5 1.5 -3.5 0 -2 -1 -4.5 -5 -1.5 4.5 -3 3 1.5 1.5 -1.5 0.5 -1 -1 0 -1.5 2.5 -3 1 -3.5 -1.5 -1 -3 0 -2 -1.5 -1.5 3 -0.5 8 -1.5 2.5 -5.5 -5 -2.5 -1 -2.5 -2.5zM560 622.5l3 4.5 0.5 5 3.5 1.5 2 2 0.5 2.5 -1.5 1 -5 -0.5 -1 1 0 2.5 -1.5 2 -4.5 2 -4 -0.5 -1 -2 1.5 -1.5 2 0 2 -1.5 0 -3.5 -1 -1 1 -1 1 1.5 2 0 0.5 -2 -2.5 -2 -1 -8 2 -2zM522 621.5l0.5 0.5 -0.5 3 -0.5 -0.5zM443.5 621.5l1 0 1.5 1.5 0 1.5 -1 1 -1 0 -1.5 -1.5 0 -1.5zM565 621.5l-0.5 1 0.5 5 3 0.5 3 -1.5 -3 1.5 -2 -0.5 -1 -1.5 0 -3.5 1.5 -1.5 2 0zM549 620l1 1 0 2 -3 2 -0.5 -0.5 2.5 -2.5 -0.5 -1zM484.5 618.5l0 1.5 -2.5 1.5 -1 3.5 -2 1.5 -3.5 1 -2 2.5 -2 0 -1 -1 0 -2 2 -2 -0.5 -0.5 -4 1 -4 0 -1 -1 2.5 -3.5 0.5 0.5 -0.5 2.5 1 0.5 3.5 -1 3 0 1.5 2.5 2 0 3 -1.5 0.5 -3 -4 -0.5 -1 -1 0.5 -1 1 1 4.5 0 2.5 -2zM613.5 618l0 2 1.5 2.5 2.5 0.5 2 -1 -3.5 0.5 -2 -2zM519 617.5l-1 1 -0.5 4 2 6 1 0 2.5 -3 0.5 -2.5 -1.5 -4 -1.5 -1.5zM540 616.5l2 0 4 4.5 0 1 -4 4 -3 0 -3.5 -2.5 1 -4zM426 621l0 -2 2 -2.5 3 0.5 2 2.5 -2 2.5 -3.5 0.5zM467 618l2 -2 2.5 0.5 2.5 2 1.5 4 -0.5 0.5 -7.5 0zM499 616l1.5 -1 1.5 2 -1 1zM494 616l1 -1 1.5 0 1 2 -2 1.5 -1.5 -1.5zM481.5 623.5l1.5 -2 2 -1 0.5 -3 1.5 -2.5 3 0.5 1.5 1.5 1 2.5 2 1.5 0 2.5 -2 2 -2 0 -2 -2 -1 0 -1.5 2 -3.5 0zM538.5 615l0.5 -0.5 3 0.5 -0.5 0.5zM526 615l0 2 1.5 1.5 1 -1 0 -2zM440 616.5l-0.5 1 -3.5 2 -0.5 2 -1.5 1.5 -7 1 0 1 1 0.5 6.5 0.5 2 -3.5 1 -0.5 3.5 0.5 0.5 0.5 -0.5 1 -1.5 -1 -2 0.5 -0.5 4.5 -1 1 -3.5 -2 -6 -0.5 -1 -1 -0.5 -2 1.5 -1 6.5 -0.5 2 -3.5 3 -2 -1 -1.5 0.5 -0.5zM511 614l1 1 -0.5 2 -1 -0.5zM494 615l-0.5 2.5 1 1 3 0.5 -0.5 -4.5zM418 614.5l2.5 -0.5 1 1 0 1.5 -1.5 1.5 -1 0zM534 612l2.5 -0.5 1 1.5 -2 0.5zM428.5 611l1 2 -3 1.5 -0.5 -2 1.5 -1.5zM511 610.5l0.5 0.5 -1.5 3 -1 -2zM415 609.5l1 -0.5 2 0.5 0.5 1 -0.5 3.5 -2 0 -2 -1.5 0 -1.5zM489.5 608l0.5 2.5 -2 2 -2 -2 0.5 -0.5 1.5 1zM542.5 607.5l2.5 0 4.5 4.5 1.5 3.5 -1.5 3 -1 0.5 -1.5 -0.5 -4 -4.5 -2.5 -1.5 0.5 -3.5zM534.5 609l1 -1.5 2 1 -1.5 1.5zM533 607l0.5 0.5 -1.5 1.5 -1.5 -1zM461.5 607l4.5 0 0.5 0.5 -0.5 0.5 -3 0.5 0 1 3.5 0.5 -0.5 -2 1 -0.5 4.5 7.5 -1 0.5 -2 -2 -1 0 -1 2.5 -0.5 5 -0.5 -0.5 0.5 -8.5 -1.5 -1 -2 0 -2 4 -1 -0.5 -0.5 -1.5zM449 608l1 -1 2.5 0.5 0 1 -1.5 1.5zM512.5 606l2.5 2 -1.5 2 -1 -0.5 1 -1 -1.5 -2zM501 602.5l0.5 0.5 -2.5 1 0 2 0.5 0.5 4 -0.5 1.5 1.5 0 1.5 -1.5 1.5 -3 -0.5 -1 1 0 1.5 3 1.5 4 4.5 2 0.5 -2 1 -3.5 -3 -1 -2 -3 -0.5 -0.5 1 0.5 2 3 2.5 0 1 -1 1.5 -5.5 3.5 0 2 0.5 1 4.5 1 1 1 2 5 0 2 1 1 7.5 -1 0.5 2.5 1.5 2 3 0.5 2.5 -1 1 2 -1 1.5 -0.5 -2 -1.5 0.5 -4 -0.5 -3 -4 -3.5 0.5 -2 1 -1 6 -0.5 -3 -1 -1 -2 1 -2.5 -3.5 -2 -0.5 -2.5 2 -1 2 0 3 2 -0.5 1.5 0.5 1.5 2.5 2 1.5 -2 0.5 -2.5 -3.5 -3 1 -1.5 -1.5 0 -2.5 2 -3.5 3 -3 4.5 1 1.5 -1 0.5 -2.5 -1 -3.5 -1.5 -1.5 -4 0 -2 -4 -3 0.5 0 2.5 3 2 -2 2 -3.5 0.5 -2 2.5 0 2 -4 6.5 -0.5 -0.5 0.5 -3 -2.5 -1 -0.5 -1.5 2 -0.5 2 1.5 1 -0.5 0.5 -3.5 4.5 -5.5 0 -4 1.5 -1.5 4 -0.5 1.5 -4 -3.5 -2.5 -0.5 -3.5 2 -1.5 3.5 -1 1 -3.5 -1 -4.5 1 -1.5zM541.5 602l0.5 0.5 -0.5 3 -0.5 -0.5zM482 601l2 1.5 1 3 3 0.5 -2.5 1 0.5 2 -0.5 1 -2 -3 -5 0 -0.5 -0.5 4 -0.5 1 -1 0 -2 -1.5 -1.5zM447 601.5l0.5 -0.5 2 1.5 2 0 4 2 2.5 0 0.5 -0.5 -1 -2 0.5 -1 2 2.5 0.5 2 -0.5 0.5 -5 0 -3 -2 -4 -1zM486 599l1 0.5 -1 1.5 2 1 -0.5 0.5 -1.5 0 -1 -1 0 -1.5zM461.5 603.5l1.5 -1.5 1.5 0 2 -2.5 2 -0.5 1.5 1.5 1 2.5 3.5 3.5 6 1 3.5 1.5 2.5 3 0.5 2 -2.5 1.5 -3.5 4 -3.5 0.5 -5.5 -5.5 -1.5 -3 -0.5 -3.5 -2.5 -2 -4.5 0zM528.5 598l0.5 1 -1.5 1.5 -0.5 2.5 4 4 -0.5 1 -5 -5 0.5 -2.5zM475.5 598l5.5 5.5 -0.5 1.5 -2.5 0 -4 -4 0 -1.5zM504 597.5l1 1.5 0 2 -1.5 1.5 -2 0.5 -0.5 -0.5 2.5 -1.5zM447 598l3 -2 2 0 4.5 5 0 2 -1.5 0.5 -6 -1.5 -1.5 -1.5zM512.5 597.5l3 -2.5 5 4.5 0 1 -1.5 1 -0.5 -0.5 0.5 -1.5 -2.5 -2.5 -1.5 0 -1.5 1zM531.5 593l1.5 0.5 2.5 3 0 3.5 1.5 2.5 0 1.5 -1.5 1.5 -2.5 0 -4.5 -3 1.5 -8zM574.5 593l-1.5 3 3.5 4.5 -0.5 -6zM544.5 592l0.5 2 -1 2 0 2.5 -2 3.5 -0.5 -0.5 0.5 -3 -3.5 1.5 0 5 -0.5 0.5 -1 -7 3.5 -1 1.5 -4 1.5 -1.5zM572 591.5l-1 1 0 4 3 4 0.5 3.5 0.5 -1 -1 -3 -3 -4 0 -1.5 2 -3zM510.5 590.5l1.5 0 2 2.5 -3 3 0 1 2 1 -0.5 0.5 -1.5 0 -1.5 -1.5 0 -1 3 -3 -1 -1.5 -1.5 -0.5zM470.5 592l2 -1.5 2.5 0 0.5 0.5 -0.5 3.5 -0.5 0.5 -0.5 -0.5 0 -2.5 -2.5 0.5zM557.5 589l0.5 2 -1.5 1 -0.5 -0.5zM531.5 588.5l4.5 4.5 -0.5 1.5 -1.5 -1.5 -2.5 -0.5 -1 -1 0 -2zM545.5 587.5l1 2.5 2 1.5 -0.5 0.5 -1.5 0 -1 -1 -0.5 -2zM455.5 587.5l1 2 -1.5 1.5 -0.5 2 3.5 -0.5 2.5 0.5 -0.5 4 1.5 1.5 -0.5 3.5 -2.5 -2.5 -2.5 -1 -1.5 -1.5 -1 -3.5 -1.5 0 -1.5 -1 0 -1zM446.5 587l1 3.5 2 0.5 -1.5 1 0 1.5 2.5 1.5 -0.5 0.5 -1.5 0 -2.5 -2.5 -3 -0.5 3 -1zM558.5 591l0 -3 1.5 -1.5 3 0 2 1.5 0 1 -3.5 2.5 -2 0.5zM491.5 586l4 4 1 4 5 1 1.5 2 0 3 -2 2 -2.5 0 -2 -3 -1.5 -1 0 3.5 1.5 2.5 -0.5 5 1 1.5 0 1.5 -1 1 -2.5 0.5 -3 -1.5 -0.5 -5 -2 -2.5 1.5 -2.5 -0.5 -4 -4 -1 -2.5 2 -2.5 0 -1.5 -1.5 0 -1.5 1 -1 3.5 -0.5 1 -1.5 0 -1.5 3.5 -0.5zM465 586l1.5 1.5 0 1.5 -3 2 -1.5 -2.5 1.5 -2.5zM450 585.5l0.5 2 -2 2 -1 -2 1.5 -2zM520.5 584l0.5 1 -2 3.5 0.5 2 1.5 0.5 2 -1.5 2 0.5 4.5 3.5 0.5 1 -0.5 2.5 -1 -2.5 -4.5 -3 -3 1.5 -1.5 0 -1 -1 -0.5 -4.5zM469 583.5l-0.5 1.5 2 0.5 0.5 -1.5zM511 582l0.5 1.5 -2.5 2 -0.5 -0.5zM483.5 579.5l2.5 -0.5 1 1.5 -0.5 3.5 0.5 3 3.5 -3.5 1.5 0 1 1 -3 0.5 -1 2 -2 1.5 -2 -2 -1.5 -0.5 1 -1 -1 -2 0.5 -0.5 1 1 1 -1 0 -1.5zM481 579l1 1 0.5 5 -3.5 2.5 -4 0 -1.5 -1.5 0.5 -2.5 2 -1 3 -3.5zM516.5 576.5l1 1.5 -0.5 4 -1 1 -1.5 0 -2 -1.5 -1 1 -0.5 -1 1 -1 3 1.5 1 -0.5 0 -3.5 -1 -1.5 0.5 -0.5zM474.5 575l3 -0.5 1 1 0 1.5 -0.5 0.5 -1 -2zM462.5 574.5l1 1 0 3 -1.5 2 -1.5 0.5 -2 -2 0 -3 1.5 -1.5zM509 575l0 1.5 -1 1 -1.5 -0.5 1 -0.5 0 -1 -1.5 0 -1 1 2 1 -0.5 0.5 -2 0 -1 -1 0 -1 2 -1.5 2.5 -0.5zM457 574l0.5 2 -0.5 2.5 -2 2 -3.5 0.5 -3.5 -3 0.5 1.5 3 2.5 2.5 0 2 -1 1.5 -4zM531.5 571l2.5 1 3 -0.5 0.5 0.5 -4 1.5 1.5 3 4.5 3 4 0.5 0 1.5 -2 3.5 -0.5 -2.5 1 -1.5 -2.5 0 -4.5 -2.5 -2 -3 -1.5 0 -1 2.5 2.5 1.5 -0.5 1.5 -1 0 -1.5 -2 -2 1 -1 -0.5 2 -1.5 1.5 -3 2 -1.5 -1.5 -2zM476.5 570.5l1 1 0 1.5 -1 1 -2.5 0 -0.5 -1.5zM417 571l-1.5 0 -1 3.5 -3.5 2 0 1.5 2 2.5 0 2.5 0 -2.5 -1.5 -2.5 0 -1.5 3 -1.5 0.5 -2 1.5 -1.5 2.5 2 -1.5 -1zM413 570.5l1 1.5 -0.5 1.5 -1.5 1 -2 0 -0.5 -0.5 0.5 -2.5 1.5 -1zM480 570.5l-1 1 0 1.5 2 1 0 -3.5zM411 570.5l-1.5 1.5 -0.5 8 2.5 4 2.5 2 -2.5 -2.5 0 -2 -2.5 -2 0.5 -4 3 -1 1.5 -1.5 -0.5 -2.5zM505 569.5l2.5 0 1 1 0 2.5 -5.5 2.5 -0.5 1.5 1 1 4.5 -0.5 2.5 -3.5 2 0 2 2 1.5 3 0 1.5 -1 1 -1.5 -1.5 -1.5 0 -2 3.5 -3 3 0.5 3 -0.5 0.5 -0.5 -0.5 0 -1.5 0 2 1 1 4 1 0 1.5 -2.5 2.5 0 2 1.5 1 1.5 0 3 -1.5 1.5 0 2 2 -2.5 2.5 -6 0 -1 1 0 2 3.5 3.5 -4.5 3 0 1.5 2 2.5 -2 2 -1 0 -4.5 -5 2 -1 1.5 -2 0 -2 -1.5 -2.5 0 -1.5 2 -2 0 -2.5 -1.5 -1.5 -1.5 -3.5 -4 0 -2 -1.5 0 -3.5 -2.5 -3.5 0 -1.5 2.5 -3 0 -4.5 4 -6zM490.5 569l2 2 -0.5 3 -1.5 1.5 -2.5 0.5 -2.5 2 -2 0.5 -1 -1 0 -1.5 2.5 -2 0 -5 0.5 -0.5zM519.5 567.5l1.5 0 2 2 5 -0.5 2 3 -0.5 4 -5 5.5 0.5 0.5 3 -2 2 0.5 1.5 1.5 1.5 0 2 -2 1.5 0 4 3.5 0.5 2 4 3 0 1.5 -3.5 3 -0.5 2 -1.5 1.5 -1.5 -1 -1 -3 -5 -5 -1.5 0.5 -2 4 -1 0 -2.5 -2.5 -5 0.5 -0.5 -2 2 -4.5 1.5 -0.5 -0.5 -0.5 -4 3.5 -1 2.5 0.5 5 3.5 0 2 -1.5 1.5 1.5 3.5 1.5 0 2.5 -3 1.5 -1 5.5 5.5 5 1 2.5 4 3 0.5 2.5 -1.5 4 0 3.5 3.5 1.5 2 2.5 -2 2.5 -2.5 0 -1.5 -1.5 -1 -2.5 -1.5 -0.5 -3 1.5 -2.5 2.5 0 1.5 2 3 -3 3.5 0 1.5 3.5 3 3.5 -2 1 0 1.5 2 -0.5 7.5 -1.5 1.5 -2.5 1 -2.5 0 -1.5 -1.5 0 -1.5 1.5 -2.5 -0.5 -0.5 -4 0.5 -1.5 1 -2 -1 1.5 -3 0 -3.5 -5 1.5 -2.5 -2 0 -2.5 1.5 -1.5 2.5 0 2.5 1.5 1.5 -0.5 0 -2.5 -2.5 -5 -4 0.5 -1.5 1.5 -1 3 -2.5 2.5 -4 0.5 -2 -2 -2 -6 -3.5 -1 -2 -1.5 0 -1 2.5 -2.5 4 -2 1 -3 4 1.5 6 -5 0 -1 -2 -1.5 0 -1.5 4 -2.5 6 1 2 2.5 1 0 0 -1.5 -2.5 -4 -6 -0.5 -3.5 -2.5 8.5 -3.5 1.5 -2.5 2 0 0 -2.5 -1 -0.5 -1 2.5 -2 0.5 -8 -8 -4 -0.5 -1 -1 0.5 -2.5 4.5 -3.5 2 0.5 2 -0.5 1 -4.5 2.5 -2 0 -1.5 -2 -0.5 -2 1 -2 -3 2.5 -1zM465.5 568l-2.5 0 1 0.5 0 1 -2.5 2.5 -2.5 0.5 0.5 0.5 2 -0.5zM493.5 569l1.5 -2 1.5 0 1 1.5 0 1.5 -1.5 1 -1.5 0zM523 568.5l1 -2 1.5 1 -1 1.5zM474.5 566.5l1 1 -0.5 1.5 -6 7 -3 0.5 -2.5 -2 0.5 -2.5 2 -2 1.5 -0.5 2 -3zM408.5 567l1 1.5 -0.5 2 4 -2 -1.5 -1.5zM531 566.5l1 -0.5 3.5 1.5 2.5 0 1.5 1 -2.5 2 -4 0 -2 -1.5zM415 565.5l2 -0.5 0.5 1.5 -1.5 0.5zM527.5 564l2 3 -0.5 1.5 -2 -3.5zM480.5 564l1 1.5 -2 2 -0.5 -2.5zM478 564l0.5 0.5 -0.5 4 -2.5 1.5 -0.5 -0.5 1.5 -1.5 0 -2zM464.5 564.5l3.5 -1.5 1.5 2 0 1.5 -0.5 0.5 -2.5 -0.5zM521 562.5l0.5 3 -1.5 1 -2 0 -0.5 3 -1 -2.5 -3.5 0.5 -0.5 1 0.5 1 3.5 1 -0.5 0.5 -4 -0.5 -0.5 1.5 2 1.5 -0.5 0.5 -2 -0.5 -1.5 -1.5 1 -3.5 -0.5 -3.5 2 -2.5 4.5 0.5 -4 1 -0.5 2 5 0 0.5 -1 -1.5 -1.5 0.5 -0.5 2 2 2 0zM428 559.5l2 2.5 0 2 -2 1.5 -2.5 0 -0.5 -1.5zM422.5 560.5l1.5 -1 1 2 -2 0.5zM523 559l2.5 0.5 0 5 -1 1 -2 -1 -1 -2.5 0 -1.5zM518.5 561l-1 1 -3.5 0 -2.5 -1 -3 5.5 -1 -1 -0.5 -3 2 -3 4.5 -1 3.5 1zM408.5 558.5l2 1.5 0 2 -1 1 -1.5 0 0 0.5 1.5 0 2 -2.5 -2 -2.5zM421.5 555.5l1.5 -1.5 1.5 0 2 3 -4 0.5zM489.5 556l-1.5 3 -4 -0.5 -2 1 -6 5.5 -2.5 -3 0.5 -3 3 -1 3 -3 4.5 -2 3.5 1.5zM443 553.5l-3 0 -4.5 3 0 3 2 5 0 -2 1.5 -3 -1.5 0 -1.5 -2 3 -3 2 -1zM424.5 553l-2 0 -2 3 0 2 0.5 0.5 4 -0.5 1.5 1 0.5 1.5 -1 1.5 -0.5 -2 -1.5 -1 -2.5 1.5 1 2 2 0 1 -1 0.5 1 -2 1.5 -4.5 -0.5 -1.5 1 -2 0 -3.5 -1.5 -1.5 1.5 4.5 3.5 2 0 2 -2 2.5 1 4.5 -1 0.5 0.5 -4.5 2.5 -0.5 2.5 -1.5 2 2 -3.5 4.5 -3.5 4.5 -1 2 -1.5 3 3 -4 -8.5 -1 0.5 0 5.5 -1.5 1.5 -1.5 -0.5 1.5 -1 0 -4.5 -4 -6zM431 552.5l2 -0.5 0.5 2 -2 0.5zM526.5 552.5l2 -1 1 1.5 -2 1zM489.5 552.5l0 1 1.5 1.5 0 2.5 -2 2.5 -0.5 2.5 2 3 2 0 2 -1 3.5 0 1.5 1.5 1 2.5 4 0 1.5 -2 0 -6.5 3 -3.5 -0.5 -0.5 -4 0.5 -2 -3.5 1 3.5 1 0.5 2.5 -0.5 0.5 1 -1.5 2 -0.5 7.5 -1.5 1.5 -2.5 0 -1.5 -3 -1.5 -1 -6.5 0.5 -2.5 -2 -0.5 -2 3 -5.5 2.5 1.5 1.5 0 1 -1 -1 1 -1.5 0 -3.5 -5zM519.5 551l1.5 1 -0.5 3 -1.5 -1zM494.5 551.5l-0.5 1.5 0.5 1.5 1 0.5 1 -2 -1 -1.5zM481 552l-5 4.5 -2 -1 0.5 -3.5 3 -1 2.5 0zM434 551l-3.5 1 0 2.5 1 1 2.5 0 0.5 -1zM527 550.5l-0.5 4.5 3.5 0 -0.5 -3.5zM411 550l-2 7 3 2 1 -1.5 0 -2.5 -2 -2.5zM415 549l1.5 0.5 2 4 0 8 -1 1 -2.5 0 -1.5 -1.5 1 -3.5 0 -6.5 -0.5 -0.5zM503 551.5l2 2.5 1.5 0.5 3 -0.5 0 -1 -3.5 -4 0.5 1.5 2 2 -1 1.5 -2.5 -0.5zM415 548l-2 1.5 0 2.5 1.5 3 -1.5 6.5 3.5 1.5 2.5 -1.5 0 -6 1 -2 -2.5 -2.5 -1 -2.5zM473.5 549.5l3.5 -2.5 2.5 0 1.5 1.5 -1 1.5 -5.5 0.5zM522 549l0 -1.5 1 -1 2 0.5 -1 2 -1 0.5zM515 547l0 1 2 1 0 -1.5zM419 546.5l2 1 -0.5 3 -2 -1.5zM492.5 543.5l1.5 1.5 -0.5 2 -2 2 -2 0 -0.5 -0.5 0.5 -3 2 -2zM493.5 543.5l-2.5 0 -1.5 1.5 -2 3.5 0.5 1.5 2.5 0 2.5 -1.5 1 -2zM431.5 542.5l2 0.5 0 2 -1 1 -2 -0.5 0 -1.5zM533 542.5l-0.5 1 0.5 3.5 3 0.5 -3 -2zM528 542l-1 1 0.5 2 1 -0.5zM456 540.5l0.5 0.5 -4 3.5 -0.5 -0.5zM460 544l1.5 -1 2 -3 1.5 0 2 1.5 0.5 2 5.5 -1 4 1 2 1.5 -5.5 3 -3 3.5 -3 0 -2 -1.5 -1.5 -3 -3 -1zM496 544l3 -2 4.5 0 1.5 -2.5 6 -0.5 1 1 -2 2.5 -1 3 8.5 5.5 0.5 5 -2 1.5 -1.5 -0.5 -2 -2 -1.5 -3 -3.5 -2.5 -1 -3 -2.5 -2 -3 2.5 -3 1.5 -2 0 -0.5 -0.5zM471.5 539.5l1 -0.5 1.5 1.5 -1.5 0.5zM441 538l0.5 -0.5 1 1 2 -0.5 0.5 1 -2 1zM516 536.5l1 1 0 3 -3 3 -0.5 1.5 -1.5 0.5 -1 -1 2.5 -2.5 0 -2.5 1 -2.5zM519 536l2.5 0.5 4 3.5 0 3 -2.5 2.5 -3.5 -0.5 -1.5 -1 0 -6.5zM558.5 536.5l1 -1 1.5 0.5 -1 2zM516.5 536l-2.5 1 -0.5 4 -3 3.5 0.5 1 3 0.5 0.5 -1.5 2 -2 0.5 -1.5zM559 534.5l-0.5 2.5 1 1 1.5 0 1 -1 -0.5 -1.5zM504.5 532l1.5 1.5 3.5 1.5 1.5 2.5 -2.5 2 -4 0 -2.5 2.5 -5.5 0.5 -1 1.5 -0.5 5 2.5 0.5 0.5 2.5 1 -1.5 2 1 -3 -2 0.5 -1 2.5 -1.5 0.5 0.5 -1 1.5 1.5 2 -1.5 -2 1 -1.5 2.5 -1 1.5 1.5 -1 -1.5 -2.5 1 -1 -0.5 2.5 -2 1 0 2 2 0.5 2 4 3.5 3 4.5 4 0.5 1 -2 1.5 1.5 1 0 0.5 -3 2 3 -3 2 -0.5 3.5 -1.5 -4 -3 0.5 -5 -2.5 -4 5 0 6.5 -1.5 1.5 -5.5 1.5 -2.5 3 -0.5 1.5 0.5 4 -0.5 0.5 -1 -1.5 0 -1.5 -2 -1 -0.5 1 0.5 4 1 0.5 1.5 -2 0.5 1.5 -1.5 1.5 -2 0 -2 -3.5 -2.5 0 -1.5 -1.5 1 -1 3.5 -1 0.5 -1.5 2 -2 2.5 0 1.5 -2 -1.5 -3.5 -2.5 0 -2.5 2.5 -4 -1 -1.5 -3 -2 0 -2 3.5 2.5 2.5 -0.5 2.5 -0.5 -2 -1.5 -0.5 0 2.5 1.5 -0.5 0.5 1 -2 1 -1 2 -1 -2 -1.5 0 -1 -1 0 -3.5 3 -2 1.5 -5 3.5 -2 -1.5 -1 -2 2 -2.5 1 -1 -0.5 5 -4 3.5 0.5 2 -2 -0.5 -2.5 -4 -3 -4 2.5 -1 -0.5 2 -2 0.5 -2 2 -1 5.5 -6.5 5 -1 1 -2.5 2.5 -2 3 -0.5zM561 531.5l-1 0.5 0 1.5 1.5 0.5 1.5 2 0 1.5 -1.5 1.5 -2.5 0 -1.5 -1.5 -0.5 -2.5 -3 -0.5 2 0 2.5 4.5 3 0.5 1 1 -3.5 3 -1.5 -0.5 0.5 0.5 2.5 -1 1 0.5 -3 2 1 0 3.5 -3 3 0.5 -0.5 -1 -1.5 0 -1.5 1 -1 -0.5 2 -1.5 2.5 -0.5 -1.5 -4.5zM414.5 530l2 0.5 1.5 2 0 4.5 -1.5 2 -2 -1.5 -1.5 -4 0 -2zM413.5 529.5l-1 1.5 0 2 2 3.5 0 2 -3 3 1 -1 1.5 0 4 3 0 2 -6 1.5 -0.5 2 2.5 -2.5 2.5 0 1.5 1.5 0.5 2 2 1.5 1 -0.5 0 -3.5 -2 -3 2 -3 -3 -3 -0.5 -6.5 -2 -2zM553 528.5l-2 0 -3 2 1.5 0 1 1.5 0.5 -1 2 -1zM506 530l0 -1.5 1 -1 3 0.5 0 1 -2 2zM419.5 527.5l1.5 0 1.5 1 0.5 4.5 2.5 5 4 3 -2 4.5 0 4.5 -1.5 1.5 -2 -0.5 -1.5 -2 0 -2 3 -3 -0.5 -4 -5 -3 -0.5 -1.5 0.5 -2.5 -2 -3.5zM528.5 528l1.5 -1 2 0.5 1 1 0 1.5 -1 1 -1.5 0 -1.5 -1zM519.5 527l2.5 0.5 2.5 2.5 0 2 -1 2 -3 -0.5 -2 -2 0 -3zM546 530l5 -3 1.5 0 2.5 2 0 1 -2.5 2.5 0.5 1 4.5 -0.5 2 -2.5 -7 -3.5 -1.5 0zM517 527.5l0.5 1.5 -0.5 3.5 -1 1.5 -3.5 2.5 -2 -0.5 -4.5 -3 0.5 -1.5 3 -1 2 -2.5 3.5 -1.5zM493.5 528.5l1.5 -2 1.5 0 1.5 1.5 0 1 -1.5 1 -2 0zM411.5 527l-0.5 0.5 0.5 1 -0.5 5.5 1.5 3 -1.5 1 0 1.5 2 -1.5 0 -2 -1.5 -2.5zM482 526.5l1 1.5 0 1.5 -1.5 1.5 -2.5 0.5 -2.5 3.5 -1.5 0 -1.5 -1 0 -2 3.5 -2 0.5 -2.5 1.5 -1.5zM420.5 526.5l-2.5 1 -0.5 2 2 3 0 5 4 3.5 0 2 -1.5 2 0.5 5 1 1.5 5 2.5 0.5 -2.5 4 -2 0 -1 -4 -1.5 -0.5 -2.5 1.5 -2.5 0 -2 -4 -3.5 -1.5 -3 0 -2 1 -1 3 -0.5 1.5 -1.5 0 -2 -2.5 0 -3 1.5zM445.5 524.5l1 2.5 2 2 0 1.5 -2.5 5 -0.5 -2 2 -3.5 -2.5 -3.5zM469.5 524.5l0.5 -0.5 3.5 2 1.5 2.5 1 -1 0 -2 -1 -1 0.5 -0.5 1 0.5 1 1.5 -0.5 3 -1 1 -2 0 -1 -2zM442 524l1.5 0 1.5 1.5 0 2.5 1 1.5 -1 7 -1.5 1.5 -1.5 -1 0.5 -5 -4 -1.5 -1.5 -1.5zM527.5 524l-1 0.5 -0.5 2.5 -1 1 -1.5 0 -3 -1.5 -2 1 0.5 5.5 5.5 4 1.5 -1 0 -4 1.5 -2 2 1 3 0 0.5 -1 0 -2 -3 -1zM503.5 523.5l1 1 -0.5 1.5 -1.5 -1zM496.5 523.5l-3 1 -1 1.5 -1 6 3.5 -0.5 -2 0 -1 -1.5 1 -4 2 -1.5 2 0.5 2.5 2.5 0 1.5 -2 1.5 -0.5 -0.5 1 -1 0 -1.5 -1.5 -1.5 -1.5 0 -1.5 1.5 0.5 2.5 4 0.5 2 -1.5 -0.5 -2zM438.5 523l1 1 0 1.5 -3 2 -1 2 1 1.5 3 0 2 1.5 0.5 1 -1 4.5 -0.5 -5 -1.5 -1 -3 0.5 -2 -3 0 -1 4.5 -3.5 -0.5 -1zM512 523l-0.5 3 1.5 0 1 -1zM484 526.5l0.5 2 -0.5 2.5 -2 1.5 -2 0 -1 2.5 -1.5 1.5 -3 0.5 2 1.5 3.5 -1.5 3.5 3.5 -3 1 -2.5 1.5 -8 -0.5 -2.5 -2.5 -4.5 -2 0.5 -1 1.5 1 2 0 4 3.5 7 -0.5 -0.5 -1 -8.5 -4 -1 -1 0 -2 2 -1.5 2 0 1 1 0.5 2.5 3.5 0 2.5 -3.5 3.5 -1 0 -3.5 -4.5 -3 0.5 -2.5 1 2 1.5 0.5zM441.5 522l0.5 -0.5 2.5 1.5 1 1.5 -0.5 0.5 -2.5 -1.5zM489.5 516l0.5 -0.5 1.5 0.5 0.5 1.5 -1.5 0.5zM436 515.5l-1.5 1 0 1.5 2 -0.5zM418 506.5l-1.5 -1.5 -1.5 0 -2 1.5 3 -1.5 1.5 1.5 0 1.5 -2.5 2 -2 0 4 -0.5 1.5 -1.5zM413.5 516.5l1.5 1.5 0 3.5 -2 3.5 0.5 3 6.5 -3 5.5 1 4.5 -1.5 1.5 -4 1.5 -1.5 1 -4 2 -1.5 1.5 2 0 3 3 1 -2 0.5 -1 2 -1.5 -2.5 -1 0.5 -1.5 2.5 -0.5 4.5 -4 4 -3 1.5 1 3 5 4 0 2 -2 2.5 0 1.5 1 1 2.5 -0.5 0.5 -3 1 -1 2 1 0.5 2.5 -2.5 3 0 2 5 1.5 3 -2 1.5 0 2.5 3 3 -0.5 -0.5 -0.5 0 -6 2 -2 1 0.5 -2 2 0 1.5 1 -2.5 5 -2.5 1.5 3.5 5 2.5 2.5 3.5 0 1.5 -2.5 3.5 4 -4 -3.5 -4.5 -3.5 -1.5 -2 -2 0 -2 2 -2.5 -4 -0.5 1 -1 3.5 0 1 2 -2.5 3 0.5 1 4 2 3.5 4 4.5 1.5 3 4 2 -0.5 1 0.5 -1 1 -3.5 1 0.5 2 -0.5 1.5 -4 -7 -2 0.5 -3 2.5 -0.5 1 1.5 -1.5 3 -1 4 4.5 1 3 -1.5 0.5 -2.5 -4 -4.5 1 4 -0.5 3 4 2 -1 -0.5 -1 0.5 -1.5 1 1.5 0 2 -1.5 1 -2 0 -3 -3.5 -3.5 1 -0.5 1.5 3.5 1.5 0.5 1.5 -3 2 -2.5 3.5 -3 0.5 -1 1 -0.5 6 4 2 3 0.5 1 -0.5 0 -2.5 1.5 -1 0 -2 2 -2 0.5 2.5 3 0.5 0 -2.5 1.5 -1.5 0.5 0.5 -1 1.5 1 1.5 2 1 -0.5 1.5 -1 -1.5 -1.5 0 0 1 2 1 -2 0.5 -2 -2 -2.5 0 -0.5 0.5 3.5 3.5 -1.5 2.5 -2 0.5 -1 1.5 -1 -3.5 -4.5 0 -0.5 3 -0.5 0.5 -1 -2.5 -1.5 0 -1 3.5 -1 -3.5 -1.5 0 -6 5 -0.5 -0.5 2.5 -3 4 -3.5 -0.5 -0.5 -5.5 0 -1.5 1.5 -1 2.5 -0.5 -4 -3.5 -1 2 0.5 1.5 2 -1 5.5 -4 2.5 -1.5 0 -2.5 -4.5 1 3.5 1.5 1.5 1.5 0.5 -0.5 0.5 -1.5 0 -3 -3.5 3 4 1.5 0 2 -1.5 2 0 1.5 1 0.5 2.5 -1 1 -8 1 1 0.5 5 -1.5 1.5 0 1.5 1 0.5 1 -0.5 1.5 -1 -2 -1.5 -0.5 2 1.5 1 2.5 3 2 -2 2 0 3.5 3 2.5 -1 2 0 4 2 0.5 1 -1 0 -2.5 -2 -3.5 2 -4 1.5 -1.5 3 0 1 1 -1 5 0.5 4.5 2.5 0.5 2.5 -1 1.5 2.5 -1.5 2.5 -3.5 0.5 -1.5 2 5.5 3 1.5 -1 3 0 1 1 0 1.5 -4.5 3 -2.5 0 -4 -2.5 -1.5 -4 -2 0.5 -4 -0.5 -1 -2 0 -2.5 -2.5 -0.5 -5 -3.5 0 -1.5 2.5 -1 1.5 -1.5 -0.5 -1 -2.5 0 -2 3 -2.5 -0.5 -1.5 -1.5 0 -2 1.5 -2.5 0.5 -3.5 -0.5 -1.5 -2 -0.5 -1.5 -1.5 0 -1.5 1.5 -0.5 -1.5 0 0 2 3.5 3 0 3.5 -2.5 4 0.5 1.5 -0.5 1 -1 -1 0 -2 2 -5.5 -3 -3.5 -0.5 -1.5 2.5 4.5 0 2.5 -1.5 1.5 -1 4 -1.5 0.5 -1.5 -3 3 -1.5 -1 -2 -1.5 -0.5 -1 2.5 -3 0 -1 -1 1 -2 3 -0.5 0 -1.5 -1 -1.5 1 1.5 -0.5 1 -3.5 1.5 -0.5 1.5 0.5 1 2 0 2 1.5 0.5 3 -1 1.5 -3 1.5 -0.5 -1 2.5 -1.5 1 -1.5 -1 -2 -2.5 0 -1 2 -2.5 2 -0.5 1.5 -0.5 -2.5 -2.5 -0.5 -1 -1.5 0 -1.5 1 -1.5 -0.5 -0.5 -2.5 0 -2.5 1.5 0 3 4 2 -0.5 3 1 1 1 -1 1.5 0.5 -1.5 1.5 3 -2.5 1.5 -3 1 -0.5 1.5 0.5 -1 4 -3 4 1.5 -0.5 1 -1.5 0.5 2 -2 1 3.5 3.5 3.5 0.5 1.5 1.5 0 1 -1 0.5 1.5 1.5 2 -1 1 1 -1.5 1.5 0.5 1 2 -2.5 0.5 1.5 -1 2.5 2 -5 1.5 -1 3.5 0.5 1.5 1.5 1 2.5 3 1 0 2 -2 1 -0.5 1.5 2.5 3 1 4.5 -2.5 2.5 3 -2 -1 -3 0 -4 1 -1 5 -1 1 -1 1 -5.5 3.5 -0.5 4.5 1.5 1 2 -0.5 0.5 -1.5 -1.5 -2.5 -1 -2.5 0 -1 1 0 4 1 1 5 2 2.5 -0.5 0.5 -2 -1.5 -2 0.5 -1.5 3 4 2 0 1 1 1.5 4 -2 3 -1 -1.5 0 -2.5 -1.5 -1.5 -6 0.5 -2.5 -1.5 -1.5 0 -1 1 -0.5 3.5 -1.5 2 5.5 0 0.5 0.5 -0.5 1 -2 1 0 4.5 2.5 0 2.5 -2.5 2 0 2 1.5 0.5 -0.5 -4 -3.5 -1 -2.5 -5 -0.5 -1 -1 0.5 -3 2 -1 3.5 2 4 0 1.5 2 0.5 2.5 1.5 1 1 -0.5 1.5 -3 2 -2 -2.5 -2.5 0 -1 1.5 -1 1.5 0 2 2.5 3 2 -3 4.5 -0.5 5 2.5 -0.5 1 -1.5 2 -1 2.5 2 -0.5 -1 0.5 -1 1.5 2 -0.5 -2.5 -5 -1 -0.5 -1.5 4 -5 1 -3.5 2 -3 5 -2 3 -2.5 2.5 0 2 1.5 0.5 5 -2 1.5 -3.5 -1 -2 1 -5 6 0.5 4 3.5 1 1.5 1.5 2.5 -0.5 0.5 1.5 2 0 2.5 3.5 1 0 -0.5 -1 0.5 -1 1 0.5 1.5 -1.5 0.5 0.5 -1 1.5 0.5 1 2 -3.5 -3 -5 0.5 -5.5 1.5 -1.5 3.5 -0.5 1.5 1.5 1 2.5 -0.5 3.5 2.5 -3 2 0 1 1 0.5 4.5 3.5 1.5 2 3 4 1.5 3 -1.5 3 0 1 1 -1.5 4 0 4.5 -1.5 2.5 0.5 2 1 0 -0.5 -1.5 3 -2.5 0 -1 -1.5 -1 0.5 -1 2.5 2 -2 4 1 2 -0.5 -2 2 -4 -3 -3 0 -1 1 -1.5 2 0 1.5 1 1 -1 0.5 -4 1 -1 2.5 0 2 2.5 0 4 -3.5 5 0.5 4 -1.5 3 1.5 -2 0 -5.5 0.5 -0.5 0.5 0.5 0 6.5 -1 1.5 1 -1 0.5 -2 -0.5 -4 2.5 -4.5 -0.5 -2 0.5 -4.5 0.5 4 0 -1.5 1 -1.5 3 2 4.5 1 0.5 1 -0.5 5.5 3 2 -1.5 2.5 -3.5 0.5 -1 1 2.5 5 -2.5 2.5 1 0.5 -1 0.5 2.5 -1 1 -1.5 -1 -5 1.5 -1 3 0.5 2.5 1.5 0 4 -4 4 4 -4 0.5 1.5 -2 2 2 -2 1.5 -3 1 0 1 1.5 0.5 4 0.5 -2.5 -1 -3.5 -1 -1 -1.5 1 -1 2.5 -0.5 -0.5 0.5 -3 3.5 -4 1.5 1 1 4 7.5 -0.5 1 -3.5 3 -1 2.5 2 0 1.5 -1.5 1.5 -3 0.5 1 3.5 4.5 2.5 3.5 0 2.5 4.5 3 3.5 3.5 0 1 1 1 0 0 -1.5 3.5 -4 5 -3 1 0 1.5 1.5 -0.5 3 -2.5 2.5 -0.5 1.5 1 0 0 -1 2.5 -2 0 -5 -3.5 -0.5 -1.5 1 -2 0 -2.5 -4.5 -3.5 -1.5 -3 1 -2 -1 -0.5 -4.5 1.5 -1.5 2.5 -6 1.5 -1.5 -0.5 -4.5 -5.5 4.5 1 6 -1 3 -4 -0.5 -3 -3 -1 -2.5 -3.5 -0.5 -2.5 -2 -1 0 0 2 1.5 1.5 -1 2 -6 -4 0 -1.5 3.5 -3 0 -3 -4 -4.5 0.5 -1.5 1 2 3.5 2.5 0.5 5 2.5 0.5 1 2 1.5 1 3 0 2 4 2 2 2 0 1 -1.5 -1 -7 -1.5 -2 -0.5 -2.5 -4 -0.5 -1 -1 0.5 -0.5 3.5 0.5 1 -2.5 0.5 3 2 1.5 0.5 1.5 2.5 0.5 2 -3 -1 -3.5 0.5 -0.5 1.5 2 2 0 1.5 -2 0.5 2 -2 2 0 3.5 1.5 2 1.5 0 2 -4 1.5 -1 4.5 1 2 2 5.5 1.5 1 1 0 4 1.5 2 -0.5 1.5 -3 -3 0.5 -4 -2 -1.5 -3 0 -1 4 -2.5 0.5 -2.5 -3 1.5 -2 2 -1 -1.5 -1.5 -2.5 0 -1.5 3 -2 2 -2 0 0.5 8 3 2 2 0 3.5 -1.5 3.5 -4.5 2.5 0.5 -0.5 4.5 -1.5 -3 -4 4.5 -5.5 2 1.5 4 3.5 0 4.5 -2 1 1 -2 2.5 0 3 3.5 3 0 1.5 1.5 -1.5 2 1 -3 -3.5 0 -2.5 4 -3 -0.5 -2 -4 -3.5 0.5 -0.5 2 1 3.5 3.5 4 -2 1.5 2 -0.5 0.5 -1 -1 -1.5 0 -1 1 0 1.5 3 1.5 1 -3 0.5 2 2.5 1 -2.5 1 -3 3 -0.5 -0.5 1.5 -2 -3.5 -2.5 -1.5 0 -3.5 3 3 4 2 0 1.5 -2 0.5 0.5 -0.5 1.5 2 -2.5 1.5 0 0.5 1.5 1.5 -1 2.5 0.5 1.5 -0.5 -4.5 -0.5 -1 -1 1 -1.5 2.5 -1.5 0.5 -1 -0.5 -1.5 2 -1 -1 -0.5 0.5 -0.5 2.5 1 3.5 4 1.5 0.5 2 -0.5 -3.5 -0.5 -3 -3.5 -1.5 -0.5 2 -0.5 3 3.5 2 0.5 1.5 -0.5 0 -2.5 -1 -2 1 -4.5 -1.5 -1 -3 0.5 -4 -1.5 -2 0 -3 4 -3.5 0 -2.5 1 -1.5 0 -1.5 -1 -0.5 -1 0.5 -2.5 1 3 3 0 5 -1.5 0.5 -3 1.5 -1.5 0 -5.5 -0.5 -1 -4 1 -0.5 -0.5 3.5 -2 3 1 -0.5 4.5 1.5 1 1.5 -1.5 0 -1 -2 -3 2 -2.5 1.5 -1 3 0 2.5 1 0.5 2 -2 4 1.5 1.5 3 0.5 3 3.5 3.5 0.5 3.5 6 -0.5 -2.5 0.5 -1 4 -0.5 4 -2.5 1 -7.5 4.5 -0.5 -4 -3 -0.5 -2 1.5 -1.5 4 0 -0.5 -1.5 0.5 -5 -0.5 0.5 0.5 2.5 -1.5 1.5 -3.5 1 -2.5 2.5 0 3 -1 1 -2 -1.5 0 -4 -1 -4.5 -4.5 -3.5 -2.5 -1 -2 -2 2.5 -3 2 0 4 4 6.5 -0.5 4 -2.5 1.5 0 -1.5 -1 1 -0.5 0 -1.5 -2 -4.5 -2.5 1 -0.5 3.5 1 1.5 2.5 1 -0.5 0.5 -5 -0.5 -3 3 -1.5 0 -2.5 -2 0.5 -1 2.5 1.5 1.5 -1 0.5 -1.5 -3 -6 -3 -0.5 0 3.5 1.5 3.5 -0.5 1 -3 -3.5 -1 -4.5 -2 -1 -1.5 1.5 -1 3 0.5 0.5 3 -0.5 1.5 1 -0.5 2 -2.5 2 -0.5 1 0.5 1 5 3 1.5 2 2 0.5 1.5 2 -0.5 4 -1 1 -1.5 0 -1.5 -1 -1 1.5 0 2 1.5 0.5 2.5 -1 3 2 -0.5 0.5 -2 -0.5 -5.5 0.5 -1 -1 0 -5 1.5 -4.5 0 -2.5 -1 -1 -3.5 -1.5 -2 -2 -1.5 0 -1.5 2 -2 1 -4 0 -1 -1 0 -2 2 -2 1.5 0 3 -1.5 1.5 -4.5 2.5 -4.5 -2.5 2.5 -2.5 6 -2 1.5 -2.5 0.5 -1 1.5 -0.5 3 -2 1 -2 -1.5 -0.5 -3 1.5 -3.5 3 -3 -0.5 -5 0 3 -1.5 2 -2 -0.5 -2.5 -2 0 -2 2 -2 -4.5 4 -1.5 -0.5 -1 -1 0 -3 2 -2.5 -1 0.5 -1 2 -0.5 -1.5 1 -2 -1.5 3 0 2.5 -2 2 -3.5 -3.5 -0.5 -3.5 1.5 -1.5 3 -0.5 1 -1 -5.5 1.5 -2.5 -3.5 0 -3.5 0.5 5 -0.5 2 -1.5 0 -2 -2 -2.5 0 -2.5 4.5 -1.5 0 -4 -2.5 0 -2.5 2 -2.5 2 0 1 -1 0.5 -3 -1 2 -3.5 2.5 -2.5 4.5 -3 -0.5 -1.5 -2.5 1 2.5 4 1.5 0 3 -3 2.5 -3.5 -1.5 -1 -3 0.5 -4 -0.5 6 -1 1 -1.5 0 -1.5 -2.5 1 2.5 2.5 1 1.5 2 0.5 3 -1.5 1.5 -2 -0.5 -4 -4.5 -2.5 -1 0.5 0.5 0.5 -0.5 3.5 3 -0.5 1 -3 -2.5 3 2.5 1 2 1.5 0.5 2 2 0.5 2 -1 1 -3.5 0.5 -1.5 2 -1.5 0 -2 -2.5 -4.5 -1.5 -9 -8.5 -0.5 -1 0.5 -1.5 4 -2 -5 2.5 0.5 1.5 4 4.5 5 4.5 4.5 1.5 1.5 2.5 3 0.5 1 1 -0.5 3 -1 -2.5 -1 -0.5 -2.5 0.5 -1 6 -1.5 -1.5 -3 2 -2 -2.5 0.5 -1 1.5 1.5 1 0 2 -4 2 -1.5 0 -1.5 -3 -2 -3 0 -1.5 4 0 2 1 1 -0.5 1 -2 -2.5 1 -4.5 -2 -1 -1.5 0.5 -3.5 3 -0.5 2.5 -1 1 -3.5 -3.5 -1.5 0 -2.5 1.5 -5.5 -0.5 -2 2.5 -0.5 -3 -2 1 0 1.5 2.5 0.5 -1.5 1.5 -1 0 -1.5 -3 1.5 -2 2.5 -1.5 1 -2 0.5 0.5 -0.5 2.5 6 1 4 -2 3 0 -0.5 -5 1.5 -1 4 0.5 2 1.5 2.5 0 0 -0.5 -2.5 -2.5 -0.5 -1.5 -5.5 -5 0 -3 -2.5 -4 -0.5 -3 -2.5 0 -2 1.5 -2 0 -1.5 -1.5 0 -2.5 -2.5 -6 0 -2.5 -0.5 -1 -2.5 -0.5 3.5 -0.5 1 5.5 0.5 0.5 2.5 -0.5 1 1 1 3 -2 1.5 -0.5 1 0.5 1 1.5 0 2.5 -2 3.5 1 6 -0.5 2 1 0.5 -0.5 -0.5 0.5 -2 -1.5 -6 0.5 -2 -1 -4 -4 -0.5 -1.5 -3 -2.5 -1 -4 -5.5 0.5 -3.5 -2 -0.5 -2 2 -3 0 -4.5 2 -3 4 0.5 7 -0.5 1 1 0.5 4 2.5 2 1.5 4 0 1.5 -3 3 3.5 2 8 2 -7.5 -2 -2.5 -2 1.5 -2 0.5 -3.5 1 1.5 -1 3.5 0.5 1 5 1.5 3 0 -6 -1 -1.5 -1.5 0 -4 -1.5 -2.5 2 -4 0 -4 2.5 -1.5 0 -3.5 -0.5 0 -0.5 2.5 -3.5 2 2 2.5 0 2 -2 2.5 -0.5 2.5 -0.5 -3.5 1.5 -1 0.5 -2 -1.5 -0.5 -0.5 2 -2 1 -1 -1 0 -3.5 6 -3.5 0.5 -1 -0.5 -1.5 -3 -1.5 -2 0 -2 3 -0.5 -0.5 0.5 -2 2.5 -2 1.5 0.5 -5.5 -3 -2 -2 0.5 1.5 3 1.5 1 1.5 -2.5 6 -1.5 1 -5.5 0 -2 -1 -5 -6 1.5 -3.5 -0.5 -2 -3 -0.5 -3.5 -3 0.5 -1.5 4 -2.5 2.5 0 5 5 4 2 -0.5 -1 -1.5 0 -2 -2 0 -1.5 1.5 -0.5 -0.5 -4 -0.5 3 -2 0.5 -4 -3.5 -3 1.5 -0.5 -0.5 1.5 -1.5 0 -1 -1.5 -1 -4 -0.5 4.5 -0.5 2.5 1 0.5 -0.5 -0.5 -3.5 -5 -1 -2.5 0.5 -2 2.5 -0.5 -1.5 3 -2.5 2 -0.5 4.5 0.5 2 2.5 0 5 2.5 2.5 1 0 2 -3.5 1.5 -6 -1 4.5 -1 2 -2 1.5 -2.5 -2 -0.5 -5.5 -3 -3.5 0.5 -2 4.5 -1.5 -5.5 0.5 -4 4 -3.5 -0.5 -4 0.5 -0.5 -0.5 3 -2 4 1 5 -5 2 0 -2.5 -0.5 -2 3 -2 1.5 -6 -1 -1.5 2 -1.5 0.5 -1.5 -1 -1 -2 -1.5 0 -1.5 -2 0.5 -2.5 3 -1.5 1 -2 5 -2 -1.5 -3 0 -2.5 2 -1 -1.5 0 -1 1.5 1 3.5 -0.5 1.5 -1.5 1 -3 0 -0.5 -0.5 1 -4 -0.5 -3 -1.5 -0.5 -3.5 -3 -1.5 -0.5 -0.5 0.5 -0.5 6 -1.5 4 2 1.5 0.5 2 3 0.5 -0.5 4 -1 -3 -1.5 0 -1 1.5 -0.5 -1.5 -2 -0.5 -2.5 -2.5 -2 -0.5 -1.5 -1.5 0 -2 2.5 -2.5 1 -4.5 1.5 -1.5 2.5 -1 0.5 -1 -0.5 -7 1.5 -1 5.5 0.5 0 -1.5 -7 1 -3 -2 2 2.5 -2 1.5 -3.5 0.5 -0.5 -0.5 0.5 -4.5 -0.5 3 -1.5 1.5 -2.5 0 -1 -3 -3 -2 0 -2.5 -1 1 -1.5 0 -0.5 -1 1.5 -0.5 -1.5 0.5 -0.5 -1 0 2.5 3 1.5 0.5 3.5 3.5 1.5 0 3.5 -2 1 -2 4 -4.5 1.5 -2.5 3.5 -6 2 -1 2.5 -2 2 -3 0.5 -2.5 -2.5 0 -1 1.5 -1.5 4 -1.5 2 -4 -1 1 -3 0 -3.5 -3.5 0 -1.5 4.5 -1 0 -7.5 1 -1 0 -3.5 1 -1 5 1 1.5 -1 0.5 -3 -0.5 1.5 -0.5 -2 -5 -1.5 -0.5 2.5 -0.5 -2.5 -0.5 0 -2 4.5 -3 2 -2.5 -1 -1.5 -2 -0.5 0.5 0.5 0.5 -1.5 1 -0.5 4.5 -0.5 -4.5 -0.5 0 0 2.5 -1.5 1.5 -1 0 -1.5 -2 -0.5 2.5 -0.5 -2 -1 0.5 0.5 2.5 3.5 3 0 1 -4.5 3 -0.5 3.5 -1.5 1 -2 -1 -2 -4 -2.5 -2.5 0 -4.5 -0.5 2.5 -1.5 -3 -1 0 -1.5 1.5 -0.5 -0.5 0.5 -1 -1 2.5 -2 -0.5 -1 -2 -0.5 1 -0.5 -0.5 0.5 -2 -2.5 -3 0 1 2.5 2 -0.5 1 -3 -2.5 -0.5 -1.5 0.5 2.5 3 1.5 1 3 1 -0.5 2 0.5 3 -2.5 1 1 0.5 5.5 3 2.5 1 2 -0.5 3.5 -5 0 -7 6 0 5.5 -1 1.5 -1 0 -2.5 -2 -2.5 0 -2 1 -3.5 -0.5 -1.5 -1.5 2 -3 -0.5 -4 -2.5 -1 -3 -4 -2.5 -0.5 -2 -2.5 1 -2 3 -1.5 1.5 0 3.5 4 2.5 -1 1.5 1 -0.5 2.5 1.5 2.5 3 1 1.5 -1.5 1 -5 2 -2 0.5 -3 -3 -3 -0.5 -2.5 -1.5 -0.5 -2 -2 -0.5 -1.5 -3 -2 -0.5 -2 1.5 -3 -1.5 -1.5 -2 1 -1.5 -4 -2.5 -2.5 -1.5 -0.5 -1.5 -2 -0.5 3 0.5 0.5 2 -0.5 2.5 2 0.5 4.5 -2 6 -4.5 5.5 -2.5 0 -3 -3 -3 -0.5 -1 0.5 1 3.5 -1.5 1.5 -3 1 -1 -2 2 -3 0.5 -3 -0.5 -1.5zM412.5 502l0 2.5 1.5 -1 3 0 1.5 1 1.5 3 0 1.5 -1 1 -5.5 1.5 4 -0.5 3.5 -2 0 -1.5 -2.5 -3.5 -4.5 -0.5z"/>
<path fill="#e67300" fill-rule="evenodd" d="M619 681.5l2 0.5 1.5 1.5 0 1 -3 3.5 -1 0 -3 -4zM620 681l-4.5 2 0 2 3 3 1 0 4 -4.5zM622.5 678l1 0 1 1.5 -1 2 -1 0 -1.5 -1.5zM622 678l-1 1 0 1.5 1.5 1 2 0 -0.5 -3zM631 677l-1.5 1 -0.5 3 -0.5 -0.5 -2 1 -1 -2 0 1 2.5 1.5 -2.5 1 -0.5 1.5 -2 1.5 2.5 -1 0 -1 3.5 -2.5 0.5 -1 -0.5 -1.5 0.5 -0.5 0.5 0.5 -0.5 -1 0.5 -0.5 1 0.5 -1 -0.5zM569 678l0 1.5 2 1.5 -1.5 -1.5 0 -1.5 2.5 -2 3.5 0 2 3 2.5 1.5 -1.5 -0.5 -2 -3.5 -1.5 -1 -4 0.5zM566 674.5l-2 -0.5 -1.5 4 -3 2.5 3 -2.5 1.5 -3 2 1 0.5 4.5zM613.5 673l6 5.5 3 -2 1 0 1.5 2 -1 -2.5 -1.5 0 -3 1.5 -2.5 -2.5 -1.5 0zM610.5 671.5l7 7.5 0 1 -1.5 1.5 -2 0.5 -0.5 3 -1 1 -1 0 -1.5 -2 0 -1 3 -2.5 0 -1.5 -1 -1 -2 0 -3 2 -2.5 0 -1 -1 0 -1 3 -1.5zM578 672l0.5 1 2 0 0.5 -1 -0.5 -1 -1.5 0zM610.5 670.5l-4 4.5 -4.5 2 0.5 2.5 1 1 2.5 0 5.5 -2 1 1 -2.5 3 0.5 3 2 1 1.5 2.5 1 -1.5 2 1.5 -3 -3 0 -3 3 -2 1 -1.5 -1 -2 -4.5 -4 -1 -2.5zM617.5 671l0.5 3.5 8.5 0 1.5 -1 2.5 -3.5 2.5 0 2 1 4.5 0 0.5 0.5 -0.5 5 1 2 -1 2 -2 0 -3 -3.5 -2 0 1.5 0 3.5 3.5 3 -0.5 0 -2 -1 -2 1 -4.5 -1.5 -1 -3.5 0.5 -5 -1.5 -1.5 1 -2 3 -1.5 0.5 -2 -0.5 -2 1 -3 -0.5 -1 -1.5zM595.5 667.5l1 1 0.5 2.5 -0.5 1.5 -2 1 -1 -1 0 -1.5zM568.5 667.5l3 -0.5 2.5 1.5 2.5 2.5 -0.5 2 -3.5 1.5 -2.5 -0.5 -1.5 -1.5zM596 666.5l-1.5 1 -1 2.5 -0.5 4 1 0.5 3 -0.5 0 -6zM577 667l1.5 -1.5 1.5 0 2.5 2 0 1.5 -4 0.5 -1.5 -1.5zM606 663l1.5 -0.5 1 1.5 -2 1zM571.5 663l-0.5 1.5 1.5 0.5 0.5 -2zM631.5 662l1 1 -0.5 1.5 -1.5 -0.5zM609.5 663l1 -1 2.5 0 2 2 0 1 -1 1.5 -3.5 1 -1 -1zM593.5 662l0.5 3 -1.5 3 -1 0.5 -1 -2 0 -3zM607 662l-1.5 2 1 1 1.5 0 0.5 -2.5zM649.5 663.5l0.5 -1.5 2 -1 6 0.5 2 1.5 0 2.5 -2 2 -5.5 1 -2 -2zM627.5 661l1 1 0 4 -2 3 0 1.5 -5 2.5 -2 0 -1.5 -3 -0.5 -3.5 0.5 -3 1.5 -1zM545.5 660.5l0.5 1 -0.5 0.5 -0.5 -0.5 -2.5 3 0.5 4.5 -1.5 2.5 1.5 -2.5 0 -5 0.5 -0.5 1 3.5 -0.5 3.5 -0.5 0.5 1 -2.5 -0.5 -4 2 -3zM562 661l1 -1.5 1.5 1 -1.5 1.5zM605.5 659l1 1.5 -2.5 2 0 1.5 1 1.5 3.5 2 0 2 -2 2.5 -4.5 1.5 -3 -2 -0.5 -5 0.5 -1.5 3.5 -2.5 0 -2 1.5 -1.5zM579 659l1 1.5 -2 1.5 -0.5 -1.5zM642 658.5l2 0.5 4 3.5 1.5 3.5 0 2.5 -1 1 -2.5 -0.5 -2.5 -3.5 -3.5 -1 -1 -1 1.5 -3.5zM635 658.5l2.5 1.5 -1 4 2.5 2.5 3 0.5 1.5 1.5 -0.5 1.5 -2.5 -1 -6 0 -2 -1.5 2 -3 0 -2 -1 -2zM598 664.5l0.5 7 1.5 2 3 0.5 4.5 -2 1.5 -3 2.5 -1.5 1.5 1 0 3.5 0 -2 1.5 -1.5 1 0 1.5 1.5 -1 -1.5 -2 -1 1 -2 0 -2 -2 -1.5 -3 0 -1 4 -2.5 0.5 -2.5 -2.5 0.5 -1.5 3 -2.5 -1.5 -1 -2.5 0 -1.5 3.5zM595.5 659l-1 0 -4.5 4.5 1 7.5 3 -6 2 -2.5zM634.5 658.5l-1 1 1 4.5 -3.5 3.5 4.5 2 4 -0.5 3 2 0 1.5 -1.5 2.5 1 6 -1 -6 3 -5 4.5 1 2.5 5.5 0.5 -1 -2.5 -4.5 -4 -1 -2.5 -3 -3.5 -1 -2 -2 1 -4 -1.5 -1.5zM561 658l0.5 2.5 -1 1 -1.5 0 -1 -1.5zM661 655.5l1 2.5 1.5 1.5 -0.5 0.5 -2.5 -2.5zM516 655l3 1 1.5 1.5 0.5 1.5 -1.5 2 -2.5 -2 -2 -3zM550 655l1 -1 1.5 0 2.5 2 -1 1 -2.5 0 -1.5 -1zM578 653l1 0 1.5 1.5 1 2.5 3.5 0.5 1.5 1.5 0.5 2.5 2.5 4.5 0 2.5 -1.5 2 -1 0 -2.5 -2.5 -0.5 -4 -3.5 0 -1 -1 1 -2 0 -2 -1 -1 -1.5 0.5 -2 2 -1.5 -1.5 1 -3.5zM517.5 653.5l-1.5 0 -4 4 -1 2 2 0.5 2 2.5 0 1 0.5 0 -1.5 -3 0.5 -1.5 1.5 0 2 2 2.5 0 0.5 -1 0 -4zM567 651l1.5 1 1 3 3 2.5 0 3 -3 2.5 -2 4 -4 -2 0 -2 1.5 -2.5 -1 -1.5 -2.5 -1 0.5 -3.5 3 -1.5zM497.5 651.5l0 1 2 0 3 3.5 -1.5 -3.5zM611 651l-0.5 2 1 2.5 1 0.5 1.5 -0.5 -1.5 -2.5 0 -1.5zM539.5 650.5l-2 1.5 2.5 3 -0.5 2 -4 0.5 -1 1.5 0 2 2.5 2.5 -1.5 3 0 2.5 0 -2 1.5 -2 0 -2 -2.5 -2.5 0 -1.5 2 -1.5 3 1 1.5 -5.5 3 0 1.5 1.5 1 5.5 -1 -6 -1.5 -1.5 -2.5 -0.5zM594 649.5l2.5 0 1.5 2 0 1.5 -1.5 2 -2 -0.5 -1 -1.5zM632 649.5l-1.5 1 0.5 2 1 -0.5zM518.5 649.5l0.5 -0.5 2.5 0.5 1.5 -1 1.5 0 1 4.5 4 1.5 -3 0.5 -2.5 -2 -1.5 -2.5 -3 0zM549 647l-1.5 0 -1 2 1 0.5zM609.5 647l1 1.5 -2.5 2.5 0 1 2.5 5 4 1 1.5 2 -1 1 -4 -0.5 -2 -2 -7 -1 -0.5 3 -1.5 1.5 -1.5 0 -1 -1 0 -3 2.5 -2 -1.5 -3.5 0.5 -2.5 1.5 -1 1.5 0.5 2.5 -0.5 2 -3zM638.5 647l3 -0.5 1 -1 3 0 4.5 2.5 0 3.5 -2.5 7.5 -5 -4 -1 -2.5 -4 -4.5zM570.5 643l1.5 1 -1 4.5 3 3.5 -0.5 2 -2 0 -2 -4 -4 -2 0.5 -1.5zM636 643.5l0 1 1 0.5 2 -1 -1 -1zM575 642.5l-2 4 0 2 2.5 3 1 0 4 -6.5 -1.5 -2 -1 0 2 2 -2.5 4.5 -2 1.5 -2.5 -3 0 -1.5 2.5 -4 1.5 0zM615 642l2 -0.5 0.5 2 -2 1zM454.5 641.5l1.5 1 0 2 -1.5 1.5 -1.5 0.5 -1.5 -0.5 -1 -1.5 0 -1.5 1 -1zM495 641l2 -0.5 1.5 1.5 1 2.5 2.5 0 1.5 1.5 0.5 4 -1 1 -3.5 -0.5 -3 -4 -2 -0.5 -1.5 -1.5zM456 641.5l-1 -0.5 -3.5 0.5 -1 1 0.5 3.5 1.5 1 2.5 -1 1.5 -1.5zM528 638l1.5 0.5 0 2 -1 1 -1 0 -1.5 -1.5zM618 638l1 -1 0.5 0.5 7.5 0 0.5 1.5 -2 4.5 -2.5 1.5 -2 -1 -2.5 -3zM591.5 637.5l2 -0.5 2.5 1 2.5 2.5 1 2 0 2 -0.5 0.5 -3 -0.5 -4.5 -4.5zM566.5 639l2 0 2 1.5 1.5 0 -2.5 -4 0.5 1.5 -1 1zM545.5 636.5l-0.5 2 -2 2 -4.5 0 -2 -2 0.5 -1 2 2 3 0 2 -1.5 1 -2zM501.5 636.5l0 1 -1.5 1.5 -5 -0.5 -1.5 1 -4.5 6 0 2.5 1.5 1.5 3 0.5 1 1.5 2 -0.5 -1 -2.5 -4 0.5 -1 -1 -0.5 -1.5 0.5 -2 4 -5.5 1 -0.5 5 0.5 1 -1zM654 635.5l1 0 1.5 1.5 1 2.5 -1.5 2.5 -1.5 -0.5 -1.5 -2 0 -3zM628 635.5l1 1.5 -1.5 1 -0.5 -1.5zM659 635l1.5 1.5 -1 1.5 -1.5 -1.5zM550.5 636l1 2.5 -2 2.5 -0.5 2.5 -2.5 2 -1.5 -0.5 -0.5 4 -1 1 -3 -2 -2.5 0.5 -2 -0.5 1 -7 4 0 3 2.5 2 -3 0 -3.5 2.5 -2zM531 635l2 -0.5 1 2 -1.5 0.5zM459.5 635.5l1 -1 3 0.5 1.5 1.5 0.5 3.5 -0.5 0.5 -3.5 -0.5 -2 -2zM450.5 635.5l1 -1 1.5 0 1.5 1 0.5 2 -1.5 1.5 -1.5 0 -1.5 -1zM662.5 635l-0.5 1 0.5 3.5 4 0.5 0.5 -0.5 -1.5 -3 0 -1.5 -0.5 -0.5zM658.5 634.5l-0.5 3 2 2 1 -3.5 -1 -1.5zM475.5 633.5l-1.5 1.5 0 1.5 2 1 1 -1 0 -1.5zM458.5 634l-0.5 4 1 1.5 5 2 3 -1.5 -3 -5.5 -3 -1zM646.5 633l-1.5 3.5 4 0.5 -0.5 -4zM516 632l1.5 1.5 -1 1.5 -1 0 -1 -1.5zM475 632l1.5 0 1.5 2 0 3.5 -1 1 -3 0 -1 -1 0 -3zM472 632l1 1 -1 3.5 -1.5 1.5 -1.5 0 -1.5 -1.5 0 -1.5zM451 632l2 -1 1 1.5 -2.5 0.5zM658 631l-0.5 1.5 2 0.5 0.5 -1zM630.5 630.5l1 1 -1 2 -1 -1zM515.5 630.5l1.5 0 2 2 1.5 3.5 -1 1.5 -5.5 -0.5 -1.5 -1.5 0.5 -2.5 1 -1 1 3.5 3.5 0.5 -1 -3.5 -3 -1zM631 630.5l-2 1 0 1.5 1 1 1.5 -0.5zM507 629.5l1 0 1.5 2 -1 2 -1 0 -1.5 -2zM527 631l3 -2.5 1.5 0 1.5 2.5 3 2 1 4.5 -0.5 0.5 -1.5 -4 -2.5 -1.5 -1 -2 -1 -0.5 -2.5 2.5 1 1 0.5 2.5 -2.5 2 -0.5 -0.5 1.5 -1.5 0 -1.5 -1.5 -2zM655.5 628.5l-5.5 1.5 -3 0 2.5 0 1 1 1.5 0zM600.5 628l1 1 -1 4.5 -2 1 -1 -1.5 1 -1 0.5 -3zM507 628l-1 1 0 3 1 1.5 1.5 0.5 1 -0.5 0 -2.5zM599.5 627.5l-1.5 3 -3 3 0 1 6 4.5 1.5 0 1 -1.5 -1 -8.5zM551 629.5l1 2 -0.5 1 -1.5 1 -5 0.5 -1 3 -2 2 -3 0 -1.5 -1.5 -0.5 -3 2 -2 4.5 0 0.5 -2 3.5 -3.5 1.5 0.5zM490.5 627.5l2.5 -0.5 1 1 0 1.5 -1 1 -1.5 0 -1 -1zM478.5 627l1 0 2 3 4.5 0.5 1 1 0 1.5 -5.5 5.5 -3 -1.5 -0.5 -5 -1.5 -1.5 0.5 -2.5zM450 628l1 -1 4 0 1.5 1.5 0 1.5 -2 0.5 -4 -1zM554 627l-0.5 2 1.5 0.5 0.5 -1.5zM614.5 632.5l-0.5 3 -3 2.5 -0.5 1.5 4 2 1 3.5 1.5 0 1.5 -2 5 2 2.5 -2 1 -2.5 1.5 -1 1 6.5 3 2 4.5 0.5 4.5 6 5.5 5.5 2 0 0 -5 1.5 -4.5 0 -2.5 -1 -1 -3 -1 -3 -2.5 -3 2.5 -3 1 -2 0 -1.5 -1.5 0 -2 1 -1.5 5 -1.5 4 -9 -2 2.5 -2 5 -2 2 -2.5 0.5 -1.5 1.5 0 2.5 -1 1.5 -2.5 -0.5 -1.5 -2 0.5 -4 1 -2 2.5 -2 0 -5 0 3 -1 1.5 -2 0 -3.5 -3 2 -3.5 -3.5 4 -2.5 -0.5 -0.5 -4 2 -2.5 -2 2.5 0 3.5 1 1 2.5 0 1 1 0 1.5 -1.5 1.5 -5 -0.5 -3 -2.5 -1.5 -2.5zM426.5 626.5l3.5 0.5 2 1.5 1 2 1.5 0 1 2 -1.5 1.5 2 -1 0.5 -1.5 -0.5 -2.5 -4 -2zM553 625l2 0 1.5 1.5 0 4.5 -1 1 -2 -0.5 -2 -3 0 -2zM607.5 625l0.5 -0.5 2 1.5 1.5 0 2 2.5 -1.5 1.5 -1.5 0 -2 -2zM438 626l1 -1.5 1 0 3.5 3.5 -1 1 -3 -0.5 -1.5 -1.5zM607 624l0 2.5 2 3 4.5 0.5 0 -2.5 -1 -1 -2.5 -1 -1.5 -1.5zM518.5 624l0.5 -0.5 1 1.5 1.5 -0.5 0.5 1 -2 1.5zM448 623l1 1 -0.5 2.5 -1.5 -0.5 0 -2zM427 624.5l1 1 6 0 1 -2 -7 0zM522 621.5l0.5 0.5 -0.5 3 -0.5 -0.5zM442.5 622l2.5 -0.5 1 1 0 2 -2 1 -1.5 -1.5zM518.5 620l0.5 0.5 -0.5 3.5 -0.5 -0.5zM550 620.5l0.5 1 -0.5 2 -3.5 2 -2.5 3 -3 0 -1.5 -1 3.5 -0.5 5.5 -4.5 0 -1.5 -1 -1 0.5 -0.5zM519 617.5l-1 1 0 6 2 4 3 -3 0.5 -2.5 -2 -4.5zM540 616.5l3 0.5 3.5 4 -4.5 5 -4.5 -0.5 -2 -2 0 -2 2.5 -4zM467.5 617l1.5 -1 3.5 1 2.5 3 0.5 2 2.5 0.5 0.5 1 -1 1 -1.5 0 -1.5 -1.5 -5 0.5 -2.5 -1zM428 616.5l1 -0.5 1.5 0.5 2.5 2.5 0 1.5 -1.5 1.5 -4 0.5 -1.5 -1 0 -2.5zM499 616l2 -1 1 1 0 1.5 -1.5 0.5zM537 616.5l1 -2 4.5 0.5 -3 0.5 -2 1.5zM526.5 615l-0.5 2 2 1 0.5 -2.5zM495.5 614.5l2 1.5 0 1.5 -1 1 -2 -0.5 -1 -1.5zM494 615l-0.5 2.5 3.5 1.5 0.5 -3.5 -1 -1zM442.5 614.5l2.5 0 1.5 -2 -3 -0.5zM533 611.5l2.5 -0.5 1.5 0.5 1 1.5 -2 1zM510.5 610.5l1 0.5 -1 2 2 2.5 -1.5 2 -1 -0.5 1 -1.5 -2 -2.5 0 -1zM534.5 608l2.5 -0.5 0.5 1.5 -1 1 -1.5 0zM518 608l2 -0.5 1 1 -2 1zM463 608.5l0.5 1 1.5 0.5 1.5 -0.5 -1 -1.5zM542 607.5l1 -0.5 2 0.5 5 5 1 4.5 -1.5 2 -3.5 -1 -2 -3 -4 -3zM461.5 607l5 0 2 2 1.5 4 2 2.5 -1 0.5 -2 -2 -1.5 0 -1 2.5 -0.5 7.5 7 -0.5 2 2.5 3 -0.5 1.5 -1 0.5 -3 -3.5 0 -2 -2.5 0.5 -0.5 1.5 1.5 4 0 1.5 -0.5 2 -2 1 1 -0.5 1.5 -3 2.5 -0.5 3 5 0 1 1 0 3 -1 1 -3.5 0 -0.5 -0.5 1.5 -0.5 -1.5 -1 1 -2 2 0 1 1 0 1 -1.5 1 1 0 0.5 -1 -1 -2 -2.5 0 -1.5 2 -1 -2.5 -4 1.5 -2 2.5 -1.5 0.5 -2 -1.5 0 -2.5 1.5 -1.5 -0.5 -0.5 -3 1 -5 0 -1 -1.5 2.5 -2 0.5 -1.5 -0.5 -5 1 -3 -0.5 -1 -1.5 -0.5 -1.5 0.5 -0.5 2.5 -1.5 1.5 -1.5 -1.5 0 -2zM449 608l1 -1 2.5 0.5 0 1 -1.5 1.5zM516.5 602l0.5 0.5 -0.5 0.5 -5.5 1 4 4 -2 2.5 -1.5 0.5 -0.5 -0.5 2.5 -2.5 -4 -3.5 0 -1 2 -1.5 3 0.5zM447 601.5l0.5 -0.5 2 1.5 2 0 4 2 2.5 0 0.5 -0.5 -1 -2 0.5 -1 2 2.5 0.5 2 -0.5 0.5 -5 0 -3 -2 -4 -1zM471.5 601.5l0.5 -0.5 5 4.5 4.5 0.5 1.5 -1 0 -1.5 -2.5 -2.5 0.5 -0.5 2 0.5 1.5 1.5 0 2 1 1 2.5 0 2 2.5 -0.5 4 -2 0.5 -2 -2 0.5 -1 1 1 1.5 0 0.5 -1.5 -1 -2 -1 -0.5 -1.5 0.5 0.5 2 -0.5 1 -2.5 -3 -5 0 -2.5 -1zM434 601l2.5 4.5 0 2.5 -1.5 1.5 -0.5 3.5 -1 1 -1.5 0 -1 -2 1 -2 2 -0.5 -1 -2 -1.5 -0.5 -1 2.5 -3 0 -1 -1 1 -2 3 -0.5 0 -1.5 -1 -1.5 1 1.5 -0.5 1 -3.5 1.5 -0.5 1.5 0.5 1 2 0 2 1.5 0.5 3.5 -4 2.5 -0.5 -1 3 -2 -0.5 -3 -2.5 0 -1 2 -2.5 2 -0.5 1.5 -0.5 -2 -3.5 -2 0.5 -4 -2.5 0 -2 1 -0.5 3 1 1 -1 -1 0 -2 1.5 -1.5 2 0 1 1 0 3.5 2.5 0.5 1 1.5 -1 2 -2 0.5 -0.5 -1 -0.5 1.5 1.5 -0.5 1.5 0.5 -1.5 1.5 2.5 -2 1 -2.5 2.5 -1.5 2 -3 1 0 1 2 -3 2 -0.5 2.5 -3 4.5 1.5 -0.5 1 -3 0.5 4 6.5 -0.5 2 -3 3 -2.5 -2 -2.5 0 -2.5 2 -5.5 -3 -3.5zM461.5 602.5l3.5 -1 2 -2.5 2 0 1.5 3 4 4.5 9 2 3 3.5 0.5 2.5 3.5 1 1.5 3 3 3 -0.5 2.5 -1.5 1.5 -2.5 0 -2.5 -2 -2 2 -3.5 0 -1 -1 0 -1.5 3.5 -2.5 1 -5 -2 0.5 -3 3.5 -4 0.5 -5.5 -6 -2 -6.5 -3 -1.5 -3.5 0 -1.5 -2zM486.5 598.5l1.5 0 1 1 0 2 -1 1 -2.5 0 -1 -1 0 -1zM475.5 597.5l2 3 3.5 2.5 0.5 1 -1.5 1.5 -2.5 -0.5 -3.5 -3.5 -0.5 -1.5zM447 598l3 -2 2 0 4.5 5 0 2 -1.5 0.5 -6 -1.5 -1.5 -1.5zM524 595.5l-1 1 0 1.5 1.5 0zM477.5 594.5l0.5 0.5 -0.5 3 -0.5 -0.5zM574.5 593l-1.5 2.5 3 3.5 -0.5 -5.5zM545 591.5l0.5 1.5 -1 1.5 -0.5 4.5 -2 3.5 0 2.5 1.5 1 -1.5 0.5 -1 -1 0.5 -6.5 -3 1 0 5.5 -2 1 -0.5 -0.5 1.5 -1 -1 -6.5 1 -1 2.5 0 2 -4 2 -2zM464.5 591.5l1 0.5 -1 1 1 1.5 -0.5 1 -2 -2 0 -1zM509.5 591l2.5 -0.5 2 2 0 1 -3 2.5 0.5 1.5 1.5 -0.5 2 -2 1 0 5 5 -2 1.5 -0.5 -0.5 0.5 -1.5 -3 -2.5 -3.5 1.5 -2.5 -0.5 -0.5 -2 2.5 -2.5 0 -1.5zM475 590l1 1 0 1.5 -4.5 9 -0.5 -2 3 -5 0 -1.5 -1 -1 -2 1 -1 3.5 -2 1.5 -1.5 -0.5 -1.5 -2 0.5 -0.5 1.5 1.5 1.5 0 1.5 -4.5 2.5 -2zM530.5 589l1.5 -0.5 4.5 4.5 0 1.5 -0.5 0.5 -1.5 -1.5 -3.5 -1 -1 -1.5zM455 587.5l1.5 0.5 0 2 -1.5 1.5 0 1 1.5 0.5 3 -1 1.5 1.5 -1 1.5 0 1.5 2 2.5 -0.5 3 -1 0 -2 -2.5 -2.5 -1 -1.5 -1.5 -1 -3 -3.5 -1.5zM544.5 587.5l0.5 -0.5 2.5 4 3.5 1 -0.5 0.5 -5 -0.5 -0.5 -0.5 0.5 -2zM481.5 587l1 0.5 -1 1 1 2 -0.5 2.5 -0.5 -2 -1.5 -1.5 0 -1zM491 586l3 1.5 3.5 7 4 -0.5 0.5 0.5 -1.5 0.5 1 0 1.5 2 0 3.5 -2 1.5 -2.5 0 -2 -2 -1 -2 -0.5 0.5 0 2.5 1.5 2.5 -0.5 5.5 1 1 0 2 -2.5 1.5 -2 0 -2 -1.5 -1 -6 -2 -2 2 -2.5 -0.5 -3 -1.5 -1 -3 0 -1.5 1.5 -2 0.5 -2.5 -2 0 -1.5 1 -1 3 -0.5 1 -1 1 -3 3.5 0zM463.5 586l2 0 1 1 0 2 -2 2 -1 0 -1.5 -1.5 0 -1.5zM450 585.5l1 1 -0.5 1.5 -1.5 1.5 -1 0 -0.5 -2.5 1.5 -1.5zM455 584l-1.5 -0.5 -4.5 0.5 -2 4 0.5 2.5 2 -0.5zM445.5 583l-1 0 1.5 1 0.5 3 -0.5 2.5 -1.5 2 -3 1.5 -1.5 0 -1.5 -1.5 0 -1.5 -1 -1.5 2 4.5 1 0.5 5.5 -2.5 0.5 -7zM482.5 580l1 -1 2.5 0 1 1 0 6 0.5 0.5 0.5 -1.5 3 -2 1.5 0.5 1.5 2 -0.5 0.5 -1.5 -1 -1.5 0 -3 4 -2.5 -2 -2.5 0.5 -0.5 -0.5 2 -2 -1 -3 0.5 -0.5 1 1.5 1 -0.5 -0.5 -2.5 -1 0 -1 2zM481.5 579l1 2.5 0 3.5 -3 2.5 -2 0.5 -3 -0.5 -1 -1 0 -2.5 1.5 -1.5 1 0 2.5 -3.5zM457 577.5l0 1 -2 2 -2.5 1 -4 -2.5 2 2.5 3 0.5 3 -2zM494.5 576l-1 1.5 0 2 1 1.5 1 0 0.5 -3.5zM514.5 574.5l3 3 -0.5 4.5 -1 1 -2 0 -2 -1 -0.5 1.5 -2.5 2 -0.5 -0.5 2 -2 1 -2.5 1 -0.5 2.5 2 1 -0.5 0 -3.5 -2 -2.5zM460 574.5l3 0 1 1 -0.5 3.5 -2 2 -1.5 0 -1.5 -1.5 0 -3.5zM509 574.5l0 2 -1 1 -4 0.5 -1 -1.5 2.5 -2 1.5 -0.5zM472.5 572l0.5 1 -1.5 2 -0.5 -1zM483.5 571l-1 0.5 0 2 1.5 -0.5zM475.5 570.5l2 0.5 0 2 -1 1 -2.5 0 -0.5 -1.5zM480 570.5l-1 2.5 1.5 1 0.5 -3zM413.5 570.5l-2.5 0 -1.5 1.5 0 1 1 -2 2.5 -0.5 1 1 0 1.5 -1.5 1.5 -3 -0.5 -0.5 2 0 4 3 4.5 -1 -3.5 -2 -1.5 0 -3.5 2 -1.5 1.5 0 1.5 -1.5zM504.5 569.5l3.5 0 1 1.5 0 1.5 -1.5 1.5 -4.5 1.5 -0.5 1.5 1 1 4.5 -0.5 1.5 -3 2 -1 3 2.5 1.5 3 -0.5 2.5 -3.5 -1.5 -1.5 3 -3.5 3.5 0.5 1 -0.5 2.5 -0.5 -2 0.5 2.5 4 1 1 1 -3 3.5 0 1.5 2 1.5 3.5 -1.5 2 0 2 2 0 1 -2.5 1.5 -5.5 0 -1.5 1 0 2 3.5 3.5 -4.5 3 0 1.5 2 2.5 -1.5 2 -2 0 -2.5 -3.5 -3 -2 3 -0.5 1.5 -1 0.5 -2.5 -2 -4 2 -2 0.5 -2.5 -3.5 -5.5 -4 0 -1.5 -1.5 -0.5 -4 -2.5 -4 3 -4 0.5 -5.5 3.5 -4.5zM492.5 570.5l0 2.5 -2 2.5 -3.5 1 -2 2 -2.5 -0.5 0 -2 2.5 -2.5 0 -5 0.5 -0.5 5 1zM514 569l1 -1.5 1.5 1 -1 1zM522.5 567.5l1 -1 1.5 0 0.5 2 -2 0.5zM495.5 566.5l2 1.5 0 2 -1 1 -2 0 -1 -1 0 -1.5zM408.5 567l2 1.5 -1.5 1.5 3.5 -1.5 -1 -1.5zM530.5 567l2 -1 3.5 1.5 2.5 0 1 1.5 -2 1.5 -3.5 0.5 -3 -2zM415 565.5l2 -0.5 0.5 1.5 -1.5 0.5zM480 564l1.5 0.5 0 1.5 -1 1.5 -2 -1 0 -1zM512 565l0.5 1 4.5 -0.5 0 -1 -1.5 -1 -1.5 0zM428.5 559.5l1 1 0.5 3.5 -2 1.5 -3 0 -0.5 -1 3 -4.5zM424.5 559.5l0.5 2 -1.5 1 -1.5 -1.5 1.5 -1.5zM422.5 559.5l-1 2 1 1 2 0 1 -1 0 -1.5zM524 558.5l1 0 1 1.5 0 3.5 -1.5 2 -1 0 -2 -3 0 -2.5zM432 559l-0.5 0.5 0.5 4.5 -2 2 -1 0 4 -2 1 0 2 2 -2 -3 -1 -3.5zM518.5 560.5l-0.5 1.5 -7 -0.5 -2.5 5.5 -1 -0.5 -0.5 -3 0.5 -3 2.5 -1 1.5 -1.5 6 1.5zM467.5 556l-3 2.5 2.5 -1.5 1.5 0 4 5 0.5 2.5 -1.5 0.5 -2 -3.5 -1 -0.5 -1.5 0.5 1.5 0 2 3 2 1 1 -1 -2 -5 -2.5 -3.5zM423.5 553.5l1.5 0.5 1.5 2 -1 2 -2 0 -2 -1 0 -1.5zM441.5 553.5l-3 1 -3 2.5 1.5 6.5 1.5 -3.5 -1 0 -1.5 -1.5 0 -1.5 3.5 -3zM425 553.5l-2.5 -0.5 -2 3 0.5 2 4 0 1.5 1 0.5 2 -2.5 3 -5 -0.5 -1.5 1 -2 0 -4 -1 -1 1 4.5 3.5 2 0 2 -2 4 1 1.5 -1 4.5 -1 0.5 -0.5 -0.5 -5.5zM490 552.5l-0.5 0.5 1.5 2 0 2.5 -2.5 3.5 0 1.5 2.5 3 1.5 0 1.5 -1 4.5 0 2 4 4 0 1.5 -2.5 0 -6 3 -3.5 -0.5 -0.5 -4.5 0.5 -0.5 -1 1.5 1.5 2 -1 1 1 -2 2.5 -0.5 7.5 -1.5 1.5 -2.5 0 -3 -4 -7 0.5 -2 -2 -0.5 -2.5 2 -3 1 -3 1 1.5 2.5 1 -1 0 -2 -2 -1 -2.5zM489 555l-5 -2.5 -5 3 -2.5 2.5 -3 0.5 -0.5 1.5 1.5 3.5 0 2 -1 1 -2.5 0 -3 -3.5 -1 0 2 1 1 2.5 4.5 0 1 1 -4 6 -3.5 3 -2.5 0 -2 -1.5 0.5 -3 4.5 -3.5 0 -1.5 -4.5 -1.5 3 1 1 2 -5.5 5.5 -3.5 1 -1 6 5 2.5 2 0 1.5 -5 4 -3.5 0.5 0.5 -1 1.5 0.5 1.5 2.5 0 0 -2 2 -2 3 0 0.5 2 1.5 1 1 -1.5 -3 -1.5 0 -4.5 3.5 -2.5 1 -5 -3.5 1.5 -1 2 0 2.5 -2.5 2 -1 -0.5 2 -2.5 0 -2 2.5 -3 4.5 -3.5 4 0.5 1.5 -1.5 -1 1 -6 0.5 -5.5 5.5 -2 -1 -1 -2 0 -2.5 1 -1 2.5 -0.5 3 -3 4 -2 4 1.5 1.5 1.5 0 1zM526.5 552.5l2 -1 1 1.5 -1.5 1.5zM432 551.5l2 1.5 -1.5 2 -1.5 -1 0 -1.5zM519.5 551l1.5 1 -0.5 3 -1 0 -1 -2zM481 551.5l0 1 -5 4 -2 -1 -0.5 -1.5 0.5 -2 3 -1zM431.5 551.5l-1 1 0 2 1 1 2 0 1 -2 -0.5 -2zM410.5 551.5l-0.5 3 1 0 1.5 2 -1 1 -2 -1 -0.5 0.5 3.5 1.5 0.5 -3.5 -2.5 -2.5zM526.5 551l0 3.5 3 0.5 0.5 -1 -0.5 -2.5zM415 549l1.5 0.5 2 4 0 8 -1 1 -2.5 0 -1.5 -1.5 1 -3.5 -0.5 -7.5zM415 548l-2 2 1.5 5 0 2 -1.5 4 0.5 1 3 1 2.5 -1.5 0.5 -8.5 -2 -2 -1 -2.5zM473.5 550l0.5 -1.5 3 -1.5 3 0 1.5 1.5 -1 1.5 -2 0.5zM419 546l2.5 2.5 -1 2 -2 -1 -0.5 -2.5zM494 544.5l-0.5 2.5 -2 2 -2 0 -0.5 -2.5 1 -2 1.5 -1zM494 544l-3 -0.5 -1.5 1.5 -2 4.5 1 0.5 3 -0.5 2.5 -3.5zM432.5 542l1 1 0 2.5 -1.5 1 -1.5 -1 0 -2zM458 540.5l-7.5 6 0 1 1 -2 5 -2.5 1 1 0.5 2.5 5 2.5 2.5 3.5 0 2 -2.5 3 3.5 -3.5 0 -1 -4 -4.5 -4 -2 -0.5 -3 2 -2.5zM437 592l2.5 3 1.5 0 2 -1.5 2.5 0 1 1 0.5 2.5 -1 1 -8 1 1 0.5 5 -1.5 1.5 0 1.5 1 0.5 1 -0.5 1.5 -1 -2 -1.5 -0.5 2 1.5 1 2.5 3 2 -2 2 0 3.5 3 2 -1 3 0.5 3.5 1.5 0 1 -1 0 -1.5 -2 -3.5 2 -4.5 1.5 -1.5 3 0 1 1 -0.5 9 1 1 4 -1 1.5 2 -1.5 3 -3 0.5 -1.5 1.5 4 3 5 -1 1.5 1.5 0 1.5 -1.5 1.5 -4.5 2 -4 -2 -1.5 -1.5 -1 -3 -5.5 0 -2.5 -5 -5.5 -2.5 -1.5 -1.5 -0.5 -2 -1.5 0 -2.5 -2 0 -2 1.5 -2.5 0.5 -3.5 -0.5 -1.5 -2 -0.5 -1.5 -1.5 0 -1.5 1.5 -0.5 -1.5 0 0.5 3 3 2 0 3.5 -2.5 4.5 3.5 3.5 -1 2 -2.5 1 -1 3.5 5 -0.5 1.5 2 -0.5 1 -1.5 -1.5 -2 0 -1 1 0 4 8 1 0.5 -1.5 -3 -2 1 -0.5 3.5 1 0.5 2 2 2 0 2.5 -2 0.5 -4 -3 -5 -0.5 -1 1 -1.5 5 1.5 -4.5 1.5 -1.5 4 0.5 3 4 1.5 0 1.5 1.5 0 1 -2.5 2 0 1.5 1.5 1.5 1.5 4 0 2 -2 1.5 2.5 -2 -1 -2.5 0 -4 1.5 -1.5 2 0 3 -1.5 1 -5.5 1 -1 2 0 5.5 2 2 4 1.5 1.5 3 0.5 2.5 4 -1 3 -1.5 1 -1 -1 0 -2 -1 -2 -1.5 -0.5 -3.5 1 -5.5 -2 -1 1 -1 5.5 4 -0.5 1.5 1 -1 1.5 -2 1 0 4 0.5 0 -0.5 -3.5 1 -1 2.5 1 0 1.5 -1.5 2 3 -3 2.5 0.5 2 1.5 -1 -1.5 -2.5 -1.5 -1.5 -3.5 -3.5 0 -2.5 -1.5 0.5 -3 1 -1 1.5 0 3 2 4 0 1.5 1.5 1 3.5 1.5 0 3.5 -4.5 0 -1 -2 -2 1 -2 2 0 5 4 -0.5 2 -2.5 3 -0.5 5 2.5 -0.5 2.5 -2.5 2 0.5 1 1.5 -1.5 -2 0.5 -0.5 2.5 2.5 -1 -2.5 -3.5 -0.5 -1.5 -1 0 -1 3.5 -4.5 2 -5.5 2 -2 3.5 -1 3.5 -3 3 0 -4 0 -1.5 -4 -3 0.5 0 2.5 2.5 1 0.5 1.5 -2 1.5 -2.5 0 -2.5 2.5 -1 4 -1.5 1.5 -1.5 3.5 -2 2 0 2 4 -0.5 0.5 0.5 -0.5 0.5 -2 0 -2 1.5 -2 -1 0.5 -3 3 -3.5 0 -2 -2 -0.5 -1 -2 1 -1 3.5 1.5 1 -4 2 -1.5 1 -2.5 1.5 -1.5 0 -4 1 -1 4.5 -0.5 1 -4.5 -3 -2 -1 -2.5 2 -2.5 2 0 2 -1 0.5 -1.5 -0.5 -7 1.5 -1.5 1.5 0 3 -1.5 -0.5 -3.5 0.5 -1.5 1.5 3 0 2 -2 2 -3 0.5 -1 2 1 1 4 -0.5 1 1.5 0 1.5 -1.5 1.5 -3.5 0 -0.5 2 2.5 1 5 5 2.5 -1.5 1 0.5 -2 2 -2 0.5 -5 -5 -2.5 -0.5 0 3 3 2 0 2 -6 4.5 -0.5 1.5 1 1.5 2.5 0.5 -1.5 0 -1.5 -1.5 0 -1 3 -3 3 -1 2 -4 3 2 2.5 -2.5 4 -2.5 -2.5 -3.5 1.5 -1.5 3 -1.5 5 0.5 2.5 2.5 1 0 0 -1.5 -2 -3.5 -6 -0.5 -4 -2.5 1 -1 3 0 5 -2.5 1 -2 -2.5 -1 -2 -2 -0.5 -1.5 -1.5 -0.5 -2.5 -3 -4.5 -1 -1.5 -3 0.5 -1 0.5 0.5 2.5 -1.5 2 -2.5 2 1 2 -0.5 1 -4.5 2.5 -2 0 -1.5 -1.5 -0.5 -2.5 1 -2 -3 3 -1.5 1.5 -3 2 -1 2.5 2.5 5 -0.5 2.5 4 -1.5 4 -3 3.5 0.5 0.5 -2 0.5 0.5 0.5 3 -2 1.5 0 2 2 1.5 0 2 -2 2 0 3 2.5 1.5 3.5 1.5 0.5 2 2 0 1.5 -3.5 3 -0.5 2 -2 1.5 -1.5 -1.5 -0.5 -2.5 -5 -5 -2 1.5 -0.5 2.5 -1 1 -4 -3 -2 0 -2 1 -1 -1 0 -2 1 -2 -1 2 0.5 3.5 3 -1.5 1.5 0 5.5 4.5 0 2 0 -2 1 -1 1.5 0 2 1.5 1 2 0 3.5 1.5 2.5 0 2 -1 1 -3.5 0 -4 -3 1 -5.5 0 1.5 -2.5 3.5 0.5 1.5 4 4 1.5 -1 1.5 0.5 -3 2.5 -6 -6 0.5 -3 2.5 -2.5 0 -3 -4.5 -3.5 -3 1.5 -2 0 -1 -1.5 0 -4 2.5 -3.5 -2.5 3 0 6 0.5 0.5 2.5 0 3 -1.5 4.5 3 0 2.5 -3 2 -1 4.5 2 2.5 3 2 2 4 4 3 -1.5 6.5 0 3 3.5 1.5 2 2 0 1.5 -1.5 1.5 -3 0 -2 -2 -0.5 -2 -1 -0.5 -2.5 1 -3.5 3.5 2 4.5 -3 3 0 1.5 4 3 3.5 -2.5 2 2.5 -0.5 7.5 -1.5 1.5 -2.5 1 -2.5 0 -1.5 -1.5 1 -4 -3.5 0 -2 1 -2 -1 1.5 -3 -0.5 -3.5 -3 1.5 -2 0 -2 -2 0 -3 1.5 -1 2.5 0 3.5 1.5 0.5 -2 -2.5 -6 -4 0.5 -1.5 1.5 -1 3 -3.5 3 -3.5 0 -2 -3 -1 -3.5 2 6.5 2.5 0.5 5.5 -1.5 1 4 1 1 3 0.5 2.5 -1 1 1 0 1.5 -2.5 4 -0.5 -1.5 1.5 -3.5 -5 0.5 -3 -4 -4 0 -2 1.5 -1 6 -1 -4 -3 0.5 -1 -2.5 -2.5 -1.5 -2 1 -2 3 0 2.5 3 0 3 4 3 1 2 2.5 1.5 -0.5 0.5 -3 1 1 0 2 -1.5 2.5 2 -2.5 0 -2 -1.5 -1.5 -1 -2.5 0.5 -5.5 2.5 -2 2.5 0 2 2 0.5 1.5 -0.5 4 1 -0.5 0 -1.5 1 -1 2.5 0 1 1 0.5 4.5 1.5 1 1.5 0 3 3.5 2.5 1 2 0 2 -1 3.5 0 1 1 -2 4 0.5 4.5 -1.5 1.5 0 3 0.5 0 0 -2 3 -2 -2 -2.5 -0.5 -2 1 -2.5 3 -2.5 -1 -1 -5 0 -0.5 -0.5 4 -2 -0.5 -1 0.5 -7.5 -1 -2 -2 -1 -2 2.5 -1 -0.5 2.5 -3.5 1 -0.5 1 0.5 3 4.5 -1 6 1 1 4.5 -1 1.5 1.5 3.5 1 1.5 2.5 0 4 0.5 -6 4 -4.5 5 0.5 3.5 -1.5 1.5 1.5 0 1 -3.5 3 1.5 3 -1 1 -1.5 0 -3.5 -2 -4.5 0.5 1 2 3.5 0.5 2.5 1.5 -0.5 5.5 3 2.5 0 1 -1.5 1.5 -4 1 0 2.5 2 2.5 0 1 -1.5 1.5 1.5 -1.5 -0.5 -2 0.5 -0.5 1 1 0 2 -3 2.5 2 -1 1 -1.5 0 -2 -1.5 -2.5 1.5 -1.5 5 1 1.5 2 -0.5 2.5 1 -3.5 3 -3.5 1.5 1 0.5 3 1 1.5 6.5 -0.5 1 -1 0 -2 1.5 -1.5 2.5 0 1.5 1 0.5 3 -1 1 -3.5 0.5 0.5 2.5 4 3 4.5 0.5 5 7.5 3.5 0 2 1.5 0 -1.5 -4.5 0 -2 -1.5 -2.5 -4 -0.5 -3 -5 0.5 -4 -2.5 -0.5 -1 0.5 -2 2 0 2.5 2 0.5 -1 -1 -2.5 0.5 -3 3.5 2 1.5 0 2 2.5 0.5 3 7.5 0.5 1.5 1.5 -0.5 6 5.5 -4 2.5 -0.5 1.5 1.5 0 2 -2.5 3 -0.5 2 0.5 -1.5 2.5 -1.5 -0.5 -5.5 -3 0 -3.5 1.5 -2.5 -5 -2.5 -1 -5 0.5 -1.5 -2 -0.5 -3 -3.5 -0.5 -3 -2.5 -1.5 -3.5 -4 -0.5 -2 -2 -1 0.5 0 1 1.5 1.5 -0.5 2.5 -1 0 -2 -2 -2.5 -0.5 -1 -1 0 -2 3.5 -3 -0.5 -4 -3 -2.5 -1.5 -3 -2 0 -1.5 2 -2 0.5 -1 1 -0.5 2.5 -3.5 2.5 0 2 1 1 2 0 1.5 1.5 1.5 4 -3 2.5 -5 0 -1 1 0.5 1.5 -0.5 1 -1.5 -2 0 -1 1.5 -1.5 3.5 -0.5 2 -3 -0.5 -1.5 -2.5 0 -1 -1 0.5 -5.5 3.5 -2 -0.5 -4 0.5 -0.5 3.5 0.5 1.5 -2.5 3 0 1.5 1.5 1 2.5 3.5 2.5 0.5 5 3 0.5 1 2.5 1 0.5 3 0 1.5 1.5 0.5 2.5 2 2 2.5 -0.5 0.5 -1 -0.5 -5.5 -2 -3 -0.5 -2.5 -4 -1 -1 -1 4 -0.5 0 -6 2 -3 4 3 1 2 0 -1 -2.5 -2 -0.5 -2.5 3.5 -0.5 0.5 -1 -3 -3.5 -0.5 -2 -3 -2 0.5 -0.5 2 0.5 5 7 4 2.5 4.5 1 1.5 -3.5 2 0 2 1.5 -3 0.5 -2 3 -3.5 -0.5 -1.5 0.5 -0.5 2.5 -1 -2 -3 -0.5 -1 -1.5 -1.5 -0.5 0 1 2 1.5 -0.5 6 -1.5 1.5 -4 -1.5 -1 -2.5 0 -3 0.5 6 2.5 2.5 0.5 1.5 2.5 -0.5 1.5 -3 -1 -2 0.5 -1.5 1.5 2 2 0 1.5 -2.5 0.5 3 -2 2 0.5 4 1.5 1 1.5 -0.5 1.5 -3.5 1 -1 5 1 2 2 5.5 1.5 1.5 2 -0.5 2.5 1.5 2 1 4.5 3 0 1.5 -1 3.5 -0.5 0.5 -3.5 1.5 -1 0 -5 -1 -1.5 -1 0 -2.5 1.5 -6.5 0.5 -1.5 -1.5 -1 -3 -4.5 -1 -2.5 -4.5 0 -1 2.5 -2.5 -0.5 -1.5 0.5 -0.5 1.5 0.5 1.5 2 2.5 1 0 3 -1 2.5 3 5 5.5 0 3 -2 2.5 0 1.5 1 -1 4 0.5 1 1.5 0 1 -2 -2 -3.5 3.5 -3 3 0 3 1.5 0 1.5 -1.5 2.5 0 2 4 1.5 4 4 3 0 -0.5 -2 0.5 -2 1.5 3 4.5 0.5 3 -1.5 1.5 -2.5 0.5 1.5 -2.5 3 -3 1.5 -3.5 -1 -1.5 0.5 2.5 5 0 -1.5 -1.5 -2 0.5 -0.5 3 0.5 5 -2.5 1.5 -4 0 -4 1.5 -1 0.5 0.5 3 -0.5 -2 0.5 -0.5 -0.5 1 -0.5 -2.5 -2 -0.5 -2 1.5 -1.5 4 -0.5 -3.5 -0.5 2.5 -0.5 1 -1 0 -4 0 3.5 -1 1 -4 1 -2.5 2.5 0.5 3.5 -2 0.5 -2 -2.5 -0.5 -7.5 -9 -6 0 -1 3.5 -3 5 4.5 5.5 -0.5 6.5 -3 -1.5 0.5 -6 -0.5 -3 3 -2.5 -0.5 -1.5 -2 0.5 -0.5 2.5 1.5 1.5 -1 0.5 -1.5 -2 -5 -2 -1 -2 0.5 0.5 4.5 1 2 -0.5 0.5 -3 -3 -3.5 3.5 0 2 5 3 1.5 2 2 0.5 1.5 2 -0.5 4 -1 1 -1.5 0 -1.5 -1 -1 1.5 0 2 1.5 0.5 2.5 -1.5 2 2 2.5 0.5 2 2.5 -0.5 2 -2 -3.5 -5.5 -1 -4 0.5 0.5 3 -0.5 2 -1 -3 -5 -4.5 -2.5 -0.5 -1 -1 -2.5 -6.5 -2 -1 -1.5 0.5 -0.5 2 0 -1 1.5 -1.5 1.5 0.5 2 2.5 0.5 2 -0.5 2 -4 0 -3 2 -5 0.5 -3 2 -5 -0.5 -2.5 -4 1 -5 -2.5 -4 0.5 -0.5 4 0.5 2 -1 5.5 -0.5 2 2.5 0.5 2.5 0 -2.5 -1 -1.5 -0.5 -3.5 -3 2.5 -5 -0.5 -1.5 1 -3 0 -1 -2.5 -0.5 3 -2.5 0 -2.5 -1.5 -2.5 -3.5 -1 -4.5 0.5 -3 3.5 -3 2.5 0 1 1 -3.5 6 0 2 4 1.5 0.5 1 -1 -1.5 -3 -1.5 0 -1.5 3.5 -5.5 0 -1 -1.5 -1 -4.5 -0.5 -1.5 1.5 -1 10 -1 1.5 -6 -5.5 -3.5 -1.5 -2 -2.5 0 -1.5 1 -1 1.5 0 2.5 -1.5 2 -4 1.5 0 2.5 1.5 2 0 0.5 -3.5 1.5 -1.5 1.5 0 2 2 2.5 0.5 1.5 1.5 0.5 3 4.5 5 3 2 2 -0.5 0 -1 -2.5 -0.5 -1.5 -1.5 0.5 -4 0 2 -1 2 -1.5 0 -3 -3.5 -0.5 -4 5.5 -2.5 -1.5 1 -4 0.5 -2.5 -3.5 0 -3 0 4 1 1.5 -1 1 -1.5 0 -1.5 -1.5 -2.5 -0.5 -1 0.5 -2 4 -2 0 -3.5 -2 -0.5 -1.5 1.5 -3.5 1.5 -1 2 0 1 -3 -1.5 2.5 -3 1.5 -2.5 4.5 -2.5 0 -1.5 -2 1.5 2 1.5 0 2 1.5 -0.5 2.5 -1.5 2 -2.5 0.5 -3 -2 -0.5 -5.5 0 5.5 -2.5 0.5 -1 -1 4.5 3 0.5 3 -0.5 2.5 -3 -0.5 -4 -4.5 2.5 3 -0.5 1 -0.5 -0.5 0.5 1 4 3 0.5 2.5 2 1.5 -0.5 1.5 -1 0 -1.5 -2.5 -2 0 -3 2.5 -1.5 0 -2 -2.5 -4.5 -1.5 -4.5 -4 3.5 3.5 4.5 1.5 3 3.5 2.5 0 0 -1 1.5 -1.5 1.5 0 1 1 -0.5 2 -3 0.5 -0.5 8.5 -1 1 -1.5 0 -1.5 -1.5 -1 -2.5 0.5 -3.5 1.5 -1.5 1.5 0 1 1.5 -0.5 -1.5 -2 -0.5 -1.5 1 -0.5 4.5 1.5 3 -0.5 1 -2.5 -4.5 -2.5 2 -2 -0.5 -3 -4.5 0 -2 1 -1.5 -0.5 -2 -3 0 -3.5 3 -1 3.5 -1 0 -3 -3.5 -1 0 -3 1.5 -5 -0.5 -3.5 4 -1.5 0.5 -1.5 -2 0 -2 4 -3 0.5 -2 2 -2 2 -1 -3 -4.5 -3.5 0 -0.5 -0.5 0.5 -0.5 5 0 4 5 -1 2 -3 0.5 -1 1 -0.5 3 5 1 4 -2 3 0 -0.5 -3 0.5 -2 1.5 -1 1.5 0 -2.5 0 -1 1 -0.5 3.5 -3 2 -2.5 1 -3 0 -2 -1.5 0 -1.5 1 -1 3.5 -0.5 1 -1 0 -3 -1 -1 0 -1.5 1 -0.5 2 2 1 -0.5 0 -2 -2.5 -2.5 -0.5 -7.5 3 -2 1.5 1.5 2.5 4.5 0 3.5 3 2 -2.5 -2 0 -3 -2.5 -4 0 -2 -1 -1.5 -1.5 0 -3.5 2 -3 -2 0 -3 -2 -5.5 0 -2 -0.5 -1 -2.5 -1 3 -1 1.5 2 0 3.5 3 0.5 1.5 1.5 0.5 3 -2 1.5 0.5 1.5 3 -2 4.5 1 2 -0.5 4.5 0.5 -1.5 -1 -1.5 0.5 -5.5 -0.5 -3.5 -3 -2 -3.5 -2.5 -2 -1 -4 -4 1 -4.5 -2 -1 -1 0 -2 2 -3 0 -4 2 -3 6 0.5 -1.5 0 -0.5 -0.5 0.5 -0.5 6.5 0.5 1 1 0.5 4 2.5 2 1.5 4 0 1.5 -2.5 2.5 0 1 4.5 2 3.5 0.5 -4.5 -1 -2.5 -2 1.5 -2.5 0.5 -3 1 1.5 -0.5 4 2.5 1 -2 -1 0 -4.5 -1.5 -3.5 2 -3 0 -4.5 2.5 -1.5 -0.5 -3 0 2 -3.5 2.5 1.5 2.5 0 2 -2 2.5 -0.5 2.5 -0.5 -3.5 1.5 -1 0.5 -2 -1 -0.5 -1 1 0 1.5 -2 0.5 -1 -1 0 -3.5 6 -4 0 -1.5 -1 -1 1 2 -1.5 1.5 -4 1.5 -1 -1 0 -3 2.5 -2 2 0.5 -2.5 -0.5 -1.5 1 -1 4 -1 1 -3.5 0.5 -0.5 -0.5 0.5 -0.5 3 -0.5 1.5 -4.5 2 -2 1 0 -4 -2 -2 -2 1 1.5 3 2 -2.5 6.5 -1 1 -7.5 -0.5 -2 -3 -3.5 -3 0 -2 1.5 -2.5 -0.5 -1.5 -3.5 -0.5 -3.5 -3 2.5 -3 4.5 -1.5 5 5 4 2 -1 0 -3 -3 0 -1 -4.5 -4 -1.5 0 -8 3.5 1 3.5 4 2.5 3 -0.5 1 1 0 1.5 -1.5 2.5 1.5 2 -0.5 0.5 -2 -2 0.5 -3 -1.5 0 -3.5 -2.5 -2 -0.5 -2 -3 -1.5 1 0 1.5 2 1 -0.5 2 -1.5 0 -1 -1.5 -2 0.5 -1 -0.5 5 -6 -1.5 -2.5 0.5 -0.5 1.5 1 4 0 5 -2.5 -1.5 -2 -4 0 -0.5 -0.5 0.5 -0.5 4.5 0 2 1 1 -1 0 -2 -1.5 -1.5 -6 0 -1.5 1 0.5 2 -1 0.5 -1 -1 0 -2 1.5 -1.5 2 -1 5 0 2.5 1.5 0.5 6 2 2.5 1.5 0.5 1.5 -3 -1.5 1.5 -1 0 -2 -2 -0.5 -5.5 -3.5 -4 1.5 -2 2 -1 -3.5 0.5 -4 4.5 -4.5 -1 -4.5 1 -0.5 3.5 2.5 4.5 -0.5 1.5 -3 -5 0 -4.5 1 -1 2.5 -0.5 1.5 -1.5 4.5 1 2.5 -2 2 -3 2.5 0 -2.5 0 -3 3.5 -2 1 -4.5 -1.5 -3 2.5 -1.5 0 -1 -1 0 -1.5 -3 -1.5 -0.5 -3 3 -2 2 -2.5 3 -0.5 1 -1 -1 -2.5 0 -3 1.5 -1 -1.5 0.5 0.5 5.5 -2 1.5 -3 0.5 -2 2.5 -1 0 -1 4.5 -0.5 -3 -2 -0.5 -1 2 0 3.5 -1.5 1.5 -2 -0.5 -2.5 -2.5 -0.5 -1.5 -4 -3.5 3.5 3 1.5 3 2.5 2 3 0 0.5 -4.5 1.5 3.5 1.5 0 0.5 -2.5 2 2.5 0 1 -2.5 1 -0.5 1 0.5 6 -1 1 -2 0 -1.5 4 -1 -0.5 1 -1.5 -1 -1.5 -1.5 0 -1.5 1 1 2 2.5 0.5 -4.5 0.5 -0.5 0.5 2 2 -0.5 0.5 -2 -0.5 -1.5 -1.5 0.5 -7 1.5 -2.5 5 0 2.5 2.5 1.5 -0.5 0 -1.5 -1.5 -4 -3.5 0 -4 -2.5 -4.5 5 0 7 -1 1 -5 1 -3 3 -1 3 0.5 3.5 -2 2.5 -2.5 0 -1 -3 -4 -0.5 -0.5 -1.5 2 -1.5 1.5 0 3 -4 3.5 -0.5 0.5 -1 -0.5 -3 -1 -1 -1.5 0 -2.5 2.5 -4 -0.5 -2.5 -3.5 -1.5 0 -1.5 2 0 2 2 1.5 0 3 -3 2 0 1.5 -1.5 1.5 -1.5 0 -2.5 -3 -2 0.5 0 2 2.5 1.5 0 1.5 -1 0.5 -0.5 -0.5 0.5 -1 -1 -0.5 -1 0.5 2 1.5 -0.5 0.5 -2 0 -1.5 -1.5 -2 0 2.5 2.5 0 2.5 -1.5 1.5 -1.5 0 -2.5 4 -0.5 -0.5 1 -2.5 -0.5 -2.5 -4 -0.5 -1 0.5 -0.5 4 -0.5 -2.5 -1 -1 -1.5 1 0 2 2.5 1.5 -0.5 0.5 -1.5 0 -1.5 -1.5 0 -2 -1.5 -1.5 -1.5 0.5 -6.5 6 0.5 1.5 4 0.5 1 1 -0.5 1 -2 -1.5 -3 0.5 -2.5 -2.5 -3 0.5 -2.5 1.5zM471 539.5l1 -1 2 1 0.5 1 -2.5 0.5zM516 536.5l1 1 0 3.5 -4 4.5 -1.5 0 -0.5 -1.5 2.5 -2.5 0.5 -4zM519 536l2 0 5 5 -1 3 -2 1.5 -2.5 0 -2.5 -1.5 0 -6.5zM516.5 536l-1 0 -1.5 1.5 -0.5 3.5 -2 2 -0.5 2.5 3 0.5 0 -1 2 -2 1 -2zM559.5 535l1.5 1 -0.5 2 -1 0 -1 -1.5zM518.5 535.5l-0.5 6.5 -1.5 3 2 1.5 1 2.5 2 0 0.5 -1.5 3 -2 1 -5.5 -5.5 -4.5zM559 534.5l-0.5 2.5 1 1 1.5 0 0.5 -2.5zM561 531.5l-1 1.5 2.5 1.5 0.5 3.5 -2.5 1.5 -2.5 -1.5 2 1.5 2.5 0.5 -3 3 6 -3.5 -0.5 -3 -1 -0.5 -1 -2.5zM414.5 530l2 0.5 1.5 2 0 4.5 -1.5 2 -2 -1.5 -1.5 -4 0 -2zM413.5 529.5l-1 3 2 4 0 2 -3 3 1 -1 1.5 0 4 3 0 2 -2.5 1 -2.5 0 -1.5 2 2.5 -2 2.5 0 1.5 1.5 0.5 2 1 1 1.5 0 0.5 -3 -2 -3.5 1.5 -2 0 -1.5 -2.5 -2 -0.5 -1.5 0.5 -4.5 -2.5 -3zM553 529l-1.5 -0.5 -3 2 1.5 0 0.5 1zM419.5 527.5l2 0 1.5 1.5 0 4 2 2.5 1 3 3.5 2 0 1.5 -2 4.5 0 4 -1 1 -2 0 -2 -2.5 0 -2.5 2.5 -2 0 -4 -3.5 -2 -2 -2.5 0.5 -3 -2 -3.5zM553.5 527.5l2 2.5 -3 3 1.5 0.5 3 -0.5 2 -3 -1 0.5zM519.5 527l2 0 3 2.5 0 5 -0.5 0.5 -5 -2.5 -0.5 -4.5zM493.5 528.5l1.5 -2 1.5 0 1.5 1.5 0 1 -1.5 1 -2 0zM482 526.5l1 1.5 0 1.5 -1.5 1.5 -2.5 0.5 -2.5 3.5 -1.5 0 -1.5 -1 0 -2 3.5 -2 0.5 -2.5 1.5 -1.5zM420.5 526.5l-3 1.5 0 1.5 2 3 0 5 4 3 0 2.5 -1 1.5 0 5 1 2 2.5 0.5 1.5 1.5 1 0 0.5 -2.5 1.5 -1 1.5 0 1 -1.5 -3 -0.5 -1.5 -1.5 1.5 -6.5 -4.5 -4 -1.5 -3.5 1 -2 4 -1 1 -2.5 -2 -0.5 -3 1.5 -1.5 0zM445.5 524.5l1 2.5 2 2 0 2 -2.5 4.5 -0.5 -2 2 -3.5 -2.5 -3.5zM528 524.5l-1.5 0.5 -0.5 2.5 -1 1 -3.5 -1.5 -2.5 0 -0.5 1 0.5 5 5 3.5 1.5 0 0.5 -6 1 -1 3 1.5 2 0 1 -1 -0.5 -2.5 -1 0 1.5 1 0 1.5 -1 1 -2 0 -1.5 -1.5 -0.5 -2 2.5 -0.5zM442 524l1.5 0 1.5 1.5 0 2.5 1 1.5 -1 7 -1 1.5 -2 -1 0.5 -4.5 -5.5 -3 0 -1 3 -2zM502.5 524l1 -0.5 1.5 2 -1 1 -1 -0.5zM497 524l-3.5 0.5 -1.5 3 -0.5 4.5 3.5 -0.5 -2 0 -1 -1.5 1 -4 2 -1.5 2 0.5 2.5 2.5 0 1.5 -2 1.5 -0.5 -0.5 1 -1 0 -1.5 -1.5 -1.5 -1.5 0 -1.5 1.5 0.5 2.5 4 0.5 2 -1.5 -0.5 -2zM511.5 523.5l0 2 1.5 0.5 0.5 -1.5zM441.5 522l0.5 -0.5 2.5 1.5 1 1.5 -0.5 0.5 -2.5 -1.5zM478.5 520.5l1.5 2.5 4 3.5 0.5 3 -1.5 2.5 -3 0.5 -1 2.5 -1.5 1.5 -3 0.5 1 1 3 0 1.5 -1 1.5 2 2.5 1.5 -1 1 -1.5 0 -3 1.5 -9 -0.5 -3 -3 -2.5 -0.5 -1 -1 0.5 -1 2 1 2 0 2.5 3 1.5 0.5 5.5 0 0.5 -1 -2.5 -1 -3 -2.5 -3 -1 -1 -1 0 -2 1 -1 3 -0.5 1 1 0.5 2.5 3.5 0 2.5 -3.5 3.5 -1 0 -3.5 -5 -2.5zM474.5 520l-1.5 4 -2 0 -1 -2 0 1.5 1 1.5 2.5 1 1 2 1 0.5 0.5 -2.5 -1.5 -1.5zM498.5 518.5l0 2 1 1 2 0 0.5 -2 -1 1 -1.5 0zM489 515.5l1 -0.5 2.5 2 -2 1 -1.5 -1.5zM524 524.5l-1.5 -0.5 -0.5 1 -1.5 -0.5 -4 0.5 -2.5 -2 2 2.5 -3 2 -2 0 -2 3 -2 0.5 -1 -1 0 -1.5 1 -1 2.5 -0.5 0.5 -2.5 0 1 -1.5 1.5 -2.5 0 -1.5 -3.5 -2.5 -1 -0.5 0.5 0.5 3 3.5 1.5 0 3.5 -2 1 -2 4 -4.5 1.5 -2.5 3.5 -5 1.5 -2 3 -3.5 3 -1 0 -3 -3 -1 0 -5.5 2.5 -3 3.5 -1.5 0.5 -2.5 -1 -3.5 -4.5 -1.5 0 -1.5 -1.5 0 -1 3.5 -4 2 0 1.5 1.5 0.5 2 3 -1 3 0 5.5 2 3 -2 3.5 -1 2 -4 -1 1 -3 0 -3.5 -3.5 0 -1.5 4.5 -1 0 -7.5 1 -1 0 -3.5 1 -1 6 0.5 1 -3.5 -0.5 2 -1.5 -3 -4 -1 0.5 2.5 1 1 -1 0.5 -1.5 -1.5 -0.5 -2 -1.5 3.5 -3 2.5 -2.5 -0.5 -2 -2 0.5 1 -2 1 0 3 2 1.5 -0.5 4 -1 1 -2 0 -1 -2 -4 -3.5 0 -1.5 -0.5 0 -0.5 1.5 0.5 1 3.5 3 0 1 -4.5 3 -0.5 3.5 -1 1 -1.5 0 -1.5 -1.5 -1.5 -3.5 -2.5 -2.5 0 -4.5 -0.5 2.5 -1.5 -3 -1 0 -1.5 1.5 -0.5 -0.5 0.5 -1 -1 2.5 -2 -0.5 -1 -2 -0.5 1 -0.5 -0.5 0.5 -2 -2.5 -3 0 1 2.5 2 -0.5 1 -3 -2.5 -0.5 -1.5 0.5 2.5 3 1.5 1 3 1 -0.5 2 0.5 2.5 -2.5 1.5 1 0.5 5.5 3 2.5 1.5 4 -1 1.5 -5 0 -7 6 0 2.5 0 -2 7 -6 4.5 0 1 1.5 -2.5 3 0 1.5 1 1 2.5 0.5 4 4.5 4 1 3.5 4.5 1.5 0 4.5 -3.5 1.5 -2 0 -1.5 2.5 -1 5.5 -6.5 5 -1 1 -2.5 1.5 -1.5 4 -1 3 -4.5 1.5 1.5 3.5 1.5 1.5 2.5 -2.5 2 -4 0 -2.5 2.5 -5.5 0.5 -1.5 6 3 0.5 1 -1 -1.5 1 -2 -1 0.5 -4 1.5 -1.5 6 -0.5 1.5 -2.5 3.5 0 2.5 -1 1 2 -3 4.5 1 1.5 2.5 1 2 2 2.5 1 0.5 1 -1 -1.5 -1 0 -2.5 -2.5 -2 -0.5 -2 -2 0.5 -1.5 2.5 -2.5 0.5 -4 4.5 -3.5 0.5 -3 -0.5 2.5 -5 4 -5 -3 -1 -2 3.5 -1.5 2.5 -3 3 -1 2 1 0.5 2 -0.5 -3.5 1 -1 5.5 0.5zM429 503l-0.5 2 1 1 2.5 0 2 2.5 0 4.5 -2.5 6.5 -3.5 4.5 -3.5 0 -2.5 -3 -2.5 -0.5 -1.5 1 1 3 -1.5 1.5 -3 1 -1 -2 2 -3.5 0 -4 -2 -1 1.5 1.5 0 4 -2 3 0 2 0.5 1 1 0 5.5 -3 2 0 1.5 1 5.5 -1 4 -6.5 0.5 -3 2.5 -2.5 1.5 2 0.5 3.5 2.5 1 -2 0.5 -0.5 1 2 4 -4 3.5 0 2 4.5 1 1.5 1.5 -0.5 1.5 0.5 3.5 2 0.5 1 -1.5 0.5 1.5 -1.5 1.5 -1.5 0 -2 -2 0 -5 -0.5 -0.5 -3.5 0.5 -2.5 -3 0 -2 4 -2.5 0 -2 -1.5 -3.5 -2 0.5 -1.5 7 -3 3 -3.5 1.5 -0.5 1 1 2.5 5 4 0 2 -2 3 0.5 1.5 1 0.5 2 -0.5 0.5 -3 1 -1 2 1 0.5 2.5 -2.5 3.5 0.5 1.5 5 1 2 -1.5 2 0 3 3 2 -0.5 0 -1.5 -1.5 1.5 -3 -2.5 -2.5 0 -1.5 1 -4.5 -0.5 -1 -2 2 -3 -0.5 -3 -2.5 -1.5 -3 -4 -2.5 -0.5 -2 -2.5 0 -1 1.5 -1.5 4.5 -1 2 3 1.5 1 2.5 -1.5 1 1 -0.5 2.5 0.5 1.5 2 2 1.5 0.5 1.5 -1 1.5 -5.5 2.5 -3.5 0 -1.5 -3 -3 -0.5 -2.5 -1.5 -0.5 -6 -6 0 -2.5 1 -2.5 -1 -0.5 -1.5 1.5 -1.5 -2 -1 -3.5 -1.5 -1.5 -2.5 -1zM412.5 502.5l0 1.5 1 -0.5 4.5 0.5 2.5 4 -1.5 2 -3.5 1 3 -0.5 2.5 -1.5 -2.5 -5 -5 -0.5z"/>
<path fill="#cc0000" fill-rule="evenodd" d="M582 680l2 1 2.5 -0.5 1 0.5 1.5 3.5 3.5 4 3.5 0 1.5 1.5 -1 -1.5 -4 0 -3 -3.5 -1 -2 0 -2 -1 -1 -1 0.5zM613.5 673l5.5 5 3 -1.5 2 0 1 2 -0.5 -2 -1 -0.5 -3 1.5 -1.5 0 -1.5 -2 -2 -0.5zM610 671.5l1 0 2.5 3.5 4 3.5 0 1.5 -1.5 1.5 -2 0.5 0 2 -1 2 -1.5 0 -1.5 -1.5 0.5 -2.5 2 -1 0.5 -1 -0.5 -1.5 -2 -0.5 -3 2 -3.5 0 -1 -1.5 1 -1.5 3 -1zM579 671l-0.5 1.5 1.5 0.5 0.5 -1.5zM610.5 670.5l-4.5 5 -3.5 1.5 0 2 1 1.5 5 -0.5 1.5 -1.5 1.5 0 1 1.5 -2 1.5 -0.5 3 1 1.5 3 2 0 1 0.5 -1.5 2 1 -2.5 -2.5 0 -3 3.5 -2.5 0 -2 -5 -5 -1 -2.5zM617.5 671l1 3.5 7.5 0 4.5 -4.5 3 0 1.5 1 3.5 -0.5 2 1.5 -1 2.5 1 5.5 -3 0.5 -2.5 -3 -2 -0.5 1 0 3.5 3.5 3 -0.5 0 -2 -1 -1.5 1 -5 -1.5 -1 -3.5 0.5 -2 -1 -4 0 -0.5 1.5 -2.5 2.5 -7.5 0.5 -1.5 -2zM596 667.5l1 2 0 2.5 -1.5 1.5 -1 0 -1 -1 0.5 -3.5zM596 666.5l-1 0.5 -2 5 0.5 2 3.5 -0.5 0 -5zM577 666.5l1.5 -1 1.5 0 2.5 2 0 1.5 -4.5 0.5 -1 -1zM605.5 663.5l1 -1 2 0.5 -1 2 -1 0zM572.5 663l-1.5 0.5 0.5 1.5 1.5 -1zM631 662l1.5 0.5 0 1.5 -1 1 -1 -1zM594 662l0.5 1.5 -1 3 -2 2 -1 -1.5 0 -3.5 1.5 -1.5zM608 662l-2.5 1.5 1 1.5 1.5 0 0.5 -1zM631 661l-1 3 0.5 1 1.5 0 1 -1.5 -0.5 -1.5zM660 662.5l-5.5 -2 -4.5 0.5 -0.5 2.5 0.5 -1.5 1.5 -1 7 0.5 1.5 1.5 0 2.5 -3 2.5 -4.5 0.5 -1.5 -1 -1 -3 -0.5 4 -2 1 2.5 -0.5 -0.5 -1 0.5 -2.5 1 2.5 2 1 3 0 2 -1 2 -2 0.5 -1.5zM628 660.5l-3 1 1 -0.5 2.5 0.5 0 4.5 -2 3 0 1.5 -5 2.5 -2 0 -1 -2 1 2 6.5 -1 1 -1 0 -2 2 -2.5zM562 660l2 -0.5 0.5 1.5 -2 1zM598.5 664.5l0 6.5 0.5 1.5 1.5 1 4 0 2 -1 2 -3 2.5 -2 2.5 0.5 -0.5 4 0 -2 1 -1.5 1.5 0 1.5 1.5 -1 -1.5 -2 -1 1 -3.5 -2 -2 -1 0 2 0.5 1 1.5 -0.5 2 -2 1.5 -2.5 0 -1 -1 0.5 -3.5 1.5 -1 -1 0 -0.5 3.5 -1.5 1.5 -3 -1.5 4 2.5 -1 2.5 -3 2.5 -3.5 0.5 -1.5 -0.5 -1.5 -2 0 -5.5 3.5 -2.5 0.5 -2.5 1.5 -1.5 2 0 1 1 -2.5 2 -0.5 1 0.5 1.5 -0.5 -1.5 3.5 -3 -1.5 -1 -2.5 0 -1.5 3.5zM595.5 659l-3.5 3 -1.5 0.5 0.5 8 1 -0.5 4 -8zM633.5 659.5l1 4.5 -3 3 0 1 4 1.5 2 -0.5 3.5 0.5 1.5 1.5 0 1.5 -1.5 2.5 0.5 2.5 -0.5 -2.5 2 -3 0 -2 -3 -1 -4 0.5 -3.5 -2 2 -3 -1 -4.5 1.5 -1.5 2.5 1.5 -1 4 2 2 4.5 1.5 1.5 2.5 3.5 0.5 3 5 -2 -4.5 -4 -1 -2.5 -3 -3 -0.5 -2 -1.5 -0.5 -1 0.5 -4.5 -1 -1 -2 0zM515.5 655l1 -0.5 4 2.5 0.5 2.5 -1 1.5 -1.5 0 -1 -1 -0.5 -1.5 -2 -2zM662 654l1 0.5 -1.5 2.5 2 2.5 -0.5 0.5 -2.5 -2.5 0 -1.5zM550 655l1 -1 2 0 2 2 -1 1 -3 0zM599 653.5l0 2 -2 2 0 1.5 3 -3zM517 653.5l-1.5 0.5 -3 3 -1 2 3 2.5 0.5 1.5 -1 -2.5 0.5 -2 1 0 2.5 2.5 2 0 1 -1 0 -3.5zM649 665l-0.5 -2 -5 -4.5 -2.5 -0.5 -1 -1 -1.5 -4 0.5 1.5 -0.5 2 -4 0 -4 2.5 -4 0 -2.5 2 -2 0 2 0 3 -2 4 0.5 3.5 -3 3 0 3 1.5 -0.5 3 -1 1 0.5 2.5 3 0.5 4 4 -2 -1.5 -1 -2 -2.5 -0.5 -2 -1.5 1.5 -3.5 1.5 -1.5 1 0 5.5 4.5zM611 651l-0.5 2 2 3 1 -0.5 0 -1 -1 -1 -0.5 -2.5zM558 659l-0.5 2.5 3 1 1.5 1.5 2 4.5 -3 2 -6 0.5 -0.5 1.5 1.5 2 0 2 -2 2 2 -2 0 -2 -1.5 -2 1.5 -2 2.5 0 2.5 1 1.5 1.5 0 1 2.5 -5 1.5 -0.5 1.5 2 0.5 3.5 4 0.5 -1.5 0 -2.5 -2 -0.5 -5 -3 -1 -2 -2 0 -1 1.5 -1.5 -0.5 -3 -2 -0.5 -0.5 2 -1.5 1.5 -2 -1.5 1 -2 2 -0.5 0.5 -3 6 -4 1.5 1.5 0.5 2.5 3 2.5 0 3 -3 2.5 -1 3.5 3.5 0.5 3.5 2.5 1 1.5 -0.5 2 -1 1 -1.5 0 2 0 1 -1 0 -2 1 -1.5 4 0.5 1 1 0 2.5 -1 1 -3.5 0.5 0.5 2.5 2.5 2 -2.5 -2 0 -2 2 -1 2 2 1 0 -1 -5.5 2 -0.5 5.5 3 0.5 3.5 1 1 7.5 0.5 1 1 -0.5 5.5 3 -1 3.5 -2.5 1.5 0 1.5 1.5 0 2.5 -2.5 3 2.5 -2 0 -4 -1 -1 -2 0 -4 1.5 -1 -1 -1 -3.5 -3.5 -1.5 -5 0.5 -1 -1.5 -0.5 -3.5 -2.5 0 -2.5 -1.5 -2 -2 -1.5 -3 -3.5 -0.5 -2.5 -1.5 1 2.5 -0.5 2.5 -5.5 -2.5 -1 -1 0 -2 3 -2.5 0.5 -3 -4 -4.5 -1 -2.5 -1.5 0 -2 2 -2.5 1 -1 3zM540 651l-2 0.5 0 1 2 2.5 0 1.5 -1 1 -3 0 -1.5 1.5 0 2 2.5 2.5 -1.5 3.5 0 2 0 -2 1.5 -2 0 -2 -2.5 -2 0 -2 1.5 -1.5 3.5 1 0.5 -3.5 1.5 -2.5 2.5 0.5 2 2 0.5 5 -1 -6zM632 649.5l-1.5 1 0.5 2 1 -0.5zM592.5 647.5l-1 0.5 2 1.5 0 3 -1.5 6 -1 0.5 -0.5 -2 -3.5 -2 0 -1.5 0.5 3 2 1.5 1 2 1 0 2 -3 -0.5 -2 0.5 -2 1.5 2 2.5 -0.5 0 -0.5 -1 1 -1.5 0 -1.5 -2 0.5 -3.5 1.5 -0.5 2 1 -1.5 -1 -2.5 0zM548.5 647l-1 0 -1 1.5 1.5 0.5zM638 647l3 -0.5 3 -1.5 6 3 0.5 1.5 -3 9.5 -5.5 -4.5 -0.5 -1.5 -4.5 -5zM570 643l1.5 0 1 1 -1.5 4 3 3.5 0 2 -1 1 -3 -2 -1.5 -3 -1.5 0 -1.5 -1.5 0 -1zM566 645.5l-1 3.5 3 0.5 2 2 0.5 2 3.5 2 0.5 5 2 1 3 -2.5 0.5 2 -1.5 1 0 1.5 1.5 1 3 0 1.5 4 1.5 1.5 2.5 0.5 1 -1.5 0 -2.5 -0.5 3 -2 1 -2 -1.5 -1.5 -5 -4 -0.5 1 -3 -0.5 -2 -1.5 0 -2 2 -1.5 -0.5 -0.5 -3 1.5 -2.5 2 -1.5 2 0.5 1.5 3.5 2 0 -1.5 0 -1 -1 -2 -4 -3.5 2 -4 -5.5 1 -4.5 -1 -1 -2 0zM575 642.5l-2 4 0 1.5 1.5 2.5 2 1 2 -4 1.5 -1.5 0 -2 -2 -1 1 0 1 2 -2.5 5 -2 1 -2.5 -3 1 -4 1.5 -1.5 1.5 0zM452.5 641.5l2 0 1.5 1 0 2 -2.5 2 -1.5 0 -1.5 -1.5 0 -2zM616 641l1.5 1 0 2 -1 1 -1.5 -1 0 -2zM450.5 642.5l0 2.5 1 1.5 2 0 2 -1 1 -1.5 -0.5 -2.5 -4 0zM495.5 640.5l2 0 2.5 4 2.5 0 1 1 0.5 5 -1 1 -4.5 -1.5 -2.5 -3.5 -3 -1.5 0.5 -2.5zM495.5 640.5l-2.5 2.5 -0.5 3 3 0.5 2 2 0.5 1.5 3.5 1.5 2 2 1 0 0.5 -2 -1.5 -4 0 -3 -1 -1 -2.5 0.5 -1.5 -3zM507.5 640l2.5 0 1.5 1 1 2 -0.5 3 0.5 1.5 1 -3 3.5 0 1 5 4 2 1.5 2.5 3 1.5 2 0 1.5 -1 4 0 1 1 -2 4.5 0.5 4 -1.5 2 0 2 0 -1 3 -2 0 -1.5 -1.5 -1.5 -0.5 -2 1 -2.5 2.5 -2.5 -1 -1 -4 0 -2 1 -4 -0.5 -2 -2 -0.5 -1.5 -3.5 -0.5 -1.5 -1 -0.5 -2.5 1.5 -2.5 -0.5 -1 -4.5 0.5 -1.5 -1 -1.5 -3zM650 639l-3.5 3.5 0.5 2 4 2 2 2.5 2 0.5 1.5 2 -0.5 4.5 -1.5 1.5 -2.5 -2 -1 3 2 0.5 1.5 -1.5 2 2 3 1 2 2 0 2.5 -2 4 -3.5 2 -5 -0.5 0 2 2 2 0 1 -1.5 -4 0.5 -0.5 4 0.5 4.5 -3 1 -3.5 0 -3.5 1 -1 3 0.5 -1.5 -0.5 1 -0.5 -3 -2.5 0 -1.5 1.5 -1.5 3.5 -0.5 -3 0.5 -1.5 -0.5 1.5 -1 3 -0.5 -5 1.5 -2 2.5 0.5 3 -2 0.5 -2 -2 -0.5 -8 -3 -2.5 -5 -2.5 -1 -1 0 -1.5 3 -2.5 1 0 3.5 4 4 0.5 8 -3 -6.5 -0.5 -2 2.5 -2.5 0.5zM527.5 638l1.5 0 1 1 -1.5 2.5 -1.5 0 -1 -1.5zM495 638.5l-5.5 6 0 4 5 2.5 2 0 -1 -2.5 -4 0.5 -1.5 -1.5 0 -2 3 -5 2.5 -2 2 0zM580.5 642.5l3 3 1.5 0 1.5 -2.5 2 0 1.5 2.5 3 0 0 -2 -2.5 -2.5 -1 -2.5 -2.5 -1.5 2.5 1.5 1 3.5 2 1.5 -0.5 1.5 -1.5 0 -0.5 -1.5 -1.5 -1 -2 0.5 -2 2 -2 0zM663 636l1 -0.5 1.5 2.5 -2 0.5 -1 -1.5zM628.5 635.5l1 2 -2 1 -0.5 2.5 -2.5 3.5 -2 0.5 -4 -3.5 -1 -3 1 -1.5 8 0.5 0.5 -1.5zM659 635l1.5 1.5 -1 1.5 -1.5 -1.5zM654.5 635l1.5 1 1.5 3.5 -1.5 2.5 -1.5 -0.5 -1.5 -2 0 -3.5zM551 636.5l0.5 2.5 -2 2 -1 3.5 -1.5 1 -2 0 -1 4.5 -4 -2 -3.5 0.5 -1 -1 1.5 -6.5 4.5 0 2.5 2 2 -3.5 0 -3 1 -1 2 -0.5zM662.5 635l-0.5 1 0.5 3 1 1 2.5 0 0.5 -1.5 -1.5 -3.5zM460 634.5l3.5 0.5 1.5 1.5 1 3 -2 1.5 -3.5 -1.5 -1.5 -2zM658.5 634.5l-0.5 3 2 2 1 -3.5 -1 -1.5zM652.5 634.5l0.5 5.5 1 1.5 2 1 1 -0.5 1 -2 -2 -5zM531 634.5l0.5 -0.5 2 0.5 1 2.5 -0.5 0.5 -2 -0.5 -1 -1zM475.5 633.5l-1.5 2 0.5 1.5 2 0 0.5 -1 -0.5 -2zM459.5 633.5l-1 1 0 4 3 2 4.5 0.5 0.5 -2 -1.5 -3.5 -2.5 -1.5zM648 633l-2 1 -0.5 2.5 1 0.5 2 -0.5zM515 632.5l1 -0.5 1.5 1.5 0 1 -2 0.5 -1 -1zM515 632l-0.5 3 4 0.5 -1 -3zM475.5 631.5l2.5 2 -0.5 5 -3.5 0 -1.5 -2 0.5 -2.5zM472.5 631.5l0.5 2 -1 3.5 -1 1 -2.5 0 -1.5 -2.5 4.5 -4zM451 631.5l2 -0.5 1 1.5 -2 1zM658.5 631l-1 1.5 2 0.5 0.5 -1zM607 631l-2 3 -0.5 9.5 4 2 -3 0.5 -2 3 -4.5 0 -0.5 1.5 1.5 -1.5 2.5 0.5 1.5 -0.5 2.5 -3 3 1 1 2 -2.5 3 2 2.5 0.5 2.5 4 1 1.5 1.5 0 1 -1.5 1 -2.5 -0.5 -2.5 -2 -2 -0.5 3 2 4.5 1 2 2 0 3.5 1 2.5 -0.5 -5.5 2 -1.5 1.5 0 -3.5 0 -1 -1 -0.5 -2.5 -1.5 -1.5 -3 0 -1 -1 -2 -4 0 -1 2.5 -2.5 -1.5 -2 1 -0.5 2 1 1 1.5 2 0.5 1 1.5 0 -1 -2.5 -2 0.5 -1 12.5 -1 2 3.5 0 1.5 0 -2.5 -1 -1.5 -0.5 -3 -2.5 2 -2 0.5 -1.5 -0.5 -6.5 0.5 -1 -1 0 -1.5 -0.5 3 -2.5 0 -2.5 -1.5 -2 -2 -1.5 -4.5 0.5 -4.5 1.5 -2 2 -1 2.5 0 1 1 0 1 -3.5 5.5 0 1.5 3.5 1 1 1.5 -1 -1.5 -3 -1.5 0 -2 2.5 -3 1 -2.5 -0.5 -1 -1.5 -0.5zM514.5 631l2.5 -0.5 2 2 1.5 3 -1 2 -7 -1 0.5 -3.5zM614.5 632.5l0 2 -1 2 -2.5 2 0 1.5 2.5 0.5 1 1 1 3.5 1.5 0 2 -2.5 2.5 2 2 0.5 2 -1.5 1.5 -3 1.5 -1 0.5 5 1 2 1.5 1 3 0 3.5 1.5 3.5 5.5 5 5 2 0.5 0.5 -5 1.5 -4.5 -0.5 -3 -4.5 -2 -1.5 -1.5 -1.5 0 -2.5 2.5 -5 0.5 -1 -1 0 -2.5 0 2.5 -1 1 -2 0 -2 -2.5 0 -3 1 -1.5 0 -1.5 3 -2.5 0 -2 0 1 -2 1.5 -3.5 -2 -1 -2 1.5 -2.5 -2 3 -2.5 0.5 -1.5 -1 0 -3 0 3 1 1 2.5 0 1 1 0 2 -1 1 -4.5 0 -2.5 -1.5 -3 -4zM600 628l1.5 1 -0.5 5.5 -2.5 0.5 -1.5 -1.5zM599.5 627.5l-1.5 3.5 -2.5 2 0 2 6.5 4 1.5 -2 -1 -7.5 -1 -1.5zM551.5 630l0.5 2 -1.5 1.5 -5 0.5 -1.5 3 -2 2 -3 0 -2 -2.5 0 -2.5 1.5 -1.5 4.5 0 1.5 -3 2.5 -2.5 1.5 0zM478 627l1.5 0 2 3 4.5 0.5 1 1 -0.5 2.5 -4.5 4.5 -3 -0.5 -1 -1.5 0 -4 -1.5 -2 0 -2zM449.5 628l1 -1 5 0 1 1 0.5 3 -0.5 0.5 -3 -1.5 -3.5 0zM493 627l1 1 0 2 -2.5 0.5 -1 -1 0 -2 1 -0.5 -1 0.5 0 2 3 1.5 0.5 1 -2 2 -3 0 -2.5 2.5 -1 4 -3 5 -2 2 0 1.5 5.5 0.5 1 2.5 0.5 -0.5 -1 -2 -4 -0.5 -1.5 -1.5 4.5 -6 1.5 -4.5 2.5 -2.5 3.5 -1 3 -2.5 2.5 0 -4 0 -0.5 -3zM429 627l1.5 0 3 3 2 1 0.5 1 -1.5 2 1.5 -1 0.5 -1.5 -0.5 -2 -3 -2zM607 625l1.5 -0.5 4 2 1 2.5 -1.5 1 -2.5 -0.5zM553 624.5l2 0.5 1.5 1.5 0.5 3 -1.5 2.5 -1.5 0 -3 -4 0.5 -2.5zM438 625.5l2 -1 4 3.5 -1 1 -4 -0.5 -1 -1zM607.5 624l-0.5 2.5 2 3 4 0.5 0.5 -2.5 -3 -1.5 -2 -2zM427.5 625l4 0.5 2.5 -0.5 0.5 -1 -6 -0.5 -1 0.5zM443.5 621l2 0.5 1 1.5 0 1 -1.5 1.5 -1.5 0 -1.5 -2 0 -1zM519.5 620l-0.5 3 0.5 1.5 1 0.5 1 -1 0 -2 -1 -2zM551 622l-0.5 1.5 -3.5 2 -3.5 3.5 -2 0 -3 -2 0.5 -0.5 4 0.5 3 -3 1.5 -0.5 1 -1 0 -1.5 -2 -1.5 0.5 -0.5 2 0.5zM519.5 618.5l2 1 1.5 4 -0.5 1.5 -2 2 -1.5 -1 -1 -2 0 -4zM619 624l-4.5 0.5 -2 -3 0 -3 0 3 1 2.5 -1.5 1 -2.5 -2 -2.5 -0.5 -1 0.5 -0.5 2.5 -1.5 1.5 -2 0 -3 -1.5 -1 -2 -1 1 -2.5 0 -1 -1 1 1 2 0 1.5 1 -0.5 3 -1.5 2 -1 0.5 -3.5 -0.5 -1 -1 0 -1.5 -1.5 2 -1 0 -1.5 -1.5 1.5 1.5 2 0 1 1 0.5 5.5 2.5 0.5 4.5 3 1.5 3 -0.5 2 -4 -0.5 -4 -4.5 -0.5 -2.5 -3 -1 3 2 0.5 2 4 4.5 7 2.5 1 -1 0 -2 -5.5 -6 -3.5 -1.5 -2.5 -2.5 -0.5 -1.5 0.5 -1 4.5 -1.5 1.5 -4 1.5 -1 3.5 2 1.5 0 1 -3.5 1.5 -1.5 1.5 0 3 2.5 2 0 1 1 1 4 2.5 3 3.5 3 2.5 0.5 0.5 -1.5 -3 -0.5 -1 -1 0.5 -4.5 0 2 -1.5 2.5 -4.5 -4.5 0 -3.5 2.5 -1.5zM519.5 617.5l-1.5 1.5 0 5.5 1.5 3.5 1 0 3 -4.5 -2 -5zM539.5 616.5l3 0 4.5 5 -5.5 5 -3 -0.5 -3 -2 0 -2.5 1 -2.5zM467 617.5l1.5 -1.5 2 0 2 1 2 2 1.5 3 3 1 -0.5 1 -2.5 1 -2 -2 -6 0.5 -1.5 -2zM428.5 616l2 0.5 2.5 2.5 0 1.5 -1.5 1.5 -4.5 0.5 -1 -1 0 -2.5zM526.5 615.5l-0.5 1 1.5 1.5 1 -2zM499 615.5l2 -0.5 1.5 2 -1 1 -1.5 0 -1 -1zM495.5 614.5l2 1.5 0 1.5 -1 1 -1.5 0 -1.5 -1.5 0 -1zM493.5 615.5l0.5 2.5 3.5 0.5 0 -3 -1 -1 -1.5 0zM451.5 614l-1 2.5 1.5 2.5 1 -0.5 0 -3zM446 612l-2 0 -1 1 0 1.5 2.5 -0.5zM532.5 611l0.5 -0.5 3.5 0.5 1.5 1 0.5 2 3.5 0.5 2 1.5 -1 0.5 -1.5 -1 -1.5 0 -2 1 -2.5 4 -0.5 -1.5 2 -3 0 -1.5 -2.5 -1zM517.5 608.5l1 -1 1.5 0 1 1.5 -2.5 0.5zM486.5 608l1 -0.5 1 1.5 -1 1zM463.5 608.5l0.5 1 2 0 -1 -1.5zM542.5 607l3.5 1 3.5 3.5 1.5 3 0 3 -1.5 1.5 -3 -0.5 -4 -4.5 -2.5 -1.5 1 -4zM534 608.5l2.5 -1.5 1 1 0 1.5 -2.5 0.5zM449 608l1 -1 2 0 0.5 2 -2 1zM486 607l-0.5 1.5 2.5 2 0.5 -3zM460.5 608l1.5 -1.5 5.5 1 3 6 4.5 4.5 -0.5 1 -2.5 -2.5 -4 -2.5 -1.5 3.5 -0.5 4.5 0.5 2 5.5 -1 1.5 0.5 1 2 3 0 2 -1.5 0.5 -2 -3.5 -0.5 -2 -2.5 0.5 -0.5 1.5 1.5 3.5 0 4.5 -2.5 0.5 1.5 -3.5 3.5 -0.5 2.5 5 0.5 1 1 0 3 -1 1 -3.5 0 -1 -1 0.5 -0.5 1 0.5 -1 -1 0 -1.5 3 -0.5 1 1 -1 2 1 -1 -1 -2 -2.5 0 -1 3 -1 -1 0 -1.5 -2 -0.5 -2.5 1 -2.5 3 -1.5 0 -2 -2 0 -1.5 1.5 -2 -6 1 -2.5 -0.5 -1 -1.5 2.5 -1.5 1 -2.5 -0.5 -2 0.5 -6 -2.5 -0.5 -1 1.5 0 1.5 -2 1 -1 -1 0 -2.5zM434 601l2.5 4.5 0 2.5 -1.5 1.5 -0.5 4 -2 1 -1.5 -2 0 -1.5 3 -1.5 -1 -2 -1.5 -0.5 -1 2.5 -3 0 -1 -1 1 -2 3 -0.5 0 -1.5 -1 -1.5 1 1.5 -0.5 1 -3.5 1.5 -0.5 1.5 1 1 3.5 1 0.5 4.5 -4 2 -0.5 -1 3 -2 0 -2.5 -3 -0.5 -0.5 1.5 -2.5 2 -1.5 3 -0.5 -1 -0.5 1 0.5 -0.5 0.5 0.5 -0.5 1 1.5 -3 3 -2.5 1 -2 1.5 0 1 2 -3 2 -1.5 5 -2 2 1.5 -1 1 -2.5 0.5 4 6 -0.5 2 -1.5 0.5 -2 2.5 -2 0 -1 -1.5 -1.5 0 -3 1.5 -2.5 0.5 -2.5 -3 -3.5zM460.5 605.5l-0.5 0.5 -5 0 -3 -2 -4 -1 -1 -1.5 0.5 -0.5 2 1.5 2 0 4 2 2.5 0 0.5 -0.5 -2 -3.5 0.5 -1 3.5 4.5zM475 597.5l1 0 1 2 4.5 4 -1 2 -3 -0.5 -4 -4 0 -1.5zM447 598l4 -2.5 1 0.5 4.5 5 0 2 -1.5 0.5 -6 -1.5 -1.5 -1.5zM563 595l-1.5 3 -1.5 0 -1 -1 0 -1 0.5 2 2 1.5 1.5 4 0 1.5 -2.5 3 4 2 -3 -1.5 1.5 -3 0 -2 -1.5 -4.5 2.5 -2.5zM574.5 593.5l-1 2.5 2 1 0 -2.5 -0.5 0.5 -0.5 -0.5 0.5 -1zM546 592l-1.5 3 -0.5 4 -2 4 0 1.5 1.5 1.5 -0.5 0.5 -2 -1 0 -5 0.5 -0.5 -2 -0.5 -1 1 0 5 -1 1 -3 0.5 -2.5 3 -6.5 -6 0 -3 2.5 -2.5 0.5 -1.5 -3.5 4 0 4 5 4 1 2.5 5 4.5 -2 6 0 2.5 5.5 4 0 1.5 -1.5 1.5 -2 0.5 -2.5 -1.5 -1.5 -3 -2 0 -4.5 4.5 2 4 -3 3 0 1 3 3 2 0 2 -2 2 1 0.5 1 -0.5 8.5 -3.5 2 -2 0.5 -2.5 -2 0 -2 1 -2 -3.5 0 -1.5 1 -1.5 0 -1 -1 1.5 -3 -0.5 -3.5 -3 1.5 -2 0 -2 -2 -0.5 -1.5 1.5 -2.5 3.5 0 1.5 1 1.5 0 0 -3.5 -2.5 -4 -3.5 0.5 -1.5 1.5 -1 3.5 -3.5 2.5 -3.5 0 -1.5 -1.5 0 -1 1 2.5 4.5 0 3 -1 1 4 2 1.5 4.5 -1 1 1 0 1.5 -1.5 2 0 2 1.5 1 4 -1 1 4.5 2 1 6.5 -2 0.5 -9 -1 -2 -1.5 -1 -3 3 -1.5 0 -1 -1 2.5 -0.5 1.5 -2.5 2 -1 2.5 2.5 1 2.5 -1 4.5 0.5 2 1 0.5 3 -1.5 3.5 2.5 2.5 0.5 1.5 2 0 4 0.5 -5.5 4 -4.5 5 0.5 2 -1.5 2 0 1 1.5 0 1.5 -3 2 0 2 1 1 -1 2 -5.5 -2.5 -3 0 -1 1 1 1.5 4 0.5 2 1.5 -0.5 5.5 3 2 0 1.5 -1.5 1.5 -4 1 0 2 1.5 2.5 -1.5 -3.5 1.5 -1.5 4 -1 1 -1.5 0 -2 -2.5 -0.5 -1 -1 0.5 -5.5 3.5 -2 0 -2 -1 -2 1 -1 3.5 1 0.5 -2 -2 -1.5 -1 -2 -1.5 -0.5 -4 2 -4 -1 -3.5 4 -1 0.5 -1.5 -0.5 -0.5 -1 0.5 -3.5 2.5 -1 2 -4 3.5 -2 -2 -3.5 -1.5 -1 -3.5 0.5 -3 5 -2 0.5 -3 -0.5 -2 -1.5 -1.5 -4.5 -4 -4 -1 0 -1.5 1.5 1 4.5 -2 1.5 -1 -0.5 1.5 -1.5 -1.5 -3 0 -1.5 4.5 -3.5 2 3 3.5 2.5 0 2.5 1 2 2 1.5 2 0 2 -1 1 -2.5 2 -2 3.5 -0.5 2 0.5 4 4.5 -0.5 2.5 -3 0.5 -1.5 1 -0.5 3 5 1 4 -2 2.5 0 0.5 -0.5 -0.5 -3.5 1.5 -2 1.5 0 -2.5 0.5 -0.5 3.5 -1.5 1.5 -4 2 -3.5 0 -2 -1 0 -2 1 -1 3.5 -0.5 1 -1 0 -2.5 -1.5 -3 2 -1 1 2 1.5 0 0 -1.5 -2.5 -2.5 -0.5 -8 2.5 -2 1.5 0.5 3 5.5 0 3.5 1.5 1 -1.5 -2 0 -3 -2 -3 -0.5 -3 -2 -0.5 -3 2 -2 0 -2 -3 0 -2.5 -2 -7.5 -3.5 -2 4.5 -0.5 1 1 0 4 4 1.5 1.5 4 -2 1.5 0 1 1 0 2.5 -2 4.5 1.5 3 -0.5 -4.5 0 -2 -1 -3 -3 -1 -2 -3 -2.5 -0.5 -3 -1 -1.5 -4 1 -3.5 -1.5 -1.5 -1.5 0 -2 2 -3.5 0.5 -5 1.5 -1.5 3.5 0zM518 590l0.5 3.5 2.5 0 3 -1.5 1.5 1.5 2 0.5 1 1.5 -1 -1.5 -1.5 -0.5 -2 -2 -4.5 2 -1.5 -2zM567 589l0 1 -3.5 2.5 1.5 2 0 2.5 -2 2.5 0 1.5 2 -4 -0.5 -4 2.5 -2zM531.5 588l5 5 -0.5 2.5 -2.5 -2.5 -1.5 0 -2 -1.5 0 -2zM450 592l4.5 -4.5 1.5 0 1 2 -1.5 3 4.5 -0.5 1 1 -0.5 3.5 1.5 1.5 0 3.5 1.5 0.5 4.5 -3.5 2 1.5 1 2.5 4 4 6.5 1 2 1 2.5 2.5 1.5 3.5 2.5 0.5 2 3.5 3 2.5 -0.5 3 -1.5 1.5 -3 0 -2 -2 -2 2 -3.5 0 -1 -1 0 -1.5 3.5 -3 1 -4.5 -1 0 -3 3.5 -2.5 1 -2.5 0 -5.5 -6 -1.5 -3.5 0 -2 -2 -2 -5 -0.5 -1.5 -1.5 0 -1.5 -7.5 -6.5 -1 -2.5 -2 -0.5zM495 587l2 2.5 -0.5 2.5 -2 -4zM565 588l-1 -1 1 1 0 1.5 -3 2 -3 0.5 -0.5 -4 1 -1.5 -1 1.5 -0.5 3 -1.5 1.5 -3 0 4.5 0 0.5 2 1.5 -2 4 -2 1 -1zM459 586.5l-0.5 2 1.5 1.5 1 -2.5 -0.5 -1zM464 585.5l2.5 1.5 0 2.5 -2 1.5 -1.5 0 -1 -1.5 0 -2zM450 585l1 2 -1.5 2.5 -1.5 0 -0.5 -2.5zM454.5 584l-5.5 0 -1.5 2.5 -0.5 2 1 2 1.5 -0.5zM517 580.5l0 1.5 -1.5 1.5 -3.5 -1.5 -0.5 1.5 -2 2 -1 -0.5 2 -2.5 -3 3.5 0.5 0.5 2.5 -1.5 2 -2.5 3.5 1 1 -1.5zM484 580.5l-0.5 0.5 0.5 1 1.5 0.5 0 -2zM481.5 579l1.5 5.5 -3.5 3 -4.5 0.5 -1.5 -1.5 0 -2.5 3 -2 2 -3 1 -0.5zM457 578l-2.5 3 -1.5 0.5 -3 -1 -1.5 -1.5 1.5 2 2.5 1 3 -1zM494.5 576.5l-1 2 0.5 2 1.5 0.5 0.5 -3.5zM479 575l-0.5 0.5 0.5 1.5 1.5 0 0 -1.5zM483 571l-0.5 2 1 0.5 0.5 -2zM479.5 571l-0.5 1.5 0.5 1 1.5 0 0 -2zM477 570.5l0.5 3 -3.5 1 -0.5 -2 2 -2zM513.5 568.5l1 -1 2 0.5 -1 1.5zM491.5 569.5l1 1 0 3 -2.5 2.5 -1.5 0 -3.5 2.5 -2 0 -1 -1.5 3 -3.5 0 -4 -1 -1.5 1.5 -0.5zM522.5 567l3 -0.5 0.5 1.5 -2 1.5 -1.5 -1zM516 567l-2.5 0.5 -0.5 1.5 1.5 1 2 -0.5 0.5 -1.5zM530.5 566.5l1.5 -1 2.5 1.5 4.5 0.5 1 1.5 -2 1.5 -4.5 0.5 -2.5 -1.5zM415 565.5l2 -0.5 0.5 1.5 -1.5 0.5zM496 566.5l-1.5 0.5 -2 2 -2.5 0 -2.5 -1 -1 -2.5 -1 -0.5 -1.5 0.5 -1 3.5 2 1.5 0 3 -2.5 1.5 -0.5 2 -1.5 1.5 -2 0 -1 -2 -2 -1 -1 2 2.5 1.5 0 2 -3 1.5 -3 -2 -0.5 0.5 2 1.5 0 3 -1 1.5 -2 0.5 -1 2 -3.5 3 0 1.5 1.5 2 2 0.5 1 -4.5 2 -2 2 -0.5 3 1 -0.5 3 -4 7 5 5 4 0.5 1.5 -1 0 -2 -5 -4 -1 -3.5 1.5 -2 1.5 0 2 -1.5 -0.5 -1.5 -1.5 -1 0 -1 4 -3 -1 -5.5 1 -1 3 0 1 2 0 3.5 2.5 -1.5 2 0 3 3.5 -0.5 1 -2.5 -2.5 -2 0.5 -2 3.5 -1.5 0 -1.5 -2 -1 0 -2 1.5 0.5 4.5 -4.5 2.5 0.5 3 5.5 3 2 -3 2 0 1 1 0 2 -1 1 -3 0.5 0 2 3 0.5 2 2.5 0 3.5 -1.5 1.5 -3 -2.5 -2 -3 -6 -0.5 -2 -1 -4.5 -4.5 0 -2.5 2.5 -3 -0.5 -3.5 -2 1 -1.5 4 -2.5 0.5 -2 -1.5 -2 -2.5 0 -1.5 4 -3 -0.5 -4 -4 0 -0.5 4 -1 1.5 -2.5 0 -1 -1 0 -2 -1 -1.5 -2.5 0.5 -5.5 5 0 1.5 4 1 1 1 -0.5 1 -1 -1 -3.5 0.5 -3.5 -3 -4.5 2 -1.5 -0.5 2 0.5 3 -2 3 2 0.5 2 -1.5 1 -7.5 1 0.5 0.5 5 -1.5 1.5 0 1.5 1 0.5 1 -0.5 1.5 -1 -2 -1.5 -0.5 2 1.5 1 2.5 3 2 -2 2 0 3 1 1 2.5 0.5 3 -4.5 3.5 0 1 1 -1 3.5 0 5 1 1 3.5 -1 2 2 -0.5 3 -1.5 1 -2 0 -1.5 1.5 4 3 5 -1 1 1 0 2.5 -1 1 -4 2 -1.5 0 -4 -2 -2.5 -4.5 -5 0 -1.5 -1.5 -0.5 -3 -6.5 -3 -1.5 -3 -3 -1 -1.5 -2.5 2 -3.5 0.5 -3.5 -0.5 -1.5 -2 -0.5 -1.5 -1.5 0 -1.5 1 -0.5 -1 0.5 0.5 2.5 3 2 0 3.5 -2 3 0 2.5 3.5 3 -1 1.5 -3 1.5 -0.5 2.5 3.5 -0.5 2.5 2 1 2 -1 0.5 -2 -2.5 -1.5 0 -1.5 1.5 0 2.5 0.5 1 7.5 1 0.5 -1 -3 -2.5 0.5 -0.5 3.5 0.5 0.5 -2.5 1.5 -0.5 1 1 0 2 -2 2 0.5 1 2 1 0 2.5 -1 1 -2 0 -3.5 -3 -5 -0.5 -2.5 5.5 1.5 -4 1.5 -1.5 4 0.5 2 2 0.5 1.5 2.5 0.5 1 1 0 2 -2 1.5 0 1.5 2.5 5 0 2.5 -1 1 1 -1 -1 -6.5 2.5 -2.5 -1 -1.5 0 -2 1 -1 2.5 0 2 2.5 1 -5.5 1.5 -0.5 7.5 2.5 1 1 1 3.5 1.5 1 2 0 3 4.5 -1 3 -1.5 1.5 -1 -1 -0.5 -3.5 -1 -1 -5 0.5 -2.5 -1.5 -3 0 -1.5 5.5 4.5 0 1.5 1.5 -3.5 2 0 1.5 1 -2 1.5 0 1 1 0 2 -1 1 2 -2.5 3.5 0.5 1.5 1.5 -4 -3.5 -1.5 -3 -4.5 -0.5 -1 -1 0 -2.5 1.5 -1.5 1.5 0 3.5 2 3 -0.5 1.5 1 1 3.5 2 1 3.5 -4.5 -2 -2.5 0 -1.5 1 -1 2.5 0 2 2.5 2.5 1.5 0 1.5 -2.5 2.5 -1 5.5 0.5 0.5 2 -0.5 2.5 -2.5 2 0.5 1 1.5 -2 -2 -4 2 -1.5 -1 0.5 -3.5 3 -3.5 0 -1.5 -2 -1 -1.5 -2 2 -1 3 1.5 1 -4 2.5 -2.5 2 -3.5 0 -3.5 1 -1 3 0 1.5 -1 1 -3.5 -3.5 -3 -0.5 -2.5 1 -1.5 5 -1.5 0.5 -3 -0.5 -6 1.5 -1 3 -0.5 1.5 -1.5 0 -2.5 -2 -3 0.5 -0.5 2 1.5 1.5 4.5 -1.5 2 -3.5 1 -1.5 1.5 1.5 1.5 3.5 -0.5 1 1 0 2.5 -1 1 -4 0 -0.5 2 3.5 1.5 2 3 2 1.5 3.5 -2 0 -1.5 -1.5 -3 4 -3 0 -1.5 -3 -2 -0.5 -2 2 -1.5 5 0 0.5 0.5 -1.5 1 -4.5 0.5 1 1.5 3 2 0 1 -4.5 3.5 2 4 -4.5 4 -2 0 -4.5 -5 -1 -0.5 -1.5 0.5 0 2.5 3 2 0 2 -6 4.5 0.5 3 -0.5 -2.5 3.5 -3 2 -0.5 2 -4 2.5 1.5 1.5 0 5.5 -4.5 0 -1 -2 -2 1 -2 3 -1.5 6 0.5 2.5 2.5 0.5 -0.5 -2.5 -4.5 -5 0 -4.5 -3 0.5 -1 3 0 6 -3 0 -1.5 -1.5 -0.5 -8 -8 -1 0 1 0 2 2 0 1.5 -2 1 -1 2 2 0 1.5 -2 1.5 0 5 5 -3 2 -0.5 -0.5 1.5 -1 0 -1 -3 -2.5 -3 1.5 -2.5 0 -1 -1 0 -1.5 2.5 -2.5 0 -1.5 -2 -0.5 1 0 1 1.5 -2.5 2.5 -0.5 2 2.5 1.5 3 -1.5 2 0 2 2 0 1 -2 1.5 -7 0.5 -0.5 2 3.5 4 -4.5 3.5 2 4 -2.5 2 -4.5 -4.5 -2.5 -1.5 1 -1 2 0.5 2 -1.5 0 -3.5 -2 -2.5 3 -3.5 -3 -6 -2.5 0.5 2 1.5 0.5 2.5 -1.5 2.5 -4 0.5 -2.5 -3.5 -0.5 1.5 1.5 3 -0.5 5.5 1 1.5 0 2 -2 1.5 -3.5 0 -1 -1 -0.5 -5 -2.5 -3 2 -3 0 -2 -1 -1.5 -3 -0.5 -3 2 -2 0 -1.5 -1 -0.5 -3 1.5 -1 3 -0.5 1.5 -4 3 0.5 3.5 -4.5 1.5 0 2 2 2.5 6 1 0.5 3 -0.5 -2 0.5 -1.5 -0.5 1 -0.5 -1.5 -2 0 -3 -1.5 -1.5 -1 -3 2.5 -2.5 0.5 -5.5 4 -5.5 -3.5 3.5 -0.5 6 -2 2.5 -2 0.5 -1.5 -1.5 -0.5 -2 -4.5 -1 1 -2 3.5 -1 2.5 -3.5 2 0 2 -1.5 -1 -3.5 1 2.5 -2 2 -3 -1.5 0.5 -2zM535.5 564.5l1 -1 2.5 0.5 -1.5 1.5zM512 565l0.5 1 4.5 -0.5 -0.5 -1.5 -3.5 0zM480.5 563.5l1 1 0 1.5 -2 2 -1 -1 0 -1.5zM534.5 564l0 1 2 1 2.5 -0.5 2.5 1 2 -0.5 -0.5 -2.5 -1.5 -1 -5 0zM422 561l1 -1.5 1.5 0 1 1 -1.5 2zM527.5 561l0 2.5 2 2.5 1 3.5 1.5 1.5 4 0.5 5 -2 0.5 -1 -1 -1 -5 -0.5 -2.5 -2 -0.5 -1 3.5 -3.5 -0.5 -0.5 -4.5 -0.5 -2.5 0.5zM422.5 559.5l-1 1.5 0.5 1 2.5 0.5 1 -2.5zM523.5 558.5l2.5 0.5 0 5 -1 1.5 -2 0 -1.5 -3 0 -2.5zM432 559l-0.5 1 0.5 4 -1 1.5 -2 0.5 2 -0.5 2 -2 3 2.5 -2 -2.5 -1 -4zM511.5 556.5l-4 4.5 1 -1.5 3 -1.5 1.5 0 1.5 1 3 0.5 1.5 2 -1 1 -6.5 -1 -2 3 -1 3.5 -1 -1 0 -2.5 -0.5 4 -2 1 2.5 -0.5 1.5 1.5 0 2 -1.5 1.5 -5 2.5 1 1.5 2.5 0 -2 0 -1 -1.5 3.5 -2.5 2 0 0.5 2.5 -1 1 1.5 -3 2 -1 2 1 2.5 4 0 2.5 -1 0.5 -3 -1.5 -1 1.5 1 -1.5 2.5 1.5 1.5 0 0 -3 -2 -3.5 -4.5 -2.5 0.5 -8 1.5 -2 5 0 2.5 2.5 1 0 0.5 -1.5 -1.5 -4.5 -3.5 0zM467.5 556l-1.5 1.5 2.5 -1 3.5 4.5 1 3.5 -1.5 0.5 -2.5 -3.5 -2 0 2 0 2 3.5 1 0.5 1 -0.5 0 -2 -1.5 -3.5 -2.5 -3.5zM541.5 555.5l-2 1.5 -1.5 3 4 0.5 2 1.5 0.5 5.5 2.5 3 1 0 1.5 -2.5 -1.5 1.5 -2.5 -1 -1 -2.5 -0.5 -5 -3 -2.5 0 -1.5 2.5 -1.5zM421.5 555l3 -1.5 2.5 3.5 -1 1 -3 0 -1.5 -1zM410.5 553.5l1.5 1.5 0.5 2 -1 1 -2 -1 3 1.5 0.5 -3 -1 -1.5zM425 553.5l-1 -0.5 -2 0.5 -1.5 3 0.5 1.5 4.5 0 1.5 1.5 -0.5 2.5 -2 2 -2 0.5 -2.5 -1 -2 1 -2 0 -4 -1 -0.5 1 4 3.5 2 0 2 -2 3.5 1 5 -1.5 -4 -0.5 3 -3.5 1 -2.5 2 2.5 0 2.5 -1 1 1 -1 -0.5 -5zM487 554l-3 -1.5 -5.5 3.5 -1 1.5 -3.5 1 -0.5 3.5 1.5 3 -1.5 1.5 -3 0 -1 -1.5 0.5 1.5 5 0 0.5 2 -7 8 -4.5 -0.5 0 2 -1 2 -1.5 1 -1.5 0 -1.5 -1.5 0 -3.5 0 5.5 5.5 2 1 -0.5 -0.5 -2 1 -2 4 -3 3.5 -4.5 0.5 1 -3.5 4.5 0 1 2.5 0.5 0.5 -2.5 1.5 -1.5 3 0 0.5 -5 3 -1.5 1.5 -4.5 -2 -0.5 -2.5 3 0 3 -2.5 1.5 -1 -0.5 2 -3 0 -1.5 6 -6 3.5 -0.5 -3 0 -6.5 6 -2 -1 -1 -2 0 -2.5 10.5 -6.5zM432 551.5l2 1 0 1.5 -1 1 -1 0 -1.5 -1.5zM527.5 551l2 1.5 -1 2 -2 -1 0 -1.5zM431.5 551.5l-1 1 0.5 2.5 2 0.5 1 -1 0 -3zM526.5 551l0 3.5 2.5 0.5 1 -1.5 -0.5 -2zM481 551.5l0 1 -4.5 4 -1.5 0 -1.5 -2 0 -2 1.5 -1 4 -1zM521.5 556l-1 -5.5 -1 0 -0.5 1.5 -1 0.5 0 4 -1.5 1 -2 -0.5 -5 -6 2 2 1.5 3 2 1.5 3 -0.5 0 -4 2 -2 1 1 0 2.5 -1 1 -1 -1.5 0 1 1.5 1.5zM414.5 549l2 0.5 2 4 0.5 6.5 -1.5 2.5 -2.5 0 -1.5 -1.5 1 -3.5 0 -5.5 -0.5 -0.5zM415 548l-1.5 1 1 8 -1.5 4 1.5 1.5 2 0.5 1.5 -0.5 1 -1.5 0.5 -8 -2 -2 -1 -2.5zM482 549l-0.5 1 -7 1 -1.5 -1 1.5 -2 4 -1.5 1.5 0.5zM418.5 546l1 0 2 2.5 -1 2 -2 -1 -0.5 -1.5zM530.5 543.5l0 1.5 -1.5 1.5 -3.5 0.5 -0.5 1.5 -2 1 -1 1.5 0.5 4 2 2 -3.5 2.5 0 2.5 1 2.5 -0.5 1.5 -2.5 0.5 -2.5 4.5 -1.5 0.5 -3 -0.5 0 1 5.5 5 0 2 2.5 -2.5 0 -1 -1 -1 -1.5 1 -1.5 0 -2.5 -3 1 -1 2.5 -0.5 2.5 -4 1 0 2.5 2.5 4.5 -1 2 2 1 3 -1 3 -2.5 2.5 -1 2.5 2 -1.5 1.5 0 3 2 2 -2 1.5 -0.5 2.5 1.5 2 2 0.5 2 4 3.5 0 1.5 -3 2.5 -2 4 -2 -0.5 -1.5 -4 -2 -1 -2 -3 -2 0.5 -1.5 4 -3 -1.5 4 2.5 0 2.5 0 -2 1 -1 2.5 0.5 2 2.5 0 3.5 1.5 2.5 0 2.5 -1 1 -3 0.5 -4.5 -3 -0.5 -1.5 1.5 -4 0 1 -2 2.5 0 2.5 4 3.5 1 0 1.5 -1 3 -0.5 0.5 -3 -1 -2 0 -2.5 4 -1 1.5 -4 3 -1.5 0.5 -1.5 -1 -2 0.5 -1 2.5 4 5 1 -4.5 -1 -2 -3 -3.5 -3 1 -5.5 -1.5 -1 -2 0 -3.5 -2.5 0 -1.5 1.5 -1.5 5.5 -2 6.5 6 -2 -3.5 -4 -3.5 -7.5 2.5 -2 1.5 0.5 2 1.5 1.5 3.5 2 2.5 -0.5 1 1 0 1.5 -1 1.5 0 2 1 1 -0.5 0.5 -2 -1.5 0 -3 -7 -3.5 -1 -2.5 -1.5 0 -0.5 1 0.5 1 2 1 0 1 -1.5 1.5 -2.5 -2 -2 1 -1 -0.5 3 -3 2 -3.5 0 -1 -5 -7.5 -0.5 -2.5 0.5 -2.5 5 -3 5 0.5 4.5 -4.5 -4 4 -2 0.5 -3.5 -1.5 -3 2.5 -2.5 0 -0.5 -2 -3 -2 -0.5 -3 1 -1.5 2 -0.5 2 -2.5 3.5 -1zM432 542l1.5 0.5 0 3 -1 1 -1 0 -1.5 -2zM457 541l-6.5 5.5 0 1 0 -1 1.5 -1.5 4.5 -2.5 1 1 0.5 3 4.5 2 3.5 4.5 -1 2.5 -1.5 1.5 2.5 -2.5 0.5 -1.5 -4 -4.5 -2 -0.5 -2.5 -2 0 -2.5 2 -2.5 -1.5 -0.5zM470.5 539l2 -0.5 2.5 2 -2 1 -1.5 -0.5zM523.5 538l2.5 2.5 -0.5 2.5 -2 2.5 -4.5 -0.5 -1 -2 -1 1 0 1.5 1.5 1 1 2.5 1.5 0 1 -2 3 -2 1 -4.5zM558.5 536l1.5 -1 1.5 2 -2 1zM559 535l-0.5 2 1 1 1.5 0 0.5 -2 -1 -1zM560.5 532l0 1 2.5 2 0.5 2 -1.5 2 -1.5 0.5 2.5 0.5 -1.5 2 3.5 -2.5 0 -2 -1.5 -1 -1 -3zM553 532.5l2 -1.5 1.5 0.5 -1 1.5zM414.5 530l2 0.5 2 3 -0.5 4 -1 1.5 -1 0 -1.5 -1.5 -1.5 -4 0 -2.5zM414 529.5l-1.5 3 2 4 0 2.5 -2 1.5 1.5 0 1.5 1.5 2 0.5 1 3 -5 1 -1.5 1 2 -1 2.5 0 1.5 1.5 0.5 2 1 1 1.5 0 0.5 -3 -2 -3 0 -1.5 1.5 -1.5 0 -1 -3 -2.5 0.5 -4 -0.5 -2.5 -2 -2zM558.5 530.5l-1.5 0 -1.5 -1.5 0 1 -2.5 2 0 1 3.5 0zM433.5 528.5l-2 0.5 -5 3.5 0 2 1 1.5 3.5 2 1.5 2 0 1 -2.5 3.5 0.5 1.5 1 0.5 2 -1 0.5 -2.5 1 -1 1 0 1.5 2 0 1.5 -0.5 -3 -3 -1.5 -3 -4 -1.5 0 -2.5 -2.5 0 -1.5 1.5 -1.5 4 -1.5 3.5 4 1.5 0 1 -1 1.5 0.5 0 4 2 2.5 2.5 0 1 -1.5 0 -1 0 1 -1.5 1.5 -1.5 0 -2 -2 -0.5 -1.5 0.5 -3.5 -0.5 -0.5 -4 0.5zM519.5 527l3 0.5 2.5 2.5 -0.5 3 0.5 1.5 -1 1 -5 -3 -0.5 -4.5zM420.5 527l2.5 2 0.5 1 -0.5 2.5 3 5.5 3.5 2.5 0 2 -1.5 2.5 0 4 -1 2.5 -2.5 0 -2 -2 0 -3 2.5 -2.5 -0.5 -4 -3 -1.5 -2 -2 0 -4.5 -1.5 -3.5zM493.5 528.5l1.5 -2 1.5 0 1.5 1.5 0 1 -1.5 1 -2 0zM419.5 527l-2 1.5 2 4 0 4.5 4.5 4.5 -1.5 3 0 5 0.5 1.5 5 2.5 2 -3.5 1.5 0 1.5 -1 -1 -1 -2.5 0 -1 -1 0 -3 1.5 -2.5 0 -1.5 -3.5 -2.5 -2.5 -4.5 0 -1.5 1.5 -1.5 2.5 0 1.5 -1.5 0 -1.5 -2.5 0 -2.5 1.5 -2.5 -1.5zM482 526.5l1 1.5 0 1.5 -1.5 1.5 -2.5 0.5 -2.5 3.5 -1.5 0 -1.5 -1 0 -2 3.5 -2 0.5 -2.5 1.5 -1.5zM527.5 524.5l-1 0.5 0 2 -1 1.5 -1.5 0 -2.5 -1.5 -2.5 0 -0.5 1 0.5 4.5 5 4 1.5 -0.5 0 -4.5 1 -2.5 4 2 -2 -1.5 -2 -3 0 -1.5zM441.5 524l2 0 1.5 1.5 0 1.5 1.5 3 -1.5 6.5 -1 1.5 -2 -0.5 0.5 -4.5 -0.5 -1 -5 -2.5 0 -1zM502.5 524l1.5 -0.5 1 2 -1.5 1 -1 -1zM499.5 527l-3 -3 -2 0 -2 2 -1 6 3.5 -0.5 -2 0 -1 -1.5 0.5 -3 1.5 -2 2.5 -0.5 3 3 0 2 -2 1 -0.5 -0.5 1 -1 0 -1.5 -1.5 -1.5 -1.5 0 -1.5 1.5 0.5 2.5 3.5 0.5 1.5 -0.5 1 -1zM512 523.5l-0.5 2 1 0.5 1 -0.5 0 -1zM470 522.5l0.5 2 2.5 1 2.5 3 0.5 -2 -1.5 -1.5 0 -3.5 -0.5 1.5 -2 1.5zM476 520l-0.5 3 0.5 1 1.5 0.5 0.5 -3zM436 520l-2 2 -0.5 5 1.5 0 3 -2 -0.5 -2.5zM518.5 525l-2.5 0 -1 -1 1.5 1.5 -1 1 -5 1.5 -1.5 2.5 -2 0.5 -1 -1 0 -1.5 1 -1 2.5 -0.5 0.5 -2.5 -1 2.5 -2.5 0.5 -1.5 -1.5 -0.5 -2.5 -2.5 -0.5 0 3 3.5 1.5 0 3.5 -2 1 -2 4 -4.5 1.5 -3 4 -4.5 1 -1.5 2.5 -4 3.5 -2 -0.5 -2 -2 -2 0 -5 2.5 -2 3 -2.5 0.5 -2 -1 -3 -4 -3 -1 -1 -1.5 4 -4.5 3 0.5 1.5 3 2 -1 3.5 0 6.5 1.5 5 -2.5 1 -1 0 -1.5 -3 -0.5 -1.5 -2.5 -1.5 -1 0 -1.5 4.5 -1 0 -7.5 1 -1.5 -0.5 -1.5 0.5 -2 1.5 -1 2.5 1 2.5 0 1.5 -3 -0.5 2 -2.5 1 -2 -1 -2.5 -2.5 0 -1 -1.5 3.5 -2.5 2 -2.5 0 -2.5 -2.5 7 8 0.5 1.5 -0.5 3 -1 1 -3 0.5 -1.5 3.5 -4 1 1 1 2.5 0 2 -1 4 3 -0.5 1.5 -3 0.5 -1.5 1 -10 -0.5 -2 -2.5 -3 -1 -1.5 -1.5 0.5 -1.5 1.5 1.5 3.5 0.5 2.5 3 1.5 0.5 5.5 -0.5 -0.5 -1 -8 -4 -1 -1 0 -2 2 -1.5 2 0 1 1 0.5 2.5 3.5 0 2.5 -3.5 3.5 -1 0 -3.5 -1 -1 -4 -0.5 -1 3.5 -1 1 -2 0 -1.5 -2.5 -4 -4 0 2 3.5 3 0 1 -1.5 1.5 -2.5 1 -1 1.5 0 2.5 -1 1 -1.5 0 -1.5 -1.5 -1.5 -3.5 -2.5 -2.5 -0.5 -1.5 0.5 -3 -0.5 2.5 0.5 2.5 -0.5 0.5 -1 -1.5 0.5 -2.5 -1 -2 -1 0 -1.5 1.5 -0.5 -0.5 0.5 -1 -1 2.5 -2 -0.5 -1 -2 -0.5 1 -0.5 -0.5 0.5 -2 -2.5 -3 0 1 2.5 2 -0.5 1 -3 -2.5 -0.5 -1.5 0.5 2.5 3 1.5 1 3 1 -0.5 2 0.5 2.5 -2.5 1.5 1 0.5 5.5 3 2.5 1.5 3.5 -1 2 -1.5 0.5 -3.5 -0.5 -4.5 4.5 -2.5 1.5 0 2 0 -1.5 7 -6 1.5 -0.5 3 0.5 1 2 -2.5 2.5 0 1.5 3.5 1.5 3.5 4 5.5 2 2 3.5 2 0.5 3 -3 1.5 -0.5 1.5 -2.5 -0.5 -1 3.5 -1.5 5 -6 4.5 -1 3 -4 4 -1 3 -4.5 6.5 4.5 0 1 -1.5 1.5 2 -0.5 0.5 2 -2.5 3.5 2.5 -3.5 0.5 -3.5 2.5 -2.5 1.5 -0.5 0.5 -1.5 -1.5 2 -4 2.5 -2 -2 -2.5 -1 -1 -2 2.5 -1 3.5 -3.5 2.5 -1 1.5 0 1 1.5 -0.5 -2.5zM438 512l-1 1 1 5 3 1.5 1 2 2.5 1.5 1 1.5 -0.5 0.5 -2.5 -1.5 -2 -3 -1.5 -0.5 -0.5 2.5 1.5 3 -4 3 0 1.5 1 1 3 0 2 2 -0.5 4 1 1.5 1.5 0 1.5 -3.5 0.5 1.5 -0.5 -3 1.5 -2.5 0 -2 -1.5 -1.5 -0.5 -2.5 0.5 -0.5 1 2.5 2 2 0 2 -2 3.5 2 -3 0.5 -2.5 -3 -3 -0.5 -2.5 -1.5 -0.5 -6 -6 0.5 -4zM434 508l0.5 3 -2 7 -4.5 6 -1.5 0.5 -2.5 -0.5 -2 -3 -2 -0.5 -1.5 0.5 0.5 3.5 -1.5 1.5 -3 1 -1 -1 2 -5 0 -3 -1 -1 1 3 -2.5 5.5 0 1.5 1.5 1 5.5 -3 3 0.5 5.5 -0.5 1.5 -1.5 0.5 -2 2.5 -3.5 1 -3.5 1.5 -1.5z"/></g>
<g fill="none" stroke="#000" stroke-width="3.8" stroke-linejoin="round" stroke-linecap="round">
<polygon points="317.3,195.6 933.3,195.6 933.3,185.8 943.4,185.8 946,201.3 950,203.9 957.6,205.6 966.4,208.9 975.2,205.6 985.3,206.4 992.9,210.2 996.7,215.2 1004.2,214.7 1010.6,219 1016.9,222.3 1025.7,217.8 1033.3,220.8 1045.9,220.8 1056,222.8 1062.3,223.3 1050.9,227.8 1038.3,233.4 1025.7,240.5 1015.6,248 1005.5,256.1 999.2,260.6 1010.6,258.1 1025.7,254.3 1030.2,256.1 1029.5,261.9 1035.3,260.6 1040.8,264.4 1045.9,262.7 1058.5,256.1 1068.6,253.1 1076.2,249.3 1083.7,243 1090,239.2 1100.1,238.7 1101.4,241.2 1095.1,244.2 1087.5,250.6 1083.7,256.9 1090,257.6 1097.6,256.1 1103.9,259.4 1110.2,264.4 1117.8,265.7 1124.1,267 1131.7,263.2 1141.8,260.6 1151.9,258.6 1163.2,258.1 1164.5,263.2 1169.5,265.7 1177.1,265.2 1178.3,270.7 1180.9,275.8 1185.9,278.8 1172,278.8 1164.5,280.3 1158.2,278.3 1150.6,278.3 1141.8,279.6 1134.2,282.1 1126.6,285.4 1123.6,287.1 1119.6,282.9 1115.8,282.3 1114.3,285.4 1110.2,292.4 1106.2,300.5 1102.1,306.6 1097.1,311.6 1093.1,318.7 1094.3,321.7 1099.4,318.7 1104.4,312.6 1109.5,304.6 1113.5,298.5 1117.5,294.5 1123.6,290.4 1118.5,298.5 1114.5,306.6 1110.5,314.6 1106.4,322.7 1103.4,330.8 1101.4,338.9 1098.9,351.5 1097.6,364.1 1098.9,376.7 1101.4,389.3 1105.2,396.9 1111.5,400.7 1121.6,396.9 1129.1,389.3 1134.2,376.7 1135.5,366.6 1131.7,354 1127.9,341.4 1127.9,331.3 1131.7,318.7 1136.7,308.6 1144.3,301 1149.3,298 1151.9,308.6 1149.8,313.6 1153.9,298.5 1161.9,292.2 1165.7,285.4 1170,283.4 1177.1,287.1 1187.2,290.9 1196,296 1199.8,304.8 1198.5,316.2 1199.8,323.7 1193.5,331.3 1187.2,337.6 1185.9,342.7 1191,346.4 1196,341.4 1202.3,335.1 1209.9,333.8 1214.9,338.9 1217.5,351.5 1218.7,364.1 1214.9,374.2 1209.9,378 1204.8,385.5 1199.8,393.1 1196,398.2 1202.3,403.2 1209.9,407 1220,405.7 1230.1,403.2 1240.2,399.4 1231.7,402.1 1245.1,396.1 1260.3,390.4 1272,385.3 1282.1,380.3 1290.5,375.2 1297.3,370.2 1295.6,361.8 1297.3,356 1305.7,354.4 1319.1,354.4 1329.2,356.7 1342.7,354.4 1351.1,350 1356.8,341.6 1354.5,335.5 1358.8,329.8 1366.2,323.1 1373,316.3 1381.4,309.6 1388.1,307.3 1389.1,307.6 1464.1,307.6 1466.5,300.9 1473.8,297.4 1479.4,296.2 1485,287.3 1491.7,280.5 1490.6,272.7 1495.1,264.8 1499.6,255.9 1506.3,248 1513,239.1 1517.5,239.1 1518.7,244.7 1525.4,243.5 1532.1,241.3 1538.8,241.3 1544.4,245.8 1547.8,250.3 1548.3,264.8 1548.3,286.1 1554.5,290.6 1555.7,300.7 1562.4,304.1 1563.9,311.9 1559,316.4 1551.2,318.7 1543.3,323.1 1536.6,325.4 1529.9,324.3 1524.3,320.9 1520.9,327.6 1514.2,334.3 1506.3,338.8 1498.5,342.2 1491.7,345.6 1486.1,352.3 1481.7,360.1 1478.7,365.7 1476.1,372.5 1480.1,374.7 1474.9,380.3 1474.9,379.9 1479.9,386.7 1476.6,389 1474.9,394.4 1481.6,399.1 1487.7,404.5 1498.4,401.8 1499.1,392.4 1494.4,389 1496.4,398.4 1488.3,401.8 1480.8,401.9 1474.9,401 1468.2,402.7 1461.5,405.2 1454.8,406.9 1443,409.4 1431.2,411.1 1421.1,413.6 1412.4,417.3 1409.3,430.5 1408.5,435.5 1407.7,443.9 1406,450.6 1403.4,457.4 1399.2,464.1 1395,469.2 1391.7,474.2 1388.3,477.6 1384.1,474.2 1379.9,470.8 1378.2,466.6 1375.7,462.4 1374.9,457.4 1374,454 1375.7,462.4 1377.4,470.8 1380.7,477.6 1383.3,484.3 1384.1,489.3 1383.3,497.7 1380.7,506.2 1376.5,512.9 1372.3,519.6 1369,526.3 1367.3,530 1382.9,500 1379.5,506.7 1374.5,515.1 1367.7,525.2 1364.4,531.1 1366.1,537 1367.7,544.6 1369.4,550.5 1372,557.2 1374.1,563.9 1370.3,570.6 1364.4,574.9 1357.7,579.1 1354.3,587.5 1349.2,594.2 1340.8,598.4 1332.4,601.8 1325.7,607.7 1321.5,613.5 1318.1,618.6 1307.2,618.6 1300.5,624.5 1294.6,630.4 1290.4,636.2 1287,643 1278.6,650 1269.1,649.2 1260.7,655.9 1254,661 1249.6,669.4 1245.6,679.5 1242.2,689.6 1239.5,699.7 1239.5,699.7 1241.5,709.7 1244.9,723.2 1248.9,736.7 1253,750.1 1257.4,763.6 1260.7,777 1265.8,793.9 1269.1,807.3 1271.8,820.8 1271.8,834.2 1269.1,847.7 1265.8,856.1 1259,859.5 1250.6,861.1 1247.3,857.8 1242.2,847.7 1233.8,839.3 1228.8,827.5 1224.7,815.7 1218.7,807.3 1215.3,797.2 1210.3,785.4 1211.3,775.3 1212.6,763.6 1208.6,751.8 1201.9,743.4 1195.1,733.3 1188.4,726.6 1180,724.9 1171.6,729.9 1161.5,736 1153.1,735 1151.4,726.6 1144.7,721.5 1137.9,716.5 1127.8,714.8 1117.7,716.5 1107.7,719.2 1099.2,716.5 1095.9,709.1 1093.5,717.1 1087.5,719.2 1087.9,716.3 1079.9,715.2 1073.2,715.2 1067.8,716.3 1063.7,718.3 1061,720.3 1066.4,723 1069.1,725.7 1066.4,731.1 1061,735.1 1058.4,739.2 1061,743.2 1066.4,746.6 1071.1,749.3 1072.5,752.6 1069.1,756 1063.7,757.3 1061.7,754.6 1065.1,751.3 1061,748.6 1055.7,745.2 1051.6,741.6 1047.6,742.5 1049.2,747.2 1046.3,751.3 1042.2,747.9 1036.8,746.2 1034.1,749.3 1031.5,753.7 1026.1,750.2 1019.4,744.8 1015.3,739.4 1012.6,734.1 1005.9,731.1 1000.8,734.1 999.2,738.1 991.1,739.2 984.4,735.8 977.7,732.2 966.9,731.9 960.2,735.1 959.5,736 949.4,740 939.3,745.1 929.2,753.5 919.1,760.2 907.4,766.9 897.3,773.7 888.9,782.1 883.8,790.5 881.5,800.6 882.1,810.7 885.5,820.8 888.9,830.9 889.5,840.3 883.8,842.6 875.4,839.3 865.3,835.9 855.2,831.5 846.8,827.5 843.4,817.4 836.7,807.3 835,795.5 828.3,788.8 821.6,780.4 816.5,772 811.5,761.9 806.4,751.8 801.4,743.4 794.7,736 784.6,733.3 774.5,732.6 766.1,735 762.7,740 758.3,750.1 754.3,756.2 745.9,751.8 735.8,743.4 725.7,735 720.6,726.6 717.3,716.5 710.6,708.1 700.5,699 692.1,689.6 683.6,680.1 678.6,672.7 678.8,672.2 676.1,676.6 643.4,676.6 643.4,690.1 623.3,690.1 577.8,690.1 495.4,655.4 497.3,656.5 497.3,650.8 444.4,655.9 444.4,655.9 442.4,651.8 436.7,640.7 428.3,628.9 418.2,621.5 414.8,617.2 408.1,612.1 398,604.7 384.6,601.4 374.5,602 366.1,598.7 366.1,588.6 359.3,578.5 350.9,568.4 344.2,558.3 336.8,546.5 338.1,538.1 334.1,528 325.7,517.9 317.3,504.5 312.2,498.4 308.9,489.3 300.5,479.2 295.4,469.2 295.4,457.4 290.4,447.3 283.6,442.2 281,435.5 283.6,423.7 286.3,412 287.7,400.2 283.6,390.8 283.6,390.7 282.3,385.3 281,376.9 277.6,368.5 281,355 283.6,341.6 287.7,321.4 290.4,304.6 292.4,284.4 291,270.9 289.7,263.5 292.4,258.8 293.7,252.8 287,250.7 284.7,241.3 280.3,230.6 274.9,220.5 274.2,213.1 273.5,212.5 280.2,213.1 288,215.9 297,218.1 309.3,220.9 315,222.6 317.2,224.9 315,229.3 311,235 308.4,240.6 309.3,245 311.6,249.5 316.1,251.2 322.8,247.3 327.3,242.8 328.4,236.1 328.4,228.2 330.4,223.2 327.1,218.1 324.8,212.5 324.5,206.4 321.1,202.4 317.8,200.2 316.6,195.7" stroke-width="4.2"/>
<polyline points="291,270.9 300.5,272.6 312.2,277.7 317.3,288.4 327.4,291.8 340.8,287.7 354.3,289.4 366.1,287.1 384.6,282.7 403.1,278.3 445.8,278.3"/>
<polyline points="445.1,195.6 445.1,278.3 451.9,282.7 456.9,289.4 451.9,299.5 445.1,313 441.8,323.1 442.4,328.1 448.5,331.5 445.8,338.2 445.1,390.7"/>
<polyline points="467,195.6 467,223.8 472,232.2 474.7,239 482.1,242.3 492.2,254.1 497.3,260.8 505.7,261.5 503,274.3 500.6,286.1 507.4,291.8 514.1,288.4 519.1,297.8 523.2,306.2 529.2,311.3 534.3,318 537.6,324.8 546,321.4 554.5,319.7 566.2,319.7 573.6,314.7 578,319.7 578,419.6"/>
<polyline points="283.6,390.7 578,390.7"/>
<polyline points="578,307.3 735.1,307.3"/>
<polyline points="578,419.6 779.5,419.6"/>
<polyline points="377.8,391.8 377.8,474.2 500.6,585.9"/>
<polyline points="511.7,391.8 511.7,532.1 511.7,556.6 505.7,558.3 498.9,557.6 497.3,563.3 497.3,568.4 498.3,578.5 500.6,588.6 505.7,598.7 508.4,608.8 504,615.5 500.6,625.6 497.3,634 498.3,642.4 500.6,647.5 497.3,650.8"/>
<polyline points="622.8,420.4 623.3,690.1"/>
<polyline points="511.7,532.1 946.1,531.2"/>
<polyline points="735.1,195.6 735.1,419.6"/>
<polyline points="735.1,280.3 900.6,280.3"/>
<polyline points="735.1,363.8 858.6,363.8 870.4,370.8 882.1,367.8 892.2,370.2 900.6,374.5 903,372.9"/>
<polyline points="889.5,196.9 890.5,217.1 895.6,230.6 898.9,247.4 900.6,264.2 902.3,280.3 903,286.1 897.3,289.4 906.3,297.8 906.7,350 901.6,353.3 904.7,361.8 901.6,368.5 903,373.5 909,385.3 914.1,402.1 919.1,418.9 922.5,430.7 930.9,445.9 939.3,456 941,470.1"/>
<polyline points="906.7,350 1021.7,350"/>
<polyline points="781,418.5 781,531.2"/>
<polyline points="781,447.1 933.3,447.1"/>
<polyline points="914.8,400 918.2,413.5 921.6,429.6 924.9,438.7 933.3,448.8 941.1,453.2 938.4,460.6 944.4,469 946.1,531.2 946.1,545.3 947.8,545.3 951.2,624.7 958.6,626.1 959.3,642.2"/>
<polyline points="921.6,430.3 1014.1,430.3 1019.1,435.3 1017.5,440.4"/>
<polyline points="757.4,545.3 826.7,545.3 826.7,600.2 834.1,603.5 844.2,606.9 850.9,611.9 861,611.3 869.4,615.3 877.8,620.4 887.9,618.7 898,622.7 908.1,623.7 918.2,618.7 928.3,617 938.4,618.7 946.8,622.7 951.9,626.1"/>
<polyline points="757.4,531.2 756.8,671.6 678.8,672.2"/>
<polyline points="1039.3,380 1046.1,385 1046.9,391.4 1041.8,398.9 1038,404 1027.9,406.5 1024.9,412.8 1026.7,420.4 1021.6,426.7 1017.3,431.7 1016.6,440.6 1020.4,449.4 1026.7,458.2 1033,467 1039.3,474.6 1043.1,480.9 1044.3,487.2 1041.8,494.8 1046.9,501.1 1054.4,507.4 1059.5,513.7 1062,521.3 1063.3,527.6 1068.3,531.4 1069.6,537.7 1067,542.7 1060.7,545.3 1057,556.6 1053.2,566.7 1048.1,571.8 1046.9,579.3 1044.3,584.4 1041.8,588.2 1039.3,594.5 1036.8,605.1"/>
<polyline points="980,431.7 1017.3,431.7"/>
<polyline points="1067,542.7 1069.6,533.9 1071.3,528.9 1077.1,525.8 1082.2,528.9 1084.7,521.3 1089.8,517.5 1091,511.2 1092.3,504.9 1099.8,503.6 1107.4,506.2 1113.7,503.6 1120,504.9 1125.1,501.1 1128.9,497.3 1133.9,501.1 1137.7,496.1 1144,494.8 1147.8,489.8 1154.1,486 1156.6,482.2 1162.9,480.9 1166,477.1 1165.5,472.9 1174.3,474.6 1180.6,479.7 1186.9,483.4 1194.5,484 1200.8,486 1207.1,483.4 1210.9,487.2 1215.9,491 1222.2,483.4 1228.5,478.4 1232.3,472.1 1239.9,467 1247.5,460.7 1253.8,453.2 1257.5,443.1 1258.8,430.5 1260.6,425.4 1262.6,421.6"/>
<polyline points="1262.6,393.9 1262.6,454.4 1280,454.4"/>
<polyline points="1215.9,491 1218.4,498.6 1222.2,506.2 1226,513.7 1229.8,521.3 1232.3,525.1 1239.9,526.3 1247.5,523.8 1255,522.6 1262.6,518.8 1267.6,511.2 1272.7,504.9 1276.5,496.1 1280,488.5"/>
<polyline points="1232.3,525.1 1226,522.6 1218.4,528.9 1210.9,533.9 1204.6,539 1199.5,542.7"/>
<polyline points="980,545.3 1058.2,545.3 1046.9,547.8 1049.4,552.8 1041.1,559.4 1055.7,559.4"/>
<polyline points="1063.3,545.3 1092.3,545.3 1092.3,540.5 1199.5,542.7 1232.3,543.5 1280,544"/>
<polyline points="1232.3,544 1228.5,549.1 1219.7,554.1 1212.1,559.1 1204.6,564.2 1194.5,569.2 1184.4,575.5 1178.1,580.6 1176.8,586.9"/>
<polyline points="1041.8,587.4 1091,586.9 1147.8,586.9 1176.8,586.9"/>
<polyline points="1105.4,398.9 1105.4,463.3 1103.6,473.4 1101.1,483.4 1097.3,491 1093.5,498.6 1092.3,504.9"/>
<polyline points="1165.5,397.7 1165.5,472.9"/>
<polyline points="1107.4,401.4 1126.3,397.7 1166.7,397.7 1197,398.9 1208.3,404"/>
<polyline points="1044.2,586.5 1040.4,591.5 1036.6,600.4 1031.5,607.9 1027.8,615.5 1025.2,623.1 1022.7,629.4 1022.2,635.7 1024,643.3 1025.2,650.8 1026.5,660.9 1025.2,668.5 1021.4,676.1 1017.7,683.6 1015.1,691.2 1013.9,698.8 1054.2,698.8 1056.8,706.3 1058,713.9 1059.3,721.5 1060.6,725.3"/>
<polyline points="1000,643.3 1023.2,643.3"/>
<polyline points="1044.2,586.5 1201.9,587"/>
<polyline points="1090.3,587.3 1087,660.9 1084.5,701.3 1085.8,719"/>
<polyline points="1148.9,587.3 1152.7,610.5 1157.7,643.3 1161.5,660.9 1159,671 1158.5,681.1 1160.2,691.2 1161.5,705.8 1224.6,712.7 1225.8,717.7 1228.3,713.9 1229.6,706.8 1235.9,706.3 1241,708.9"/>
<polyline points="1107.2,715.2 1106,711.4 1104.7,706.3 1102.2,698.3 1160.2,698.3"/>
<polyline points="1252.3,667.2 1248.5,660.9 1243.5,652.1 1238.4,643.3 1232.1,634.4 1227.1,625.6 1219.5,616.8 1211.9,607.9 1204.4,600.4 1199.3,592.8 1206.9,586.5 1219.5,582.7 1248.5,582.7 1254.8,589 1259.9,592.3 1281.3,592.3 1300,611.7"/>
<polyline points="1300,611.7 1281.1,592.5 1305.5,618.6"/>
<polyline points="1262,454.5 1369.6,454.5"/>
<polyline points="1284.7,454.5 1284.7,469.6 1290.6,464.6 1296.4,460.4 1299.8,457.8 1304,460 1309.1,458.2 1313.6,460.9 1317.5,457.7 1321.7,460 1323.4,465.4 1323.9,469.6 1329.2,472.1 1334.3,475.5 1339.3,478 1342.7,480.6 1339.3,484.8 1335.1,487.3 1333.4,490.6 1336.8,494 1341.9,492.3 1346.1,495.7 1351.1,499.1 1355.3,502.4"/>
<polyline points="1323.9,469.6 1317.5,467.4 1310.7,465.1 1309.1,470.5 1304,475.5 1299,478.9 1293.9,484.8 1289.7,489 1287.2,491.5 1282.1,487.3 1279.6,489.3 1277.9,494 1275.4,499.9 1272.1,505.8 1267.8,511.7 1265.3,516.7 1260.3,519.2 1253.5,520.9 1246.8,522.6 1240.1,523.4 1235,524.3 1230,520.9"/>
<polyline points="1230,544.5 1367.9,544.5"/>
<polyline points="1376.3,452 1373,453.6 1369.6,456.2 1369.6,492.3 1381.4,491.5"/>
<polyline points="1364.6,514.5 1374.7,510.8"/>
<polyline points="1300,391.8 1378.2,391.8 1382.4,396.3 1384.1,401.9 1387.5,406.1 1390.8,409.4 1387.5,412 1384.9,416.2 1382.4,420.4 1380.7,426.3 1382.4,430.5 1385.8,433.8 1389.2,438.9 1391.7,443.1 1387.5,446.4 1382.4,449.8 1377.4,452.3 1374,454"/>
<polyline points="1390.8,409.4 1411.9,420.4"/>
<polyline points="1420.3,380 1419.4,390.1 1417.7,413.6 1413,417"/>
<polyline points="1419.8,389.8 1468.2,389.8 1469.9,396.8 1471.9,401.9"/>
<polyline points="1457.3,389.8 1457.3,405.2"/>
<polyline points="1421.8,307.6 1420.4,321.1 1418.4,334.5 1420.4,348 1421.8,358.1 1424.4,371.5 1421.1,391"/>
<polyline points="1464.1,304.3 1458.1,316 1449.7,331.2 1444.6,344.6 1441.3,358.1 1439.6,369.8"/>
<polyline points="1472.2,299.2 1473.2,317.7 1474.9,341.3 1476.6,358.1 1478.3,364.8"/>
<polyline points="1424.4,371.5 1468.2,370.2 1476.6,365.5"/>
<polyline points="999.2,260.6 997.9,265.7 997.9,275.8 990.4,282.1 984.1,289.7 987.8,298.5 986.6,308.6 987.8,314.9 996.7,321.2 1006.8,328.8 1015.6,336.3 1021.9,342.7 1023.2,348.5 1025.7,356.5 1023.2,364.1 1025.7,371.7 1034.5,378 1040.8,384.3"/>
<polyline points="1034.5,378 1098.9,378"/>
<polyline points="1045.4,263.7 1056,270.2 1068.6,274.5 1081.2,277 1090,280.3 1095.1,287.1 1098.9,293.4 1101.4,301 1103.4,306.6"/>
<polyline points="959.3,642.2 1023.2,643.3"/>
<polyline points="959.5,642.5 959.5,662.6 961.2,672.7 966.2,686.2 969.6,696.3 968.9,706.4 964.6,716.5 966.2,726.6 967.9,735"/>
<polyline points="947.8,545.3 1058.2,545.3"/>
<polyline points="1300,391.8 1278.8,391.4 1278.8,384.6"/>
<polyline points="1402.6,433.5 1411,429.1 1421.1,424.6 1434.6,419.5 1446.3,414.5 1449.7,416.2 1443,419.5 1451.4,417.8 1456.4,417.3 1448,422.1 1437.9,425.4 1424.5,429.6 1411,433 1404.3,434.7 1402.6,433.5"/>
<polyline points="1043.6,716.3 1050.3,717 1055.7,720.3 1054.3,724.4 1047.6,725.1 1040.9,724.4 1038.9,720.3 1043.6,716.3"/>
</g>
<polyline points="1362.9,459.5 1358.7,466.3 1355.3,472.1 1354.1,478.9 1355.3,485.6 1357.5,492.3 1359.2,499.1 1360.9,505.8 1362.9,514.2 1364.6,522.6 1364.2,529.3" fill="none" stroke="#000" stroke-width="5" stroke-linejoin="round" stroke-linecap="round"/>
<polyline points="1365.4,462.1 1363.2,470.5 1362.5,478.9 1364.6,487.3 1366.6,494 1364.9,500.7 1367.1,507.5 1364.9,514.2" fill="none" stroke="#000" stroke-width="4.5" stroke-linejoin="round" stroke-linecap="round"/>
<polyline points="1355.3,502.4 1350.3,506.6 1344.4,503.3 1341,502.1" fill="none" stroke="#000" stroke-width="5" stroke-linejoin="round" stroke-linecap="round"/>
<polyline points="1357.8,511.7 1351.1,509.2 1346.1,505.8" fill="none" stroke="#000" stroke-width="5" stroke-linejoin="round" stroke-linecap="round"/>
<polyline points="1358.7,524.3 1351.1,520.9 1345.2,517.6" fill="none" stroke="#000" stroke-width="5" stroke-linejoin="round" stroke-linecap="round"/>
<polyline points="1357.8,531 1350.3,528.5 1341.9,525.1" fill="none" stroke="#000" stroke-width="5" stroke-linejoin="round" stroke-linecap="round"/>
<polyline points="1347.7,468.8 1352.8,475.5 1351.1,482.2 1354.5,487.3" fill="none" stroke="#000" stroke-width="4" stroke-linejoin="round" stroke-linecap="round"/>
<polyline points="1346.7,550.5 1354.3,555.5 1364.4,557.2 1367.7,562.2 1361,567.3" fill="none" stroke="#000" stroke-width="5" stroke-linejoin="round" stroke-linecap="round"/>
<polyline points="1350.9,558.9 1359.3,562.6 1366.1,568.1" fill="none" stroke="#000" stroke-width="5" stroke-linejoin="round" stroke-linecap="round"/>
<polyline points="1340.8,574 1350.9,574 1357.7,579.1 1354.3,584.1" fill="none" stroke="#000" stroke-width="5" stroke-linejoin="round" stroke-linecap="round"/>
<polyline points="1338.3,583.3 1347.6,587.5 1354.3,588.3" fill="none" stroke="#000" stroke-width="5" stroke-linejoin="round" stroke-linecap="round"/>
<polyline points="1330.7,595 1337.5,594.2 1344.2,591.7" fill="none" stroke="#000" stroke-width="4.5" stroke-linejoin="round" stroke-linecap="round"/>
<polyline points="1341.7,503.4 1350.9,510.1 1357.7,515.1" fill="none" stroke="#000" stroke-width="5" stroke-linejoin="round" stroke-linecap="round"/>
<polyline points="1344.2,516.8 1352.6,521.9 1359.3,525.2" fill="none" stroke="#000" stroke-width="5" stroke-linejoin="round" stroke-linecap="round"/>
<polyline points="1341.7,525.2 1350.9,530.3 1357.7,533.6" fill="none" stroke="#000" stroke-width="5" stroke-linejoin="round" stroke-linecap="round"/>
<polyline points="321.1,228.2 321.1,236.1 320,242.8 316.1,246.2" fill="none" stroke="#000" stroke-width="6" stroke-linejoin="round" stroke-linecap="round"/>
<polyline points="316.1,232.7 313.8,239.4 315,245" fill="none" stroke="#000" stroke-width="6" stroke-linejoin="round" stroke-linecap="round"/>
<polyline points="320.6,208 321.7,215.9 324.5,222.6" fill="none" stroke="#000" stroke-width="5" stroke-linejoin="round" stroke-linecap="round"/>
<polyline points="310.5,206.7 315,205.2 318.9,206.4" fill="none" stroke="#000" stroke-width="6" stroke-linejoin="round" stroke-linecap="round"/>
<polyline points="312.7,210.1 316.6,211.6" fill="none" stroke="#000" stroke-width="6" stroke-linejoin="round" stroke-linecap="round"/>
<polyline points="322.3,498.4 326.7,505.1 324.7,511.9 330.7,517.9 334.1,514.6" fill="none" stroke="#000" stroke-width="6" stroke-linejoin="round" stroke-linecap="round"/>
<polyline points="1479.9,409.2 1486.7,407.8" fill="none" stroke="#000" stroke-width="5" stroke-linejoin="round" stroke-linecap="round"/>
<polyline points="1493.4,411.2 1498.4,410.2" fill="none" stroke="#000" stroke-width="5" stroke-linejoin="round" stroke-linecap="round"/>
<polyline points="1211.3,785.4 1215.3,788.8" fill="none" stroke="#000" stroke-width="6" stroke-linejoin="round" stroke-linecap="round"/>
<polyline points="1247.3,859.5 1251.6,861.1" fill="none" stroke="#000" stroke-width="5" stroke-linejoin="round" stroke-linecap="round"/>
<polyline points="882,787.1 886.4,784.2 883.8,791.9" fill="none" stroke="#000" stroke-width="6" stroke-linejoin="round" stroke-linecap="round"/>
<polyline points="875.4,798.8 880.5,801.7" fill="none" stroke="#000" stroke-width="5" stroke-linejoin="round" stroke-linecap="round"/>
<polyline points="899.5,764.5 906,762.8 911.1,761.3" fill="none" stroke="#000" stroke-width="5" stroke-linejoin="round" stroke-linecap="round"/></g>
</svg>
<div id="lt">Relative pop. size</div>
<div class="sw" style="top:422px;background:#1b74cf"></div><div class="lb" style="top:422px">0-10</div>
<div class="sw" style="top:447.5px;background:#4a8f9e"></div><div class="lb" style="top:447.5px">10-20</div>
<div class="sw" style="top:473px;background:#7db073"></div><div class="lb" style="top:473px">20-30</div>
<div class="sw" style="top:498.5px;background:#b1cf45"></div><div class="lb" style="top:498.5px">30-40</div>
<div class="sw" style="top:524px;background:#e6ee1c"></div><div class="lb" style="top:524px">40-50</div>
<div class="sw" style="top:549.5px;background:#fae100"></div><div class="lb" style="top:549.5px">50-60</div>
<div class="sw" style="top:575px;background:#f0a800"></div><div class="lb" style="top:575px">60-70</div>
<div class="sw" style="top:600.5px;background:#e67300"></div><div class="lb" style="top:600.5px">70-80</div>
<div class="sw" style="top:626px;background:#dc3900"></div><div class="lb" style="top:626px">80-90</div>
<div class="sw" style="top:651.5px;background:#cc0000"></div><div class="lb" style="top:651.5px">90-100</div>
</body></html>
